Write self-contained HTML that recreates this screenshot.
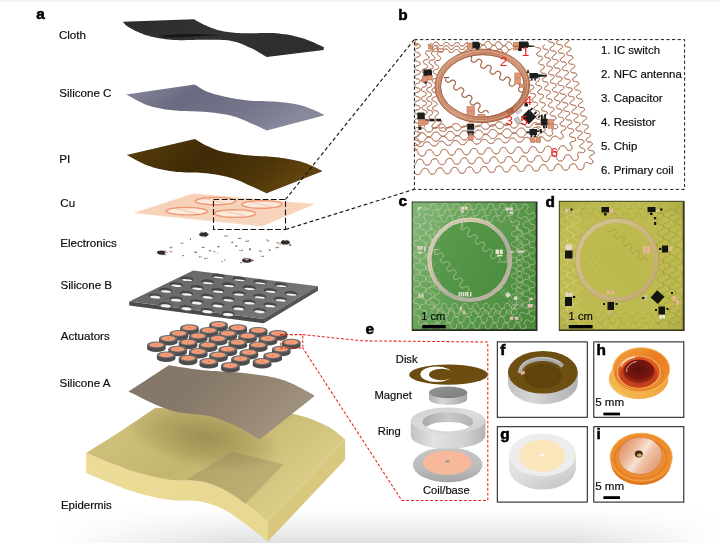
<!DOCTYPE html>
<html><head><meta charset="utf-8"><title>Figure</title>
<style>
html,body{margin:0;padding:0;background:#fff;}
body{width:719px;height:543px;overflow:hidden;font-family:"Liberation Sans",sans-serif;}
svg{display:block;will-change:transform;transform:translateZ(0);}
text{font-family:"Liberation Sans",sans-serif;}
.l{font-size:11.6px;fill:#0c0c0c;stroke:#0c0c0c;stroke-width:0.18px;}
.g{font-size:11.45px;}
.p{font-size:15.4px;font-weight:bold;fill:#000;stroke:#000;stroke-width:0.55px;}
.r{font-size:13.6px;fill:#f01818;}
</style></head><body>
<svg width="719" height="543" viewBox="0 0 719 543">
<defs>
<linearGradient id="gBot" x1="0" y1="0" x2="0" y2="1"><stop offset="0" stop-color="#fff"/><stop offset="0.4" stop-color="#f5f5f5"/><stop offset="1" stop-color="#e1e1e1"/></linearGradient>
<linearGradient id="gBotM" x1="0" y1="0" x2="1" y2="0"><stop offset="0" stop-color="#fff" stop-opacity="1"/><stop offset="0.08" stop-color="#fff" stop-opacity="1"/><stop offset="0.32" stop-color="#fff" stop-opacity="0"/><stop offset="0.8" stop-color="#fff" stop-opacity="0"/><stop offset="1" stop-color="#fff" stop-opacity="1"/></linearGradient>
<linearGradient id="gCloth" x1="0" y1="0" x2="1" y2="0.3"><stop offset="0" stop-color="#2b2b2b"/><stop offset="0.5" stop-color="#333"/><stop offset="1" stop-color="#2e2e2e"/></linearGradient>
<linearGradient id="gSiC" x1="0" y1="0" x2="1" y2="0.35"><stop offset="0" stop-color="#8b8b9f"/><stop offset="0.35" stop-color="#6a6a80"/><stop offset="0.7" stop-color="#74748a"/><stop offset="1" stop-color="#89899d"/></linearGradient>
<linearGradient id="gPI" x1="0" y1="0" x2="1" y2="0.35"><stop offset="0" stop-color="#5c400d"/><stop offset="0.45" stop-color="#3f2b06"/><stop offset="0.75" stop-color="#4a3309"/><stop offset="1" stop-color="#60430e"/></linearGradient>
<linearGradient id="gSiB" x1="0" y1="0" x2="1" y2="0.4"><stop offset="0" stop-color="#646464"/><stop offset="1" stop-color="#757575"/></linearGradient>
<linearGradient id="gSiA" x1="0" y1="0" x2="1" y2="0.4"><stop offset="0" stop-color="#83756a"/><stop offset="0.4" stop-color="#867869"/><stop offset="0.7" stop-color="#92846f"/><stop offset="1" stop-color="#a09280"/></linearGradient>
<linearGradient id="gEpT" x1="0" y1="0" x2="1" y2="0.5"><stop offset="0" stop-color="#d3c57f"/><stop offset="0.5" stop-color="#c4b56e"/><stop offset="1" stop-color="#dccf8a"/></linearGradient>
<linearGradient id="gEpS" x1="0" y1="0" x2="1" y2="0"><stop offset="0" stop-color="#ecdc98"/><stop offset="1" stop-color="#e8d78f"/></linearGradient>
<radialGradient id="gSh" cx="0.5" cy="0.5" r="0.5"><stop offset="0" stop-color="#857740" stop-opacity="0.6"/><stop offset="0.6" stop-color="#857740" stop-opacity="0.3"/><stop offset="1" stop-color="#857740" stop-opacity="0"/></radialGradient>
<linearGradient id="gRing" x1="0" y1="0" x2="1" y2="1"><stop offset="0" stop-color="#dba283"/><stop offset="0.28" stop-color="#bd7b5a"/><stop offset="0.55" stop-color="#d09474"/><stop offset="0.8" stop-color="#b57050"/><stop offset="1" stop-color="#c48262"/></linearGradient>
<linearGradient id="gC" x1="0" y1="0.25" x2="1" y2="0.75"><stop offset="0" stop-color="#7fb474"/><stop offset="0.3" stop-color="#66a459"/><stop offset="0.7" stop-color="#559548"/><stop offset="1" stop-color="#4a8a3d"/></linearGradient>
<linearGradient id="gRc" x1="0" y1="0" x2="1" y2="1"><stop offset="0" stop-color="#d6d2c4"/><stop offset="0.3" stop-color="#dccbb0"/><stop offset="0.6" stop-color="#b4b0a2"/><stop offset="1" stop-color="#c9b8a8"/></linearGradient>
<radialGradient id="gD" cx="0.5" cy="0.5" r="0.75"><stop offset="0" stop-color="#bbb84e"/><stop offset="0.7" stop-color="#bebb50"/><stop offset="1" stop-color="#a9a644"/></radialGradient>
<linearGradient id="gRd" x1="0" y1="0" x2="1" y2="1"><stop offset="0" stop-color="#d6c292"/><stop offset="0.5" stop-color="#ccb683"/><stop offset="1" stop-color="#c2a870"/></linearGradient>
<linearGradient id="gBase" x1="0" y1="0" x2="0" y2="1"><stop offset="0" stop-color="#c6c6c6"/><stop offset="0.6" stop-color="#bcbcbc"/><stop offset="1" stop-color="#a6a6a6"/></linearGradient>
<linearGradient id="gRingS" x1="0" y1="0" x2="1" y2="0"><stop offset="0" stop-color="#c2c2c2"/><stop offset="0.3" stop-color="#e2e2e2"/><stop offset="0.7" stop-color="#d2d2d2"/><stop offset="1" stop-color="#b4b4b4"/></linearGradient>
<linearGradient id="gRingT" x1="0" y1="0" x2="1" y2="1"><stop offset="0" stop-color="#d0d0d0"/><stop offset="0.5" stop-color="#dcdcdc"/><stop offset="1" stop-color="#cecece"/></linearGradient>
<linearGradient id="gRingI" x1="0" y1="0" x2="1" y2="0"><stop offset="0" stop-color="#a9a9a9"/><stop offset="0.5" stop-color="#c9c9c9"/><stop offset="1" stop-color="#b2b2b2"/></linearGradient>
<linearGradient id="gMagS" x1="0" y1="0" x2="1" y2="0"><stop offset="0" stop-color="#b0b0b0"/><stop offset="0.35" stop-color="#d6d6d6"/><stop offset="1" stop-color="#a6a6a6"/></linearGradient>
<linearGradient id="gMagT" x1="0" y1="0" x2="1" y2="1"><stop offset="0" stop-color="#949494"/><stop offset="1" stop-color="#7e7e7e"/></linearGradient>
<linearGradient id="gFs" x1="0" y1="0" x2="1" y2="0"><stop offset="0" stop-color="#c2c2c2"/><stop offset="0.35" stop-color="#d6d6d6"/><stop offset="1" stop-color="#b0b0b0"/></linearGradient>
<linearGradient id="gGs" x1="0" y1="0" x2="0.8" y2="1"><stop offset="0" stop-color="#e6e6e6"/><stop offset="0.5" stop-color="#dedede"/><stop offset="1" stop-color="#c4c4c4"/></linearGradient>
<linearGradient id="gHf" x1="0" y1="1" x2="1" y2="0"><stop offset="0" stop-color="#fae3a0"/><stop offset="0.22" stop-color="#f4b54e"/><stop offset="1" stop-color="#ee9632"/></linearGradient>
<linearGradient id="gHo" x1="0" y1="0" x2="1" y2="1"><stop offset="0" stop-color="#f2a040"/><stop offset="0.5" stop-color="#ea7d1e"/><stop offset="1" stop-color="#ef9632"/></linearGradient>
<radialGradient id="gHc" cx="0.5" cy="0.4" r="0.6"><stop offset="0" stop-color="#5a0f0c"/><stop offset="0.7" stop-color="#7c1710"/><stop offset="1" stop-color="#a52c18"/></radialGradient>
<linearGradient id="gI" x1="0" y1="0.2" x2="1" y2="0.8"><stop offset="0" stop-color="#dd8c5c"/><stop offset="0.3" stop-color="#ecb697"/><stop offset="0.5" stop-color="#f8e2d4"/><stop offset="0.62" stop-color="#efc3a8"/><stop offset="1" stop-color="#de9468"/></linearGradient>
</defs>
<rect x="0" y="0" width="719" height="1.6" fill="#f1f1f1"/>
<rect x="0" y="508" width="719" height="35" fill="url(#gBot)"/>
<rect x="0" y="508" width="719" height="35" fill="url(#gBotM)"/>
<path d="M122.8 21.8 L193.8 19.2 L193.8 19.2 L194.5 19.6 L195.4 20.1 L196.4 20.7 L197.6 21.3 L198.9 22.1 L200.2 22.8 L201.7 23.5 L203.1 24.3 L204.5 25 L206 25.6 L207.4 26.2 L208.8 26.8 L210.3 27.4 L211.8 28 L213.3 28.6 L214.9 29.1 L216.6 29.7 L218.3 30.2 L220.1 30.6 L222 31 L223.9 31.4 L225.9 31.7 L227.9 32 L230 32.3 L232.2 32.5 L234.4 32.7 L236.7 32.9 L239.2 33 L241.7 33.2 L244.4 33.3 L247.2 33.3 L250.2 33.3 L253.5 33.3 L256.8 33.2 L260.2 33.1 L263.6 33 L266.9 33 L270.2 33 L273.4 33.1 L276.3 33.3 L279.2 33.5 L281.9 33.9 L284.6 34.2 L287.2 34.6 L289.8 35.1 L292.3 35.6 L294.7 36.2 L297.2 36.8 L299.6 37.4 L301.9 38.1 L304.4 38.8 L306.9 39.7 L309.4 40.7 L312 41.8 L314.4 42.8 L316.7 43.9 L318.9 44.9 L320.8 45.7 L322.4 46.5 L323.7 47 L323.7 49.9 L266.7 56.9 L266.7 56.9 L265.8 56.4 L264.6 55.7 L263.2 54.9 L261.7 53.9 L260 52.9 L258.2 51.9 L256.3 50.8 L254.4 49.8 L252.6 48.8 L250.8 48 L249 47.2 L247.2 46.4 L245.4 45.6 L243.6 44.8 L241.8 44 L239.9 43.3 L237.9 42.6 L235.9 42 L233.8 41.4 L231.6 40.9 L229.3 40.6 L227 40.3 L224.6 40.1 L222.1 39.9 L219.6 39.8 L217 39.8 L214.3 39.8 L211.6 39.7 L208.8 39.7 L206 39.7 L203 39.7 L199.9 39.7 L196.6 39.8 L193.3 39.9 L190 40 L186.6 40.1 L183.3 40.2 L180.1 40.2 L176.9 40.1 L174 40 L171.1 39.8 L168.3 39.5 L165.6 39.2 L163 38.8 L160.4 38.4 L157.9 38 L155.4 37.5 L153 37 L150.7 36.4 L148.4 35.8 L146.2 35.2 L143.9 34.4 L141.8 33.6 L139.6 32.7 L137.6 31.8 L135.6 30.9 L133.8 29.9 L132.1 29.1 L130.6 28.3 L129.2 27.5 L128 26.8 L127 26.1 L126.1 25.4 L125.4 24.7 L124.8 24.1 L124.3 23.5 L123.8 23 L123.5 22.5 L123.1 22.1 L122.8 21.8Z" fill="url(#gCloth)"/>
<path d="M158 36.1 L174 34.4 L193.2 33.9 L221.6 34.9 L206 36.1 L186.8 37.1 L170.8 37.4Z" fill="#161616"/>
<path d="M126 94.4 L194.8 84.5 L194.8 84.5 L195.4 84.9 L196.2 85.4 L197.2 86 L198.2 86.7 L199.4 87.5 L200.6 88.3 L201.9 89.1 L203.2 89.8 L204.6 90.5 L206 91.2 L207.3 91.7 L208.7 92.3 L210.1 92.8 L211.6 93.2 L213.1 93.7 L214.6 94.2 L216.3 94.6 L218.1 95.1 L220 95.5 L222 96 L224.1 96.4 L226.4 96.9 L228.8 97.4 L231.4 97.9 L234 98.4 L236.6 98.9 L239.3 99.3 L242.1 99.8 L244.8 100.1 L247.6 100.4 L250.3 100.7 L253.2 100.9 L256.1 101 L259 101.1 L262 101.1 L264.9 101.2 L267.8 101.3 L270.7 101.4 L273.6 101.5 L276.3 101.7 L279.1 102 L281.7 102.2 L284.4 102.5 L287 102.8 L289.6 103.2 L292.1 103.5 L294.6 104 L297.1 104.4 L299.5 105 L301.9 105.6 L304.4 106.3 L306.9 107.2 L309.4 108.2 L312 109.2 L314.4 110.3 L316.7 111.3 L318.9 112.3 L320.8 113.2 L322.4 114 L323.7 114.5 L323.7 115.5 L266.7 130.5 L266.7 130.5 L265.8 130.1 L264.6 129.5 L263.2 128.9 L261.7 128.1 L260 127.3 L258.2 126.5 L256.3 125.6 L254.4 124.7 L252.6 123.9 L250.8 123.2 L249 122.4 L247.2 121.6 L245.4 120.8 L243.6 120 L241.8 119.3 L239.9 118.5 L237.9 117.8 L235.9 117 L233.8 116.4 L231.6 115.8 L229.3 115.3 L227 114.8 L224.6 114.3 L222.1 113.9 L219.6 113.5 L217 113.2 L214.3 112.8 L211.6 112.5 L208.8 112.2 L206 112 L203 111.7 L199.9 111.6 L196.6 111.4 L193.3 111.3 L190 111.2 L186.6 111.1 L183.3 111 L180.1 110.9 L176.9 110.6 L174 110.4 L171.1 110 L168.4 109.7 L165.7 109.4 L163.1 109 L160.6 108.6 L158.1 108.1 L155.6 107.6 L153.2 107 L150.8 106.3 L148.4 105.6 L145.9 104.7 L143.3 103.6 L140.7 102.3 L138.1 101 L135.6 99.7 L133.2 98.3 L131 97.1 L129 96 L127.3 95.1 L126 94.4Z" fill="url(#gSiC)"/>
<path d="M126.6 155 L194.8 139 L194.8 139 L195.4 139.3 L196.2 139.8 L197.2 140.4 L198.2 141.1 L199.4 141.8 L200.6 142.5 L201.9 143.3 L203.2 144 L204.6 144.7 L206 145.4 L207.3 146 L208.7 146.6 L210.1 147.3 L211.6 147.9 L213.1 148.6 L214.6 149.2 L216.3 149.8 L218.1 150.4 L220 150.9 L222 151.4 L224.1 151.9 L226.4 152.4 L228.8 152.8 L231.4 153.2 L234 153.6 L236.6 154 L239.3 154.3 L242.1 154.7 L244.8 155 L247.6 155.3 L250.3 155.5 L253.2 155.7 L256.1 155.9 L259 156 L262 156.2 L264.9 156.3 L267.8 156.5 L270.7 156.7 L273.6 156.9 L276.3 157.2 L279.1 157.5 L281.8 157.9 L284.4 158.3 L287.1 158.7 L289.7 159.2 L292.3 159.7 L294.8 160.2 L297.2 160.7 L299.6 161.3 L301.9 162 L304.2 162.7 L306.6 163.6 L308.9 164.6 L311.2 165.6 L313.5 166.6 L315.5 167.6 L317.5 168.5 L319.2 169.4 L320.6 170.1 L321.8 170.6 L321.8 171.6 L266.7 193.3 L266.7 193.3 L265.8 192.9 L264.6 192.3 L263.2 191.7 L261.7 191 L260 190.2 L258.2 189.3 L256.3 188.5 L254.4 187.6 L252.6 186.8 L250.8 186 L249 185.2 L247.2 184.4 L245.4 183.5 L243.6 182.7 L241.8 181.8 L239.9 181 L237.9 180.2 L235.9 179.4 L233.8 178.7 L231.6 178 L229.3 177.4 L227 176.8 L224.6 176.2 L222.1 175.7 L219.6 175.2 L217 174.7 L214.3 174.3 L211.6 173.9 L208.8 173.5 L206 173.2 L203 172.9 L199.9 172.7 L196.6 172.6 L193.3 172.5 L190 172.4 L186.6 172.4 L183.3 172.3 L180.1 172.1 L176.9 171.9 L174 171.6 L171.1 171.2 L168.4 170.8 L165.7 170.3 L163.1 169.8 L160.5 169.3 L158 168.7 L155.6 168.1 L153.2 167.4 L150.8 166.6 L148.4 165.8 L146 164.9 L143.4 163.8 L140.9 162.6 L138.4 161.3 L135.9 160 L133.6 158.8 L131.4 157.6 L129.5 156.5 L127.9 155.6 L126.6 155Z" fill="url(#gPI)"/>
<path d="M133 213 L192.5 193.6 L315.6 204 L262 226.5Z" fill="#fdf0e4"/>
<path d="M135 213.2L194.4 193.8M137 213.4L196.3 193.9M139 213.6L198.3 194.1M141.1 213.8L200.2 194.2M143.1 214.1L202.1 194.4M145.1 214.3L204 194.6M147.1 214.5L206 194.7M149.1 214.7L207.9 194.9M151.1 214.9L209.8 195.1M153.2 215.1L211.7 195.2M155.2 215.3L213.7 195.4M157.2 215.5L215.6 195.5M159.2 215.7L217.5 195.7M161.2 216L219.4 195.9M163.2 216.2L221.4 196M165.2 216.4L223.3 196.2M167.3 216.6L225.2 196.4M169.3 216.8L227.1 196.5M171.3 217L229 196.7M173.3 217.2L231 196.8M175.3 217.4L232.9 197M177.3 217.6L234.8 197.2M179.4 217.9L236.7 197.3M181.4 218.1L238.7 197.5M183.4 218.3L240.6 197.7M185.4 218.5L242.5 197.8M187.4 218.7L244.4 198M189.4 218.9L246.4 198.1M191.5 219.1L248.3 198.3M193.5 219.3L250.2 198.5M195.5 219.5L252.1 198.6M197.5 219.8L254.1 198.8M199.5 220L256 199M201.5 220.2L257.9 199.1M203.5 220.4L259.8 199.3M205.6 220.6L261.7 199.4M207.6 220.8L263.7 199.6M209.6 221L265.6 199.8M211.6 221.2L267.5 199.9M213.6 221.4L269.4 200.1M215.6 221.6L271.4 200.3M217.7 221.9L273.3 200.4M219.7 222.1L275.2 200.6M221.7 222.3L277.1 200.8M223.7 222.5L279.1 200.9M225.7 222.7L281 201.1M227.7 222.9L282.9 201.2M229.8 223.1L284.8 201.4M231.8 223.3L286.7 201.6M233.8 223.5L288.7 201.7M235.8 223.8L290.6 201.9M237.8 224L292.5 202.1M239.8 224.2L294.4 202.2M241.8 224.4L296.4 202.4M243.9 224.6L298.3 202.5M245.9 224.8L300.2 202.7M247.9 225L302.1 202.9M249.9 225.2L304.1 203M251.9 225.4L306 203.2M253.9 225.7L307.9 203.3M256 225.9L309.8 203.5M258 226.1L311.8 203.7M260 226.3L313.7 203.8" stroke="#f2b48e" stroke-width="0.7" fill="none" opacity="0.62"/>
<path d="M138 211.4L266.5 224.6M142.9 209.8L270.9 222.8M147.9 208.2L275.4 220.9M152.8 206.5L279.9 219M157.8 204.9L284.3 217.1M162.8 203.3L288.8 215.2M167.7 201.7L293.3 213.4M172.7 200.1L297.7 211.5M177.6 198.4L302.2 209.6M182.6 196.8L306.7 207.8M187.5 195.2L311.1 205.9" stroke="#f4c3a4" stroke-width="0.5" fill="none" opacity="0.7"/>
<path d="M205.3 213 L206.5 212.4 L207.3 211.8 L207.5 211.3 L207.2 210.7 L206.4 210.1 L205.1 209.5 L203.4 209 L201.3 208.6 L198.9 208.2 L196.1 207.9 L193.1 207.6 L190 207.5 L186.8 207.4 L183.6 207.5 L180.4 207.6 L177.4 207.8 L174.7 208.1 L172.2 208.4 L170.1 208.8 L168.4 209.3 L167.2 209.8 L166.4 210.4 L166.2 210.9 L166.4 211.5 L167.2 212.1 L168.5 212.6 L170.2 213.2 L172.3 213.6 L174.8 214 L177.6 214.4 L180.7 214.6 L183.8 214.8 L187.1 214.9 L190.3 214.9 L193.5 214.8 L196.4 214.6 L199.2 214.3 L201.6 213.9 L203.7 213.5 L205.3 213Z" fill="#fef6ee" fill-opacity="0.65" stroke="#ee9674" stroke-width="1.4"/>
<path d="M177.1 208.9L196.8 213.4" stroke="#f2b08e" stroke-width="0.8" opacity="0.8"/>
<path d="M233.5 202.7 L234.7 202.1 L235.5 201.6 L235.7 201 L235.4 200.4 L234.7 199.9 L233.5 199.4 L231.9 198.9 L229.8 198.5 L227.4 198.1 L224.7 197.8 L221.8 197.6 L218.7 197.5 L215.6 197.5 L212.4 197.5 L209.3 197.7 L206.4 197.9 L203.7 198.2 L201.2 198.6 L199.1 199 L197.4 199.5 L196.2 200 L195.4 200.5 L195.2 201.1 L195.4 201.7 L196.1 202.2 L197.3 202.7 L199 203.2 L201.1 203.7 L203.5 204 L206.2 204.3 L209.2 204.6 L212.3 204.7 L215.5 204.7 L218.7 204.7 L221.8 204.6 L224.7 204.3 L227.4 204 L229.8 203.6 L231.9 203.2 L233.5 202.7Z" fill="#fef6ee" fill-opacity="0.65" stroke="#ee9674" stroke-width="1.4"/>
<path d="M206 199L225.1 203.2" stroke="#f2b08e" stroke-width="0.8" opacity="0.8"/>
<path d="M253.6 215.3 L254.7 214.7 L255.4 214.1 L255.6 213.5 L255.2 212.9 L254.4 212.3 L253.2 211.8 L251.4 211.2 L249.3 210.8 L246.9 210.4 L244.1 210.1 L241.1 209.9 L238 209.7 L234.9 209.7 L231.7 209.7 L228.6 209.9 L225.6 210.1 L222.9 210.4 L220.5 210.8 L218.4 211.2 L216.8 211.7 L215.6 212.3 L214.9 212.8 L214.7 213.4 L215 214 L215.8 214.6 L217.1 215.2 L218.8 215.7 L221 216.2 L223.5 216.6 L226.3 216.9 L229.3 217.2 L232.4 217.3 L235.6 217.4 L238.8 217.3 L241.9 217.2 L244.9 217 L247.6 216.7 L250 216.3 L252 215.8 L253.6 215.3Z" fill="#fef6ee" fill-opacity="0.65" stroke="#ee9674" stroke-width="1.4"/>
<path d="M225.3 211.2L245.1 215.8" stroke="#f2b08e" stroke-width="0.8" opacity="0.8"/>
<path d="M280 206 L281.1 205.5 L281.8 204.9 L282 204.3 L281.7 203.7 L280.9 203.1 L279.7 202.6 L278 202.1 L275.9 201.6 L273.5 201.3 L270.8 201 L267.9 200.8 L264.9 200.7 L261.8 200.7 L258.6 200.8 L255.6 200.9 L252.7 201.2 L250 201.5 L247.6 201.9 L245.6 202.3 L243.9 202.8 L242.7 203.4 L242 204 L241.8 204.5 L242.1 205.1 L242.8 205.7 L244.1 206.2 L245.8 206.7 L247.9 207.2 L250.3 207.6 L253 207.9 L256 208.1 L259.1 208.2 L262.2 208.2 L265.4 208.2 L268.4 208 L271.3 207.8 L274 207.4 L276.4 207 L278.4 206.5 L280 206Z" fill="#fef6ee" fill-opacity="0.65" stroke="#ee9674" stroke-width="1.4"/>
<path d="M252.3 202.3L271.6 206.6" stroke="#f2b08e" stroke-width="0.8" opacity="0.8"/>
<rect x="213.5" y="199.5" width="72" height="30" fill="none" stroke="#111" stroke-width="1.1" stroke-dasharray="5.8 2.4"/>
<path d="M285.5 199.5L414 39.8M285.5 229.5L414 189.4" stroke="#111" stroke-width="1.1" stroke-dasharray="3.8 2.5" fill="none"/>
<ellipse cx="203.7" cy="234.6" rx="4.5" ry="2" fill="#2e2e2e"/>
<rect x="199.8" y="234.4" width="1.4" height="0.9" fill="#3a3a3a" opacity="0.85"/>
<rect x="204.6" y="232" width="1" height="1" fill="#3a3a3a" opacity="0.85"/>
<rect x="200.1" y="232.9" width="2.2" height="0.8" fill="#3a3a3a" opacity="0.85"/>
<rect x="207.2" y="234.1" width="1.8" height="0.7" fill="#3a3a3a" opacity="0.85"/>
<rect x="204.7" y="236.1" width="1.6" height="1" fill="#3a3a3a" opacity="0.85"/>
<rect x="205.1" y="232" width="1.9" height="0.9" fill="#3a3a3a" opacity="0.85"/>
<rect x="200.6" y="231.8" width="2" height="0.8" fill="#3a3a3a" opacity="0.85"/>
<ellipse cx="161.2" cy="252.5" rx="4.2" ry="1.9" fill="#2e2e2e"/>
<rect x="163" y="253.9" width="1.9" height="1.1" fill="#3a3a3a" opacity="0.85"/>
<rect x="159.3" y="253.5" width="1.5" height="1.1" fill="#3a3a3a" opacity="0.85"/>
<rect x="164.8" y="250.2" width="1.2" height="0.7" fill="#3a3a3a" opacity="0.85"/>
<rect x="165.8" y="251.8" width="1.8" height="0.8" fill="#3a3a3a" opacity="0.85"/>
<rect x="160.6" y="251.6" width="1.4" height="0.9" fill="#3a3a3a" opacity="0.85"/>
<rect x="161.4" y="254" width="1.8" height="1.1" fill="#3a3a3a" opacity="0.85"/>
<rect x="164.6" y="254.4" width="1.8" height="0.7" fill="#3a3a3a" opacity="0.85"/>
<ellipse cx="285.3" cy="242.6" rx="4.5" ry="2" fill="#2e2e2e"/>
<rect x="289" y="244.5" width="2.1" height="0.9" fill="#3a3a3a" opacity="0.85"/>
<rect x="287.2" y="240.7" width="2" height="0.9" fill="#3a3a3a" opacity="0.85"/>
<rect x="282" y="240" width="2" height="1.1" fill="#3a3a3a" opacity="0.85"/>
<rect x="279.5" y="243.7" width="1.5" height="0.7" fill="#3a3a3a" opacity="0.85"/>
<rect x="282.1" y="243.6" width="2" height="0.6" fill="#3a3a3a" opacity="0.85"/>
<rect x="286" y="239.9" width="1.9" height="0.8" fill="#3a3a3a" opacity="0.85"/>
<rect x="289.3" y="244.6" width="1.6" height="1.1" fill="#3a3a3a" opacity="0.85"/>
<ellipse cx="246.9" cy="260.5" rx="4.8" ry="2.2" fill="#2e2e2e"/>
<rect x="243.7" y="257.8" width="1.7" height="0.6" fill="#3a3a3a" opacity="0.85"/>
<rect x="242.2" y="259.6" width="1.7" height="0.7" fill="#3a3a3a" opacity="0.85"/>
<rect x="240.2" y="262.1" width="1.4" height="1.1" fill="#3a3a3a" opacity="0.85"/>
<rect x="251.5" y="259.5" width="1.6" height="0.9" fill="#3a3a3a" opacity="0.85"/>
<rect x="248.1" y="260.6" width="1.7" height="0.9" fill="#3a3a3a" opacity="0.85"/>
<rect x="252" y="260.2" width="1.5" height="1" fill="#3a3a3a" opacity="0.85"/>
<rect x="242.8" y="259" width="2.2" height="0.9" fill="#3a3a3a" opacity="0.85"/>
<rect x="181.6" y="242.5" width="1.2" height="0.7" fill="#333" opacity="0.8"/>
<rect x="179.9" y="243.4" width="1.4" height="0.5" fill="#333" opacity="0.8"/>
<rect x="181.9" y="243.2" width="1.4" height="0.6" fill="#333" opacity="0.8"/>
<rect x="190.1" y="238.8" width="0.9" height="0.5" fill="#333" opacity="0.8"/>
<rect x="190" y="239.2" width="1.1" height="0.7" fill="#333" opacity="0.8"/>
<rect x="189.8" y="238.2" width="1.2" height="0.6" fill="#333" opacity="0.8"/>
<rect x="169.9" y="247.6" width="1.1" height="0.7" fill="#333" opacity="0.8"/>
<rect x="171.2" y="246.7" width="1.4" height="0.8" fill="#333" opacity="0.8"/>
<rect x="169.7" y="247" width="1.5" height="0.6" fill="#333" opacity="0.8"/>
<rect x="224.3" y="235.8" width="1.5" height="0.5" fill="#333" opacity="0.8"/>
<rect x="224.7" y="235.6" width="1.6" height="0.7" fill="#333" opacity="0.8"/>
<rect x="226.4" y="235.4" width="1.2" height="0.8" fill="#333" opacity="0.8"/>
<rect x="240.5" y="238.4" width="1.1" height="0.5" fill="#333" opacity="0.8"/>
<rect x="239.2" y="237.9" width="1.5" height="0.8" fill="#333" opacity="0.8"/>
<rect x="237.8" y="238" width="1.5" height="0.8" fill="#333" opacity="0.8"/>
<rect x="232" y="242.1" width="1" height="0.6" fill="#333" opacity="0.8"/>
<rect x="232" y="241.9" width="1.2" height="0.7" fill="#333" opacity="0.8"/>
<rect x="230.8" y="242.2" width="1.6" height="0.6" fill="#333" opacity="0.8"/>
<rect x="245.5" y="240.8" width="1.6" height="0.9" fill="#333" opacity="0.8"/>
<rect x="246.8" y="240.8" width="1.6" height="0.6" fill="#333" opacity="0.8"/>
<rect x="247.8" y="240.6" width="1.4" height="0.7" fill="#333" opacity="0.8"/>
<rect x="265.6" y="239.8" width="1.1" height="0.5" fill="#333" opacity="0.8"/>
<rect x="266.5" y="239.7" width="1.5" height="0.5" fill="#333" opacity="0.8"/>
<rect x="267.5" y="240.4" width="1.6" height="0.9" fill="#333" opacity="0.8"/>
<rect x="261.1" y="250.7" width="0.9" height="0.8" fill="#333" opacity="0.8"/>
<rect x="258.8" y="250.3" width="1.4" height="0.7" fill="#333" opacity="0.8"/>
<rect x="259.6" y="251.3" width="1.4" height="0.6" fill="#333" opacity="0.8"/>
<rect x="249.3" y="249.4" width="1.3" height="0.8" fill="#333" opacity="0.8"/>
<rect x="249.7" y="248.1" width="1.3" height="0.8" fill="#333" opacity="0.8"/>
<rect x="249" y="249.3" width="1.6" height="0.8" fill="#333" opacity="0.8"/>
<rect x="241.7" y="249.8" width="1.4" height="0.8" fill="#333" opacity="0.8"/>
<rect x="239.2" y="250.3" width="1.1" height="0.7" fill="#333" opacity="0.8"/>
<rect x="240.4" y="250.6" width="1.5" height="0.5" fill="#333" opacity="0.8"/>
<rect x="213.1" y="251.1" width="1" height="0.5" fill="#333" opacity="0.8"/>
<rect x="217.2" y="252.7" width="1" height="0.7" fill="#333" opacity="0.8"/>
<rect x="214.2" y="251.5" width="1.2" height="0.8" fill="#333" opacity="0.8"/>
<rect x="210.5" y="250.4" width="1.1" height="0.6" fill="#333" opacity="0.8"/>
<rect x="209.1" y="250.7" width="1.5" height="0.7" fill="#333" opacity="0.8"/>
<rect x="208.9" y="250.1" width="1.2" height="0.7" fill="#333" opacity="0.8"/>
<rect x="203.2" y="246.9" width="1.5" height="0.7" fill="#333" opacity="0.8"/>
<rect x="202.1" y="246.9" width="1.3" height="0.8" fill="#333" opacity="0.8"/>
<rect x="202" y="247.4" width="1.3" height="0.6" fill="#333" opacity="0.8"/>
<rect x="199.2" y="256.4" width="1" height="0.7" fill="#333" opacity="0.8"/>
<rect x="198.8" y="256.8" width="1.6" height="0.6" fill="#333" opacity="0.8"/>
<rect x="200.6" y="256.6" width="1.1" height="0.7" fill="#333" opacity="0.8"/>
<rect x="204.3" y="258.2" width="1.4" height="0.9" fill="#333" opacity="0.8"/>
<rect x="206.4" y="257.9" width="1.5" height="0.7" fill="#333" opacity="0.8"/>
<rect x="204.2" y="257.8" width="0.9" height="0.6" fill="#333" opacity="0.8"/>
<rect x="224.1" y="259.3" width="1" height="0.5" fill="#333" opacity="0.8"/>
<rect x="224.5" y="259.6" width="0.9" height="0.8" fill="#333" opacity="0.8"/>
<rect x="221.6" y="260.9" width="1.4" height="0.8" fill="#333" opacity="0.8"/>
<rect x="182.6" y="255.2" width="1.5" height="0.5" fill="#333" opacity="0.8"/>
<rect x="182.2" y="255.1" width="1.5" height="0.5" fill="#333" opacity="0.8"/>
<rect x="182.1" y="255.7" width="0.9" height="0.6" fill="#333" opacity="0.8"/>
<rect x="269.6" y="250.1" width="1.1" height="0.6" fill="#333" opacity="0.8"/>
<rect x="268.8" y="249.8" width="1.5" height="0.7" fill="#333" opacity="0.8"/>
<rect x="269.1" y="249.5" width="1.2" height="0.7" fill="#333" opacity="0.8"/>
<rect x="275.2" y="247.4" width="1.7" height="0.7" fill="#333" opacity="0.8"/>
<rect x="277.3" y="246.9" width="1.5" height="0.8" fill="#333" opacity="0.8"/>
<rect x="277" y="247.4" width="1.3" height="0.8" fill="#333" opacity="0.8"/>
<rect x="262.5" y="255.6" width="1" height="0.8" fill="#333" opacity="0.8"/>
<rect x="262.5" y="256.1" width="1.3" height="0.8" fill="#333" opacity="0.8"/>
<rect x="260.6" y="255.8" width="1.1" height="0.7" fill="#333" opacity="0.8"/>
<rect x="217.8" y="246.1" width="1.5" height="0.9" fill="#333" opacity="0.8"/>
<rect x="217.7" y="246.7" width="1.2" height="0.8" fill="#333" opacity="0.8"/>
<rect x="218.5" y="246.2" width="1.1" height="0.5" fill="#333" opacity="0.8"/>
<rect x="235.8" y="245.4" width="1" height="0.6" fill="#333" opacity="0.8"/>
<rect x="235.4" y="245.9" width="1" height="0.9" fill="#333" opacity="0.8"/>
<rect x="235.8" y="245.6" width="1.3" height="0.8" fill="#333" opacity="0.8"/>
<rect x="195.1" y="252" width="1.3" height="0.8" fill="#333" opacity="0.8"/>
<rect x="195.2" y="251.8" width="1.5" height="0.9" fill="#333" opacity="0.8"/>
<rect x="194.2" y="251.6" width="1.1" height="0.8" fill="#333" opacity="0.8"/>
<ellipse cx="170.8" cy="251.6" rx="2" ry="0.8" fill="#e9a27e"/>
<ellipse cx="277.9" cy="242.9" rx="2" ry="0.8" fill="#e9a27e"/>
<ellipse cx="246.9" cy="259.6" rx="2" ry="0.8" fill="#e9a27e"/>
<path d="M129.2 301.4 L263.5 319 L317.9 286.3 L317.9 290.5 L263.5 323.2 L129.2 305.6Z" fill="#4a4a4a"/>
<path d="M263.5 319 L317.9 286.3 L317.9 290.5 L263.5 323.2Z" fill="#555"/>
<path d="M129.2 301.4 L193.2 270.4 L317.9 286.3 L263.5 319Z" fill="url(#gSiB)"/>
<ellipse cx="218.2" cy="276.1" rx="6.6" ry="2.45" fill="#484848" transform="rotate(5 218.2 276.5)"/>
<ellipse cx="218.5" cy="277.4" rx="5.2" ry="0.8" fill="#f2f2f2" transform="rotate(5 218.2 276.5)"/>
<ellipse cx="239.1" cy="279" rx="6.6" ry="2.45" fill="#484848" transform="rotate(5 239.1 279.4)"/>
<ellipse cx="239.4" cy="280.3" rx="5.2" ry="0.8" fill="#f2f2f2" transform="rotate(5 239.1 279.4)"/>
<ellipse cx="259.9" cy="281.9" rx="6.6" ry="2.45" fill="#484848" transform="rotate(5 259.9 282.3)"/>
<ellipse cx="260.2" cy="283.2" rx="5.2" ry="0.8" fill="#f2f2f2" transform="rotate(5 259.9 282.3)"/>
<ellipse cx="280.8" cy="284.9" rx="6.6" ry="2.45" fill="#484848" transform="rotate(5 280.8 285.3)"/>
<ellipse cx="281.1" cy="286.1" rx="5.2" ry="0.8" fill="#f2f2f2" transform="rotate(5 280.8 285.3)"/>
<ellipse cx="186.8" cy="278.9" rx="6.6" ry="2.45" fill="#484848" transform="rotate(5 186.8 279.3)"/>
<ellipse cx="187.1" cy="280.1" rx="5.2" ry="1" fill="#f2f2f2" transform="rotate(5 186.8 279.3)"/>
<ellipse cx="207.6" cy="281.8" rx="6.6" ry="2.45" fill="#484848" transform="rotate(5 207.6 282.2)"/>
<ellipse cx="207.9" cy="283.1" rx="5.2" ry="1" fill="#f2f2f2" transform="rotate(5 207.6 282.2)"/>
<ellipse cx="228.5" cy="284.7" rx="6.6" ry="2.45" fill="#484848" transform="rotate(5 228.5 285.1)"/>
<ellipse cx="228.8" cy="286" rx="5.2" ry="1" fill="#f2f2f2" transform="rotate(5 228.5 285.1)"/>
<ellipse cx="249.3" cy="287.6" rx="6.6" ry="2.45" fill="#484848" transform="rotate(5 249.3 288)"/>
<ellipse cx="249.6" cy="288.9" rx="5.2" ry="1" fill="#f2f2f2" transform="rotate(5 249.3 288)"/>
<ellipse cx="270.2" cy="290.6" rx="6.6" ry="2.45" fill="#484848" transform="rotate(5 270.2 291)"/>
<ellipse cx="270.5" cy="291.8" rx="5.2" ry="1" fill="#f2f2f2" transform="rotate(5 270.2 291)"/>
<ellipse cx="291.1" cy="293.5" rx="6.6" ry="2.45" fill="#484848" transform="rotate(5 291.1 293.9)"/>
<ellipse cx="291.4" cy="294.7" rx="5.2" ry="1" fill="#f2f2f2" transform="rotate(5 291.1 293.9)"/>
<ellipse cx="176.2" cy="284.6" rx="6.6" ry="2.45" fill="#484848" transform="rotate(5 176.2 285)"/>
<ellipse cx="176.5" cy="285.8" rx="5.2" ry="1.1" fill="#f2f2f2" transform="rotate(5 176.2 285)"/>
<ellipse cx="197.1" cy="287.5" rx="6.6" ry="2.45" fill="#484848" transform="rotate(5 197.1 287.9)"/>
<ellipse cx="197.4" cy="288.8" rx="5.2" ry="1.1" fill="#f2f2f2" transform="rotate(5 197.1 287.9)"/>
<ellipse cx="217.9" cy="290.4" rx="6.6" ry="2.45" fill="#484848" transform="rotate(5 217.9 290.8)"/>
<ellipse cx="218.2" cy="291.7" rx="5.2" ry="1.1" fill="#f2f2f2" transform="rotate(5 217.9 290.8)"/>
<ellipse cx="238.8" cy="293.3" rx="6.6" ry="2.45" fill="#484848" transform="rotate(5 238.8 293.7)"/>
<ellipse cx="239.1" cy="294.6" rx="5.2" ry="1.1" fill="#f2f2f2" transform="rotate(5 238.8 293.7)"/>
<ellipse cx="259.6" cy="296.3" rx="6.6" ry="2.45" fill="#484848" transform="rotate(5 259.6 296.7)"/>
<ellipse cx="259.9" cy="297.5" rx="5.2" ry="1.1" fill="#f2f2f2" transform="rotate(5 259.6 296.7)"/>
<ellipse cx="280.5" cy="299.2" rx="6.6" ry="2.45" fill="#484848" transform="rotate(5 280.5 299.6)"/>
<ellipse cx="280.8" cy="300.4" rx="5.2" ry="1.1" fill="#f2f2f2" transform="rotate(5 280.5 299.6)"/>
<ellipse cx="165.6" cy="290.3" rx="6.6" ry="2.45" fill="#484848" transform="rotate(5 165.6 290.7)"/>
<ellipse cx="165.9" cy="291.5" rx="5.2" ry="1.2" fill="#f2f2f2" transform="rotate(5 165.6 290.7)"/>
<ellipse cx="186.5" cy="293.2" rx="6.6" ry="2.45" fill="#484848" transform="rotate(5 186.5 293.6)"/>
<ellipse cx="186.8" cy="294.5" rx="5.2" ry="1.2" fill="#f2f2f2" transform="rotate(5 186.5 293.6)"/>
<ellipse cx="207.3" cy="296.1" rx="6.6" ry="2.45" fill="#484848" transform="rotate(5 207.3 296.5)"/>
<ellipse cx="207.7" cy="297.4" rx="5.2" ry="1.2" fill="#f2f2f2" transform="rotate(5 207.3 296.5)"/>
<ellipse cx="228.2" cy="299" rx="6.6" ry="2.45" fill="#484848" transform="rotate(5 228.2 299.4)"/>
<ellipse cx="228.5" cy="300.3" rx="5.2" ry="1.2" fill="#f2f2f2" transform="rotate(5 228.2 299.4)"/>
<ellipse cx="249.1" cy="302" rx="6.6" ry="2.45" fill="#484848" transform="rotate(5 249.1 302.4)"/>
<ellipse cx="249.4" cy="303.2" rx="5.2" ry="1.2" fill="#f2f2f2" transform="rotate(5 249.1 302.4)"/>
<ellipse cx="269.9" cy="304.9" rx="6.6" ry="2.45" fill="#484848" transform="rotate(5 269.9 305.3)"/>
<ellipse cx="270.2" cy="306.1" rx="5.2" ry="1.2" fill="#f2f2f2" transform="rotate(5 269.9 305.3)"/>
<ellipse cx="155.1" cy="296" rx="6.6" ry="2.45" fill="#484848" transform="rotate(5 155.1 296.4)"/>
<ellipse cx="155.4" cy="297.2" rx="5.2" ry="1.4" fill="#f2f2f2" transform="rotate(5 155.1 296.4)"/>
<ellipse cx="175.9" cy="298.9" rx="6.6" ry="2.45" fill="#484848" transform="rotate(5 175.9 299.3)"/>
<ellipse cx="176.2" cy="300.2" rx="5.2" ry="1.4" fill="#f2f2f2" transform="rotate(5 175.9 299.3)"/>
<ellipse cx="196.8" cy="301.8" rx="6.6" ry="2.45" fill="#484848" transform="rotate(5 196.8 302.2)"/>
<ellipse cx="197.1" cy="303.1" rx="5.2" ry="1.4" fill="#f2f2f2" transform="rotate(5 196.8 302.2)"/>
<ellipse cx="217.6" cy="304.7" rx="6.6" ry="2.45" fill="#484848" transform="rotate(5 217.6 305.1)"/>
<ellipse cx="217.9" cy="306" rx="5.2" ry="1.4" fill="#f2f2f2" transform="rotate(5 217.6 305.1)"/>
<ellipse cx="238.5" cy="307.7" rx="6.6" ry="2.45" fill="#484848" transform="rotate(5 238.5 308.1)"/>
<ellipse cx="238.8" cy="308.9" rx="5.2" ry="1.4" fill="#f2f2f2" transform="rotate(5 238.5 308.1)"/>
<ellipse cx="259.4" cy="310.6" rx="6.6" ry="2.45" fill="#484848" transform="rotate(5 259.4 311)"/>
<ellipse cx="259.7" cy="311.8" rx="5.2" ry="1.4" fill="#f2f2f2" transform="rotate(5 259.4 311)"/>
<ellipse cx="165.3" cy="304.6" rx="6.6" ry="2.45" fill="#484848" transform="rotate(5 165.3 305)"/>
<ellipse cx="165.7" cy="305.9" rx="5.2" ry="1.6" fill="#f2f2f2" transform="rotate(5 165.3 305)"/>
<ellipse cx="186.2" cy="307.5" rx="6.6" ry="2.45" fill="#484848" transform="rotate(5 186.2 307.9)"/>
<ellipse cx="186.5" cy="308.8" rx="5.2" ry="1.6" fill="#f2f2f2" transform="rotate(5 186.2 307.9)"/>
<ellipse cx="207.1" cy="310.4" rx="6.6" ry="2.45" fill="#484848" transform="rotate(5 207.1 310.8)"/>
<ellipse cx="207.4" cy="311.7" rx="5.2" ry="1.6" fill="#f2f2f2" transform="rotate(5 207.1 310.8)"/>
<ellipse cx="227.9" cy="313.4" rx="6.6" ry="2.45" fill="#484848" transform="rotate(5 227.9 313.8)"/>
<ellipse cx="228.2" cy="314.6" rx="5.2" ry="1.6" fill="#f2f2f2" transform="rotate(5 227.9 313.8)"/>
<path d="M267.7 521.4 L266.5 520.5 L265 519.2 L263.2 517.8 L261.2 516.1 L259.1 514.4 L256.8 512.5 L254.5 510.7 L252.1 508.8 L249.8 507 L247.5 505.3 L245.2 503.7 L242.9 501.9 L240.5 500.2 L238.1 498.5 L235.6 496.7 L233.2 495 L230.7 493.4 L228.2 491.9 L225.7 490.5 L223.3 489.2 L220.9 488 L218.5 486.9 L216.2 485.9 L213.8 485 L211.4 484.2 L209.1 483.4 L206.6 482.8 L204.2 482.1 L201.7 481.6 L199.1 481.1 L196.4 480.7 L193.8 480.5 L191 480.4 L188.3 480.4 L185.5 480.4 L182.6 480.5 L179.7 480.5 L176.8 480.4 L173.9 480.2 L170.8 479.9 L167.8 479.4 L164.6 478.9 L161.3 478.4 L158 477.7 L154.7 477 L151.4 476.3 L148.1 475.5 L144.8 474.7 L141.7 473.9 L138.6 473 L135.6 472.2 L132.6 471.2 L129.7 470.2 L126.8 469.2 L124 468.2 L121.1 467.1 L118.4 466.1 L115.7 465 L113 464 L110.3 462.9 L107.6 461.9 L104.9 460.8 L102 459.6 L99.2 458.4 L96.5 457.3 L93.9 456.2 L91.5 455.1 L89.4 454.2 L87.6 453.5 L86.1 452.9 L86.1 473 L87.6 473.6 L89.4 474.4 L91.5 475.3 L93.9 476.3 L96.5 477.4 L99.2 478.6 L102 479.8 L104.9 480.9 L107.6 482.1 L110.3 483.1 L113 484.1 L115.7 485.2 L118.4 486.2 L121.1 487.3 L124 488.4 L126.8 489.4 L129.7 490.4 L132.6 491.4 L135.6 492.3 L138.6 493.2 L141.7 494 L144.8 494.9 L148.1 495.7 L151.4 496.4 L154.7 497.2 L158 497.9 L161.3 498.5 L164.6 499.1 L167.8 499.6 L170.8 500.1 L173.9 500.4 L176.8 500.6 L179.7 500.6 L182.6 500.6 L185.5 500.6 L188.3 500.6 L191 500.6 L193.8 500.7 L196.4 500.9 L199.1 501.3 L201.7 501.8 L204.2 502.3 L206.6 502.9 L209.1 503.6 L211.4 504.4 L213.8 505.2 L216.2 506.1 L218.5 507.1 L220.9 508.2 L223.3 509.3 L225.7 510.6 L228.2 512 L230.7 513.6 L233.2 515.2 L235.6 516.9 L238.1 518.6 L240.5 520.4 L242.9 522.1 L245.2 523.8 L247.5 525.5 L249.8 527.2 L252.1 529 L254.5 530.8 L256.8 532.7 L259.1 534.6 L261.2 536.3 L263.2 538 L265 539.4 L266.5 540.6 L267.7 541.6Z" fill="url(#gEpS)"/>
<path d="M267.7 521.4 L345.1 439.6 L345.1 459.7 L267.7 541.6Z" fill="#d8c87e"/>
<path d="M86.1 452.9 L89.6 450.7 L94.3 447.8 L100 444.3 L106.1 440.5 L112.4 436.6 L118.4 432.7 L124.7 428.5 L131.8 423.8 L139 418.9 L145.7 414.3 L151.4 410.5 L155.5 407.7 L155.5 407.7 L158.3 407.9 L162 408.1 L166.3 408.4 L171.1 408.8 L176.3 409.1 L181.7 409.5 L187.3 409.8 L192.8 410.1 L198.1 410.4 L203.1 410.5 L207.9 410.5 L212.8 410.5 L217.7 410.4 L222.6 410.2 L227.5 410 L232.4 409.8 L237.3 409.6 L242.1 409.6 L246.8 409.6 L251.5 409.7 L256.2 409.9 L260.9 410.2 L265.5 410.5 L270.1 410.9 L274.7 411.3 L279.2 411.8 L283.6 412.4 L287.9 413 L292 413.7 L295.9 414.5 L299.7 415.5 L303.4 416.5 L307 417.6 L310.4 418.8 L313.7 420.1 L316.9 421.4 L320 422.7 L322.9 424.1 L325.6 425.4 L328.2 426.6 L330.6 428 L332.8 429.4 L334.9 430.9 L336.9 432.4 L338.7 433.9 L340.3 435.3 L341.8 436.6 L343.1 437.8 L344.2 438.8 L345.1 439.6 L345.1 439.6 L267.7 521.4 L267.7 521.4 L266.5 520.5 L265 519.2 L263.2 517.8 L261.2 516.1 L259.1 514.4 L256.8 512.5 L254.5 510.7 L252.1 508.8 L249.8 507 L247.5 505.3 L245.2 503.7 L242.9 501.9 L240.5 500.2 L238.1 498.5 L235.6 496.7 L233.2 495 L230.7 493.4 L228.2 491.9 L225.7 490.5 L223.3 489.2 L220.9 488 L218.5 486.9 L216.2 485.9 L213.8 485 L211.4 484.2 L209.1 483.4 L206.6 482.8 L204.2 482.1 L201.7 481.6 L199.1 481.1 L196.4 480.7 L193.8 480.5 L191 480.4 L188.3 480.4 L185.5 480.4 L182.6 480.5 L179.7 480.5 L176.8 480.4 L173.9 480.2 L170.8 479.9 L167.8 479.4 L164.6 478.9 L161.3 478.4 L158 477.7 L154.7 477 L151.4 476.3 L148.1 475.5 L144.8 474.7 L141.7 473.9 L138.6 473 L135.6 472.2 L132.6 471.2 L129.7 470.2 L126.8 469.2 L124 468.2 L121.1 467.1 L118.4 466.1 L115.7 465 L113 464 L110.3 462.9 L107.6 461.9 L104.9 460.8 L102 459.6 L99.2 458.4 L96.5 457.3 L93.9 456.2 L91.5 455.1 L89.4 454.2 L87.6 453.5 L86.1 452.9Z" fill="url(#gEpT)"/>
<clipPath id="cEp"><path d="M86.1 452.9 L89.6 450.7 L94.3 447.8 L100 444.3 L106.1 440.5 L112.4 436.6 L118.4 432.7 L124.7 428.5 L131.8 423.8 L139 418.9 L145.7 414.3 L151.4 410.5 L155.5 407.7 L155.5 407.7 L158.3 407.9 L162 408.1 L166.3 408.4 L171.1 408.8 L176.3 409.1 L181.7 409.5 L187.3 409.8 L192.8 410.1 L198.1 410.4 L203.1 410.5 L207.9 410.5 L212.8 410.5 L217.7 410.4 L222.6 410.2 L227.5 410 L232.4 409.8 L237.3 409.6 L242.1 409.6 L246.8 409.6 L251.5 409.7 L256.2 409.9 L260.9 410.2 L265.5 410.5 L270.1 410.9 L274.7 411.3 L279.2 411.8 L283.6 412.4 L287.9 413 L292 413.7 L295.9 414.5 L299.7 415.5 L303.4 416.5 L307 417.6 L310.4 418.8 L313.7 420.1 L316.9 421.4 L320 422.7 L322.9 424.1 L325.6 425.4 L328.2 426.6 L330.6 428 L332.8 429.4 L334.9 430.9 L336.9 432.4 L338.7 433.9 L340.3 435.3 L341.8 436.6 L343.1 437.8 L344.2 438.8 L345.1 439.6 L345.1 439.6 L267.7 521.4 L267.7 521.4 L266.5 520.5 L265 519.2 L263.2 517.8 L261.2 516.1 L259.1 514.4 L256.8 512.5 L254.5 510.7 L252.1 508.8 L249.8 507 L247.5 505.3 L245.2 503.7 L242.9 501.9 L240.5 500.2 L238.1 498.5 L235.6 496.7 L233.2 495 L230.7 493.4 L228.2 491.9 L225.7 490.5 L223.3 489.2 L220.9 488 L218.5 486.9 L216.2 485.9 L213.8 485 L211.4 484.2 L209.1 483.4 L206.6 482.8 L204.2 482.1 L201.7 481.6 L199.1 481.1 L196.4 480.7 L193.8 480.5 L191 480.4 L188.3 480.4 L185.5 480.4 L182.6 480.5 L179.7 480.5 L176.8 480.4 L173.9 480.2 L170.8 479.9 L167.8 479.4 L164.6 478.9 L161.3 478.4 L158 477.7 L154.7 477 L151.4 476.3 L148.1 475.5 L144.8 474.7 L141.7 473.9 L138.6 473 L135.6 472.2 L132.6 471.2 L129.7 470.2 L126.8 469.2 L124 468.2 L121.1 467.1 L118.4 466.1 L115.7 465 L113 464 L110.3 462.9 L107.6 461.9 L104.9 460.8 L102 459.6 L99.2 458.4 L96.5 457.3 L93.9 456.2 L91.5 455.1 L89.4 454.2 L87.6 453.5 L86.1 452.9Z"/></clipPath>
<g clip-path="url(#cEp)">
<ellipse cx="203.1" cy="436.7" rx="80" ry="32" fill="url(#gSh)" transform="rotate(12 203.1 436.7)"/>
<path d="M187 479.1 L232.6 451.7 L283.8 464.2 L244.7 504.5Z" fill="#857a55" opacity="0.3"/>
</g>
<path d="M128.5 391.5 L168.8 365.3 L168.8 365.3 L170.8 365.6 L173.3 366 L176.3 366.5 L179.6 367 L183.2 367.5 L187 368.1 L191 368.7 L195.1 369.2 L199.1 369.7 L203.1 370.2 L207.2 370.5 L211.5 370.9 L215.9 371.1 L220.5 371.4 L225.2 371.7 L229.8 371.9 L234.5 372.2 L239 372.5 L243.3 372.9 L247.5 373.4 L251.5 373.9 L255.4 374.4 L259.2 374.9 L262.9 375.5 L266.5 376.1 L270.1 376.8 L273.6 377.5 L277.1 378.3 L280.4 379.2 L283.8 380.3 L287.2 381.5 L290.7 383 L294.3 384.6 L297.8 386.4 L301.2 388.1 L304.4 389.9 L307.4 391.5 L310 393 L312.3 394.3 L314.1 395.2 L314.1 396.4 L259.6 439.6 L259.6 439.6 L258.4 438.9 L257 438 L255.3 436.9 L253.4 435.7 L251.3 434.4 L249 433.1 L246.7 431.7 L244.3 430.4 L241.9 429.1 L239.4 427.9 L237 426.7 L234.5 425.5 L231.9 424.3 L229.3 423.1 L226.6 421.9 L223.7 420.7 L220.8 419.5 L217.7 418.5 L214.5 417.5 L211.2 416.6 L207.7 415.8 L203.9 415.2 L200 414.8 L196 414.4 L191.9 414 L187.7 413.6 L183.5 413.1 L179.2 412.5 L175 411.6 L170.8 410.5 L166.5 409 L161.8 407.2 L157 405.2 L152 402.9 L147.1 400.7 L142.5 398.4 L138.1 396.2 L134.3 394.3 L131 392.7 L128.5 391.5Z" fill="url(#gSiA)"/>
<path d="M209.2 324.5v3.7a9.3 3.4 0 0 0 18.6 0v-3.7z" fill="#4d4d4d"/>
<ellipse cx="218.5" cy="324.5" rx="9.3" ry="3.4" fill="#6a6a6a"/>
<ellipse cx="218.5" cy="324.5" rx="7" ry="2.4" fill="#f29b76"/>
<ellipse cx="218.5" cy="324.5" rx="0.8" ry="0.4" fill="#b05a3a"/>
<path d="M180.2 327.7v3.7a9.3 3.4 0 0 0 18.6 0v-3.7z" fill="#4d4d4d"/>
<ellipse cx="189.5" cy="327.7" rx="9.3" ry="3.4" fill="#6a6a6a"/>
<ellipse cx="189.5" cy="327.7" rx="7" ry="2.4" fill="#f29b76"/>
<ellipse cx="189.5" cy="327.7" rx="0.8" ry="0.4" fill="#b05a3a"/>
<path d="M228.5 327.7v3.7a9.3 3.4 0 0 0 18.6 0v-3.7z" fill="#4d4d4d"/>
<ellipse cx="237.8" cy="327.7" rx="9.3" ry="3.4" fill="#6a6a6a"/>
<ellipse cx="237.8" cy="327.7" rx="7" ry="2.4" fill="#f29b76"/>
<ellipse cx="237.8" cy="327.7" rx="0.8" ry="0.4" fill="#b05a3a"/>
<path d="M199.5 330.3v3.7a9.3 3.4 0 0 0 18.6 0v-3.7z" fill="#4d4d4d"/>
<ellipse cx="208.8" cy="330.3" rx="9.3" ry="3.4" fill="#6a6a6a"/>
<ellipse cx="208.8" cy="330.3" rx="7" ry="2.4" fill="#f29b76"/>
<ellipse cx="208.8" cy="330.3" rx="0.8" ry="0.4" fill="#b05a3a"/>
<path d="M248.9 330.3v3.7a9.3 3.4 0 0 0 18.6 0v-3.7z" fill="#4d4d4d"/>
<ellipse cx="258.2" cy="330.3" rx="9.3" ry="3.4" fill="#6a6a6a"/>
<ellipse cx="258.2" cy="330.3" rx="7" ry="2.4" fill="#f29b76"/>
<ellipse cx="258.2" cy="330.3" rx="0.8" ry="0.4" fill="#b05a3a"/>
<path d="M169.6 333.3v3.7a9.3 3.4 0 0 0 18.6 0v-3.7z" fill="#4d4d4d"/>
<ellipse cx="178.9" cy="333.3" rx="9.3" ry="3.4" fill="#6a6a6a"/>
<ellipse cx="178.9" cy="333.3" rx="7" ry="2.4" fill="#f29b76"/>
<ellipse cx="178.9" cy="333.3" rx="0.8" ry="0.4" fill="#b05a3a"/>
<path d="M218.5 333.3v3.7a9.3 3.4 0 0 0 18.6 0v-3.7z" fill="#4d4d4d"/>
<ellipse cx="227.8" cy="333.3" rx="9.3" ry="3.4" fill="#6a6a6a"/>
<ellipse cx="227.8" cy="333.3" rx="7" ry="2.4" fill="#f29b76"/>
<ellipse cx="227.8" cy="333.3" rx="0.8" ry="0.4" fill="#b05a3a"/>
<path d="M268.7 333.3v3.7a9.3 3.4 0 0 0 18.6 0v-3.7z" fill="#4d4d4d"/>
<ellipse cx="278" cy="333.3" rx="9.3" ry="3.4" fill="#6a6a6a"/>
<ellipse cx="278" cy="333.3" rx="7" ry="2.4" fill="#f29b76"/>
<ellipse cx="278" cy="333.3" rx="0.8" ry="0.4" fill="#b05a3a"/>
<path d="M188.9 335.9v3.7a9.3 3.4 0 0 0 18.6 0v-3.7z" fill="#4d4d4d"/>
<ellipse cx="198.2" cy="335.9" rx="9.3" ry="3.4" fill="#6a6a6a"/>
<ellipse cx="198.2" cy="335.9" rx="7" ry="2.4" fill="#f29b76"/>
<ellipse cx="198.2" cy="335.9" rx="0.8" ry="0.4" fill="#b05a3a"/>
<path d="M238.3 335.9v3.7a9.3 3.4 0 0 0 18.6 0v-3.7z" fill="#4d4d4d"/>
<ellipse cx="247.6" cy="335.9" rx="9.3" ry="3.4" fill="#6a6a6a"/>
<ellipse cx="247.6" cy="335.9" rx="7" ry="2.4" fill="#f29b76"/>
<ellipse cx="247.6" cy="335.9" rx="0.8" ry="0.4" fill="#b05a3a"/>
<path d="M159 338.5v3.7a9.3 3.4 0 0 0 18.6 0v-3.7z" fill="#4d4d4d"/>
<ellipse cx="168.3" cy="338.5" rx="9.3" ry="3.4" fill="#6a6a6a"/>
<ellipse cx="168.3" cy="338.5" rx="7" ry="2.4" fill="#f29b76"/>
<ellipse cx="168.3" cy="338.5" rx="0.8" ry="0.4" fill="#b05a3a"/>
<path d="M208.7 338.5v3.7a9.3 3.4 0 0 0 18.6 0v-3.7z" fill="#4d4d4d"/>
<ellipse cx="218" cy="338.5" rx="9.3" ry="3.4" fill="#6a6a6a"/>
<ellipse cx="218" cy="338.5" rx="7" ry="2.4" fill="#f29b76"/>
<ellipse cx="218" cy="338.5" rx="0.8" ry="0.4" fill="#b05a3a"/>
<path d="M258.6 338.5v3.7a9.3 3.4 0 0 0 18.6 0v-3.7z" fill="#4d4d4d"/>
<ellipse cx="267.9" cy="338.5" rx="9.3" ry="3.4" fill="#6a6a6a"/>
<ellipse cx="267.9" cy="338.5" rx="7" ry="2.4" fill="#f29b76"/>
<ellipse cx="267.9" cy="338.5" rx="0.8" ry="0.4" fill="#b05a3a"/>
<path d="M178.8 342.2v3.7a9.3 3.4 0 0 0 18.6 0v-3.7z" fill="#4d4d4d"/>
<ellipse cx="188.1" cy="342.2" rx="9.3" ry="3.4" fill="#6a6a6a"/>
<ellipse cx="188.1" cy="342.2" rx="7" ry="2.4" fill="#f29b76"/>
<ellipse cx="188.1" cy="342.2" rx="0.8" ry="0.4" fill="#b05a3a"/>
<path d="M228.5 342.2v3.7a9.3 3.4 0 0 0 18.6 0v-3.7z" fill="#4d4d4d"/>
<ellipse cx="237.8" cy="342.2" rx="9.3" ry="3.4" fill="#6a6a6a"/>
<ellipse cx="237.8" cy="342.2" rx="7" ry="2.4" fill="#f29b76"/>
<ellipse cx="237.8" cy="342.2" rx="0.8" ry="0.4" fill="#b05a3a"/>
<path d="M281.9 342.2v3.7a9.3 3.4 0 0 0 18.6 0v-3.7z" fill="#4d4d4d"/>
<ellipse cx="291.2" cy="342.2" rx="9.3" ry="3.4" fill="#6a6a6a"/>
<ellipse cx="291.2" cy="342.2" rx="7" ry="2.4" fill="#f29b76"/>
<ellipse cx="291.2" cy="342.2" rx="0.8" ry="0.4" fill="#b05a3a"/>
<path d="M147.1 344.9v3.7a9.3 3.4 0 0 0 18.6 0v-3.7z" fill="#4d4d4d"/>
<ellipse cx="156.4" cy="344.9" rx="9.3" ry="3.4" fill="#6a6a6a"/>
<ellipse cx="156.4" cy="344.9" rx="7" ry="2.4" fill="#f29b76"/>
<ellipse cx="156.4" cy="344.9" rx="0.8" ry="0.4" fill="#b05a3a"/>
<path d="M198.7 344.9v3.7a9.3 3.4 0 0 0 18.6 0v-3.7z" fill="#4d4d4d"/>
<ellipse cx="208" cy="344.9" rx="9.3" ry="3.4" fill="#6a6a6a"/>
<ellipse cx="208" cy="344.9" rx="7" ry="2.4" fill="#f29b76"/>
<ellipse cx="208" cy="344.9" rx="0.8" ry="0.4" fill="#b05a3a"/>
<path d="M248.9 344.9v3.7a9.3 3.4 0 0 0 18.6 0v-3.7z" fill="#4d4d4d"/>
<ellipse cx="258.2" cy="344.9" rx="9.3" ry="3.4" fill="#6a6a6a"/>
<ellipse cx="258.2" cy="344.9" rx="7" ry="2.4" fill="#f29b76"/>
<ellipse cx="258.2" cy="344.9" rx="0.8" ry="0.4" fill="#b05a3a"/>
<path d="M168.3 349.1v3.7a9.3 3.4 0 0 0 18.6 0v-3.7z" fill="#4d4d4d"/>
<ellipse cx="177.6" cy="349.1" rx="9.3" ry="3.4" fill="#6a6a6a"/>
<ellipse cx="177.6" cy="349.1" rx="7" ry="2.4" fill="#f29b76"/>
<ellipse cx="177.6" cy="349.1" rx="0.8" ry="0.4" fill="#b05a3a"/>
<path d="M218.5 349.1v3.7a9.3 3.4 0 0 0 18.6 0v-3.7z" fill="#4d4d4d"/>
<ellipse cx="227.8" cy="349.1" rx="9.3" ry="3.4" fill="#6a6a6a"/>
<ellipse cx="227.8" cy="349.1" rx="7" ry="2.4" fill="#f29b76"/>
<ellipse cx="227.8" cy="349.1" rx="0.8" ry="0.4" fill="#b05a3a"/>
<path d="M271.9 349.1v3.7a9.3 3.4 0 0 0 18.6 0v-3.7z" fill="#4d4d4d"/>
<ellipse cx="281.2" cy="349.1" rx="9.3" ry="3.4" fill="#6a6a6a"/>
<ellipse cx="281.2" cy="349.1" rx="7" ry="2.4" fill="#f29b76"/>
<ellipse cx="281.2" cy="349.1" rx="0.8" ry="0.4" fill="#b05a3a"/>
<path d="M188.9 351.5v3.7a9.3 3.4 0 0 0 18.6 0v-3.7z" fill="#4d4d4d"/>
<ellipse cx="198.2" cy="351.5" rx="9.3" ry="3.4" fill="#6a6a6a"/>
<ellipse cx="198.2" cy="351.5" rx="7" ry="2.4" fill="#f29b76"/>
<ellipse cx="198.2" cy="351.5" rx="0.8" ry="0.4" fill="#b05a3a"/>
<path d="M239.6 352.3v3.7a9.3 3.4 0 0 0 18.6 0v-3.7z" fill="#4d4d4d"/>
<ellipse cx="248.9" cy="352.3" rx="9.3" ry="3.4" fill="#6a6a6a"/>
<ellipse cx="248.9" cy="352.3" rx="7" ry="2.4" fill="#f29b76"/>
<ellipse cx="248.9" cy="352.3" rx="0.8" ry="0.4" fill="#b05a3a"/>
<path d="M156.9 354.9v3.7a9.3 3.4 0 0 0 18.6 0v-3.7z" fill="#4d4d4d"/>
<ellipse cx="166.2" cy="354.9" rx="9.3" ry="3.4" fill="#6a6a6a"/>
<ellipse cx="166.2" cy="354.9" rx="7" ry="2.4" fill="#f29b76"/>
<ellipse cx="166.2" cy="354.9" rx="0.8" ry="0.4" fill="#b05a3a"/>
<path d="M209.2 354.9v3.7a9.3 3.4 0 0 0 18.6 0v-3.7z" fill="#4d4d4d"/>
<ellipse cx="218.5" cy="354.9" rx="9.3" ry="3.4" fill="#6a6a6a"/>
<ellipse cx="218.5" cy="354.9" rx="7" ry="2.4" fill="#f29b76"/>
<ellipse cx="218.5" cy="354.9" rx="0.8" ry="0.4" fill="#b05a3a"/>
<path d="M263.4 355.5v3.7a9.3 3.4 0 0 0 18.6 0v-3.7z" fill="#4d4d4d"/>
<ellipse cx="272.7" cy="355.5" rx="9.3" ry="3.4" fill="#6a6a6a"/>
<ellipse cx="272.7" cy="355.5" rx="7" ry="2.4" fill="#f29b76"/>
<ellipse cx="272.7" cy="355.5" rx="0.8" ry="0.4" fill="#b05a3a"/>
<path d="M178.8 358.1v3.7a9.3 3.4 0 0 0 18.6 0v-3.7z" fill="#4d4d4d"/>
<ellipse cx="188.1" cy="358.1" rx="9.3" ry="3.4" fill="#6a6a6a"/>
<ellipse cx="188.1" cy="358.1" rx="7" ry="2.4" fill="#f29b76"/>
<ellipse cx="188.1" cy="358.1" rx="0.8" ry="0.4" fill="#b05a3a"/>
<path d="M231.2 358.6v3.7a9.3 3.4 0 0 0 18.6 0v-3.7z" fill="#4d4d4d"/>
<ellipse cx="240.5" cy="358.6" rx="9.3" ry="3.4" fill="#6a6a6a"/>
<ellipse cx="240.5" cy="358.6" rx="7" ry="2.4" fill="#f29b76"/>
<ellipse cx="240.5" cy="358.6" rx="0.8" ry="0.4" fill="#b05a3a"/>
<path d="M199.5 361.5v3.7a9.3 3.4 0 0 0 18.6 0v-3.7z" fill="#4d4d4d"/>
<ellipse cx="208.8" cy="361.5" rx="9.3" ry="3.4" fill="#6a6a6a"/>
<ellipse cx="208.8" cy="361.5" rx="7" ry="2.4" fill="#f29b76"/>
<ellipse cx="208.8" cy="361.5" rx="0.8" ry="0.4" fill="#b05a3a"/>
<path d="M252.8 361.5v3.7a9.3 3.4 0 0 0 18.6 0v-3.7z" fill="#4d4d4d"/>
<ellipse cx="262.1" cy="361.5" rx="9.3" ry="3.4" fill="#6a6a6a"/>
<ellipse cx="262.1" cy="361.5" rx="7" ry="2.4" fill="#f29b76"/>
<ellipse cx="262.1" cy="361.5" rx="0.8" ry="0.4" fill="#b05a3a"/>
<path d="M221.1 365.5v3.7a9.3 3.4 0 0 0 18.6 0v-3.7z" fill="#4d4d4d"/>
<ellipse cx="230.4" cy="365.5" rx="9.3" ry="3.4" fill="#6a6a6a"/>
<ellipse cx="230.4" cy="365.5" rx="7" ry="2.4" fill="#f29b76"/>
<ellipse cx="230.4" cy="365.5" rx="0.8" ry="0.4" fill="#b05a3a"/>
<rect x="280.8" y="334.6" width="22" height="13.4" fill="none" stroke="#e8211c" stroke-width="1.05" stroke-dasharray="2.8 1.8"/>
<path d="M302.8 334.6L362 340.8L487.8 342V500.4H401.8L302.8 348" stroke="#e8211c" stroke-width="1.05" stroke-dasharray="2.9 1.9" fill="none"/>
<clipPath id="cb"><rect x="414.5" y="40" width="200" height="149"/></clipPath>
<g clip-path="url(#cb)">
<path d="M564.9 34 L564.1 34.5 L563.4 35 L563 35.7 L562.8 36.4 L563 37.1 L563.5 37.7 L564.2 38.1 L565.1 38.3 L566.1 38.3 L567 38.4 L567.8 38.6 L568.5 39.1 L568.9 39.7 L569 40.4 L568.8 41.2 L568.2 41.8 L567.5 42.3 L566.6 42.8 L565.8 43.3 L565.2 43.8 L564.9 44.5 L564.8 45.3 L565.1 46 L565.7 46.5 L566.4 46.8 L567.3 46.9 L568.3 47 L569.2 47.1 L570 47.4 L570.6 47.9 L570.9 48.6 L570.9 49.3 L570.6 50 L570 50.6 L569.2 51.1 L568.3 51.5 L567.6 52 L567 52.7 L566.8 53.4 L566.8 54.1 L567.2 54.8 L567.8 55.2 L568.6 55.5 L569.6 55.6 L570.5 55.6 L571.4 55.8 L572.1 56.1 L572.7 56.7 L572.9 57.4 L572.8 58.2 L572.4 58.8 L571.7 59.4 L570.9 59.9 L570 60.3 L569.3 60.9 L568.9 61.5 L568.7 62.2 L568.8 63 L569.3 63.6 L570 64 L570.8 64.2 L571.8 64.2 L572.7 64.3 L573.6 64.5 L574.3 64.9 L574.7 65.5 L574.8 66.3 L574.6 67 L574.1 67.6 L573.4 68.2 L572.6 68.6 L571.8 69.1 L571.1 69.7 L570.7 70.4 L570.6 71.1 L570.9 71.8 L571.4 72.4 L572.2 72.7 L573.1 72.8 L574 72.9 L574.9 73 L575.7 73.2 L576.4 73.7 L576.7 74.4 L576.7 75.1 L576.5 75.8 L575.9 76.5 L575.1 77 L574.3 77.4 L573.5 77.9 L572.9 78.5 L572.6 79.2 L572.6 80 L572.9 80.6 L573.5 81.1 L574.4 81.4 L575.3 81.5 L576.2 81.5 L577.1 81.7 L577.9 82 L578.4 82.5 L578.7 83.2 L578.6 84 L578.3 84.7 L577.6 85.2 L576.8 85.7 L576 86.2 L575.2 86.7 L574.7 87.3 L574.5 88.1 L574.6 88.8 L575 89.4 L575.7 89.9 L576.6 90.1 L577.5 90.1 L578.5 90.2 L579.3 90.4 L580 90.8 L580.5 91.4 L580.7 92.1 L580.5 92.8 L580 93.5 L579.3 94 L578.5 94.5 L577.7 95 L577 95.5 L576.6 96.2 L576.5 96.9 L576.7 97.6 L577.2 98.2 L577.9 98.6 L578.8 98.7 L579.7 98.8 L580.7 98.9 L581.5 99.1 L582.1 99.6 L582.5 100.2 L582.6 101 L582.3 101.7 L581.8 102.3 L581 102.8 L580.2 103.3 L579.4 103.7 L578.8 104.3 L578.4 105 L578.4 105.8 L578.7 106.5 L579.3 107 L580.1 107.3 L581 107.4 L582 107.4 L582.9 107.6 L583.6 107.9 L584.2 108.4 L584.5 109.1 L584.5 109.8 L584.1 110.5 L583.5 111.1 L582.7 111.6 L581.9 112 L581.1 112.5 L580.6 113.2 L580.3 113.9 L580.4 114.6 L580.8 115.3 L581.5 115.7 L582.3 116 L583.2 116.1 L584.2 116.1 L585.1 116.3 L585.8 116.6 L586.3 117.2 L586.5 117.9 L586.4 118.7 L585.9 119.3 L585.3 119.9 L584.4 120.4 L583.6 120.8 L582.9 121.4 L582.4 122 L582.3 122.8 L582.5 123.5 L582.9 124.1 L583.6 124.5 L584.5 124.6 L585.4 124.7 L586.4 124.8 L587.2 125 L587.9 125.4 L588.3 126 L588.4 126.8 L588.2 127.5 L587.7 128.1 L587 128.7 L586.1 129.1 L585.3 129.6 L584.7 130.2 L584.3 130.9 L584.2 131.6 L584.5 132.3 L585.1 132.8 L585.8 133.2 L586.7 133.3 L587.7 133.4 L588.6 133.5 L589.4 133.7 L590 134.2 L590.3 134.9 L590.3 135.6 L590 136.3 L589.4 137 L588.7 137.4 L587.8 137.9 L587 138.4 L586.5 139 L586.2 139.7 L586.2 140.5 L586.6 141.1 L587.2 141.6 L588 141.9 L588.9 142 L589.9 142 L590.8 142.2 L591.5 142.5 L592.1 143 L592.3 143.7 L592.2 144.5 L591.8 145.2 L591.2 145.7 L590.4 146.2 L589.5 146.7 L588.8 147.2 L588.3 147.8 L588.1 148.6 L588.2 149.3 L588.7 149.9 L589.4 150.3 L590.2 150.5 L591.2 150.6 L592.1 150.7 L593 150.9 L593.7 151.3 L594.1 151.9 L594.3 152.6 L594.1 153.5 L593.5 154.1 L592.8 154.7 L591.9 155 L591 155.3 L590.2 155.6 L589.7 156.1 L589.4 156.5 L589.4 157.3 L589.7 157.8 L590.2 158.4 L590.9 159 L591.7 159.5 L592.4 160.1 L592.9 160.7 L593 161.7 L592.9 162.4 L592.3 163.3 L591.6 163.7 L590.7 163.9 L589.9 163.7 L589.1 163.4 L588.3 163 L587.6 162.6 L586.8 162.4 L586.3 162.3 L585.6 162.5 L585.2 162.7 L584.9 163 L584.4 163.6 L584.3 164.2 L584.1 164.9 L584 165.6 L584 166.3 L583.9 167.1 L583.7 167.8 L583.4 168.4 L582.7 169 L582.1 169.4 L581.3 169.7 L580.5 169.8 L579.8 169.7 L579.1 169.5 L578.4 169.2 L577.9 168.7 L577.5 168.2 L577.2 167.6 L576.9 167 L576.6 166.3 L576.3 165.7 L575.9 165.1 L575.5 164.6 L574.9 164.2 L574.2 164 L573.5 163.8 L572.8 163.8 L572 163.9 L571.4 164.2 L570.8 164.6 L570.3 165.1 L569.9 165.6 L569.7 166.3 L569.4 166.9 L569.2 167.6 L568.9 168.2 L568.6 168.8 L568.1 169.3 L567.5 169.7 L566.9 170 L566.2 170.2 L565.4 170.2 L564.7 170.1 L564 169.8 L563.4 169.5 L562.9 169 L562.6 168.4 L562.2 167.8 L562 167.2 L561.7 166.5 L561.4 165.9 L561 165.4 L560.5 164.9 L559.9 164.6 L559.2 164.3 L558.4 164.2 L557.7 164.3 L557 164.5 L556.3 164.8 L555.8 165.2 L555.4 165.7 L555 166.3 L554.8 167 L554.5 167.6 L554.3 168.3 L554 168.9 L553.6 169.4 L553.1 169.9 L552.5 170.3 L551.8 170.5 L551.1 170.6 L550.3 170.6 L549.6 170.4 L549 170.1 L548.4 169.7 L548 169.2 L547.6 168.6 L547.3 168 L547.1 167.4 L546.8 166.7 L546.4 166.2 L546 165.6 L545.4 165.2 L544.8 164.9 L544.1 164.7 L543.3 164.7 L542.6 164.8 L541.9 165 L541.3 165.4 L540.8 165.8 L540.4 166.4 L540.1 167 L539.9 167.7 L539.6 168.3 L539.4 169 L539 169.6 L538.6 170.1 L538.1 170.5 L537.4 170.8 L536.7 171 L536 171.1 L535.3 171 L534.6 170.8 L534 170.4 L533.4 170 L533 169.5 L532.7 168.9 L532.4 168.2 L532.1 167.6 L531.8 167 L531.5 166.4 L531 165.9 L530.4 165.5 L529.7 165.3 L529 165.1 L528.3 165.2 L527.5 165.3 L526.9 165.6 L526.3 166 L525.8 166.5 L525.5 167.1 L525.2 167.7 L525 168.3 L524.7 169 L524.4 169.6 L524.1 170.2 L523.6 170.7 L523 171.1 L522.4 171.4 L521.6 171.5 L520.9 171.5 L520.2 171.4 L519.5 171.1 L518.9 170.7 L518.5 170.2 L518.1 169.7 L517.8 169.1 L517.5 168.4 L517.2 167.8 L516.9 167.2 L516.5 166.6 L516 166.2 L515.4 165.9 L514.7 165.7 L513.9 165.6 L513.2 165.6 L512.5 165.8 L511.8 166.2 L511.3 166.6 L510.9 167.1 L510.6 167.7 L510.3 168.4 L510.1 169 L509.8 169.7 L509.5 170.3 L509.1 170.8 L508.6 171.3 L508 171.7 L507.3 171.9 L506.6 172 L505.8 171.9 L505.1 171.7 L504.5 171.4 L503.9 171 L503.5 170.5 L503.2 169.9 L502.9 169.3 L502.6 168.6 L502.3 168 L501.9 167.4 L501.5 166.9 L500.9 166.5 L500.3 166.2 L499.6 166.1 L498.8 166 L498.1 166.1 L497.4 166.4 L496.8 166.8 L496.3 167.2 L496 167.8 L495.7 168.4 L495.4 169.1 L495.2 169.7 L494.9 170.4 L494.6 171 L494.1 171.5 L493.6 171.9 L492.9 172.2 L492.2 172.4 L491.5 172.4 L490.7 172.3 L490.1 172.1 L489.5 171.7 L489 171.3 L488.6 170.7 L488.2 170.1 L488 169.5 L487.7 168.8 L487.4 168.2 L487 167.6 L486.5 167.2 L485.9 166.8 L485.2 166.6 L484.5 166.5 L483.7 166.5 L483 166.7 L482.4 167 L481.8 167.4 L481.4 167.9 L481 168.5 L480.8 169.1 L480.5 169.8 L480.3 170.4 L480 171.1 L479.6 171.6 L479.1 172.1 L478.5 172.5 L477.9 172.7 L477.1 172.8 L476.4 172.8 L475.7 172.7 L475 172.4 L474.5 172 L474 171.5 L473.6 170.9 L473.3 170.3 L473.1 169.7 L472.8 169 L472.4 168.4 L472 167.9 L471.5 167.5 L470.8 167.2 L470.1 167 L469.4 166.9 L468.7 167 L468 167.2 L467.3 167.6 L466.8 168 L466.4 168.6 L466.1 169.2 L465.9 169.8 L465.6 170.5 L465.4 171.1 L465 171.7 L464.6 172.3 L464.1 172.7 L463.5 173 L462.8 173.2 L462 173.3 L461.3 173.2 L460.6 173 L460 172.7 L459.5 172.3 L459 171.7 L458.7 171.1 L458.4 170.5 L458.2 169.9 L457.8 169.2 L457.5 168.7 L457 168.2 L456.4 167.8 L455.8 167.5 L455.1 167.4 L454.3 167.4 L453.6 167.5 L452.9 167.8 L452.3 168.2 L451.9 168.7 L451.5 169.2 L451.2 169.9 L451 170.5 L450.7 171.2 L450.5 171.8 L450.1 172.4 L449.6 172.9 L449.1 173.3 L448.4 173.6 L447.7 173.7 L446.9 173.7 L446.2 173.6 L445.5 173.4 L445 173 L444.5 172.5 L444.1 172 L443.8 171.3 L443.5 170.7 L443.2 170.1 L442.9 169.4 L442.5 168.9 L442 168.5 L441.4 168.1 L440.7 167.9 L440 167.8 L439.2 167.9 L438.5 168 L437.9 168.4 L437.3 168.8 L436.9 169.3 L436.6 169.9 L436.3 170.5 L436.1 171.2 L435.8 171.9 L435.5 172.5 L435.1 173 L434.6 173.5 L434 173.8 L433.3 174.1 L432.6 174.2 L431.9 174.2 L431.1 174 L430.5 173.7 L430 173.3 L429.5 172.8 L429.2 172.2 L428.9 171.5 L428.6 170.9 L428.3 170.3 L428 169.7 L427.5 169.2 L427 168.8 L426.3 168.5 L425.6 168.3 L424.9 168.2 L424.1 168.4 L423.5 168.6 L422.9 169 L422.4 169.4 L422 170 L421.7 170.6 L421.4 171.2 L421.2 171.9 L420.9 172.5 L420.6 173.1 L420.1 173.7 L419.6 174.1 L419 174.4 L418.3 174.6 L417.5 174.6 L416.8 174.5 L416.1 174.3 L415.5 174 L415 173.5 L414.6 173 L414.3 172.4 L414 171.7 L413.7 171.1 L413.4 170.5 L413 169.9 L412.5 169.4 L411.9 169.1 L411.3 168.8 L410.5 168.7 L409.8 168.7 L409.1 168.9 L408.4 169.2 L407.8 169.6 L407.4 170.1 L407 170.6 L406.8 171.3 L406.5 171.9 L406.3 172.6" fill="none" stroke="#8e4c30" stroke-width="1" stroke-linejoin="round"/>
<path d="M564.9 34 L564.1 34.5 L563.4 35 L563 35.7 L562.8 36.4 L563 37.1 L563.5 37.7 L564.2 38.1 L565.1 38.3 L566.1 38.3 L567 38.4 L567.8 38.6 L568.5 39.1 L568.9 39.7 L569 40.4 L568.8 41.2 L568.2 41.8 L567.5 42.3 L566.6 42.8 L565.8 43.3 L565.2 43.8 L564.9 44.5 L564.8 45.3 L565.1 46 L565.7 46.5 L566.4 46.8 L567.3 46.9 L568.3 47 L569.2 47.1 L570 47.4 L570.6 47.9 L570.9 48.6 L570.9 49.3 L570.6 50 L570 50.6 L569.2 51.1 L568.3 51.5 L567.6 52 L567 52.7 L566.8 53.4 L566.8 54.1 L567.2 54.8 L567.8 55.2 L568.6 55.5 L569.6 55.6 L570.5 55.6 L571.4 55.8 L572.1 56.1 L572.7 56.7 L572.9 57.4 L572.8 58.2 L572.4 58.8 L571.7 59.4 L570.9 59.9 L570 60.3 L569.3 60.9 L568.9 61.5 L568.7 62.2 L568.8 63 L569.3 63.6 L570 64 L570.8 64.2 L571.8 64.2 L572.7 64.3 L573.6 64.5 L574.3 64.9 L574.7 65.5 L574.8 66.3 L574.6 67 L574.1 67.6 L573.4 68.2 L572.6 68.6 L571.8 69.1 L571.1 69.7 L570.7 70.4 L570.6 71.1 L570.9 71.8 L571.4 72.4 L572.2 72.7 L573.1 72.8 L574 72.9 L574.9 73 L575.7 73.2 L576.4 73.7 L576.7 74.4 L576.7 75.1 L576.5 75.8 L575.9 76.5 L575.1 77 L574.3 77.4 L573.5 77.9 L572.9 78.5 L572.6 79.2 L572.6 80 L572.9 80.6 L573.5 81.1 L574.4 81.4 L575.3 81.5 L576.2 81.5 L577.1 81.7 L577.9 82 L578.4 82.5 L578.7 83.2 L578.6 84 L578.3 84.7 L577.6 85.2 L576.8 85.7 L576 86.2 L575.2 86.7 L574.7 87.3 L574.5 88.1 L574.6 88.8 L575 89.4 L575.7 89.9 L576.6 90.1 L577.5 90.1 L578.5 90.2 L579.3 90.4 L580 90.8 L580.5 91.4 L580.7 92.1 L580.5 92.8 L580 93.5 L579.3 94 L578.5 94.5 L577.7 95 L577 95.5 L576.6 96.2 L576.5 96.9 L576.7 97.6 L577.2 98.2 L577.9 98.6 L578.8 98.7 L579.7 98.8 L580.7 98.9 L581.5 99.1 L582.1 99.6 L582.5 100.2 L582.6 101 L582.3 101.7 L581.8 102.3 L581 102.8 L580.2 103.3 L579.4 103.7 L578.8 104.3 L578.4 105 L578.4 105.8 L578.7 106.5 L579.3 107 L580.1 107.3 L581 107.4 L582 107.4 L582.9 107.6 L583.6 107.9 L584.2 108.4 L584.5 109.1 L584.5 109.8 L584.1 110.5 L583.5 111.1 L582.7 111.6 L581.9 112 L581.1 112.5 L580.6 113.2 L580.3 113.9 L580.4 114.6 L580.8 115.3 L581.5 115.7 L582.3 116 L583.2 116.1 L584.2 116.1 L585.1 116.3 L585.8 116.6 L586.3 117.2 L586.5 117.9 L586.4 118.7 L585.9 119.3 L585.3 119.9 L584.4 120.4 L583.6 120.8 L582.9 121.4 L582.4 122 L582.3 122.8 L582.5 123.5 L582.9 124.1 L583.6 124.5 L584.5 124.6 L585.4 124.7 L586.4 124.8 L587.2 125 L587.9 125.4 L588.3 126 L588.4 126.8 L588.2 127.5 L587.7 128.1 L587 128.7 L586.1 129.1 L585.3 129.6 L584.7 130.2 L584.3 130.9 L584.2 131.6 L584.5 132.3 L585.1 132.8 L585.8 133.2 L586.7 133.3 L587.7 133.4 L588.6 133.5 L589.4 133.7 L590 134.2 L590.3 134.9 L590.3 135.6 L590 136.3 L589.4 137 L588.7 137.4 L587.8 137.9 L587 138.4 L586.5 139 L586.2 139.7 L586.2 140.5 L586.6 141.1 L587.2 141.6 L588 141.9 L588.9 142 L589.9 142 L590.8 142.2 L591.5 142.5 L592.1 143 L592.3 143.7 L592.2 144.5 L591.8 145.2 L591.2 145.7 L590.4 146.2 L589.5 146.7 L588.8 147.2 L588.3 147.8 L588.1 148.6 L588.2 149.3 L588.7 149.9 L589.4 150.3 L590.2 150.5 L591.2 150.6 L592.1 150.7 L593 150.9 L593.7 151.3 L594.1 151.9 L594.3 152.6 L594.1 153.5 L593.5 154.1 L592.8 154.7 L591.9 155 L591 155.3 L590.2 155.6 L589.7 156.1 L589.4 156.5 L589.4 157.3 L589.7 157.8 L590.2 158.4 L590.9 159 L591.7 159.5 L592.4 160.1 L592.9 160.7 L593 161.7 L592.9 162.4 L592.3 163.3 L591.6 163.7 L590.7 163.9 L589.9 163.7 L589.1 163.4 L588.3 163 L587.6 162.6 L586.8 162.4 L586.3 162.3 L585.6 162.5 L585.2 162.7 L584.9 163 L584.4 163.6 L584.3 164.2 L584.1 164.9 L584 165.6 L584 166.3 L583.9 167.1 L583.7 167.8 L583.4 168.4 L582.7 169 L582.1 169.4 L581.3 169.7 L580.5 169.8 L579.8 169.7 L579.1 169.5 L578.4 169.2 L577.9 168.7 L577.5 168.2 L577.2 167.6 L576.9 167 L576.6 166.3 L576.3 165.7 L575.9 165.1 L575.5 164.6 L574.9 164.2 L574.2 164 L573.5 163.8 L572.8 163.8 L572 163.9 L571.4 164.2 L570.8 164.6 L570.3 165.1 L569.9 165.6 L569.7 166.3 L569.4 166.9 L569.2 167.6 L568.9 168.2 L568.6 168.8 L568.1 169.3 L567.5 169.7 L566.9 170 L566.2 170.2 L565.4 170.2 L564.7 170.1 L564 169.8 L563.4 169.5 L562.9 169 L562.6 168.4 L562.2 167.8 L562 167.2 L561.7 166.5 L561.4 165.9 L561 165.4 L560.5 164.9 L559.9 164.6 L559.2 164.3 L558.4 164.2 L557.7 164.3 L557 164.5 L556.3 164.8 L555.8 165.2 L555.4 165.7 L555 166.3 L554.8 167 L554.5 167.6 L554.3 168.3 L554 168.9 L553.6 169.4 L553.1 169.9 L552.5 170.3 L551.8 170.5 L551.1 170.6 L550.3 170.6 L549.6 170.4 L549 170.1 L548.4 169.7 L548 169.2 L547.6 168.6 L547.3 168 L547.1 167.4 L546.8 166.7 L546.4 166.2 L546 165.6 L545.4 165.2 L544.8 164.9 L544.1 164.7 L543.3 164.7 L542.6 164.8 L541.9 165 L541.3 165.4 L540.8 165.8 L540.4 166.4 L540.1 167 L539.9 167.7 L539.6 168.3 L539.4 169 L539 169.6 L538.6 170.1 L538.1 170.5 L537.4 170.8 L536.7 171 L536 171.1 L535.3 171 L534.6 170.8 L534 170.4 L533.4 170 L533 169.5 L532.7 168.9 L532.4 168.2 L532.1 167.6 L531.8 167 L531.5 166.4 L531 165.9 L530.4 165.5 L529.7 165.3 L529 165.1 L528.3 165.2 L527.5 165.3 L526.9 165.6 L526.3 166 L525.8 166.5 L525.5 167.1 L525.2 167.7 L525 168.3 L524.7 169 L524.4 169.6 L524.1 170.2 L523.6 170.7 L523 171.1 L522.4 171.4 L521.6 171.5 L520.9 171.5 L520.2 171.4 L519.5 171.1 L518.9 170.7 L518.5 170.2 L518.1 169.7 L517.8 169.1 L517.5 168.4 L517.2 167.8 L516.9 167.2 L516.5 166.6 L516 166.2 L515.4 165.9 L514.7 165.7 L513.9 165.6 L513.2 165.6 L512.5 165.8 L511.8 166.2 L511.3 166.6 L510.9 167.1 L510.6 167.7 L510.3 168.4 L510.1 169 L509.8 169.7 L509.5 170.3 L509.1 170.8 L508.6 171.3 L508 171.7 L507.3 171.9 L506.6 172 L505.8 171.9 L505.1 171.7 L504.5 171.4 L503.9 171 L503.5 170.5 L503.2 169.9 L502.9 169.3 L502.6 168.6 L502.3 168 L501.9 167.4 L501.5 166.9 L500.9 166.5 L500.3 166.2 L499.6 166.1 L498.8 166 L498.1 166.1 L497.4 166.4 L496.8 166.8 L496.3 167.2 L496 167.8 L495.7 168.4 L495.4 169.1 L495.2 169.7 L494.9 170.4 L494.6 171 L494.1 171.5 L493.6 171.9 L492.9 172.2 L492.2 172.4 L491.5 172.4 L490.7 172.3 L490.1 172.1 L489.5 171.7 L489 171.3 L488.6 170.7 L488.2 170.1 L488 169.5 L487.7 168.8 L487.4 168.2 L487 167.6 L486.5 167.2 L485.9 166.8 L485.2 166.6 L484.5 166.5 L483.7 166.5 L483 166.7 L482.4 167 L481.8 167.4 L481.4 167.9 L481 168.5 L480.8 169.1 L480.5 169.8 L480.3 170.4 L480 171.1 L479.6 171.6 L479.1 172.1 L478.5 172.5 L477.9 172.7 L477.1 172.8 L476.4 172.8 L475.7 172.7 L475 172.4 L474.5 172 L474 171.5 L473.6 170.9 L473.3 170.3 L473.1 169.7 L472.8 169 L472.4 168.4 L472 167.9 L471.5 167.5 L470.8 167.2 L470.1 167 L469.4 166.9 L468.7 167 L468 167.2 L467.3 167.6 L466.8 168 L466.4 168.6 L466.1 169.2 L465.9 169.8 L465.6 170.5 L465.4 171.1 L465 171.7 L464.6 172.3 L464.1 172.7 L463.5 173 L462.8 173.2 L462 173.3 L461.3 173.2 L460.6 173 L460 172.7 L459.5 172.3 L459 171.7 L458.7 171.1 L458.4 170.5 L458.2 169.9 L457.8 169.2 L457.5 168.7 L457 168.2 L456.4 167.8 L455.8 167.5 L455.1 167.4 L454.3 167.4 L453.6 167.5 L452.9 167.8 L452.3 168.2 L451.9 168.7 L451.5 169.2 L451.2 169.9 L451 170.5 L450.7 171.2 L450.5 171.8 L450.1 172.4 L449.6 172.9 L449.1 173.3 L448.4 173.6 L447.7 173.7 L446.9 173.7 L446.2 173.6 L445.5 173.4 L445 173 L444.5 172.5 L444.1 172 L443.8 171.3 L443.5 170.7 L443.2 170.1 L442.9 169.4 L442.5 168.9 L442 168.5 L441.4 168.1 L440.7 167.9 L440 167.8 L439.2 167.9 L438.5 168 L437.9 168.4 L437.3 168.8 L436.9 169.3 L436.6 169.9 L436.3 170.5 L436.1 171.2 L435.8 171.9 L435.5 172.5 L435.1 173 L434.6 173.5 L434 173.8 L433.3 174.1 L432.6 174.2 L431.9 174.2 L431.1 174 L430.5 173.7 L430 173.3 L429.5 172.8 L429.2 172.2 L428.9 171.5 L428.6 170.9 L428.3 170.3 L428 169.7 L427.5 169.2 L427 168.8 L426.3 168.5 L425.6 168.3 L424.9 168.2 L424.1 168.4 L423.5 168.6 L422.9 169 L422.4 169.4 L422 170 L421.7 170.6 L421.4 171.2 L421.2 171.9 L420.9 172.5 L420.6 173.1 L420.1 173.7 L419.6 174.1 L419 174.4 L418.3 174.6 L417.5 174.6 L416.8 174.5 L416.1 174.3 L415.5 174 L415 173.5 L414.6 173 L414.3 172.4 L414 171.7 L413.7 171.1 L413.4 170.5 L413 169.9 L412.5 169.4 L411.9 169.1 L411.3 168.8 L410.5 168.7 L409.8 168.7 L409.1 168.9 L408.4 169.2 L407.8 169.6 L407.4 170.1 L407 170.6 L406.8 171.3 L406.5 171.9 L406.3 172.6" fill="none" stroke="#e0a684" stroke-width="0.4" stroke-linejoin="round"/>
<path d="M554.6 34.7 L555.1 35.3 L555.7 35.7 L556.6 35.9 L557.5 36 L558.5 36 L559.4 36.2 L560.1 36.6 L560.5 37.2 L560.7 38 L560.5 38.7 L560 39.3 L559.3 39.9 L558.5 40.3 L557.7 40.8 L557 41.4 L556.6 42 L556.5 42.8 L556.7 43.5 L557.2 44.1 L557.9 44.4 L558.8 44.6 L559.8 44.6 L560.7 44.7 L561.5 45 L562.2 45.4 L562.5 46.1 L562.6 46.8 L562.3 47.5 L561.8 48.2 L561 48.7 L560.2 49.1 L559.4 49.6 L558.8 50.2 L558.5 50.9 L558.4 51.6 L558.7 52.3 L559.3 52.8 L560.1 53.1 L561 53.2 L562 53.3 L562.9 53.4 L563.7 53.7 L564.2 54.2 L564.5 54.9 L564.5 55.7 L564.1 56.4 L563.5 57 L562.7 57.4 L561.9 57.9 L561.1 58.4 L560.6 59 L560.4 59.8 L560.4 60.5 L560.8 61.1 L561.5 61.6 L562.3 61.8 L563.3 61.9 L564.2 61.9 L565.1 62.1 L565.8 62.5 L566.3 63.1 L566.5 63.8 L566.4 64.5 L565.9 65.2 L565.2 65.7 L564.4 66.2 L563.6 66.7 L562.9 67.2 L562.4 67.9 L562.3 68.6 L562.5 69.3 L563 69.9 L563.7 70.3 L564.5 70.5 L565.5 70.5 L566.4 70.6 L567.3 70.8 L567.9 71.3 L568.3 71.9 L568.4 72.6 L568.2 73.4 L567.7 74 L566.9 74.5 L566.1 75 L565.3 75.5 L564.7 76 L564.3 76.7 L564.3 77.5 L564.5 78.2 L565.1 78.7 L565.9 79 L566.8 79.1 L567.7 79.2 L568.6 79.3 L569.4 79.6 L570 80.1 L570.3 80.8 L570.3 81.5 L570 82.2 L569.4 82.8 L568.6 83.3 L567.8 83.8 L567 84.3 L566.5 84.9 L566.2 85.6 L566.3 86.3 L566.6 87 L567.2 87.5 L568.1 87.7 L569 87.8 L570 87.8 L570.8 88 L571.6 88.3 L572.1 88.9 L572.3 89.6 L572.2 90.4 L571.8 91 L571.1 91.6 L570.3 92.1 L569.5 92.5 L568.8 93.1 L568.3 93.7 L568.1 94.5 L568.3 95.2 L568.7 95.8 L569.4 96.2 L570.3 96.4 L571.2 96.4 L572.2 96.5 L573 96.7 L573.7 97.1 L574.1 97.7 L574.3 98.5 L574.1 99.2 L573.6 99.9 L572.9 100.4 L572 100.8 L571.2 101.3 L570.6 101.9 L570.2 102.6 L570.1 103.3 L570.3 104 L570.9 104.6 L571.6 104.9 L572.5 105 L573.5 105.1 L574.4 105.2 L575.2 105.5 L575.8 105.9 L576.2 106.6 L576.2 107.3 L575.9 108.1 L575.3 108.7 L574.6 109.2 L573.7 109.6 L572.9 110.1 L572.3 110.7 L572 111.4 L572.1 112.2 L572.4 112.8 L573 113.3 L573.8 113.6 L574.7 113.7 L575.7 113.8 L576.6 113.9 L577.3 114.2 L577.9 114.8 L578.1 115.5 L578.1 116.2 L577.7 116.9 L577.1 117.5 L576.3 117.9 L575.4 118.4 L574.7 118.9 L574.2 119.6 L574 120.3 L574.1 121 L574.5 121.6 L575.2 122.1 L576 122.3 L577 122.4 L577.9 122.4 L578.8 122.6 L579.5 123 L579.9 123.6 L580.1 124.3 L579.9 125.1 L579.5 125.7 L578.8 126.2 L577.9 126.7 L577.1 127.2 L576.4 127.7 L576 128.4 L575.9 129.1 L576.1 129.9 L576.6 130.4 L577.3 130.8 L578.2 131 L579.2 131 L580.1 131.1 L580.9 131.3 L581.6 131.8 L582 132.4 L582 133.2 L581.8 133.9 L581.2 134.5 L580.5 135 L579.6 135.5 L578.8 136 L578.2 136.6 L577.9 137.3 L577.9 138 L578.2 138.7 L578.8 139.2 L579.5 139.5 L580.5 139.6 L581.4 139.7 L582.3 139.8 L583.1 140.1 L583.7 140.6 L584 141.3 L583.9 142 L583.6 142.7 L583 143.3 L582.2 143.8 L581.3 144.3 L580.6 144.8 L580 145.4 L579.8 146.1 L579.8 146.7 L580.2 147.4 L580.8 147.7 L581.6 148 L582.5 148.2 L583.4 148.6 L584.2 149 L584.7 149.8 L584.9 150.5 L584.7 151.5 L584.1 152.3 L583.4 152.6 L582.4 152.7 L581.5 152.6 L580.6 152.4 L579.8 152.3 L579.1 152.3 L578.6 152.3 L578 152.8 L577.8 153.2 L577.8 153.8 L577.7 154.5 L577.8 155.3 L578 156 L578.2 156.8 L578.3 157.6 L578.1 158.4 L577.8 159.1 L577.1 159.7 L576.5 160.2 L575.4 160.4 L574.4 160.5 L573.7 160.3 L573 159.9 L572.5 159.4 L572.1 158.9 L571.8 158.2 L571.5 157.6 L571.2 157 L570.9 156.4 L570.5 155.8 L570 155.4 L569.4 155 L568.7 154.8 L567.9 154.8 L567.2 154.8 L566.5 155 L565.9 155.3 L565.3 155.8 L564.9 156.3 L564.6 156.9 L564.3 157.6 L564.1 158.2 L563.8 158.9 L563.5 159.5 L563.1 160 L562.6 160.5 L562 160.8 L561.3 161.1 L560.6 161.1 L559.8 161.1 L559.1 160.9 L558.5 160.6 L558 160.2 L557.5 159.7 L557.2 159.1 L556.9 158.4 L556.6 157.8 L556.3 157.2 L556 156.6 L555.5 156.1 L555 155.7 L554.3 155.4 L553.6 155.2 L552.8 155.2 L552.1 155.3 L551.4 155.6 L550.8 156 L550.3 156.4 L550 157 L549.7 157.6 L549.4 158.3 L549.2 158.9 L548.9 159.6 L548.6 160.1 L548.1 160.7 L547.6 161.1 L546.9 161.4 L546.2 161.6 L545.5 161.6 L544.7 161.5 L544.1 161.3 L543.5 160.9 L543 160.4 L542.6 159.9 L542.3 159.3 L542 158.6 L541.7 158 L541.4 157.4 L541 156.8 L540.5 156.4 L539.9 156 L539.2 155.8 L538.5 155.7 L537.7 155.7 L537 155.9 L536.4 156.2 L535.8 156.6 L535.4 157.1 L535 157.7 L534.8 158.3 L534.5 159 L534.3 159.6 L534 160.2 L533.6 160.8 L533.1 161.3 L532.5 161.7 L531.9 161.9 L531.1 162 L530.4 162 L529.7 161.9 L529 161.6 L528.5 161.2 L528 160.7 L527.6 160.1 L527.3 159.5 L527.1 158.8 L526.8 158.2 L526.4 157.6 L526 157.1 L525.5 156.6 L524.8 156.3 L524.1 156.1 L523.4 156.1 L522.7 156.2 L522 156.4 L521.3 156.7 L520.8 157.2 L520.4 157.7 L520.1 158.4 L519.9 159 L519.6 159.7 L519.4 160.3 L519.1 160.9 L518.6 161.4 L518.1 161.9 L517.5 162.2 L516.8 162.4 L516 162.5 L515.3 162.4 L514.6 162.2 L514 161.9 L513.5 161.4 L513 160.9 L512.7 160.3 L512.4 159.7 L512.2 159 L511.9 158.4 L511.5 157.8 L511 157.3 L510.4 157 L509.8 156.7 L509.1 156.6 L508.3 156.6 L507.6 156.7 L506.9 157 L506.3 157.4 L505.9 157.8 L505.5 158.4 L505.2 159 L505 159.7 L504.7 160.4 L504.5 161 L504.1 161.6 L503.6 162.1 L503.1 162.5 L502.4 162.7 L501.7 162.9 L500.9 162.9 L500.2 162.8 L499.5 162.5 L499 162.2 L498.5 161.7 L498.1 161.1 L497.8 160.5 L497.5 159.9 L497.2 159.2 L496.9 158.6 L496.5 158.1 L496 157.6 L495.4 157.3 L494.7 157.1 L494 157 L493.2 157 L492.5 157.2 L491.9 157.5 L491.3 158 L490.9 158.5 L490.6 159.1 L490.3 159.7 L490.1 160.4 L489.8 161.1 L489.5 161.7 L489.1 162.2 L488.6 162.7 L488 163 L487.3 163.3 L486.6 163.4 L485.9 163.3 L485.1 163.2 L484.5 162.9 L484 162.4 L483.5 161.9 L483.2 161.3 L482.9 160.7 L482.6 160.1 L482.3 159.4 L482 158.8 L481.5 158.3 L481 157.9 L480.3 157.6 L479.6 157.5 L478.9 157.4 L478.1 157.5 L477.4 157.8 L476.8 158.1 L476.4 158.6 L476 159.2 L475.7 159.8 L475.4 160.4 L475.2 161.1 L474.9 161.7 L474.6 162.3 L474.1 162.9 L473.6 163.3 L473 163.6 L472.2 163.8 L471.5 163.8 L470.8 163.7 L470.1 163.5 L469.5 163.1 L469 162.7 L468.6 162.1 L468.3 161.5 L468 160.9 L467.7 160.2 L467.4 159.6 L467 159.1 L466.5 158.6 L465.9 158.2 L465.3 158 L464.5 157.9 L463.8 157.9 L463.1 158.1 L462.4 158.4 L461.8 158.8 L461.4 159.3 L461 159.8 L460.8 160.5 L460.5 161.1 L460.3 161.8 L460 162.4 L459.6 163 L459.1 163.5 L458.6 163.9 L457.9 164.1 L457.2 164.2 L456.4 164.2 L455.7 164.1 L455 163.8 L454.5 163.4 L454 162.9 L453.6 162.4 L453.3 161.7 L453.1 161.1 L452.8 160.4 L452.4 159.9 L452 159.3 L451.5 158.9 L450.9 158.6 L450.2 158.4 L449.4 158.3 L448.7 158.4 L448 158.6 L447.4 158.9 L446.8 159.4 L446.4 159.9 L446.1 160.5 L445.9 161.2 L445.6 161.8 L445.4 162.5 L445.1 163.1 L444.6 163.6 L444.1 164.1 L443.5 164.4 L442.8 164.6 L442.1 164.7 L441.3 164.6 L440.6 164.4 L440 164.1 L439.5 163.7 L439.1 163.2 L438.7 162.6 L438.4 161.9 L438.2 161.3 L437.9 160.7 L437.5 160.1 L437 159.6 L436.5 159.2 L435.8 158.9 L435.1 158.8 L434.3 158.8 L433.6 158.9 L432.9 159.2 L432.3 159.5 L431.9 160 L431.5 160.6 L431.2 161.2 L431 161.9 L430.7 162.5 L430.5 163.2 L430.1 163.8 L429.7 164.3 L429.1 164.7 L428.4 165 L427.7 165.1 L427 165.1 L426.2 165 L425.6 164.8 L425 164.4 L424.5 163.9 L424.1 163.4 L423.8 162.8 L423.5 162.1 L423.2 161.5 L422.9 160.9 L422.5 160.3 L422 159.9 L421.4 159.5 L420.7 159.3 L420 159.2 L419.2 159.2 L418.5 159.4 L417.9 159.7 L417.3 160.2 L416.9 160.7 L416.6 161.3 L416.3 161.9 L416.1 162.6 L415.8 163.2 L415.5 163.8 L415.1 164.4 L414.6 164.9 L414 165.2 L413.4 165.5 L412.6 165.6 L411.9 165.6 L411.2 165.4 L410.5 165.1 L410 164.7 L409.5 164.2 L409.2 163.6 L408.9 163 L408.6 162.3 L408.3 161.7 L408 161.1 L407.5 160.6 L407 160.2 L406.3 159.9" fill="none" stroke="#8e4c30" stroke-width="1" stroke-linejoin="round"/>
<path d="M554.6 34.7 L555.1 35.3 L555.7 35.7 L556.6 35.9 L557.5 36 L558.5 36 L559.4 36.2 L560.1 36.6 L560.5 37.2 L560.7 38 L560.5 38.7 L560 39.3 L559.3 39.9 L558.5 40.3 L557.7 40.8 L557 41.4 L556.6 42 L556.5 42.8 L556.7 43.5 L557.2 44.1 L557.9 44.4 L558.8 44.6 L559.8 44.6 L560.7 44.7 L561.5 45 L562.2 45.4 L562.5 46.1 L562.6 46.8 L562.3 47.5 L561.8 48.2 L561 48.7 L560.2 49.1 L559.4 49.6 L558.8 50.2 L558.5 50.9 L558.4 51.6 L558.7 52.3 L559.3 52.8 L560.1 53.1 L561 53.2 L562 53.3 L562.9 53.4 L563.7 53.7 L564.2 54.2 L564.5 54.9 L564.5 55.7 L564.1 56.4 L563.5 57 L562.7 57.4 L561.9 57.9 L561.1 58.4 L560.6 59 L560.4 59.8 L560.4 60.5 L560.8 61.1 L561.5 61.6 L562.3 61.8 L563.3 61.9 L564.2 61.9 L565.1 62.1 L565.8 62.5 L566.3 63.1 L566.5 63.8 L566.4 64.5 L565.9 65.2 L565.2 65.7 L564.4 66.2 L563.6 66.7 L562.9 67.2 L562.4 67.9 L562.3 68.6 L562.5 69.3 L563 69.9 L563.7 70.3 L564.5 70.5 L565.5 70.5 L566.4 70.6 L567.3 70.8 L567.9 71.3 L568.3 71.9 L568.4 72.6 L568.2 73.4 L567.7 74 L566.9 74.5 L566.1 75 L565.3 75.5 L564.7 76 L564.3 76.7 L564.3 77.5 L564.5 78.2 L565.1 78.7 L565.9 79 L566.8 79.1 L567.7 79.2 L568.6 79.3 L569.4 79.6 L570 80.1 L570.3 80.8 L570.3 81.5 L570 82.2 L569.4 82.8 L568.6 83.3 L567.8 83.8 L567 84.3 L566.5 84.9 L566.2 85.6 L566.3 86.3 L566.6 87 L567.2 87.5 L568.1 87.7 L569 87.8 L570 87.8 L570.8 88 L571.6 88.3 L572.1 88.9 L572.3 89.6 L572.2 90.4 L571.8 91 L571.1 91.6 L570.3 92.1 L569.5 92.5 L568.8 93.1 L568.3 93.7 L568.1 94.5 L568.3 95.2 L568.7 95.8 L569.4 96.2 L570.3 96.4 L571.2 96.4 L572.2 96.5 L573 96.7 L573.7 97.1 L574.1 97.7 L574.3 98.5 L574.1 99.2 L573.6 99.9 L572.9 100.4 L572 100.8 L571.2 101.3 L570.6 101.9 L570.2 102.6 L570.1 103.3 L570.3 104 L570.9 104.6 L571.6 104.9 L572.5 105 L573.5 105.1 L574.4 105.2 L575.2 105.5 L575.8 105.9 L576.2 106.6 L576.2 107.3 L575.9 108.1 L575.3 108.7 L574.6 109.2 L573.7 109.6 L572.9 110.1 L572.3 110.7 L572 111.4 L572.1 112.2 L572.4 112.8 L573 113.3 L573.8 113.6 L574.7 113.7 L575.7 113.8 L576.6 113.9 L577.3 114.2 L577.9 114.8 L578.1 115.5 L578.1 116.2 L577.7 116.9 L577.1 117.5 L576.3 117.9 L575.4 118.4 L574.7 118.9 L574.2 119.6 L574 120.3 L574.1 121 L574.5 121.6 L575.2 122.1 L576 122.3 L577 122.4 L577.9 122.4 L578.8 122.6 L579.5 123 L579.9 123.6 L580.1 124.3 L579.9 125.1 L579.5 125.7 L578.8 126.2 L577.9 126.7 L577.1 127.2 L576.4 127.7 L576 128.4 L575.9 129.1 L576.1 129.9 L576.6 130.4 L577.3 130.8 L578.2 131 L579.2 131 L580.1 131.1 L580.9 131.3 L581.6 131.8 L582 132.4 L582 133.2 L581.8 133.9 L581.2 134.5 L580.5 135 L579.6 135.5 L578.8 136 L578.2 136.6 L577.9 137.3 L577.9 138 L578.2 138.7 L578.8 139.2 L579.5 139.5 L580.5 139.6 L581.4 139.7 L582.3 139.8 L583.1 140.1 L583.7 140.6 L584 141.3 L583.9 142 L583.6 142.7 L583 143.3 L582.2 143.8 L581.3 144.3 L580.6 144.8 L580 145.4 L579.8 146.1 L579.8 146.7 L580.2 147.4 L580.8 147.7 L581.6 148 L582.5 148.2 L583.4 148.6 L584.2 149 L584.7 149.8 L584.9 150.5 L584.7 151.5 L584.1 152.3 L583.4 152.6 L582.4 152.7 L581.5 152.6 L580.6 152.4 L579.8 152.3 L579.1 152.3 L578.6 152.3 L578 152.8 L577.8 153.2 L577.8 153.8 L577.7 154.5 L577.8 155.3 L578 156 L578.2 156.8 L578.3 157.6 L578.1 158.4 L577.8 159.1 L577.1 159.7 L576.5 160.2 L575.4 160.4 L574.4 160.5 L573.7 160.3 L573 159.9 L572.5 159.4 L572.1 158.9 L571.8 158.2 L571.5 157.6 L571.2 157 L570.9 156.4 L570.5 155.8 L570 155.4 L569.4 155 L568.7 154.8 L567.9 154.8 L567.2 154.8 L566.5 155 L565.9 155.3 L565.3 155.8 L564.9 156.3 L564.6 156.9 L564.3 157.6 L564.1 158.2 L563.8 158.9 L563.5 159.5 L563.1 160 L562.6 160.5 L562 160.8 L561.3 161.1 L560.6 161.1 L559.8 161.1 L559.1 160.9 L558.5 160.6 L558 160.2 L557.5 159.7 L557.2 159.1 L556.9 158.4 L556.6 157.8 L556.3 157.2 L556 156.6 L555.5 156.1 L555 155.7 L554.3 155.4 L553.6 155.2 L552.8 155.2 L552.1 155.3 L551.4 155.6 L550.8 156 L550.3 156.4 L550 157 L549.7 157.6 L549.4 158.3 L549.2 158.9 L548.9 159.6 L548.6 160.1 L548.1 160.7 L547.6 161.1 L546.9 161.4 L546.2 161.6 L545.5 161.6 L544.7 161.5 L544.1 161.3 L543.5 160.9 L543 160.4 L542.6 159.9 L542.3 159.3 L542 158.6 L541.7 158 L541.4 157.4 L541 156.8 L540.5 156.4 L539.9 156 L539.2 155.8 L538.5 155.7 L537.7 155.7 L537 155.9 L536.4 156.2 L535.8 156.6 L535.4 157.1 L535 157.7 L534.8 158.3 L534.5 159 L534.3 159.6 L534 160.2 L533.6 160.8 L533.1 161.3 L532.5 161.7 L531.9 161.9 L531.1 162 L530.4 162 L529.7 161.9 L529 161.6 L528.5 161.2 L528 160.7 L527.6 160.1 L527.3 159.5 L527.1 158.8 L526.8 158.2 L526.4 157.6 L526 157.1 L525.5 156.6 L524.8 156.3 L524.1 156.1 L523.4 156.1 L522.7 156.2 L522 156.4 L521.3 156.7 L520.8 157.2 L520.4 157.7 L520.1 158.4 L519.9 159 L519.6 159.7 L519.4 160.3 L519.1 160.9 L518.6 161.4 L518.1 161.9 L517.5 162.2 L516.8 162.4 L516 162.5 L515.3 162.4 L514.6 162.2 L514 161.9 L513.5 161.4 L513 160.9 L512.7 160.3 L512.4 159.7 L512.2 159 L511.9 158.4 L511.5 157.8 L511 157.3 L510.4 157 L509.8 156.7 L509.1 156.6 L508.3 156.6 L507.6 156.7 L506.9 157 L506.3 157.4 L505.9 157.8 L505.5 158.4 L505.2 159 L505 159.7 L504.7 160.4 L504.5 161 L504.1 161.6 L503.6 162.1 L503.1 162.5 L502.4 162.7 L501.7 162.9 L500.9 162.9 L500.2 162.8 L499.5 162.5 L499 162.2 L498.5 161.7 L498.1 161.1 L497.8 160.5 L497.5 159.9 L497.2 159.2 L496.9 158.6 L496.5 158.1 L496 157.6 L495.4 157.3 L494.7 157.1 L494 157 L493.2 157 L492.5 157.2 L491.9 157.5 L491.3 158 L490.9 158.5 L490.6 159.1 L490.3 159.7 L490.1 160.4 L489.8 161.1 L489.5 161.7 L489.1 162.2 L488.6 162.7 L488 163 L487.3 163.3 L486.6 163.4 L485.9 163.3 L485.1 163.2 L484.5 162.9 L484 162.4 L483.5 161.9 L483.2 161.3 L482.9 160.7 L482.6 160.1 L482.3 159.4 L482 158.8 L481.5 158.3 L481 157.9 L480.3 157.6 L479.6 157.5 L478.9 157.4 L478.1 157.5 L477.4 157.8 L476.8 158.1 L476.4 158.6 L476 159.2 L475.7 159.8 L475.4 160.4 L475.2 161.1 L474.9 161.7 L474.6 162.3 L474.1 162.9 L473.6 163.3 L473 163.6 L472.2 163.8 L471.5 163.8 L470.8 163.7 L470.1 163.5 L469.5 163.1 L469 162.7 L468.6 162.1 L468.3 161.5 L468 160.9 L467.7 160.2 L467.4 159.6 L467 159.1 L466.5 158.6 L465.9 158.2 L465.3 158 L464.5 157.9 L463.8 157.9 L463.1 158.1 L462.4 158.4 L461.8 158.8 L461.4 159.3 L461 159.8 L460.8 160.5 L460.5 161.1 L460.3 161.8 L460 162.4 L459.6 163 L459.1 163.5 L458.6 163.9 L457.9 164.1 L457.2 164.2 L456.4 164.2 L455.7 164.1 L455 163.8 L454.5 163.4 L454 162.9 L453.6 162.4 L453.3 161.7 L453.1 161.1 L452.8 160.4 L452.4 159.9 L452 159.3 L451.5 158.9 L450.9 158.6 L450.2 158.4 L449.4 158.3 L448.7 158.4 L448 158.6 L447.4 158.9 L446.8 159.4 L446.4 159.9 L446.1 160.5 L445.9 161.2 L445.6 161.8 L445.4 162.5 L445.1 163.1 L444.6 163.6 L444.1 164.1 L443.5 164.4 L442.8 164.6 L442.1 164.7 L441.3 164.6 L440.6 164.4 L440 164.1 L439.5 163.7 L439.1 163.2 L438.7 162.6 L438.4 161.9 L438.2 161.3 L437.9 160.7 L437.5 160.1 L437 159.6 L436.5 159.2 L435.8 158.9 L435.1 158.8 L434.3 158.8 L433.6 158.9 L432.9 159.2 L432.3 159.5 L431.9 160 L431.5 160.6 L431.2 161.2 L431 161.9 L430.7 162.5 L430.5 163.2 L430.1 163.8 L429.7 164.3 L429.1 164.7 L428.4 165 L427.7 165.1 L427 165.1 L426.2 165 L425.6 164.8 L425 164.4 L424.5 163.9 L424.1 163.4 L423.8 162.8 L423.5 162.1 L423.2 161.5 L422.9 160.9 L422.5 160.3 L422 159.9 L421.4 159.5 L420.7 159.3 L420 159.2 L419.2 159.2 L418.5 159.4 L417.9 159.7 L417.3 160.2 L416.9 160.7 L416.6 161.3 L416.3 161.9 L416.1 162.6 L415.8 163.2 L415.5 163.8 L415.1 164.4 L414.6 164.9 L414 165.2 L413.4 165.5 L412.6 165.6 L411.9 165.6 L411.2 165.4 L410.5 165.1 L410 164.7 L409.5 164.2 L409.2 163.6 L408.9 163 L408.6 162.3 L408.3 161.7 L408 161.1 L407.5 160.6 L407 160.2 L406.3 159.9" fill="none" stroke="#e0a684" stroke-width="0.4" stroke-linejoin="round"/>
<path d="M550 33.9 L550.9 33.8 L551.6 34.2 L552.1 34.7 L552.3 35.5 L552.2 36.2 L551.8 36.9 L551.2 37.4 L550.3 37.9 L549.5 38.4 L548.8 38.9 L548.3 39.6 L548.1 40.3 L548.3 41 L548.7 41.6 L549.4 42 L550.3 42.2 L551.2 42.3 L552.2 42.4 L553 42.6 L553.7 43 L554.2 43.6 L554.3 44.3 L554.1 45.1 L553.6 45.7 L552.9 46.2 L552 46.7 L551.2 47.2 L550.6 47.7 L550.2 48.4 L550.1 49.2 L550.3 49.9 L550.9 50.4 L551.6 50.7 L552.5 50.9 L553.5 50.9 L554.4 51 L555.2 51.3 L555.8 51.8 L556.2 52.4 L556.2 53.2 L555.9 53.9 L555.3 54.5 L554.6 55 L553.7 55.5 L552.9 56 L552.4 56.6 L552.1 57.3 L552.1 58 L552.4 58.7 L553 59.2 L553.8 59.4 L554.8 59.5 L555.7 59.6 L556.6 59.7 L557.4 60.1 L557.9 60.6 L558.2 61.3 L558.1 62 L557.7 62.7 L557.1 63.3 L556.3 63.8 L555.4 64.2 L554.7 64.8 L554.2 65.4 L554 66.1 L554.1 66.9 L554.5 67.5 L555.2 67.9 L556 68.1 L557 68.2 L557.9 68.3 L558.8 68.4 L559.5 68.8 L560 69.4 L560.1 70.2 L560 70.9 L559.5 71.6 L558.8 72.1 L557.9 72.6 L557.1 73 L556.4 73.6 L556 74.3 L555.9 75 L556.1 75.7 L556.6 76.3 L557.4 76.6 L558.3 76.8 L559.2 76.8 L560.1 76.9 L561 77.2 L561.6 77.6 L562 78.3 L562 79 L561.8 79.8 L561.2 80.4 L560.5 80.9 L559.6 81.3 L558.8 81.8 L558.2 82.4 L557.9 83.1 L557.9 83.9 L558.2 84.5 L558.8 85 L559.6 85.3 L560.5 85.5 L561.4 85.5 L562.4 85.6 L563.1 85.9 L563.7 86.5 L564 87.1 L563.9 87.9 L563.6 88.6 L563 89.2 L562.2 89.7 L561.3 90.1 L560.6 90.6 L560 91.2 L559.8 92 L559.9 92.7 L560.3 93.4 L560.9 93.8 L561.8 94 L562.7 94.1 L563.7 94.2 L564.6 94.3 L565.3 94.7 L565.8 95.3 L565.9 96 L565.8 96.7 L565.4 97.4 L564.7 98 L563.9 98.4 L563 98.9 L562.3 99.4 L561.9 100.1 L561.7 100.8 L561.9 101.6 L562.4 102.1 L563.1 102.5 L564 102.7 L565 102.8 L565.9 102.8 L566.7 103.1 L567.4 103.5 L567.8 104.1 L567.9 104.9 L567.7 105.6 L567.1 106.2 L566.4 106.7 L565.5 107.2 L564.7 107.7 L564.1 108.3 L563.7 109 L563.7 109.7 L564 110.4 L564.6 110.9 L565.3 111.2 L566.2 111.4 L567.2 111.4 L568.1 111.5 L568.9 111.8 L569.5 112.3 L569.8 113 L569.8 113.7 L569.5 114.4 L568.9 115 L568.1 115.5 L567.2 116 L566.5 116.5 L565.9 117.1 L565.6 117.8 L565.7 118.6 L566.1 119.2 L566.7 119.7 L567.5 119.9 L568.5 120 L569.4 120.1 L570.3 120.2 L571 120.6 L571.6 121.1 L571.8 121.9 L571.7 122.6 L571.3 123.3 L570.6 123.8 L569.8 124.3 L568.9 124.8 L568.2 125.3 L567.7 125.9 L567.6 126.7 L567.7 127.4 L568.2 128 L568.9 128.4 L569.8 128.6 L570.7 128.7 L571.6 128.7 L572.5 128.9 L573.2 129.4 L573.6 130 L573.7 130.7 L573.5 131.4 L573 132.1 L572.3 132.6 L571.4 133.1 L570.6 133.5 L570 134.1 L569.6 134.8 L569.5 135.5 L569.8 136.3 L570.3 136.8 L571.1 137.1 L572 137.3 L572.9 137.3 L573.9 137.4 L574.7 137.7 L575.3 138.2 L575.6 139 L575.6 140 L575.2 140.9 L574.4 141.3 L573.5 141.5 L572.6 141.7 L571.7 141.9 L570.9 142 L570.3 142.5 L570.1 142.9 L570 143.4 L570.2 143.9 L570.5 144.7 L571 145.3 L571.5 146.1 L572 146.8 L572.1 147.7 L572 148.5 L571.5 149.3 L570.7 150 L569.8 150.4 L569 150.5 L568.1 150.4 L567.3 150 L566.9 149.4 L566.5 148.8 L566.1 148.2 L565.8 147.6 L565.4 147 L565 146.5 L564.5 146.1 L563.8 145.9 L563.1 145.7 L562.3 145.7 L561.6 145.9 L560.9 146.1 L560.4 146.5 L559.9 147 L559.5 147.6 L559.2 148.2 L559 148.9 L558.8 149.5 L558.5 150.2 L558.1 150.8 L557.7 151.3 L557.1 151.6 L556.4 151.9 L555.7 152.1 L555 152.1 L554.2 152 L553.6 151.7 L553 151.3 L552.5 150.9 L552.1 150.3 L551.8 149.7 L551.6 149 L551.3 148.4 L550.9 147.8 L550.5 147.2 L550 146.8 L549.4 146.5 L548.7 146.2 L548 146.2 L547.2 146.2 L546.5 146.4 L545.9 146.7 L545.4 147.2 L544.9 147.7 L544.6 148.3 L544.3 148.9 L544.1 149.6 L543.9 150.2 L543.6 150.9 L543.2 151.4 L542.7 151.9 L542 152.2 L541.4 152.5 L540.6 152.5 L539.9 152.5 L539.2 152.3 L538.5 152 L538 151.6 L537.6 151.1 L537.2 150.5 L536.9 149.9 L536.6 149.2 L536.3 148.6 L536 148 L535.5 147.5 L535 147.1 L534.3 146.8 L533.6 146.6 L532.9 146.6 L532.1 146.7 L531.5 147 L530.9 147.3 L530.4 147.8 L530 148.4 L529.7 149 L529.4 149.6 L529.2 150.3 L528.9 150.9 L528.6 151.5 L528.2 152 L527.6 152.5 L527 152.8 L526.3 152.9 L525.5 153 L524.8 152.9 L524.1 152.7 L523.5 152.3 L523 151.9 L522.6 151.3 L522.3 150.7 L522 150.1 L521.7 149.4 L521.4 148.8 L521 148.2 L520.5 147.8 L519.9 147.4 L519.3 147.2 L518.5 147.1 L517.8 147.1 L517.1 147.2 L516.4 147.5 L515.9 148 L515.4 148.5 L515.1 149 L514.8 149.7 L514.5 150.3 L514.3 151 L514 151.6 L513.6 152.2 L513.2 152.7 L512.6 153 L511.9 153.3 L511.2 153.4 L510.4 153.4 L509.7 153.3 L509 153 L508.5 152.6 L508 152.1 L507.7 151.5 L507.4 150.9 L507.1 150.2 L506.8 149.6 L506.5 149 L506 148.5 L505.5 148.1 L504.9 147.7 L504.2 147.5 L503.4 147.5 L502.7 147.6 L502 147.8 L501.4 148.1 L500.9 148.6 L500.5 149.1 L500.1 149.7 L499.9 150.4 L499.7 151 L499.4 151.7 L499.1 152.3 L498.7 152.8 L498.1 153.3 L497.5 153.6 L496.8 153.8 L496.1 153.9 L495.3 153.8 L494.6 153.6 L494 153.3 L493.5 152.8 L493.1 152.3 L492.7 151.7 L492.4 151.1 L492.2 150.4 L491.9 149.8 L491.5 149.2 L491 148.7 L490.5 148.4 L489.8 148.1 L489.1 148 L488.3 148 L487.6 148.1 L486.9 148.4 L486.4 148.7 L485.9 149.2 L485.5 149.8 L485.2 150.4 L485 151.1 L484.8 151.7 L484.5 152.4 L484.1 153 L483.7 153.5 L483.1 153.9 L482.4 154.1 L481.7 154.3 L481 154.3 L480.2 154.2 L479.6 153.9 L479 153.6 L478.5 153.1 L478.1 152.5 L477.8 151.9 L477.5 151.3 L477.3 150.6 L476.9 150 L476.5 149.5 L476 149 L475.4 148.7 L474.7 148.5 L474 148.4 L473.2 148.4 L472.5 148.6 L471.9 148.9 L471.4 149.4 L470.9 149.9 L470.6 150.5 L470.3 151.1 L470.1 151.8 L469.8 152.4 L469.5 153.1 L469.1 153.6 L468.6 154.1 L468 154.4 L467.4 154.7 L466.6 154.8 L465.9 154.7 L465.2 154.6 L464.5 154.3 L464 153.8 L463.5 153.3 L463.2 152.7 L462.9 152.1 L462.6 151.5 L462.3 150.8 L462 150.2 L461.5 149.7 L461 149.3 L460.3 149 L459.6 148.9 L458.9 148.8 L458.1 148.9 L457.5 149.2 L456.9 149.5 L456.4 150 L456 150.6 L455.7 151.2 L455.4 151.8 L455.2 152.5 L454.9 153.1 L454.6 153.7 L454.2 154.2 L453.6 154.7 L453 155 L452.3 155.2 L451.5 155.2 L450.8 155.1 L450.1 154.9 L449.5 154.5 L449 154.1 L448.6 153.5 L448.3 152.9 L448 152.3 L447.7 151.7 L447.4 151 L447 150.5 L446.5 150 L445.9 149.6 L445.3 149.4 L444.5 149.3 L443.8 149.3 L443.1 149.5 L442.4 149.8 L441.8 150.2 L441.4 150.7 L441 151.2 L440.8 151.9 L440.5 152.5 L440.3 153.2 L440 153.8 L439.6 154.4 L439.2 154.9 L438.6 155.3 L437.9 155.5 L437.2 155.6 L436.4 155.6 L435.7 155.5 L435 155.2 L434.5 154.8 L434 154.3 L433.6 153.8 L433.3 153.1 L433.1 152.5 L432.8 151.8 L432.4 151.3 L432 150.7 L431.5 150.3 L430.9 150 L430.2 149.8 L429.4 149.7 L428.7 149.8 L428 150 L427.4 150.3 L426.9 150.8 L426.4 151.3 L426.1 151.9 L425.9 152.6 L425.6 153.2 L425.4 153.9 L425.1 154.5 L424.7 155 L424.1 155.5 L423.5 155.8 L422.8 156 L422.1 156.1 L421.3 156 L420.6 155.8 L420 155.5 L419.5 155.1 L419.1 154.6 L418.7 154 L418.4 153.3 L418.2 152.7 L417.9 152.1 L417.5 151.5 L417 151 L416.5 150.6 L415.8 150.3 L415.1 150.2 L414.3 150.2 L413.6 150.3 L412.9 150.6 L412.3 151 L411.9 151.4 L411.5 152 L411.2 152.6 L411 153.3 L410.7 153.9 L410.5 154.6 L410.1 155.2 L409.7 155.7 L409.1 156.1 L408.4 156.4 L407.7 156.5 L407 156.5 L406.2 156.4 L406.1 156.2" fill="none" stroke="#8e4c30" stroke-width="1" stroke-linejoin="round"/>
<path d="M550 33.9 L550.9 33.8 L551.6 34.2 L552.1 34.7 L552.3 35.5 L552.2 36.2 L551.8 36.9 L551.2 37.4 L550.3 37.9 L549.5 38.4 L548.8 38.9 L548.3 39.6 L548.1 40.3 L548.3 41 L548.7 41.6 L549.4 42 L550.3 42.2 L551.2 42.3 L552.2 42.4 L553 42.6 L553.7 43 L554.2 43.6 L554.3 44.3 L554.1 45.1 L553.6 45.7 L552.9 46.2 L552 46.7 L551.2 47.2 L550.6 47.7 L550.2 48.4 L550.1 49.2 L550.3 49.9 L550.9 50.4 L551.6 50.7 L552.5 50.9 L553.5 50.9 L554.4 51 L555.2 51.3 L555.8 51.8 L556.2 52.4 L556.2 53.2 L555.9 53.9 L555.3 54.5 L554.6 55 L553.7 55.5 L552.9 56 L552.4 56.6 L552.1 57.3 L552.1 58 L552.4 58.7 L553 59.2 L553.8 59.4 L554.8 59.5 L555.7 59.6 L556.6 59.7 L557.4 60.1 L557.9 60.6 L558.2 61.3 L558.1 62 L557.7 62.7 L557.1 63.3 L556.3 63.8 L555.4 64.2 L554.7 64.8 L554.2 65.4 L554 66.1 L554.1 66.9 L554.5 67.5 L555.2 67.9 L556 68.1 L557 68.2 L557.9 68.3 L558.8 68.4 L559.5 68.8 L560 69.4 L560.1 70.2 L560 70.9 L559.5 71.6 L558.8 72.1 L557.9 72.6 L557.1 73 L556.4 73.6 L556 74.3 L555.9 75 L556.1 75.7 L556.6 76.3 L557.4 76.6 L558.3 76.8 L559.2 76.8 L560.1 76.9 L561 77.2 L561.6 77.6 L562 78.3 L562 79 L561.8 79.8 L561.2 80.4 L560.5 80.9 L559.6 81.3 L558.8 81.8 L558.2 82.4 L557.9 83.1 L557.9 83.9 L558.2 84.5 L558.8 85 L559.6 85.3 L560.5 85.5 L561.4 85.5 L562.4 85.6 L563.1 85.9 L563.7 86.5 L564 87.1 L563.9 87.9 L563.6 88.6 L563 89.2 L562.2 89.7 L561.3 90.1 L560.6 90.6 L560 91.2 L559.8 92 L559.9 92.7 L560.3 93.4 L560.9 93.8 L561.8 94 L562.7 94.1 L563.7 94.2 L564.6 94.3 L565.3 94.7 L565.8 95.3 L565.9 96 L565.8 96.7 L565.4 97.4 L564.7 98 L563.9 98.4 L563 98.9 L562.3 99.4 L561.9 100.1 L561.7 100.8 L561.9 101.6 L562.4 102.1 L563.1 102.5 L564 102.7 L565 102.8 L565.9 102.8 L566.7 103.1 L567.4 103.5 L567.8 104.1 L567.9 104.9 L567.7 105.6 L567.1 106.2 L566.4 106.7 L565.5 107.2 L564.7 107.7 L564.1 108.3 L563.7 109 L563.7 109.7 L564 110.4 L564.6 110.9 L565.3 111.2 L566.2 111.4 L567.2 111.4 L568.1 111.5 L568.9 111.8 L569.5 112.3 L569.8 113 L569.8 113.7 L569.5 114.4 L568.9 115 L568.1 115.5 L567.2 116 L566.5 116.5 L565.9 117.1 L565.6 117.8 L565.7 118.6 L566.1 119.2 L566.7 119.7 L567.5 119.9 L568.5 120 L569.4 120.1 L570.3 120.2 L571 120.6 L571.6 121.1 L571.8 121.9 L571.7 122.6 L571.3 123.3 L570.6 123.8 L569.8 124.3 L568.9 124.8 L568.2 125.3 L567.7 125.9 L567.6 126.7 L567.7 127.4 L568.2 128 L568.9 128.4 L569.8 128.6 L570.7 128.7 L571.6 128.7 L572.5 128.9 L573.2 129.4 L573.6 130 L573.7 130.7 L573.5 131.4 L573 132.1 L572.3 132.6 L571.4 133.1 L570.6 133.5 L570 134.1 L569.6 134.8 L569.5 135.5 L569.8 136.3 L570.3 136.8 L571.1 137.1 L572 137.3 L572.9 137.3 L573.9 137.4 L574.7 137.7 L575.3 138.2 L575.6 139 L575.6 140 L575.2 140.9 L574.4 141.3 L573.5 141.5 L572.6 141.7 L571.7 141.9 L570.9 142 L570.3 142.5 L570.1 142.9 L570 143.4 L570.2 143.9 L570.5 144.7 L571 145.3 L571.5 146.1 L572 146.8 L572.1 147.7 L572 148.5 L571.5 149.3 L570.7 150 L569.8 150.4 L569 150.5 L568.1 150.4 L567.3 150 L566.9 149.4 L566.5 148.8 L566.1 148.2 L565.8 147.6 L565.4 147 L565 146.5 L564.5 146.1 L563.8 145.9 L563.1 145.7 L562.3 145.7 L561.6 145.9 L560.9 146.1 L560.4 146.5 L559.9 147 L559.5 147.6 L559.2 148.2 L559 148.9 L558.8 149.5 L558.5 150.2 L558.1 150.8 L557.7 151.3 L557.1 151.6 L556.4 151.9 L555.7 152.1 L555 152.1 L554.2 152 L553.6 151.7 L553 151.3 L552.5 150.9 L552.1 150.3 L551.8 149.7 L551.6 149 L551.3 148.4 L550.9 147.8 L550.5 147.2 L550 146.8 L549.4 146.5 L548.7 146.2 L548 146.2 L547.2 146.2 L546.5 146.4 L545.9 146.7 L545.4 147.2 L544.9 147.7 L544.6 148.3 L544.3 148.9 L544.1 149.6 L543.9 150.2 L543.6 150.9 L543.2 151.4 L542.7 151.9 L542 152.2 L541.4 152.5 L540.6 152.5 L539.9 152.5 L539.2 152.3 L538.5 152 L538 151.6 L537.6 151.1 L537.2 150.5 L536.9 149.9 L536.6 149.2 L536.3 148.6 L536 148 L535.5 147.5 L535 147.1 L534.3 146.8 L533.6 146.6 L532.9 146.6 L532.1 146.7 L531.5 147 L530.9 147.3 L530.4 147.8 L530 148.4 L529.7 149 L529.4 149.6 L529.2 150.3 L528.9 150.9 L528.6 151.5 L528.2 152 L527.6 152.5 L527 152.8 L526.3 152.9 L525.5 153 L524.8 152.9 L524.1 152.7 L523.5 152.3 L523 151.9 L522.6 151.3 L522.3 150.7 L522 150.1 L521.7 149.4 L521.4 148.8 L521 148.2 L520.5 147.8 L519.9 147.4 L519.3 147.2 L518.5 147.1 L517.8 147.1 L517.1 147.2 L516.4 147.5 L515.9 148 L515.4 148.5 L515.1 149 L514.8 149.7 L514.5 150.3 L514.3 151 L514 151.6 L513.6 152.2 L513.2 152.7 L512.6 153 L511.9 153.3 L511.2 153.4 L510.4 153.4 L509.7 153.3 L509 153 L508.5 152.6 L508 152.1 L507.7 151.5 L507.4 150.9 L507.1 150.2 L506.8 149.6 L506.5 149 L506 148.5 L505.5 148.1 L504.9 147.7 L504.2 147.5 L503.4 147.5 L502.7 147.6 L502 147.8 L501.4 148.1 L500.9 148.6 L500.5 149.1 L500.1 149.7 L499.9 150.4 L499.7 151 L499.4 151.7 L499.1 152.3 L498.7 152.8 L498.1 153.3 L497.5 153.6 L496.8 153.8 L496.1 153.9 L495.3 153.8 L494.6 153.6 L494 153.3 L493.5 152.8 L493.1 152.3 L492.7 151.7 L492.4 151.1 L492.2 150.4 L491.9 149.8 L491.5 149.2 L491 148.7 L490.5 148.4 L489.8 148.1 L489.1 148 L488.3 148 L487.6 148.1 L486.9 148.4 L486.4 148.7 L485.9 149.2 L485.5 149.8 L485.2 150.4 L485 151.1 L484.8 151.7 L484.5 152.4 L484.1 153 L483.7 153.5 L483.1 153.9 L482.4 154.1 L481.7 154.3 L481 154.3 L480.2 154.2 L479.6 153.9 L479 153.6 L478.5 153.1 L478.1 152.5 L477.8 151.9 L477.5 151.3 L477.3 150.6 L476.9 150 L476.5 149.5 L476 149 L475.4 148.7 L474.7 148.5 L474 148.4 L473.2 148.4 L472.5 148.6 L471.9 148.9 L471.4 149.4 L470.9 149.9 L470.6 150.5 L470.3 151.1 L470.1 151.8 L469.8 152.4 L469.5 153.1 L469.1 153.6 L468.6 154.1 L468 154.4 L467.4 154.7 L466.6 154.8 L465.9 154.7 L465.2 154.6 L464.5 154.3 L464 153.8 L463.5 153.3 L463.2 152.7 L462.9 152.1 L462.6 151.5 L462.3 150.8 L462 150.2 L461.5 149.7 L461 149.3 L460.3 149 L459.6 148.9 L458.9 148.8 L458.1 148.9 L457.5 149.2 L456.9 149.5 L456.4 150 L456 150.6 L455.7 151.2 L455.4 151.8 L455.2 152.5 L454.9 153.1 L454.6 153.7 L454.2 154.2 L453.6 154.7 L453 155 L452.3 155.2 L451.5 155.2 L450.8 155.1 L450.1 154.9 L449.5 154.5 L449 154.1 L448.6 153.5 L448.3 152.9 L448 152.3 L447.7 151.7 L447.4 151 L447 150.5 L446.5 150 L445.9 149.6 L445.3 149.4 L444.5 149.3 L443.8 149.3 L443.1 149.5 L442.4 149.8 L441.8 150.2 L441.4 150.7 L441 151.2 L440.8 151.9 L440.5 152.5 L440.3 153.2 L440 153.8 L439.6 154.4 L439.2 154.9 L438.6 155.3 L437.9 155.5 L437.2 155.6 L436.4 155.6 L435.7 155.5 L435 155.2 L434.5 154.8 L434 154.3 L433.6 153.8 L433.3 153.1 L433.1 152.5 L432.8 151.8 L432.4 151.3 L432 150.7 L431.5 150.3 L430.9 150 L430.2 149.8 L429.4 149.7 L428.7 149.8 L428 150 L427.4 150.3 L426.9 150.8 L426.4 151.3 L426.1 151.9 L425.9 152.6 L425.6 153.2 L425.4 153.9 L425.1 154.5 L424.7 155 L424.1 155.5 L423.5 155.8 L422.8 156 L422.1 156.1 L421.3 156 L420.6 155.8 L420 155.5 L419.5 155.1 L419.1 154.6 L418.7 154 L418.4 153.3 L418.2 152.7 L417.9 152.1 L417.5 151.5 L417 151 L416.5 150.6 L415.8 150.3 L415.1 150.2 L414.3 150.2 L413.6 150.3 L412.9 150.6 L412.3 151 L411.9 151.4 L411.5 152 L411.2 152.6 L411 153.3 L410.7 153.9 L410.5 154.6 L410.1 155.2 L409.7 155.7 L409.1 156.1 L408.4 156.4 L407.7 156.5 L407 156.5 L406.2 156.4 L406.1 156.2" fill="none" stroke="#e0a684" stroke-width="0.4" stroke-linejoin="round"/>
<path d="M544.7 45 L544 45.4 L543.3 46 L542.9 46.6 L542.8 47.4 L543 48.1 L543.5 48.7 L544.2 49 L545 49.2 L545.9 49.3 L546.8 49.4 L547.6 49.7 L548.1 50.1 L548.5 50.8 L548.5 51.5 L548.3 52.3 L547.7 52.8 L547 53.3 L546.2 53.8 L545.5 54.3 L545 54.9 L544.8 55.6 L544.8 56.3 L545.2 57 L545.8 57.4 L546.6 57.7 L547.4 57.8 L548.3 57.9 L549.1 58 L549.8 58.4 L550.3 59 L550.5 59.7 L550.3 60.5 L549.9 61.1 L549.3 61.6 L548.5 62.1 L547.7 62.5 L547.1 63.1 L546.8 63.8 L546.7 64.5 L546.9 65.2 L547.4 65.8 L548.1 66.1 L548.9 66.3 L549.8 66.3 L550.7 66.5 L551.4 66.7 L552 67.2 L552.3 67.9 L552.4 68.7 L552.1 69.4 L551.5 69.9 L550.8 70.4 L550 70.9 L549.3 71.4 L548.8 72 L548.6 72.7 L548.7 73.4 L549.1 74.1 L549.7 74.5 L550.5 74.8 L551.3 74.9 L552.2 74.9 L553 75.1 L553.7 75.5 L554.1 76.1 L554.3 76.8 L554.2 77.6 L553.7 78.2 L553.1 78.7 L552.3 79.2 L551.5 79.6 L550.9 80.2 L550.6 80.9 L550.5 81.6 L550.8 82.3 L551.3 82.9 L552 83.2 L552.8 83.4 L553.7 83.4 L554.6 83.5 L555.3 83.8 L555.9 84.3 L556.2 85 L556.2 85.8 L555.9 86.5 L555.3 87 L554.6 87.5 L553.8 88 L553.1 88.5 L552.6 89.1 L552.4 89.8 L552.5 90.5 L552.9 91.2 L553.6 91.6 L554.4 91.8 L555.2 91.9 L556.1 92 L556.9 92.2 L557.6 92.6 L558 93.2 L558.1 94 L558 94.7 L557.5 95.3 L556.8 95.8 L556.1 96.3 L555.3 96.7 L554.7 97.3 L554.4 98 L554.4 98.7 L554.6 99.4 L555.2 100 L555.9 100.3 L556.7 100.4 L557.6 100.5 L558.5 100.6 L559.2 100.9 L559.8 101.5 L560 102.1 L560 102.9 L559.7 103.6 L559.1 104.1 L558.4 104.6 L557.6 105 L556.9 105.6 L556.4 106.2 L556.3 106.9 L556.4 107.6 L556.8 108.3 L557.5 108.7 L558.3 108.9 L559.1 109 L560 109.1 L560.8 109.3 L561.5 109.7 L561.9 110.3 L562 111.1 L561.8 111.8 L561.3 112.4 L560.6 112.9 L559.9 113.4 L559.1 113.8 L558.5 114.4 L558.2 115.1 L558.2 115.8 L558.5 116.5 L559 117.1 L559.8 117.4 L560.6 117.5 L561.5 117.5 L562.4 117.7 L563.1 118 L563.6 118.6 L563.9 119.3 L563.8 120 L563.5 120.7 L562.9 121.2 L562.1 121.7 L561.4 122.1 L560.7 122.7 L560.3 123.3 L560.1 124 L560.2 124.8 L560.7 125.4 L561.3 125.8 L562.2 126 L563 126 L563.9 126.1 L564.7 126.4 L565.3 126.8 L565.7 127.5 L565.8 128.3 L565.6 129 L565 129.8 L564.2 130.1 L563.4 130.4 L562.5 130.6 L561.8 131 L561.4 131.3 L561.2 131.7 L561.1 132.5 L561.3 133 L561.7 133.7 L562.3 134.2 L562.8 134.9 L563.2 135.5 L563.3 136.4 L563.2 137.1 L562.7 137.9 L561.9 138.5 L561.2 138.8 L560.2 138.9 L559.6 138.7 L558.9 138.4 L558.5 137.9 L558.1 137.5 L557.7 137.1 L557.2 136.7 L556.7 136.5 L556.3 136.3 L555.7 136.2 L554.9 136.1 L554.2 136.2 L553.5 136.4 L552.9 136.7 L552.4 137.1 L552.1 137.5 L551.8 138 L551.5 138.5 L551.3 139 L551 139.4 L550.7 139.9 L550.2 140.2 L549.6 140.5 L548.9 140.8 L548.2 140.9 L547.4 140.9 L546.7 140.8 L546.1 140.5 L545.6 140.2 L545.1 139.9 L544.8 139.4 L544.5 139 L544.2 138.5 L543.9 138 L543.5 137.6 L543 137.3 L542.5 137 L541.8 136.8 L541 136.8 L540.3 136.8 L539.6 137 L538.9 137.2 L538.4 137.5 L538 137.9 L537.7 138.4 L537.4 138.9 L537.2 139.4 L536.9 139.9 L536.6 140.3 L536.2 140.7 L535.6 141.1 L535 141.3 L534.3 141.5 L533.5 141.5 L532.8 141.5 L532.1 141.3 L531.6 141 L531.1 140.7 L530.7 140.3 L530.4 139.8 L530.1 139.3 L529.8 138.9 L529.5 138.4 L529 138.1 L528.5 137.8 L527.9 137.5 L527.1 137.4 L526.4 137.4 L525.7 137.5 L525 137.7 L524.4 138 L523.9 138.4 L523.6 138.8 L523.3 139.3 L523.1 139.8 L522.8 140.3 L522.5 140.8 L522.2 141.2 L521.7 141.6 L521.1 141.9 L520.4 142.1 L519.6 142.2 L518.9 142.1 L518.2 142 L517.6 141.8 L517 141.5 L516.6 141.1 L516.3 140.7 L516 140.2 L515.7 139.7 L515.4 139.3 L515 138.9 L514.5 138.5 L513.9 138.3 L513.2 138.1 L512.5 138.1 L511.8 138.1 L511 138.3 L510.4 138.5 L509.9 138.9 L509.5 139.3 L509.2 139.8 L508.9 140.2 L508.7 140.7 L508.4 141.2 L508.1 141.7 L507.7 142.1 L507.1 142.4 L506.5 142.6 L505.7 142.8 L505 142.8 L504.3 142.7 L503.6 142.5 L503 142.3 L502.6 141.9 L502.2 141.5 L501.9 141 L501.6 140.6 L501.3 140.1 L501 139.7 L500.5 139.3 L500 139 L499.3 138.8 L498.6 138.7 L497.9 138.7 L497.1 138.8 L496.5 139.1 L495.9 139.4 L495.4 139.8 L495.1 140.2 L494.8 140.7 L494.6 141.2 L494.3 141.7 L494 142.1 L493.7 142.6 L493.2 142.9 L492.5 143.2 L491.8 143.4 L491.1 143.4 L490.4 143.4 L489.7 143.3 L489 143 L488.5 142.7 L488.1 142.3 L487.8 141.9 L487.5 141.4 L487.2 140.9 L486.9 140.5 L486.5 140.1 L486 139.8 L485.4 139.5 L484.7 139.4 L484 139.3 L483.2 139.4 L482.5 139.6 L481.9 139.9 L481.4 140.2 L481 140.6 L480.7 141.1 L480.5 141.6 L480.2 142.1 L480 142.6 L479.6 143 L479.2 143.4 L478.6 143.7 L477.9 143.9 L477.2 144.1 L476.5 144.1 L475.7 144 L475.1 143.8 L474.5 143.5 L474.1 143.1 L473.7 142.7 L473.4 142.2 L473.1 141.8 L472.8 141.3 L472.5 140.9 L472 140.5 L471.4 140.2 L470.8 140.1 L470.1 140 L469.3 140 L468.6 140.1 L467.9 140.4 L467.4 140.7 L466.9 141.1 L466.6 141.5 L466.3 142 L466.1 142.5 L465.9 143 L465.6 143.5 L465.1 143.9 L464.6 144.2 L464 144.5 L463.3 144.7 L462.6 144.7 L461.8 144.7 L461.1 144.5 L460.5 144.3 L460 143.9 L459.6 143.5 L459.3 143.1 L459 142.6 L458.8 142.1 L458.4 141.7 L458 141.3 L457.5 141 L456.9 140.8 L456.2 140.6 L455.4 140.6 L454.7 140.7 L454 140.9 L453.4 141.2 L452.9 141.6 L452.5 142 L452.2 142.5 L452 143 L451.8 143.4 L451.5 143.9 L451.1 144.4 L450.6 144.7 L450.1 145 L449.4 145.2 L448.7 145.4 L447.9 145.4 L447.2 145.2 L446.6 145 L446 144.7 L445.6 144.4 L445.2 143.9 L444.9 143.5 L444.7 143 L444.4 142.5 L444 142.1 L443.5 141.8 L442.9 141.5 L442.2 141.3 L441.5 141.3 L440.8 141.3 L440.1 141.5 L439.4 141.7 L438.9 142 L438.4 142.4 L438.1 142.9 L437.9 143.4 L437.6 143.9 L437.4 144.4 L437.1 144.8 L436.6 145.2 L436.1 145.6 L435.5 145.8 L434.8 146 L434 146 L433.3 145.9 L432.6 145.8 L432 145.5 L431.5 145.2 L431.2 144.8 L430.8 144.3 L430.6 143.8 L430.3 143.4 L429.9 142.9 L429.5 142.5 L429 142.2 L428.3 142 L427.6 141.9 L426.9 141.9 L426.1 142 L425.5 142.2 L424.9 142.5 L424.4 142.9 L424 143.3 L423.8 143.8 L423.5 144.3 L423.3 144.8 L423 145.3 L422.6 145.7 L422.1 146.1 L421.5 146.4 L420.9 146.6 L420.1 146.6 L419.4 146.6 L418.7 146.5 L418 146.3 L417.5 146 L417.1 145.6 L416.7 145.1 L416.5 144.7 L416.2 144.2 L415.9 143.8 L415.5 143.3 L415 143 L414.4 142.8 L413.7 142.6 L413 142.5 L412.2 142.6 L411.9 142.8" fill="none" stroke="#8e4c30" stroke-width="1" stroke-linejoin="round"/>
<path d="M544.7 45 L544 45.4 L543.3 46 L542.9 46.6 L542.8 47.4 L543 48.1 L543.5 48.7 L544.2 49 L545 49.2 L545.9 49.3 L546.8 49.4 L547.6 49.7 L548.1 50.1 L548.5 50.8 L548.5 51.5 L548.3 52.3 L547.7 52.8 L547 53.3 L546.2 53.8 L545.5 54.3 L545 54.9 L544.8 55.6 L544.8 56.3 L545.2 57 L545.8 57.4 L546.6 57.7 L547.4 57.8 L548.3 57.9 L549.1 58 L549.8 58.4 L550.3 59 L550.5 59.7 L550.3 60.5 L549.9 61.1 L549.3 61.6 L548.5 62.1 L547.7 62.5 L547.1 63.1 L546.8 63.8 L546.7 64.5 L546.9 65.2 L547.4 65.8 L548.1 66.1 L548.9 66.3 L549.8 66.3 L550.7 66.5 L551.4 66.7 L552 67.2 L552.3 67.9 L552.4 68.7 L552.1 69.4 L551.5 69.9 L550.8 70.4 L550 70.9 L549.3 71.4 L548.8 72 L548.6 72.7 L548.7 73.4 L549.1 74.1 L549.7 74.5 L550.5 74.8 L551.3 74.9 L552.2 74.9 L553 75.1 L553.7 75.5 L554.1 76.1 L554.3 76.8 L554.2 77.6 L553.7 78.2 L553.1 78.7 L552.3 79.2 L551.5 79.6 L550.9 80.2 L550.6 80.9 L550.5 81.6 L550.8 82.3 L551.3 82.9 L552 83.2 L552.8 83.4 L553.7 83.4 L554.6 83.5 L555.3 83.8 L555.9 84.3 L556.2 85 L556.2 85.8 L555.9 86.5 L555.3 87 L554.6 87.5 L553.8 88 L553.1 88.5 L552.6 89.1 L552.4 89.8 L552.5 90.5 L552.9 91.2 L553.6 91.6 L554.4 91.8 L555.2 91.9 L556.1 92 L556.9 92.2 L557.6 92.6 L558 93.2 L558.1 94 L558 94.7 L557.5 95.3 L556.8 95.8 L556.1 96.3 L555.3 96.7 L554.7 97.3 L554.4 98 L554.4 98.7 L554.6 99.4 L555.2 100 L555.9 100.3 L556.7 100.4 L557.6 100.5 L558.5 100.6 L559.2 100.9 L559.8 101.5 L560 102.1 L560 102.9 L559.7 103.6 L559.1 104.1 L558.4 104.6 L557.6 105 L556.9 105.6 L556.4 106.2 L556.3 106.9 L556.4 107.6 L556.8 108.3 L557.5 108.7 L558.3 108.9 L559.1 109 L560 109.1 L560.8 109.3 L561.5 109.7 L561.9 110.3 L562 111.1 L561.8 111.8 L561.3 112.4 L560.6 112.9 L559.9 113.4 L559.1 113.8 L558.5 114.4 L558.2 115.1 L558.2 115.8 L558.5 116.5 L559 117.1 L559.8 117.4 L560.6 117.5 L561.5 117.5 L562.4 117.7 L563.1 118 L563.6 118.6 L563.9 119.3 L563.8 120 L563.5 120.7 L562.9 121.2 L562.1 121.7 L561.4 122.1 L560.7 122.7 L560.3 123.3 L560.1 124 L560.2 124.8 L560.7 125.4 L561.3 125.8 L562.2 126 L563 126 L563.9 126.1 L564.7 126.4 L565.3 126.8 L565.7 127.5 L565.8 128.3 L565.6 129 L565 129.8 L564.2 130.1 L563.4 130.4 L562.5 130.6 L561.8 131 L561.4 131.3 L561.2 131.7 L561.1 132.5 L561.3 133 L561.7 133.7 L562.3 134.2 L562.8 134.9 L563.2 135.5 L563.3 136.4 L563.2 137.1 L562.7 137.9 L561.9 138.5 L561.2 138.8 L560.2 138.9 L559.6 138.7 L558.9 138.4 L558.5 137.9 L558.1 137.5 L557.7 137.1 L557.2 136.7 L556.7 136.5 L556.3 136.3 L555.7 136.2 L554.9 136.1 L554.2 136.2 L553.5 136.4 L552.9 136.7 L552.4 137.1 L552.1 137.5 L551.8 138 L551.5 138.5 L551.3 139 L551 139.4 L550.7 139.9 L550.2 140.2 L549.6 140.5 L548.9 140.8 L548.2 140.9 L547.4 140.9 L546.7 140.8 L546.1 140.5 L545.6 140.2 L545.1 139.9 L544.8 139.4 L544.5 139 L544.2 138.5 L543.9 138 L543.5 137.6 L543 137.3 L542.5 137 L541.8 136.8 L541 136.8 L540.3 136.8 L539.6 137 L538.9 137.2 L538.4 137.5 L538 137.9 L537.7 138.4 L537.4 138.9 L537.2 139.4 L536.9 139.9 L536.6 140.3 L536.2 140.7 L535.6 141.1 L535 141.3 L534.3 141.5 L533.5 141.5 L532.8 141.5 L532.1 141.3 L531.6 141 L531.1 140.7 L530.7 140.3 L530.4 139.8 L530.1 139.3 L529.8 138.9 L529.5 138.4 L529 138.1 L528.5 137.8 L527.9 137.5 L527.1 137.4 L526.4 137.4 L525.7 137.5 L525 137.7 L524.4 138 L523.9 138.4 L523.6 138.8 L523.3 139.3 L523.1 139.8 L522.8 140.3 L522.5 140.8 L522.2 141.2 L521.7 141.6 L521.1 141.9 L520.4 142.1 L519.6 142.2 L518.9 142.1 L518.2 142 L517.6 141.8 L517 141.5 L516.6 141.1 L516.3 140.7 L516 140.2 L515.7 139.7 L515.4 139.3 L515 138.9 L514.5 138.5 L513.9 138.3 L513.2 138.1 L512.5 138.1 L511.8 138.1 L511 138.3 L510.4 138.5 L509.9 138.9 L509.5 139.3 L509.2 139.8 L508.9 140.2 L508.7 140.7 L508.4 141.2 L508.1 141.7 L507.7 142.1 L507.1 142.4 L506.5 142.6 L505.7 142.8 L505 142.8 L504.3 142.7 L503.6 142.5 L503 142.3 L502.6 141.9 L502.2 141.5 L501.9 141 L501.6 140.6 L501.3 140.1 L501 139.7 L500.5 139.3 L500 139 L499.3 138.8 L498.6 138.7 L497.9 138.7 L497.1 138.8 L496.5 139.1 L495.9 139.4 L495.4 139.8 L495.1 140.2 L494.8 140.7 L494.6 141.2 L494.3 141.7 L494 142.1 L493.7 142.6 L493.2 142.9 L492.5 143.2 L491.8 143.4 L491.1 143.4 L490.4 143.4 L489.7 143.3 L489 143 L488.5 142.7 L488.1 142.3 L487.8 141.9 L487.5 141.4 L487.2 140.9 L486.9 140.5 L486.5 140.1 L486 139.8 L485.4 139.5 L484.7 139.4 L484 139.3 L483.2 139.4 L482.5 139.6 L481.9 139.9 L481.4 140.2 L481 140.6 L480.7 141.1 L480.5 141.6 L480.2 142.1 L480 142.6 L479.6 143 L479.2 143.4 L478.6 143.7 L477.9 143.9 L477.2 144.1 L476.5 144.1 L475.7 144 L475.1 143.8 L474.5 143.5 L474.1 143.1 L473.7 142.7 L473.4 142.2 L473.1 141.8 L472.8 141.3 L472.5 140.9 L472 140.5 L471.4 140.2 L470.8 140.1 L470.1 140 L469.3 140 L468.6 140.1 L467.9 140.4 L467.4 140.7 L466.9 141.1 L466.6 141.5 L466.3 142 L466.1 142.5 L465.9 143 L465.6 143.5 L465.1 143.9 L464.6 144.2 L464 144.5 L463.3 144.7 L462.6 144.7 L461.8 144.7 L461.1 144.5 L460.5 144.3 L460 143.9 L459.6 143.5 L459.3 143.1 L459 142.6 L458.8 142.1 L458.4 141.7 L458 141.3 L457.5 141 L456.9 140.8 L456.2 140.6 L455.4 140.6 L454.7 140.7 L454 140.9 L453.4 141.2 L452.9 141.6 L452.5 142 L452.2 142.5 L452 143 L451.8 143.4 L451.5 143.9 L451.1 144.4 L450.6 144.7 L450.1 145 L449.4 145.2 L448.7 145.4 L447.9 145.4 L447.2 145.2 L446.6 145 L446 144.7 L445.6 144.4 L445.2 143.9 L444.9 143.5 L444.7 143 L444.4 142.5 L444 142.1 L443.5 141.8 L442.9 141.5 L442.2 141.3 L441.5 141.3 L440.8 141.3 L440.1 141.5 L439.4 141.7 L438.9 142 L438.4 142.4 L438.1 142.9 L437.9 143.4 L437.6 143.9 L437.4 144.4 L437.1 144.8 L436.6 145.2 L436.1 145.6 L435.5 145.8 L434.8 146 L434 146 L433.3 145.9 L432.6 145.8 L432 145.5 L431.5 145.2 L431.2 144.8 L430.8 144.3 L430.6 143.8 L430.3 143.4 L429.9 142.9 L429.5 142.5 L429 142.2 L428.3 142 L427.6 141.9 L426.9 141.9 L426.1 142 L425.5 142.2 L424.9 142.5 L424.4 142.9 L424 143.3 L423.8 143.8 L423.5 144.3 L423.3 144.8 L423 145.3 L422.6 145.7 L422.1 146.1 L421.5 146.4 L420.9 146.6 L420.1 146.6 L419.4 146.6 L418.7 146.5 L418 146.3 L417.5 146 L417.1 145.6 L416.7 145.1 L416.5 144.7 L416.2 144.2 L415.9 143.8 L415.5 143.3 L415 143 L414.4 142.8 L413.7 142.6 L413 142.5 L412.2 142.6 L411.9 142.8" fill="none" stroke="#e0a684" stroke-width="0.4" stroke-linejoin="round"/>
<path d="M535.2 46.7 L535.7 47.2 L536.5 47.5 L537.3 47.7 L538.2 47.7 L539.1 47.9 L539.8 48.2 L540.3 48.7 L540.6 49.4 L540.5 50.2 L540.2 50.9 L539.6 51.4 L538.8 51.9 L538.1 52.3 L537.4 52.8 L536.9 53.5 L536.8 54.2 L536.9 54.9 L537.4 55.5 L538 56 L538.9 56.1 L539.7 56.2 L540.6 56.3 L541.4 56.5 L542 57 L542.4 57.6 L542.5 58.4 L542.3 59.1 L541.8 59.7 L541.1 60.2 L540.3 60.6 L539.6 61.1 L539 61.7 L538.7 62.4 L538.8 63.1 L539.1 63.8 L539.6 64.3 L540.4 64.6 L541.3 64.7 L542.1 64.8 L543 64.9 L543.7 65.3 L544.2 65.9 L544.4 66.6 L544.3 67.3 L544 68 L543.3 68.5 L542.6 69 L541.8 69.4 L541.2 70 L540.8 70.6 L540.6 71.3 L540.8 72.1 L541.3 72.7 L541.9 73 L542.8 73.2 L543.7 73.3 L544.5 73.4 L545.3 73.6 L545.9 74.1 L546.3 74.8 L546.3 75.5 L546.1 76.2 L545.6 76.8 L544.9 77.3 L544.1 77.7 L543.4 78.2 L542.8 78.8 L542.6 79.5 L542.6 80.3 L542.9 80.9 L543.5 81.4 L544.3 81.7 L545.2 81.8 L546.1 81.9 L546.9 82 L547.6 82.4 L548.1 83 L548.3 83.7 L548.2 84.4 L547.8 85.1 L547.1 85.6 L546.4 86.1 L545.6 86.5 L545 87.1 L544.6 87.7 L544.5 88.5 L544.7 89.2 L545.2 89.8 L545.9 90.1 L546.7 90.3 L547.6 90.4 L548.5 90.5 L549.2 90.7 L549.8 91.2 L550.1 91.9 L550.2 92.6 L549.9 93.3 L549.3 93.9 L548.6 94.4 L547.8 94.9 L547.1 95.3 L546.6 95.9 L546.4 96.7 L546.5 97.4 L546.8 98.1 L547.4 98.5 L548.2 98.8 L549.1 98.9 L550 98.9 L550.8 99.1 L551.5 99.5 L551.9 100.1 L552.1 100.8 L552 101.6 L551.5 102.2 L550.9 102.7 L550.1 103.2 L549.4 103.6 L548.8 104.2 L548.4 104.9 L548.3 105.6 L548.6 106.3 L549.1 106.9 L549.8 107.2 L550.6 107.4 L551.5 107.4 L552.4 107.5 L553.1 107.8 L553.7 108.3 L554 109 L554 109.8 L553.7 110.5 L553.1 111 L552.4 111.5 L551.6 112 L550.9 112.5 L550.4 113.1 L550.2 113.8 L550.3 114.5 L550.7 115.2 L551.3 115.6 L552.1 115.8 L553 115.9 L553.9 116 L554.7 116.2 L555.4 116.6 L555.8 117.2 L555.9 118 L555.8 118.7 L555.3 119.3 L554.7 119.8 L553.9 120.3 L553.1 120.7 L552.5 121.3 L552.2 122 L552.2 122.7 L552.4 123.4 L553 124 L553.7 124.3 L554.5 124.4 L555.4 124.5 L556.3 124.6 L557 124.9 L557.6 125.6 L557.8 126.6 L557.6 127.6 L557 128.2 L556.2 128.6 L555.4 128.7 L554.5 128.7 L553.7 128.8 L553 128.9 L552.5 129.3 L552.2 129.7 L552.1 130.1 L552.1 130.7 L552.1 131.4 L552.4 132.1 L552.5 132.7 L552.7 133.4 L552.5 134.1 L552.3 134.7 L551.7 135.3 L550.8 135.8 L549.8 136 L548.9 136 L548.2 135.8 L547.6 135.5 L547.2 135.2 L546.8 134.8 L546.4 134.3 L546.2 133.9 L545.9 133.4 L545.5 132.9 L545.1 132.6 L544.6 132.3 L544 132 L543.2 131.9 L542.5 131.9 L541.8 132 L541.1 132.2 L540.5 132.5 L540 132.9 L539.6 133.3 L539.4 133.8 L539.1 134.3 L538.9 134.8 L538.6 135.2 L538.2 135.7 L537.8 136 L537.2 136.3 L536.5 136.5 L535.7 136.6 L535 136.6 L534.3 136.5 L533.7 136.3 L533.1 136 L532.7 135.6 L532.4 135.2 L532.1 134.7 L531.8 134.2 L531.5 133.8 L531.1 133.4 L530.6 133 L530 132.8 L529.3 132.6 L528.6 132.5 L527.8 132.6 L527.1 132.8 L526.5 133 L526 133.4 L525.6 133.8 L525.2 134.2 L525 134.7 L524.8 135.2 L524.5 135.7 L524.2 136.2 L523.7 136.6 L523.2 136.9 L522.5 137.1 L521.8 137.3 L521.1 137.3 L520.4 137.2 L519.7 137 L519.1 136.8 L518.6 136.4 L518.3 136 L518 135.5 L517.7 135.1 L517.4 134.6 L517 134.2 L516.6 133.8 L516 133.5 L515.4 133.3 L514.7 133.2 L513.9 133.2 L513.2 133.3 L512.5 133.6 L512 133.9 L511.5 134.3 L511.1 134.7 L510.9 135.2 L510.6 135.7 L510.4 136.2 L510.1 136.6 L509.7 137.1 L509.2 137.4 L508.6 137.7 L507.9 137.9 L507.2 137.9 L506.4 137.9 L505.7 137.8 L505.1 137.5 L504.6 137.2 L504.2 136.8 L503.9 136.4 L503.6 135.9 L503.3 135.4 L503 135 L502.6 134.6 L502.1 134.3 L501.4 134 L500.8 133.9 L500 133.9 L499.3 133.9 L498.6 134.1 L498 134.4 L497.5 134.7 L497.1 135.2 L496.8 135.6 L496.5 136.1 L496.3 136.6 L496 137.1 L495.7 137.5 L495.2 137.9 L494.6 138.2 L494 138.5 L493.3 138.6 L492.5 138.6 L491.8 138.5 L491.1 138.3 L490.6 138 L490.1 137.6 L489.8 137.2 L489.5 136.7 L489.2 136.3 L488.9 135.8 L488.5 135.4 L488.1 135 L487.5 134.8 L486.8 134.6 L486.1 134.5 L485.3 134.5 L484.6 134.7 L484 134.9 L483.4 135.2 L483 135.6 L482.7 136.1 L482.4 136.6 L482.2 137.1 L481.9 137.6 L481.6 138 L481.2 138.4 L480.7 138.8 L480 139 L479.3 139.2 L478.6 139.3 L477.9 139.2 L477.2 139 L476.6 138.8 L476.1 138.4 L475.7 138 L475.4 137.6 L475.1 137.1 L474.8 136.6 L474.5 136.2 L474.1 135.8 L473.5 135.5 L472.9 135.3 L472.2 135.2 L471.4 135.2 L470.7 135.3 L470 135.5 L469.4 135.7 L468.9 136.1 L468.6 136.5 L468.3 137 L468 137.5 L467.8 138 L467.5 138.5 L467.2 138.9 L466.7 139.3 L466.1 139.6 L465.4 139.8 L464.7 139.9 L463.9 139.9 L463.2 139.8 L462.6 139.6 L462.1 139.2 L461.6 138.9 L461.3 138.4 L461 138 L460.7 137.5 L460.4 137 L460 136.6 L459.5 136.3 L458.9 136 L458.3 135.9 L457.5 135.8 L456.8 135.9 L456.1 136 L455.4 136.3 L454.9 136.6 L454.5 137 L454.2 137.5 L453.9 138 L453.7 138.5 L453.4 139 L453.1 139.4 L452.7 139.8 L452.1 140.1 L451.5 140.4 L450.8 140.5 L450 140.6 L449.3 140.5 L448.6 140.3 L448 140 L447.6 139.7 L447.2 139.3 L446.9 138.8 L446.6 138.3 L446.3 137.9 L446 137.4 L445.5 137.1 L445 136.8 L444.3 136.6 L443.6 136.5 L442.9 136.5 L442.1 136.6 L441.5 136.8 L440.9 137.1 L440.4 137.5 L440.1 137.9 L439.8 138.4 L439.6 138.9 L439.3 139.4 L439 139.9 L438.6 140.3 L438.1 140.7 L437.5 140.9 L436.8 141.1 L436.1 141.2 L435.4 141.2 L434.7 141 L434 140.8 L433.5 140.5 L433.1 140.1 L432.8 139.6 L432.5 139.2 L432.2 138.7 L431.9 138.2 L431.5 137.8 L431 137.5 L430.4 137.3 L429.7 137.1 L428.9 137.1 L428.2 137.2 L427.5 137.4 L426.9 137.6 L426.4 138 L426 138.4 L425.7 138.9 L425.4 139.4 L425.2 139.9 L424.9 140.3 L424.6 140.8 L424.1 141.2 L423.6 141.5 L422.9 141.7 L422.2 141.8 L421.4 141.8 L420.7 141.8 L420.1 141.6 L419.5 141.3 L419.1 140.9 L418.7 140.5 L418.4 140 L418.1 139.5 L417.8 139.1 L417.5 138.7 L417 138.3 L416.4 138 L415.8 137.8 L415 137.8 L414.3 137.8 L413.9 137.9" fill="none" stroke="#8e4c30" stroke-width="1" stroke-linejoin="round"/>
<path d="M535.2 46.7 L535.7 47.2 L536.5 47.5 L537.3 47.7 L538.2 47.7 L539.1 47.9 L539.8 48.2 L540.3 48.7 L540.6 49.4 L540.5 50.2 L540.2 50.9 L539.6 51.4 L538.8 51.9 L538.1 52.3 L537.4 52.8 L536.9 53.5 L536.8 54.2 L536.9 54.9 L537.4 55.5 L538 56 L538.9 56.1 L539.7 56.2 L540.6 56.3 L541.4 56.5 L542 57 L542.4 57.6 L542.5 58.4 L542.3 59.1 L541.8 59.7 L541.1 60.2 L540.3 60.6 L539.6 61.1 L539 61.7 L538.7 62.4 L538.8 63.1 L539.1 63.8 L539.6 64.3 L540.4 64.6 L541.3 64.7 L542.1 64.8 L543 64.9 L543.7 65.3 L544.2 65.9 L544.4 66.6 L544.3 67.3 L544 68 L543.3 68.5 L542.6 69 L541.8 69.4 L541.2 70 L540.8 70.6 L540.6 71.3 L540.8 72.1 L541.3 72.7 L541.9 73 L542.8 73.2 L543.7 73.3 L544.5 73.4 L545.3 73.6 L545.9 74.1 L546.3 74.8 L546.3 75.5 L546.1 76.2 L545.6 76.8 L544.9 77.3 L544.1 77.7 L543.4 78.2 L542.8 78.8 L542.6 79.5 L542.6 80.3 L542.9 80.9 L543.5 81.4 L544.3 81.7 L545.2 81.8 L546.1 81.9 L546.9 82 L547.6 82.4 L548.1 83 L548.3 83.7 L548.2 84.4 L547.8 85.1 L547.1 85.6 L546.4 86.1 L545.6 86.5 L545 87.1 L544.6 87.7 L544.5 88.5 L544.7 89.2 L545.2 89.8 L545.9 90.1 L546.7 90.3 L547.6 90.4 L548.5 90.5 L549.2 90.7 L549.8 91.2 L550.1 91.9 L550.2 92.6 L549.9 93.3 L549.3 93.9 L548.6 94.4 L547.8 94.9 L547.1 95.3 L546.6 95.9 L546.4 96.7 L546.5 97.4 L546.8 98.1 L547.4 98.5 L548.2 98.8 L549.1 98.9 L550 98.9 L550.8 99.1 L551.5 99.5 L551.9 100.1 L552.1 100.8 L552 101.6 L551.5 102.2 L550.9 102.7 L550.1 103.2 L549.4 103.6 L548.8 104.2 L548.4 104.9 L548.3 105.6 L548.6 106.3 L549.1 106.9 L549.8 107.2 L550.6 107.4 L551.5 107.4 L552.4 107.5 L553.1 107.8 L553.7 108.3 L554 109 L554 109.8 L553.7 110.5 L553.1 111 L552.4 111.5 L551.6 112 L550.9 112.5 L550.4 113.1 L550.2 113.8 L550.3 114.5 L550.7 115.2 L551.3 115.6 L552.1 115.8 L553 115.9 L553.9 116 L554.7 116.2 L555.4 116.6 L555.8 117.2 L555.9 118 L555.8 118.7 L555.3 119.3 L554.7 119.8 L553.9 120.3 L553.1 120.7 L552.5 121.3 L552.2 122 L552.2 122.7 L552.4 123.4 L553 124 L553.7 124.3 L554.5 124.4 L555.4 124.5 L556.3 124.6 L557 124.9 L557.6 125.6 L557.8 126.6 L557.6 127.6 L557 128.2 L556.2 128.6 L555.4 128.7 L554.5 128.7 L553.7 128.8 L553 128.9 L552.5 129.3 L552.2 129.7 L552.1 130.1 L552.1 130.7 L552.1 131.4 L552.4 132.1 L552.5 132.7 L552.7 133.4 L552.5 134.1 L552.3 134.7 L551.7 135.3 L550.8 135.8 L549.8 136 L548.9 136 L548.2 135.8 L547.6 135.5 L547.2 135.2 L546.8 134.8 L546.4 134.3 L546.2 133.9 L545.9 133.4 L545.5 132.9 L545.1 132.6 L544.6 132.3 L544 132 L543.2 131.9 L542.5 131.9 L541.8 132 L541.1 132.2 L540.5 132.5 L540 132.9 L539.6 133.3 L539.4 133.8 L539.1 134.3 L538.9 134.8 L538.6 135.2 L538.2 135.7 L537.8 136 L537.2 136.3 L536.5 136.5 L535.7 136.6 L535 136.6 L534.3 136.5 L533.7 136.3 L533.1 136 L532.7 135.6 L532.4 135.2 L532.1 134.7 L531.8 134.2 L531.5 133.8 L531.1 133.4 L530.6 133 L530 132.8 L529.3 132.6 L528.6 132.5 L527.8 132.6 L527.1 132.8 L526.5 133 L526 133.4 L525.6 133.8 L525.2 134.2 L525 134.7 L524.8 135.2 L524.5 135.7 L524.2 136.2 L523.7 136.6 L523.2 136.9 L522.5 137.1 L521.8 137.3 L521.1 137.3 L520.4 137.2 L519.7 137 L519.1 136.8 L518.6 136.4 L518.3 136 L518 135.5 L517.7 135.1 L517.4 134.6 L517 134.2 L516.6 133.8 L516 133.5 L515.4 133.3 L514.7 133.2 L513.9 133.2 L513.2 133.3 L512.5 133.6 L512 133.9 L511.5 134.3 L511.1 134.7 L510.9 135.2 L510.6 135.7 L510.4 136.2 L510.1 136.6 L509.7 137.1 L509.2 137.4 L508.6 137.7 L507.9 137.9 L507.2 137.9 L506.4 137.9 L505.7 137.8 L505.1 137.5 L504.6 137.2 L504.2 136.8 L503.9 136.4 L503.6 135.9 L503.3 135.4 L503 135 L502.6 134.6 L502.1 134.3 L501.4 134 L500.8 133.9 L500 133.9 L499.3 133.9 L498.6 134.1 L498 134.4 L497.5 134.7 L497.1 135.2 L496.8 135.6 L496.5 136.1 L496.3 136.6 L496 137.1 L495.7 137.5 L495.2 137.9 L494.6 138.2 L494 138.5 L493.3 138.6 L492.5 138.6 L491.8 138.5 L491.1 138.3 L490.6 138 L490.1 137.6 L489.8 137.2 L489.5 136.7 L489.2 136.3 L488.9 135.8 L488.5 135.4 L488.1 135 L487.5 134.8 L486.8 134.6 L486.1 134.5 L485.3 134.5 L484.6 134.7 L484 134.9 L483.4 135.2 L483 135.6 L482.7 136.1 L482.4 136.6 L482.2 137.1 L481.9 137.6 L481.6 138 L481.2 138.4 L480.7 138.8 L480 139 L479.3 139.2 L478.6 139.3 L477.9 139.2 L477.2 139 L476.6 138.8 L476.1 138.4 L475.7 138 L475.4 137.6 L475.1 137.1 L474.8 136.6 L474.5 136.2 L474.1 135.8 L473.5 135.5 L472.9 135.3 L472.2 135.2 L471.4 135.2 L470.7 135.3 L470 135.5 L469.4 135.7 L468.9 136.1 L468.6 136.5 L468.3 137 L468 137.5 L467.8 138 L467.5 138.5 L467.2 138.9 L466.7 139.3 L466.1 139.6 L465.4 139.8 L464.7 139.9 L463.9 139.9 L463.2 139.8 L462.6 139.6 L462.1 139.2 L461.6 138.9 L461.3 138.4 L461 138 L460.7 137.5 L460.4 137 L460 136.6 L459.5 136.3 L458.9 136 L458.3 135.9 L457.5 135.8 L456.8 135.9 L456.1 136 L455.4 136.3 L454.9 136.6 L454.5 137 L454.2 137.5 L453.9 138 L453.7 138.5 L453.4 139 L453.1 139.4 L452.7 139.8 L452.1 140.1 L451.5 140.4 L450.8 140.5 L450 140.6 L449.3 140.5 L448.6 140.3 L448 140 L447.6 139.7 L447.2 139.3 L446.9 138.8 L446.6 138.3 L446.3 137.9 L446 137.4 L445.5 137.1 L445 136.8 L444.3 136.6 L443.6 136.5 L442.9 136.5 L442.1 136.6 L441.5 136.8 L440.9 137.1 L440.4 137.5 L440.1 137.9 L439.8 138.4 L439.6 138.9 L439.3 139.4 L439 139.9 L438.6 140.3 L438.1 140.7 L437.5 140.9 L436.8 141.1 L436.1 141.2 L435.4 141.2 L434.7 141 L434 140.8 L433.5 140.5 L433.1 140.1 L432.8 139.6 L432.5 139.2 L432.2 138.7 L431.9 138.2 L431.5 137.8 L431 137.5 L430.4 137.3 L429.7 137.1 L428.9 137.1 L428.2 137.2 L427.5 137.4 L426.9 137.6 L426.4 138 L426 138.4 L425.7 138.9 L425.4 139.4 L425.2 139.9 L424.9 140.3 L424.6 140.8 L424.1 141.2 L423.6 141.5 L422.9 141.7 L422.2 141.8 L421.4 141.8 L420.7 141.8 L420.1 141.6 L419.5 141.3 L419.1 140.9 L418.7 140.5 L418.4 140 L418.1 139.5 L417.8 139.1 L417.5 138.7 L417 138.3 L416.4 138 L415.8 137.8 L415 137.8 L414.3 137.8 L413.9 137.9" fill="none" stroke="#e0a684" stroke-width="0.4" stroke-linejoin="round"/>
<path d="M538.4 77.7 L539 77.7 L539.4 78.3 L539.6 79.1 L539.5 79.8 L539.1 80.4 L538.4 81 L537.6 81.4 L536.9 81.9 L536.3 82.4 L535.9 83.1 L535.8 83.8 L536.1 84.5 L536.6 85.1 L537.3 85.4 L538.1 85.6 L539 85.7 L539.9 85.8 L540.6 86.1 L541.2 86.6 L541.5 87.2 L541.5 88 L541.2 88.7 L540.6 89.3 L539.9 89.7 L539.1 90.2 L538.4 90.7 L537.9 91.3 L537.7 92 L537.8 92.8 L538.2 93.4 L538.8 93.8 L539.6 94.1 L540.5 94.2 L541.4 94.2 L542.2 94.4 L542.9 94.8 L543.3 95.5 L543.4 96.2 L543.3 96.9 L542.8 97.6 L542.2 98.1 L541.4 98.5 L540.7 99 L540.1 99.5 L539.7 100.2 L539.7 101 L539.9 101.7 L540.4 102.2 L541.2 102.5 L542 102.7 L542.9 102.7 L543.8 102.9 L544.5 103.2 L545.1 103.7 L545.3 104.4 L545.3 105.1 L545 105.8 L544.4 106.4 L543.7 106.8 L542.9 107.3 L542.2 107.8 L541.8 108.4 L541.6 109.1 L541.7 109.9 L542.1 110.5 L542.7 110.9 L543.5 111.1 L544.4 111.2 L545.3 111.3 L546.1 111.5 L546.8 111.9 L547.2 112.6 L547.3 113.3 L547.1 114 L546.6 114.7 L546 115.2 L545.2 115.6 L544.4 116.1 L543.9 116.6 L543.5 117.3 L543.5 118.1 L543.8 118.8 L544.3 119.3 L545.1 119.6 L545.9 119.7 L546.8 119.8 L547.7 119.9 L548.4 120.3 L548.9 120.8 L549.2 121.5 L549.2 122.4 L548.8 123.2 L548.1 123.7 L547.2 124 L546.4 124.2 L545.6 124.3 L544.9 124.7 L544.5 125 L544.3 125.4 L544.3 125.9 L544.5 126.5 L544.7 127.1 L545 127.8 L545.2 128.5 L545.3 129.2 L545.1 129.9 L544.8 130.5 L544.1 131.1 L543.2 131.4 L542.1 131.5 L541.3 131.4 L540.6 131.2 L540.1 130.9 L539.7 130.5 L539.3 130.1 L539 129.6 L538.7 129.1 L538.4 128.7 L538 128.3 L537.6 127.9 L537 127.7 L536.3 127.5 L535.6 127.4 L534.8 127.5 L534.1 127.6 L533.5 127.9 L532.9 128.2 L532.5 128.6 L532.2 129.1 L532 129.6 L531.7 130.1 L531.5 130.6 L531.1 131 L530.7 131.4 L530.2 131.8 L529.5 132 L528.8 132.1 L528.1 132.2 L527.3 132.1 L526.7 131.9 L526.1 131.7 L525.6 131.3 L525.2 130.9 L524.9 130.5 L524.6 130 L524.4 129.5 L524 129.1 L523.6 128.7 L523 128.4 L522.4 128.2 L521.7 128.1 L520.9 128.1 L520.2 128.2 L519.5 128.4 L518.9 128.7 L518.5 129.1 L518.1 129.6 L517.8 130 L517.6 130.5 L517.4 131 L517.1 131.5 L516.7 131.9 L516.2 132.3 L515.6 132.6 L514.9 132.8 L514.2 132.8 L513.4 132.8 L512.7 132.7 L512.1 132.5 L511.6 132.1 L511.2 131.7 L510.8 131.3 L510.5 130.8 L510.3 130.4 L509.9 129.9 L509.5 129.5 L509 129.2 L508.4 128.9 L507.7 128.8 L507 128.8 L506.3 128.8 L505.6 129 L504.9 129.3 L504.4 129.6 L504 130 L503.7 130.5 L503.5 131 L503.3 131.5 L503 132 L502.6 132.4 L502.2 132.8 L501.6 133.1 L501 133.4 L500.2 133.5 L499.5 133.5 L498.8 133.4 L498.1 133.2 L497.6 132.9 L497.1 132.6 L496.7 132.1 L496.4 131.7 L496.2 131.2 L495.9 130.7 L495.5 130.3 L495 130 L494.5 129.7 L493.8 129.5 L493.1 129.4 L492.3 129.4 L491.6 129.6 L491 129.8 L490.4 130.1 L490 130.5 L489.6 131 L489.4 131.5 L489.1 132 L488.9 132.5 L488.6 132.9 L488.2 133.3 L487.7 133.7 L487 133.9 L486.3 134.1 L485.6 134.2 L484.8 134.1 L484.2 134 L483.6 133.7 L483.1 133.4 L482.7 133 L482.4 132.5 L482.1 132.1 L481.8 131.6 L481.5 131.1 L481 130.8 L480.5 130.4 L479.9 130.2 L479.2 130.1 L478.4 130.1 L477.7 130.2 L477 130.4 L476.4 130.7 L475.9 131 L475.5 131.5 L475.3 131.9 L475 132.4 L474.8 132.9 L474.5 133.4 L474.1 133.8 L473.7 134.2 L473.1 134.5 L472.4 134.7 L471.7 134.8 L470.9 134.8 L470.2 134.7 L469.6 134.5 L469 134.2 L468.6 133.8 L468.3 133.4 L468 132.9 L467.7 132.4 L467.4 132 L467 131.6 L466.5 131.2 L465.9 131 L465.3 130.8 L464.5 130.7 L463.8 130.8 L463.1 130.9 L462.4 131.2 L461.9 131.5 L461.5 131.9 L461.2 132.4 L460.9 132.9 L460.7 133.4 L460.4 133.9 L460.1 134.3 L459.7 134.7 L459.1 135.1 L458.5 135.3 L457.8 135.5 L457 135.5 L456.3 135.4 L455.6 135.3 L455 135 L454.6 134.6 L454.2 134.2 L453.9 133.8 L453.6 133.3 L453.3 132.8 L453 132.4 L452.5 132 L452 131.7 L451.3 131.5 L450.6 131.4 L449.9 131.4 L449.1 131.5 L448.5 131.7 L447.9 132 L447.4 132.4 L447.1 132.9 L446.8 133.3 L446.6 133.8 L446.3 134.3 L446 134.8 L445.6 135.2 L445.1 135.6 L444.5 135.9 L443.9 136.1 L443.1 136.2 L442.4 136.1 L441.7 136 L441 135.8 L440.5 135.4 L440.1 135.1 L439.8 134.6 L439.5 134.1 L439.2 133.7 L438.9 133.2 L438.5 132.8 L438 132.5 L437.4 132.2 L436.7 132.1 L436 132.1 L435.2 132.1 L434.5 132.3 L433.9 132.6 L433.4 132.9 L433 133.3 L432.7 133.8 L432.4 134.3 L432.2 134.8 L431.9 135.3 L431.6 135.7 L431.1 136.1 L430.6 136.4 L429.9 136.7 L429.2 136.8 L428.5 136.8 L427.7 136.7 L427.1 136.5 L426.5 136.2 L426.1 135.9 L425.7 135.5 L425.4 135 L425.1 134.5 L424.8 134.1 L424.5 133.6 L424 133.3 L423.4 133 L422.8 132.8 L422 132.7 L421.3 132.8 L420.6 132.9 L419.9 133.1 L419.4 133.4 L418.9 133.8 L418.6 134.3 L418.3 134.8 L418.1 135.3 L417.8 135.8 L417.5 136.2 L417.1 136.6 L416.6 137" fill="none" stroke="#8e4c30" stroke-width="1" stroke-linejoin="round"/>
<path d="M538.4 77.7 L539 77.7 L539.4 78.3 L539.6 79.1 L539.5 79.8 L539.1 80.4 L538.4 81 L537.6 81.4 L536.9 81.9 L536.3 82.4 L535.9 83.1 L535.8 83.8 L536.1 84.5 L536.6 85.1 L537.3 85.4 L538.1 85.6 L539 85.7 L539.9 85.8 L540.6 86.1 L541.2 86.6 L541.5 87.2 L541.5 88 L541.2 88.7 L540.6 89.3 L539.9 89.7 L539.1 90.2 L538.4 90.7 L537.9 91.3 L537.7 92 L537.8 92.8 L538.2 93.4 L538.8 93.8 L539.6 94.1 L540.5 94.2 L541.4 94.2 L542.2 94.4 L542.9 94.8 L543.3 95.5 L543.4 96.2 L543.3 96.9 L542.8 97.6 L542.2 98.1 L541.4 98.5 L540.7 99 L540.1 99.5 L539.7 100.2 L539.7 101 L539.9 101.7 L540.4 102.2 L541.2 102.5 L542 102.7 L542.9 102.7 L543.8 102.9 L544.5 103.2 L545.1 103.7 L545.3 104.4 L545.3 105.1 L545 105.8 L544.4 106.4 L543.7 106.8 L542.9 107.3 L542.2 107.8 L541.8 108.4 L541.6 109.1 L541.7 109.9 L542.1 110.5 L542.7 110.9 L543.5 111.1 L544.4 111.2 L545.3 111.3 L546.1 111.5 L546.8 111.9 L547.2 112.6 L547.3 113.3 L547.1 114 L546.6 114.7 L546 115.2 L545.2 115.6 L544.4 116.1 L543.9 116.6 L543.5 117.3 L543.5 118.1 L543.8 118.8 L544.3 119.3 L545.1 119.6 L545.9 119.7 L546.8 119.8 L547.7 119.9 L548.4 120.3 L548.9 120.8 L549.2 121.5 L549.2 122.4 L548.8 123.2 L548.1 123.7 L547.2 124 L546.4 124.2 L545.6 124.3 L544.9 124.7 L544.5 125 L544.3 125.4 L544.3 125.9 L544.5 126.5 L544.7 127.1 L545 127.8 L545.2 128.5 L545.3 129.2 L545.1 129.9 L544.8 130.5 L544.1 131.1 L543.2 131.4 L542.1 131.5 L541.3 131.4 L540.6 131.2 L540.1 130.9 L539.7 130.5 L539.3 130.1 L539 129.6 L538.7 129.1 L538.4 128.7 L538 128.3 L537.6 127.9 L537 127.7 L536.3 127.5 L535.6 127.4 L534.8 127.5 L534.1 127.6 L533.5 127.9 L532.9 128.2 L532.5 128.6 L532.2 129.1 L532 129.6 L531.7 130.1 L531.5 130.6 L531.1 131 L530.7 131.4 L530.2 131.8 L529.5 132 L528.8 132.1 L528.1 132.2 L527.3 132.1 L526.7 131.9 L526.1 131.7 L525.6 131.3 L525.2 130.9 L524.9 130.5 L524.6 130 L524.4 129.5 L524 129.1 L523.6 128.7 L523 128.4 L522.4 128.2 L521.7 128.1 L520.9 128.1 L520.2 128.2 L519.5 128.4 L518.9 128.7 L518.5 129.1 L518.1 129.6 L517.8 130 L517.6 130.5 L517.4 131 L517.1 131.5 L516.7 131.9 L516.2 132.3 L515.6 132.6 L514.9 132.8 L514.2 132.8 L513.4 132.8 L512.7 132.7 L512.1 132.5 L511.6 132.1 L511.2 131.7 L510.8 131.3 L510.5 130.8 L510.3 130.4 L509.9 129.9 L509.5 129.5 L509 129.2 L508.4 128.9 L507.7 128.8 L507 128.8 L506.3 128.8 L505.6 129 L504.9 129.3 L504.4 129.6 L504 130 L503.7 130.5 L503.5 131 L503.3 131.5 L503 132 L502.6 132.4 L502.2 132.8 L501.6 133.1 L501 133.4 L500.2 133.5 L499.5 133.5 L498.8 133.4 L498.1 133.2 L497.6 132.9 L497.1 132.6 L496.7 132.1 L496.4 131.7 L496.2 131.2 L495.9 130.7 L495.5 130.3 L495 130 L494.5 129.7 L493.8 129.5 L493.1 129.4 L492.3 129.4 L491.6 129.6 L491 129.8 L490.4 130.1 L490 130.5 L489.6 131 L489.4 131.5 L489.1 132 L488.9 132.5 L488.6 132.9 L488.2 133.3 L487.7 133.7 L487 133.9 L486.3 134.1 L485.6 134.2 L484.8 134.1 L484.2 134 L483.6 133.7 L483.1 133.4 L482.7 133 L482.4 132.5 L482.1 132.1 L481.8 131.6 L481.5 131.1 L481 130.8 L480.5 130.4 L479.9 130.2 L479.2 130.1 L478.4 130.1 L477.7 130.2 L477 130.4 L476.4 130.7 L475.9 131 L475.5 131.5 L475.3 131.9 L475 132.4 L474.8 132.9 L474.5 133.4 L474.1 133.8 L473.7 134.2 L473.1 134.5 L472.4 134.7 L471.7 134.8 L470.9 134.8 L470.2 134.7 L469.6 134.5 L469 134.2 L468.6 133.8 L468.3 133.4 L468 132.9 L467.7 132.4 L467.4 132 L467 131.6 L466.5 131.2 L465.9 131 L465.3 130.8 L464.5 130.7 L463.8 130.8 L463.1 130.9 L462.4 131.2 L461.9 131.5 L461.5 131.9 L461.2 132.4 L460.9 132.9 L460.7 133.4 L460.4 133.9 L460.1 134.3 L459.7 134.7 L459.1 135.1 L458.5 135.3 L457.8 135.5 L457 135.5 L456.3 135.4 L455.6 135.3 L455 135 L454.6 134.6 L454.2 134.2 L453.9 133.8 L453.6 133.3 L453.3 132.8 L453 132.4 L452.5 132 L452 131.7 L451.3 131.5 L450.6 131.4 L449.9 131.4 L449.1 131.5 L448.5 131.7 L447.9 132 L447.4 132.4 L447.1 132.9 L446.8 133.3 L446.6 133.8 L446.3 134.3 L446 134.8 L445.6 135.2 L445.1 135.6 L444.5 135.9 L443.9 136.1 L443.1 136.2 L442.4 136.1 L441.7 136 L441 135.8 L440.5 135.4 L440.1 135.1 L439.8 134.6 L439.5 134.1 L439.2 133.7 L438.9 133.2 L438.5 132.8 L438 132.5 L437.4 132.2 L436.7 132.1 L436 132.1 L435.2 132.1 L434.5 132.3 L433.9 132.6 L433.4 132.9 L433 133.3 L432.7 133.8 L432.4 134.3 L432.2 134.8 L431.9 135.3 L431.6 135.7 L431.1 136.1 L430.6 136.4 L429.9 136.7 L429.2 136.8 L428.5 136.8 L427.7 136.7 L427.1 136.5 L426.5 136.2 L426.1 135.9 L425.7 135.5 L425.4 135 L425.1 134.5 L424.8 134.1 L424.5 133.6 L424 133.3 L423.4 133 L422.8 132.8 L422 132.7 L421.3 132.8 L420.6 132.9 L419.9 133.1 L419.4 133.4 L418.9 133.8 L418.6 134.3 L418.3 134.8 L418.1 135.3 L417.8 135.8 L417.5 136.2 L417.1 136.6 L416.6 137" fill="none" stroke="#e0a684" stroke-width="0.4" stroke-linejoin="round"/>
<path d="M531.2 80 L530.5 80.5 L529.7 81 L529 81.4 L528.4 82 L528.1 82.7 L528.1 83.5 L528.4 84.1 L529 84.6 L529.8 84.9 L530.6 85 L531.5 85.1 L532.4 85.3 L533.1 85.6 L533.6 86.2 L533.8 86.9 L533.7 87.6 L533.3 88.3 L532.7 88.8 L531.9 89.3 L531.2 89.7 L530.5 90.3 L530.1 90.9 L530 91.7 L530.2 92.4 L530.6 93 L531.3 93.4 L532.2 93.5 L533 93.6 L533.9 93.7 L534.7 94 L535.3 94.4 L535.6 95.1 L535.7 95.8 L535.5 96.5 L534.9 97.1 L534.2 97.6 L533.4 98.1 L532.7 98.6 L532.2 99.2 L531.9 99.9 L532 100.6 L532.3 101.3 L532.9 101.7 L533.7 102 L534.6 102.1 L535.5 102.2 L536.3 102.3 L537 102.7 L537.4 103.3 L537.6 104 L537.5 104.8 L537.1 105.4 L536.5 106 L535.7 106.4 L534.9 106.9 L534.3 107.4 L533.9 108.1 L533.8 108.8 L534.1 109.5 L534.6 110.1 L535.3 110.4 L536.1 110.6 L537 110.7 L537.9 110.8 L538.6 111.1 L539.2 111.6 L539.5 112.2 L539.5 113 L539.2 113.7 L538.7 114.3 L538 114.7 L537.2 115.2 L536.5 115.7 L536 116.3 L535.8 117 L535.8 117.7 L536.2 118.4 L536.8 118.8 L537.6 119.1 L538.5 119.2 L539.4 119.2 L540.2 119.5 L540.9 120.2 L541.1 121.2 L540.8 122.5 L540.2 123.3 L539.3 123.6 L538.5 123.5 L537.7 123.3 L537 123 L536.4 122.8 L535.9 122.6 L535.5 122.5 L535 122.6 L534.8 122.6 L534.2 122.8 L533.6 123.1 L533 123.4 L532.6 123.8 L532.3 124.3 L532 124.7 L531.8 125.2 L531.5 125.7 L531.2 126.2 L530.8 126.6 L530.3 126.9 L529.6 127.2 L528.9 127.3 L528.2 127.4 L527.4 127.3 L526.7 127.2 L526.2 126.9 L525.7 126.5 L525.3 126.1 L525 125.7 L524.7 125.2 L524.4 124.7 L524.1 124.3 L523.6 123.9 L523.1 123.6 L522.4 123.4 L521.7 123.3 L521 123.3 L520.3 123.4 L519.6 123.6 L519 123.9 L518.5 124.3 L518.2 124.8 L517.9 125.2 L517.7 125.7 L517.4 126.2 L517.1 126.7 L516.8 127.1 L516.3 127.5 L515.7 127.8 L515 128 L514.2 128.1 L513.5 128 L512.8 127.9 L512.2 127.7 L511.6 127.4 L511.2 127 L510.9 126.5 L510.6 126 L510.3 125.6 L510 125.1 L509.6 124.7 L509.1 124.4 L508.5 124.1 L507.8 124 L507.1 124 L506.3 124 L505.6 124.2 L505 124.5 L504.5 124.8 L504.1 125.3 L503.8 125.7 L503.5 126.2 L503.3 126.7 L503.1 127.2 L502.7 127.6 L502.3 128 L501.7 128.4 L501 128.6 L500.3 128.7 L499.6 128.7 L498.8 128.6 L498.2 128.4 L497.6 128.2 L497.2 127.8 L496.8 127.4 L496.5 126.9 L496.2 126.4 L495.9 126 L495.6 125.5 L495.1 125.2 L494.5 124.9 L493.9 124.7 L493.1 124.6 L492.4 124.7 L491.7 124.8 L491 125.1 L490.5 125.4 L490 125.8 L489.7 126.2 L489.4 126.7 L489.2 127.2 L489 127.7 L488.6 128.2 L488.2 128.6 L487.7 128.9 L487.1 129.2 L486.4 129.3 L485.6 129.4 L484.9 129.4 L484.2 129.2 L483.6 128.9 L483.1 128.6 L482.7 128.2 L482.4 127.7 L482.1 127.3 L481.8 126.8 L481.5 126.4 L481.1 126 L480.5 125.7 L479.9 125.4 L479.2 125.3 L478.5 125.3 L477.7 125.4 L477 125.6 L476.4 125.9 L476 126.3 L475.6 126.7 L475.3 127.2 L475.1 127.7 L474.8 128.2 L474.6 128.7 L474.2 129.1 L473.7 129.5 L473.1 129.8 L472.4 130 L471.7 130.1 L471 130.1 L470.2 129.9 L469.6 129.7 L469.1 129.4 L468.7 129 L468.3 128.6 L468 128.1 L467.7 127.6 L467.4 127.2 L467 126.8 L466.5 126.4 L466 126.2 L465.3 126 L464.5 126 L463.8 126 L463.1 126.2 L462.4 126.5 L461.9 126.8 L461.5 127.2 L461.2 127.7 L461 128.2 L460.7 128.7 L460.5 129.2 L460.1 129.6 L459.7 130 L459.1 130.3 L458.5 130.6 L457.8 130.7 L457 130.7 L456.3 130.7 L455.6 130.5 L455.1 130.2 L454.6 129.9 L454.2 129.4 L453.9 129 L453.6 128.5 L453.4 128 L453 127.6 L452.5 127.2 L452 126.9 L451.3 126.8 L450.6 126.7 L449.9 126.7 L449.1 126.8 L448.5 127 L447.9 127.4 L447.5 127.7 L447.1 128.2 L446.8 128.7 L446.6 129.2 L446.4 129.7 L446.1 130.1 L445.7 130.6 L445.2 130.9 L444.5 131.2 L443.8 131.4 L443.1 131.4 L442.4 131.4 L441.7 131.2 L441.1 131 L440.6 130.7 L440.1 130.3 L439.8 129.8 L439.5 129.3 L439.3 128.9 L438.9 128.4 L438.5 128 L438 127.7 L437.4 127.5 L436.7 127.4 L435.9 127.3 L435.2 127.4 L434.5 127.6 L433.9 127.9 L433.4 128.3 L433 128.7 L432.7 129.2 L432.5 129.7 L432.3 130.2 L432 130.6 L431.6 131.1 L431.2 131.5 L430.6 131.8 L429.9 132 L429.2 132.1 L428.4 132.1 L427.7 132 L427.1 131.8 L426.5 131.5 L426.1 131.1 L425.7 130.7 L425.4 130.2 L425.2 129.7 L424.9 129.3 L424.5 128.8 L424 128.5 L423.4 128.2 L422.7 128.1 L422 128 L421.2 128.1 L420.5 128.2 L419.9 128.5 L419.4 128.8 L418.9 129.2 L418.6 129.7 L418.4 130.1 L418.1 130.6" fill="none" stroke="#8e4c30" stroke-width="1" stroke-linejoin="round"/>
<path d="M531.2 80 L530.5 80.5 L529.7 81 L529 81.4 L528.4 82 L528.1 82.7 L528.1 83.5 L528.4 84.1 L529 84.6 L529.8 84.9 L530.6 85 L531.5 85.1 L532.4 85.3 L533.1 85.6 L533.6 86.2 L533.8 86.9 L533.7 87.6 L533.3 88.3 L532.7 88.8 L531.9 89.3 L531.2 89.7 L530.5 90.3 L530.1 90.9 L530 91.7 L530.2 92.4 L530.6 93 L531.3 93.4 L532.2 93.5 L533 93.6 L533.9 93.7 L534.7 94 L535.3 94.4 L535.6 95.1 L535.7 95.8 L535.5 96.5 L534.9 97.1 L534.2 97.6 L533.4 98.1 L532.7 98.6 L532.2 99.2 L531.9 99.9 L532 100.6 L532.3 101.3 L532.9 101.7 L533.7 102 L534.6 102.1 L535.5 102.2 L536.3 102.3 L537 102.7 L537.4 103.3 L537.6 104 L537.5 104.8 L537.1 105.4 L536.5 106 L535.7 106.4 L534.9 106.9 L534.3 107.4 L533.9 108.1 L533.8 108.8 L534.1 109.5 L534.6 110.1 L535.3 110.4 L536.1 110.6 L537 110.7 L537.9 110.8 L538.6 111.1 L539.2 111.6 L539.5 112.2 L539.5 113 L539.2 113.7 L538.7 114.3 L538 114.7 L537.2 115.2 L536.5 115.7 L536 116.3 L535.8 117 L535.8 117.7 L536.2 118.4 L536.8 118.8 L537.6 119.1 L538.5 119.2 L539.4 119.2 L540.2 119.5 L540.9 120.2 L541.1 121.2 L540.8 122.5 L540.2 123.3 L539.3 123.6 L538.5 123.5 L537.7 123.3 L537 123 L536.4 122.8 L535.9 122.6 L535.5 122.5 L535 122.6 L534.8 122.6 L534.2 122.8 L533.6 123.1 L533 123.4 L532.6 123.8 L532.3 124.3 L532 124.7 L531.8 125.2 L531.5 125.7 L531.2 126.2 L530.8 126.6 L530.3 126.9 L529.6 127.2 L528.9 127.3 L528.2 127.4 L527.4 127.3 L526.7 127.2 L526.2 126.9 L525.7 126.5 L525.3 126.1 L525 125.7 L524.7 125.2 L524.4 124.7 L524.1 124.3 L523.6 123.9 L523.1 123.6 L522.4 123.4 L521.7 123.3 L521 123.3 L520.3 123.4 L519.6 123.6 L519 123.9 L518.5 124.3 L518.2 124.8 L517.9 125.2 L517.7 125.7 L517.4 126.2 L517.1 126.7 L516.8 127.1 L516.3 127.5 L515.7 127.8 L515 128 L514.2 128.1 L513.5 128 L512.8 127.9 L512.2 127.7 L511.6 127.4 L511.2 127 L510.9 126.5 L510.6 126 L510.3 125.6 L510 125.1 L509.6 124.7 L509.1 124.4 L508.5 124.1 L507.8 124 L507.1 124 L506.3 124 L505.6 124.2 L505 124.5 L504.5 124.8 L504.1 125.3 L503.8 125.7 L503.5 126.2 L503.3 126.7 L503.1 127.2 L502.7 127.6 L502.3 128 L501.7 128.4 L501 128.6 L500.3 128.7 L499.6 128.7 L498.8 128.6 L498.2 128.4 L497.6 128.2 L497.2 127.8 L496.8 127.4 L496.5 126.9 L496.2 126.4 L495.9 126 L495.6 125.5 L495.1 125.2 L494.5 124.9 L493.9 124.7 L493.1 124.6 L492.4 124.7 L491.7 124.8 L491 125.1 L490.5 125.4 L490 125.8 L489.7 126.2 L489.4 126.7 L489.2 127.2 L489 127.7 L488.6 128.2 L488.2 128.6 L487.7 128.9 L487.1 129.2 L486.4 129.3 L485.6 129.4 L484.9 129.4 L484.2 129.2 L483.6 128.9 L483.1 128.6 L482.7 128.2 L482.4 127.7 L482.1 127.3 L481.8 126.8 L481.5 126.4 L481.1 126 L480.5 125.7 L479.9 125.4 L479.2 125.3 L478.5 125.3 L477.7 125.4 L477 125.6 L476.4 125.9 L476 126.3 L475.6 126.7 L475.3 127.2 L475.1 127.7 L474.8 128.2 L474.6 128.7 L474.2 129.1 L473.7 129.5 L473.1 129.8 L472.4 130 L471.7 130.1 L471 130.1 L470.2 129.9 L469.6 129.7 L469.1 129.4 L468.7 129 L468.3 128.6 L468 128.1 L467.7 127.6 L467.4 127.2 L467 126.8 L466.5 126.4 L466 126.2 L465.3 126 L464.5 126 L463.8 126 L463.1 126.2 L462.4 126.5 L461.9 126.8 L461.5 127.2 L461.2 127.7 L461 128.2 L460.7 128.7 L460.5 129.2 L460.1 129.6 L459.7 130 L459.1 130.3 L458.5 130.6 L457.8 130.7 L457 130.7 L456.3 130.7 L455.6 130.5 L455.1 130.2 L454.6 129.9 L454.2 129.4 L453.9 129 L453.6 128.5 L453.4 128 L453 127.6 L452.5 127.2 L452 126.9 L451.3 126.8 L450.6 126.7 L449.9 126.7 L449.1 126.8 L448.5 127 L447.9 127.4 L447.5 127.7 L447.1 128.2 L446.8 128.7 L446.6 129.2 L446.4 129.7 L446.1 130.1 L445.7 130.6 L445.2 130.9 L444.5 131.2 L443.8 131.4 L443.1 131.4 L442.4 131.4 L441.7 131.2 L441.1 131 L440.6 130.7 L440.1 130.3 L439.8 129.8 L439.5 129.3 L439.3 128.9 L438.9 128.4 L438.5 128 L438 127.7 L437.4 127.5 L436.7 127.4 L435.9 127.3 L435.2 127.4 L434.5 127.6 L433.9 127.9 L433.4 128.3 L433 128.7 L432.7 129.2 L432.5 129.7 L432.3 130.2 L432 130.6 L431.6 131.1 L431.2 131.5 L430.6 131.8 L429.9 132 L429.2 132.1 L428.4 132.1 L427.7 132 L427.1 131.8 L426.5 131.5 L426.1 131.1 L425.7 130.7 L425.4 130.2 L425.2 129.7 L424.9 129.3 L424.5 128.8 L424 128.5 L423.4 128.2 L422.7 128.1 L422 128 L421.2 128.1 L420.5 128.2 L419.9 128.5 L419.4 128.8 L418.9 129.2 L418.6 129.7 L418.4 130.1 L418.1 130.6" fill="none" stroke="#e0a684" stroke-width="0.4" stroke-linejoin="round"/>
<path d="M432.1 127.8 L432.1 128.1 L432.6 128.3 L433.3 128.4 L434.1 128.4 L434.8 128.3 L435.5 128.2 L436.1 127.9 L436.6 127.6 L437 127.2 L437.3 126.8 L437.6 126.4 L437.8 126 L438.1 125.5 L438.4 125.1 L438.9 124.8 L439.4 124.5 L440.1 124.3 L440.8 124.2 L441.5 124.1 L442.3 124.2 L442.9 124.4 L443.5 124.6 L444 124.9 L444.4 125.3 L444.7 125.7 L444.9 126.1 L445.2 126.5 L445.6 126.9 L446 127.2 L446.5 127.5 L447.1 127.7 L447.8 127.8 L448.6 127.8 L449.3 127.8 L450 127.6 L450.6 127.4 L451.1 127 L451.5 126.7 L451.8 126.2 L452.1 125.8 L452.3 125.4 L452.6 124.9 L452.9 124.5 L453.4 124.2 L453.9 123.9 L454.6 123.7 L455.3 123.6 L456 123.6 L456.8 123.6 L457.4 123.8 L458 124 L458.5 124.3 L458.9 124.7 L459.2 125.1 L459.4 125.5 L459.7 126 L460.1 126.3 L460.5 126.7 L461 127 L461.6 127.2 L462.3 127.3 L463.1 127.3 L463.8 127.2 L464.5 127 L465.1 126.8 L465.6 126.5 L466 126.1 L466.3 125.7 L466.6 125.2 L466.8 124.8 L467.1 124.4 L467.4 124 L467.9 123.6 L468.4 123.3 L469.1 123.1 L469.8 123 L470.6 123 L471.3 123.1 L471.9 123.2 L472.5 123.5 L473 123.8 L473.4 124.1 L473.7 124.6 L473.9 125 L474.2 125.4 L474.6 125.8 L475 126.1 L475.5 126.4 L476.1 126.6 L476.8 126.7 L477.6 126.7 L478.3 126.6 L479 126.5 L479.6 126.2 L480.1 125.9 L480.5 125.5 L480.8 125.1 L481.1 124.6 L481.3 124.2 L481.6 123.8 L481.9 123.4 L482.4 123 L482.9 122.8 L483.6 122.6 L484.3 122.4 L485.1 122.4 L485.8 122.5 L486.4 122.7 L487 122.9 L487.5 123.2 L487.9 123.6 L488.2 124 L488.4 124.4 L488.7 124.8 L489.1 125.2 L489.5 125.6 L490 125.8 L490.6 126 L491.4 126.1 L492.1 126.1 L492.8 126 L493.5 125.9 L494.1 125.6 L494.6 125.3 L495 124.9 L495.3 124.5 L495.5 124.1 L495.8 123.6 L496.1 123.2 L496.4 122.8 L496.9 122.5 L497.4 122.2 L498.1 122 L498.8 121.9 L499.6 121.8 L500.3 121.9 L501 122.1 L501.5 122.3 L502 122.6 L502.4 123 L502.7 123.4 L502.9 123.8 L503.2 124.3 L503.5 124.6 L504 125 L504.5 125.3 L505.1 125.4 L505.9 125.5 L506.6 125.6 L507.3 125.5 L508 125.3 L508.1 125.1" fill="none" stroke="#8e4c30" stroke-width="1" stroke-linejoin="round"/>
<path d="M432.1 127.8 L432.1 128.1 L432.6 128.3 L433.3 128.4 L434.1 128.4 L434.8 128.3 L435.5 128.2 L436.1 127.9 L436.6 127.6 L437 127.2 L437.3 126.8 L437.6 126.4 L437.8 126 L438.1 125.5 L438.4 125.1 L438.9 124.8 L439.4 124.5 L440.1 124.3 L440.8 124.2 L441.5 124.1 L442.3 124.2 L442.9 124.4 L443.5 124.6 L444 124.9 L444.4 125.3 L444.7 125.7 L444.9 126.1 L445.2 126.5 L445.6 126.9 L446 127.2 L446.5 127.5 L447.1 127.7 L447.8 127.8 L448.6 127.8 L449.3 127.8 L450 127.6 L450.6 127.4 L451.1 127 L451.5 126.7 L451.8 126.2 L452.1 125.8 L452.3 125.4 L452.6 124.9 L452.9 124.5 L453.4 124.2 L453.9 123.9 L454.6 123.7 L455.3 123.6 L456 123.6 L456.8 123.6 L457.4 123.8 L458 124 L458.5 124.3 L458.9 124.7 L459.2 125.1 L459.4 125.5 L459.7 126 L460.1 126.3 L460.5 126.7 L461 127 L461.6 127.2 L462.3 127.3 L463.1 127.3 L463.8 127.2 L464.5 127 L465.1 126.8 L465.6 126.5 L466 126.1 L466.3 125.7 L466.6 125.2 L466.8 124.8 L467.1 124.4 L467.4 124 L467.9 123.6 L468.4 123.3 L469.1 123.1 L469.8 123 L470.6 123 L471.3 123.1 L471.9 123.2 L472.5 123.5 L473 123.8 L473.4 124.1 L473.7 124.6 L473.9 125 L474.2 125.4 L474.6 125.8 L475 126.1 L475.5 126.4 L476.1 126.6 L476.8 126.7 L477.6 126.7 L478.3 126.6 L479 126.5 L479.6 126.2 L480.1 125.9 L480.5 125.5 L480.8 125.1 L481.1 124.6 L481.3 124.2 L481.6 123.8 L481.9 123.4 L482.4 123 L482.9 122.8 L483.6 122.6 L484.3 122.4 L485.1 122.4 L485.8 122.5 L486.4 122.7 L487 122.9 L487.5 123.2 L487.9 123.6 L488.2 124 L488.4 124.4 L488.7 124.8 L489.1 125.2 L489.5 125.6 L490 125.8 L490.6 126 L491.4 126.1 L492.1 126.1 L492.8 126 L493.5 125.9 L494.1 125.6 L494.6 125.3 L495 124.9 L495.3 124.5 L495.5 124.1 L495.8 123.6 L496.1 123.2 L496.4 122.8 L496.9 122.5 L497.4 122.2 L498.1 122 L498.8 121.9 L499.6 121.8 L500.3 121.9 L501 122.1 L501.5 122.3 L502 122.6 L502.4 123 L502.7 123.4 L502.9 123.8 L503.2 124.3 L503.5 124.6 L504 125 L504.5 125.3 L505.1 125.4 L505.9 125.5 L506.6 125.6 L507.3 125.5 L508 125.3 L508.1 125.1" fill="none" stroke="#e0a684" stroke-width="0.4" stroke-linejoin="round"/>
<path d="M416.5 40 L415.7 40.1 L415.2 40.7 L414.9 41.4 L415 42.2 L415.4 42.9 L416.1 43.4 L416.9 43.7 L417.9 43.9 L418.8 44.2 L419.6 44.6 L420.1 45.2 L420.3 46 L420.1 46.8 L419.7 47.4 L418.9 47.9 L418 48.1 L417.1 48.3 L416.2 48.6 L415.5 49.1 L415 49.7 L414.9 50.5 L415.1 51.3 L415.6 51.9 L416.4 52.3 L417.3 52.6 L418.2 52.8 L419.1 53.1 L419.8 53.6 L420.2 54.3 L420.2 55.1 L419.9 55.8 L419.4 56.4 L418.6 56.8 L417.6 57 L416.7 57.2 L415.8 57.6 L415.2 58.1 L414.9 58.8 L414.9 59.6 L415.2 60.4 L415.8 60.9 L416.7 61.2 L417.6 61.5 L418.6 61.7 L419.4 62.1 L419.9 62.7 L420.2 63.4 L420.1 64.2 L419.7 64.9 L419 65.4 L418.2 65.7 L417.2 65.9 L416.3 66.2 L415.5 66.6 L415 67.2 L414.8 68 L414.9 68.7 L415.4 69.4 L416.1 69.9 L417 70.1 L418 70.3 L418.9 70.6 L419.6 71.1 L420.1 71.8 L420.2 72.5 L420 73.3 L419.4 73.9 L418.7 74.3 L417.7 74.6 L416.8 74.8 L415.9 75.1 L415.2 75.6 L414.8 76.3 L414.8 77.1 L415.1 77.8 L415.6 78.4 L416.4 78.8 L417.4 79 L418.3 79.2 L419.2 79.6 L419.8 80.1 L420.1 80.9 L420.1 81.7 L419.8 82.4 L419.1 82.9 L418.3 83.2 L417.3 83.5 L416.4 83.7 L415.6 84.1 L415 84.7 L414.7 85.4 L414.8 86.2 L415.2 86.9 L415.9 87.4 L416.8 87.7 L417.7 87.9 L418.7 88.2 L419.4 88.6 L419.9 89.2 L420.1 90 L420 90.8 L419.5 91.4 L418.8 91.9 L417.9 92.1 L416.9 92.3 L416 92.6 L415.3 93.1 L414.8 93.7 L414.7 94.5 L414.9 95.3 L415.4 95.9 L416.2 96.3 L417.1 96.6 L418.1 96.8 L418.9 97.1 L419.6 97.6 L420 98.3 L420.1 99.1 L419.8 99.8 L419.2 100.4 L418.4 100.8 L417.5 101 L416.5 101.2 L415.7 101.6 L415 102.1 L414.7 102.8 L414.7 103.6 L415.1 104.4 L415.7 104.9 L416.5 105.2 L417.5 105.5 L418.4 105.7 L419.2 106.1 L419.8 106.7 L420 107.4 L420 108.2 L419.6 108.9 L418.9 109.4 L418 109.7 L417 109.9 L416.1 110.2 L415.4 110.6 L414.8 111.2 L414.6 112 L414.8 112.7 L415.2 113.4 L416 113.9 L416.9 114.1 L417.8 114.3 L418.7 114.6 L419.4 115.1 L419.9 115.8 L420 116.5 L419.8 117.3 L419.3 117.9 L418.5 118.3 L417.6 118.6 L416.6 118.8 L415.8 119.1 L415.1 119.6 L414.7 120.3 L414.6 121.1 L414.9 121.8 L415.5 122.4 L416.3 122.8 L417.2 123 L418.2 123.2 L419 123.6 L419.6 124.1 L420 124.9 L419.9 125.7 L419.6 126.4 L419 126.9 L418.1 127.2 L417.2 127.5 L416.2 127.7 L415.4 128.1 L414.9 128.7 L414.6 129.4 L414.7 130.2 L415.1 130.9 L415.7 131.4 L416.6 131.7 L417.6 131.9 L418.5 132.2 L419.3 132.6 L419.8 133.2 L420 134 L419.8 134.8 L419.3 135.4 L418.6 135.9 L417.7 136.1 L416.7 136.3 L415.9 136.6 L415.1 137.1 L414.7 137.7 L414.5 138.5 L414.8 139.3 L415.3 139.9 L416 140.3 L417 140.6 L417.9 140.8 L418.8 141.1 L419.5 141.6 L419.8 142.3 L419.9 143.1 L419.6 143.8 L419 144.4 L418.2 144.8 L417.3 145 L416.3 145.2 L415.5 145.6 L414.9 146.1 L414.6 146.8 L414.6 147.6 L414.9 148.4 L415.5 148.9 L416.4 149.2 L417.3 149.5 L418.3 149.7" fill="none" stroke="#8e4c30" stroke-width="1" stroke-linejoin="round"/>
<path d="M416.5 40 L415.7 40.1 L415.2 40.7 L414.9 41.4 L415 42.2 L415.4 42.9 L416.1 43.4 L416.9 43.7 L417.9 43.9 L418.8 44.2 L419.6 44.6 L420.1 45.2 L420.3 46 L420.1 46.8 L419.7 47.4 L418.9 47.9 L418 48.1 L417.1 48.3 L416.2 48.6 L415.5 49.1 L415 49.7 L414.9 50.5 L415.1 51.3 L415.6 51.9 L416.4 52.3 L417.3 52.6 L418.2 52.8 L419.1 53.1 L419.8 53.6 L420.2 54.3 L420.2 55.1 L419.9 55.8 L419.4 56.4 L418.6 56.8 L417.6 57 L416.7 57.2 L415.8 57.6 L415.2 58.1 L414.9 58.8 L414.9 59.6 L415.2 60.4 L415.8 60.9 L416.7 61.2 L417.6 61.5 L418.6 61.7 L419.4 62.1 L419.9 62.7 L420.2 63.4 L420.1 64.2 L419.7 64.9 L419 65.4 L418.2 65.7 L417.2 65.9 L416.3 66.2 L415.5 66.6 L415 67.2 L414.8 68 L414.9 68.7 L415.4 69.4 L416.1 69.9 L417 70.1 L418 70.3 L418.9 70.6 L419.6 71.1 L420.1 71.8 L420.2 72.5 L420 73.3 L419.4 73.9 L418.7 74.3 L417.7 74.6 L416.8 74.8 L415.9 75.1 L415.2 75.6 L414.8 76.3 L414.8 77.1 L415.1 77.8 L415.6 78.4 L416.4 78.8 L417.4 79 L418.3 79.2 L419.2 79.6 L419.8 80.1 L420.1 80.9 L420.1 81.7 L419.8 82.4 L419.1 82.9 L418.3 83.2 L417.3 83.5 L416.4 83.7 L415.6 84.1 L415 84.7 L414.7 85.4 L414.8 86.2 L415.2 86.9 L415.9 87.4 L416.8 87.7 L417.7 87.9 L418.7 88.2 L419.4 88.6 L419.9 89.2 L420.1 90 L420 90.8 L419.5 91.4 L418.8 91.9 L417.9 92.1 L416.9 92.3 L416 92.6 L415.3 93.1 L414.8 93.7 L414.7 94.5 L414.9 95.3 L415.4 95.9 L416.2 96.3 L417.1 96.6 L418.1 96.8 L418.9 97.1 L419.6 97.6 L420 98.3 L420.1 99.1 L419.8 99.8 L419.2 100.4 L418.4 100.8 L417.5 101 L416.5 101.2 L415.7 101.6 L415 102.1 L414.7 102.8 L414.7 103.6 L415.1 104.4 L415.7 104.9 L416.5 105.2 L417.5 105.5 L418.4 105.7 L419.2 106.1 L419.8 106.7 L420 107.4 L420 108.2 L419.6 108.9 L418.9 109.4 L418 109.7 L417 109.9 L416.1 110.2 L415.4 110.6 L414.8 111.2 L414.6 112 L414.8 112.7 L415.2 113.4 L416 113.9 L416.9 114.1 L417.8 114.3 L418.7 114.6 L419.4 115.1 L419.9 115.8 L420 116.5 L419.8 117.3 L419.3 117.9 L418.5 118.3 L417.6 118.6 L416.6 118.8 L415.8 119.1 L415.1 119.6 L414.7 120.3 L414.6 121.1 L414.9 121.8 L415.5 122.4 L416.3 122.8 L417.2 123 L418.2 123.2 L419 123.6 L419.6 124.1 L420 124.9 L419.9 125.7 L419.6 126.4 L419 126.9 L418.1 127.2 L417.2 127.5 L416.2 127.7 L415.4 128.1 L414.9 128.7 L414.6 129.4 L414.7 130.2 L415.1 130.9 L415.7 131.4 L416.6 131.7 L417.6 131.9 L418.5 132.2 L419.3 132.6 L419.8 133.2 L420 134 L419.8 134.8 L419.3 135.4 L418.6 135.9 L417.7 136.1 L416.7 136.3 L415.9 136.6 L415.1 137.1 L414.7 137.7 L414.5 138.5 L414.8 139.3 L415.3 139.9 L416 140.3 L417 140.6 L417.9 140.8 L418.8 141.1 L419.5 141.6 L419.8 142.3 L419.9 143.1 L419.6 143.8 L419 144.4 L418.2 144.8 L417.3 145 L416.3 145.2 L415.5 145.6 L414.9 146.1 L414.6 146.8 L414.6 147.6 L414.9 148.4 L415.5 148.9 L416.4 149.2 L417.3 149.5 L418.3 149.7" fill="none" stroke="#e0a684" stroke-width="0.4" stroke-linejoin="round"/>
<path d="M431.5 43.2 L431 43.1 L430.5 43.5 L430.2 44.2 L430.1 45 L430.3 45.7 L430.7 46.4 L431.3 47 L431.8 47.6 L432.2 48.3 L432.3 49.1 L432.2 49.8 L431.8 50.4 L431.2 50.8 L430.5 51.1 L429.7 51.1 L428.9 50.9 L428.1 50.7 L427.2 50.8 L426.5 51.1 L426 51.6 L425.6 52.5 L425.6 53.3 L425.9 54.1 L426.4 54.7 L427.1 55.1 L427.9 55.6 L428.5 56.1 L428.9 56.6 L429.1 57.4 L428.9 58.2 L428.6 58.8 L428 59.3 L427.3 59.6 L426.5 59.6 L425.6 59.7 L424.8 59.9 L424.1 60.3 L423.7 60.9 L423.4 61.6 L423.5 62.5 L423.8 63.1 L424.4 63.7 L425.1 64.1 L425.9 64.4 L426.6 64.7 L427.2 65.3 L427.5 66 L427.5 66.8 L427.3 67.5 L426.8 68.1 L426.2 68.5 L425.4 68.7 L424.5 68.8 L423.7 69 L423 69.3 L422.5 69.9 L422.3 70.7 L422.3 71.5 L422.6 72.2 L423.1 72.8 L423.8 73.1 L424.6 73.4 L425.4 73.7 L426 74.2 L426.5 74.8 L426.7 75.5 L426.6 76.3 L426.2 77 L425.6 77.5 L424.9 77.8 L424 77.9 L423.2 78.1 L422.5 78.5 L422 79 L421.6 79.7 L421.6 80.5 L421.9 81.3 L422.4 81.9 L423.1 82.2 L423.9 82.5 L424.7 82.8 L425.4 83.1 L425.9 83.6 L426.2 84.4 L426.2 85.2 L426 85.9 L425.5 86.5 L424.8 86.8 L424 87.1 L423.2 87.3 L422.5 87.6 L421.9 88.1 L421.5 88.8 L421.4 89.6 L421.6 90.4 L422.1 91 L422.8 91.4 L423.5 91.6 L424.4 91.8 L425.1 92.1 L425.7 92.6 L426.1 93.2 L426.3 94 L426.1 94.8 L425.7 95.4 L425.1 95.9 L424.4 96.2 L423.5 96.4 L422.8 96.7 L422.1 97.2 L421.7 97.8 L421.6 98.6 L421.7 99.4 L422.1 100.1 L422.7 100.5 L423.5 100.8 L424.3 101 L425.1 101.2 L425.8 101.6 L426.3 102.2 L426.5 102.9 L426.5 103.7 L426.2 104.4 L425.6 104.9 L424.9 105.3 L424.1 105.6 L423.3 105.8 L422.7 106.2 L422.2 106.8 L422 107.6 L422.1 108.4 L422.4 109.1 L423 109.6 L423.7 109.9 L424.5 110.1 L425.3 110.3 L426.1 110.6 L426.7 111.1 L427 111.8 L427.1 112.5 L426.9 113.3 L426.5 113.9 L425.8 114.3 L425.1 114.6 L424.3 115 L423.6 115.4 L423.1 116 L422.8 116.7 L422.9 117.5 L423.2 118.3 L423.8 118.8 L424.5 119.1 L425.3 119.2 L426.2 119.3 L427 119.5 L427.6 119.8 L428.1 120.4 L428.4 121.2 L428.3 121.9 L428 122.6 L427.5 123.2 L426.8 123.6 L426 124 L425.3 124.4 L424.8 124.9 L424.5 125.6 L424.5 126.4 L424.7 127.1 L425.2 127.3" fill="none" stroke="#8e4c30" stroke-width="1" stroke-linejoin="round"/>
<path d="M431.5 43.2 L431 43.1 L430.5 43.5 L430.2 44.2 L430.1 45 L430.3 45.7 L430.7 46.4 L431.3 47 L431.8 47.6 L432.2 48.3 L432.3 49.1 L432.2 49.8 L431.8 50.4 L431.2 50.8 L430.5 51.1 L429.7 51.1 L428.9 50.9 L428.1 50.7 L427.2 50.8 L426.5 51.1 L426 51.6 L425.6 52.5 L425.6 53.3 L425.9 54.1 L426.4 54.7 L427.1 55.1 L427.9 55.6 L428.5 56.1 L428.9 56.6 L429.1 57.4 L428.9 58.2 L428.6 58.8 L428 59.3 L427.3 59.6 L426.5 59.6 L425.6 59.7 L424.8 59.9 L424.1 60.3 L423.7 60.9 L423.4 61.6 L423.5 62.5 L423.8 63.1 L424.4 63.7 L425.1 64.1 L425.9 64.4 L426.6 64.7 L427.2 65.3 L427.5 66 L427.5 66.8 L427.3 67.5 L426.8 68.1 L426.2 68.5 L425.4 68.7 L424.5 68.8 L423.7 69 L423 69.3 L422.5 69.9 L422.3 70.7 L422.3 71.5 L422.6 72.2 L423.1 72.8 L423.8 73.1 L424.6 73.4 L425.4 73.7 L426 74.2 L426.5 74.8 L426.7 75.5 L426.6 76.3 L426.2 77 L425.6 77.5 L424.9 77.8 L424 77.9 L423.2 78.1 L422.5 78.5 L422 79 L421.6 79.7 L421.6 80.5 L421.9 81.3 L422.4 81.9 L423.1 82.2 L423.9 82.5 L424.7 82.8 L425.4 83.1 L425.9 83.6 L426.2 84.4 L426.2 85.2 L426 85.9 L425.5 86.5 L424.8 86.8 L424 87.1 L423.2 87.3 L422.5 87.6 L421.9 88.1 L421.5 88.8 L421.4 89.6 L421.6 90.4 L422.1 91 L422.8 91.4 L423.5 91.6 L424.4 91.8 L425.1 92.1 L425.7 92.6 L426.1 93.2 L426.3 94 L426.1 94.8 L425.7 95.4 L425.1 95.9 L424.4 96.2 L423.5 96.4 L422.8 96.7 L422.1 97.2 L421.7 97.8 L421.6 98.6 L421.7 99.4 L422.1 100.1 L422.7 100.5 L423.5 100.8 L424.3 101 L425.1 101.2 L425.8 101.6 L426.3 102.2 L426.5 102.9 L426.5 103.7 L426.2 104.4 L425.6 104.9 L424.9 105.3 L424.1 105.6 L423.3 105.8 L422.7 106.2 L422.2 106.8 L422 107.6 L422.1 108.4 L422.4 109.1 L423 109.6 L423.7 109.9 L424.5 110.1 L425.3 110.3 L426.1 110.6 L426.7 111.1 L427 111.8 L427.1 112.5 L426.9 113.3 L426.5 113.9 L425.8 114.3 L425.1 114.6 L424.3 115 L423.6 115.4 L423.1 116 L422.8 116.7 L422.9 117.5 L423.2 118.3 L423.8 118.8 L424.5 119.1 L425.3 119.2 L426.2 119.3 L427 119.5 L427.6 119.8 L428.1 120.4 L428.4 121.2 L428.3 121.9 L428 122.6 L427.5 123.2 L426.8 123.6 L426 124 L425.3 124.4 L424.8 124.9 L424.5 125.6 L424.5 126.4 L424.7 127.1 L425.2 127.3" fill="none" stroke="#e0a684" stroke-width="0.4" stroke-linejoin="round"/>
<path d="M435.5 45.6 L435.8 46.2 L436.3 46.8 L437 47.4 L437.6 48 L438 48.6 L438.1 49.4 L438 50.1 L437.6 50.8 L437 51.3 L436.3 51.5 L435.5 51.5 L434.7 51.3 L433.9 51.2 L433.1 51.2 L432.4 51.6 L431.8 52.2 L431.5 53 L431.5 53.8 L431.7 54.5 L432.3 55.1 L433 55.6 L433.7 56 L434.3 56.6 L434.7 57.1 L434.8 57.9 L434.7 58.6 L434.3 59.3 L433.8 59.8 L433 60 L432.2 60.1 L431.4 60.1 L430.6 60.3 L429.9 60.6 L429.4 61.2 L429.1 62 L429.1 62.8 L429.4 63.5 L430 64 L430.7 64.4 L431.5 64.8 L432.2 65.2 L432.7 65.7 L433 66.4 L433.1 67.2 L432.9 67.9 L432.4 68.5 L431.7 68.9 L431 69.1 L430.1 69.2 L429.3 69.3 L428.6 69.6 L428.1 70.2 L427.8 70.9 L427.7 71.7 L428 72.5 L428.5 73.1 L429.2 73.5 L430 73.8 L430.7 74.1 L431.4 74.5 L431.8 75.1 L432.1 75.8 L432 76.6 L431.6 77.3 L431.1 77.8 L430.4 78.1 L429.5 78.3 L428.7 78.5 L428 78.8 L427.4 79.3 L427.1 80 L427 80.8 L427.2 81.5 L427.6 82.2 L428.3 82.6 L429.1 82.9 L429.9 83.1 L430.6 83.4 L431.2 83.9 L431.5 84.6 L431.6 85.4 L431.4 86.1 L430.9 86.8 L430.3 87.2 L429.5 87.4 L428.7 87.6 L427.9 87.9 L427.3 88.3 L426.9 89 L426.7 89.8 L426.9 90.5 L427.2 91.2 L427.9 91.7 L428.6 92 L429.4 92.2 L430.2 92.4 L430.9 92.9 L431.3 93.5 L431.5 94.2 L431.4 95 L431.1 95.7 L430.5 96.2 L429.8 96.5 L429 96.7 L428.2 97 L427.5 97.4 L427 98 L426.8 98.8 L426.9 99.6 L427.2 100.3 L427.7 100.8 L428.5 101.1 L429.3 101.3 L430.1 101.5 L430.8 101.8 L431.4 102.3 L431.7 103 L431.8 103.8 L431.5 104.5 L431.1 105.1 L430.4 105.6 L429.7 105.9 L428.9 106.1 L428.2 106.5 L427.6 107 L427.3 107.8 L427.4 108.6 L427.6 109.4 L428.1 109.9 L428.9 110.3 L429.7 110.4 L430.5 110.5 L431.3 110.7 L432 111.1 L432.5 111.7 L432.7 112.3 L432.7 113.1 L432.4 113.8 L431.9 114.4 L431.2 114.8 L430.5 115.2 L429.8 115.6 L429.3 116.2 L429 116.9 L429.1 117.8 L429.4 118.5 L429.9 119.1 L430.6 119.4 L431.4 119.4 L432.3 119.4 L433.1 119.4 L433.9 119.6 L434.5 120 L434.9 120.6 L435.1 121.3 L435.1 122.1 L434.7 122.8 L434.2 123.3 L433.5 123.8 L432.8 124.3 L432.3 124.9 L432 125.6 L432 126.4 L432.2 127.1 L432.7 127.7 L433.4 128.1 L434.2 128.2 L435 128.1 L435.9 128.1 L436.6 128.2" fill="none" stroke="#8e4c30" stroke-width="1" stroke-linejoin="round"/>
<path d="M435.5 45.6 L435.8 46.2 L436.3 46.8 L437 47.4 L437.6 48 L438 48.6 L438.1 49.4 L438 50.1 L437.6 50.8 L437 51.3 L436.3 51.5 L435.5 51.5 L434.7 51.3 L433.9 51.2 L433.1 51.2 L432.4 51.6 L431.8 52.2 L431.5 53 L431.5 53.8 L431.7 54.5 L432.3 55.1 L433 55.6 L433.7 56 L434.3 56.6 L434.7 57.1 L434.8 57.9 L434.7 58.6 L434.3 59.3 L433.8 59.8 L433 60 L432.2 60.1 L431.4 60.1 L430.6 60.3 L429.9 60.6 L429.4 61.2 L429.1 62 L429.1 62.8 L429.4 63.5 L430 64 L430.7 64.4 L431.5 64.8 L432.2 65.2 L432.7 65.7 L433 66.4 L433.1 67.2 L432.9 67.9 L432.4 68.5 L431.7 68.9 L431 69.1 L430.1 69.2 L429.3 69.3 L428.6 69.6 L428.1 70.2 L427.8 70.9 L427.7 71.7 L428 72.5 L428.5 73.1 L429.2 73.5 L430 73.8 L430.7 74.1 L431.4 74.5 L431.8 75.1 L432.1 75.8 L432 76.6 L431.6 77.3 L431.1 77.8 L430.4 78.1 L429.5 78.3 L428.7 78.5 L428 78.8 L427.4 79.3 L427.1 80 L427 80.8 L427.2 81.5 L427.6 82.2 L428.3 82.6 L429.1 82.9 L429.9 83.1 L430.6 83.4 L431.2 83.9 L431.5 84.6 L431.6 85.4 L431.4 86.1 L430.9 86.8 L430.3 87.2 L429.5 87.4 L428.7 87.6 L427.9 87.9 L427.3 88.3 L426.9 89 L426.7 89.8 L426.9 90.5 L427.2 91.2 L427.9 91.7 L428.6 92 L429.4 92.2 L430.2 92.4 L430.9 92.9 L431.3 93.5 L431.5 94.2 L431.4 95 L431.1 95.7 L430.5 96.2 L429.8 96.5 L429 96.7 L428.2 97 L427.5 97.4 L427 98 L426.8 98.8 L426.9 99.6 L427.2 100.3 L427.7 100.8 L428.5 101.1 L429.3 101.3 L430.1 101.5 L430.8 101.8 L431.4 102.3 L431.7 103 L431.8 103.8 L431.5 104.5 L431.1 105.1 L430.4 105.6 L429.7 105.9 L428.9 106.1 L428.2 106.5 L427.6 107 L427.3 107.8 L427.4 108.6 L427.6 109.4 L428.1 109.9 L428.9 110.3 L429.7 110.4 L430.5 110.5 L431.3 110.7 L432 111.1 L432.5 111.7 L432.7 112.3 L432.7 113.1 L432.4 113.8 L431.9 114.4 L431.2 114.8 L430.5 115.2 L429.8 115.6 L429.3 116.2 L429 116.9 L429.1 117.8 L429.4 118.5 L429.9 119.1 L430.6 119.4 L431.4 119.4 L432.3 119.4 L433.1 119.4 L433.9 119.6 L434.5 120 L434.9 120.6 L435.1 121.3 L435.1 122.1 L434.7 122.8 L434.2 123.3 L433.5 123.8 L432.8 124.3 L432.3 124.9 L432 125.6 L432 126.4 L432.2 127.1 L432.7 127.7 L433.4 128.1 L434.2 128.2 L435 128.1 L435.9 128.1 L436.6 128.2" fill="none" stroke="#e0a684" stroke-width="0.4" stroke-linejoin="round"/>
<path d="M442.8 48.4 L443.4 48.6 L443.6 49.4 L443.5 50.2 L443.2 50.9 L442.6 51.4 L441.9 51.7 L441.1 51.7 L440.3 51.7 L439.4 51.6 L438.7 51.7 L438 52.1 L437.5 52.7 L437.2 53.5 L437.3 54.3 L437.6 55 L438.2 55.5 L438.9 56 L439.6 56.5 L440.1 57 L440.5 57.6 L440.6 58.4 L440.5 59.1 L440.1 59.7 L439.4 60.2 L438.7 60.4 L437.9 60.5 L437 60.5 L436.2 60.6 L435.6 61 L435.1 61.6 L434.8 62.4 L434.9 63.2 L435.2 63.9 L435.7 64.4 L436.5 64.8 L437.2 65.2 L437.9 65.6 L438.4 66.2 L438.7 66.9 L438.7 67.7 L438.4 68.4 L437.9 69 L437.2 69.3 L436.4 69.4 L435.5 69.5 L434.7 69.7 L434 70 L433.5 70.5 L433.2 71.3 L433.2 72.1 L433.5 72.9 L434 73.4 L434.7 73.8 L435.5 74.1 L436.3 74.4 L436.9 74.9 L437.3 75.5 L437.5 76.3 L437.3 77.1 L437 77.7 L436.4 78.2 L435.6 78.5 L434.8 78.6 L434 78.8 L433.3 79.1 L432.7 79.7 L432.4 80.4 L432.4 81.2 L432.6 81.9 L433.1 82.5 L433.8 82.9 L434.6 83.2 L435.4 83.4 L436.1 83.8 L436.6 84.4 L436.9 85.1 L436.9 85.9 L436.7 86.6 L436.2 87.2 L435.5 87.5 L434.7 87.8 L433.9 87.9 L433.1 88.2 L432.5 88.7 L432.1 89.4 L432 90.2 L432.2 90.9 L432.6 91.6 L433.2 92 L434 92.3 L434.8 92.5 L435.6 92.8 L436.2 93.3 L436.6 93.9 L436.7 94.7 L436.6 95.4 L436.2 96.1 L435.6 96.6 L434.9 96.9 L434 97.1 L433.3 97.4 L432.6 97.8 L432.2 98.4 L432 99.2 L432.1 100 L432.5 100.7 L433.1 101.2 L433.8 101.5 L434.6 101.6 L435.4 101.8 L436.1 102.2 L436.7 102.7 L437 103.5 L437 104.2 L436.7 104.9 L436.2 105.5 L435.6 105.9 L434.8 106.2 L434 106.5 L433.3 106.9 L432.9 107.5 L432.7 108.4 L432.8 109.2 L433.1 109.9 L433.7 110.5 L434.5 110.7 L435.3 110.7 L436.2 110.8 L437 110.9 L437.6 111.3 L438.1 111.9 L438.3 112.5 L438.4 113.3 L438.1 114 L437.6 114.6 L436.9 115 L436.2 115.5 L435.6 116 L435.2 116.7 L435 117.4 L435.2 118.2 L435.7 119 L436.3 119.4 L437.1 119.6 L437.9 119.5 L438.7 119.4 L439.5 119.4 L440.3 119.5 L440.9 119.9 L441.4 120.5 L441.6 121.3 L441.5 122 L441.2 122.7 L440.6 123.3 L440 123.8 L439.4 124.4 L439 125 L438.8 125.8 L439 126.6 L439.4 127.3 L440 127.8 L440.7 128 L441.5 127.9 L442.4 127.8 L443.2 127.6 L444 127.6 L444.7 127.9 L445.2 128.5 L445.6 129.3 L445.6 130 L445.2 130.4" fill="none" stroke="#8e4c30" stroke-width="1" stroke-linejoin="round"/>
<path d="M442.8 48.4 L443.4 48.6 L443.6 49.4 L443.5 50.2 L443.2 50.9 L442.6 51.4 L441.9 51.7 L441.1 51.7 L440.3 51.7 L439.4 51.6 L438.7 51.7 L438 52.1 L437.5 52.7 L437.2 53.5 L437.3 54.3 L437.6 55 L438.2 55.5 L438.9 56 L439.6 56.5 L440.1 57 L440.5 57.6 L440.6 58.4 L440.5 59.1 L440.1 59.7 L439.4 60.2 L438.7 60.4 L437.9 60.5 L437 60.5 L436.2 60.6 L435.6 61 L435.1 61.6 L434.8 62.4 L434.9 63.2 L435.2 63.9 L435.7 64.4 L436.5 64.8 L437.2 65.2 L437.9 65.6 L438.4 66.2 L438.7 66.9 L438.7 67.7 L438.4 68.4 L437.9 69 L437.2 69.3 L436.4 69.4 L435.5 69.5 L434.7 69.7 L434 70 L433.5 70.5 L433.2 71.3 L433.2 72.1 L433.5 72.9 L434 73.4 L434.7 73.8 L435.5 74.1 L436.3 74.4 L436.9 74.9 L437.3 75.5 L437.5 76.3 L437.3 77.1 L437 77.7 L436.4 78.2 L435.6 78.5 L434.8 78.6 L434 78.8 L433.3 79.1 L432.7 79.7 L432.4 80.4 L432.4 81.2 L432.6 81.9 L433.1 82.5 L433.8 82.9 L434.6 83.2 L435.4 83.4 L436.1 83.8 L436.6 84.4 L436.9 85.1 L436.9 85.9 L436.7 86.6 L436.2 87.2 L435.5 87.5 L434.7 87.8 L433.9 87.9 L433.1 88.2 L432.5 88.7 L432.1 89.4 L432 90.2 L432.2 90.9 L432.6 91.6 L433.2 92 L434 92.3 L434.8 92.5 L435.6 92.8 L436.2 93.3 L436.6 93.9 L436.7 94.7 L436.6 95.4 L436.2 96.1 L435.6 96.6 L434.9 96.9 L434 97.1 L433.3 97.4 L432.6 97.8 L432.2 98.4 L432 99.2 L432.1 100 L432.5 100.7 L433.1 101.2 L433.8 101.5 L434.6 101.6 L435.4 101.8 L436.1 102.2 L436.7 102.7 L437 103.5 L437 104.2 L436.7 104.9 L436.2 105.5 L435.6 105.9 L434.8 106.2 L434 106.5 L433.3 106.9 L432.9 107.5 L432.7 108.4 L432.8 109.2 L433.1 109.9 L433.7 110.5 L434.5 110.7 L435.3 110.7 L436.2 110.8 L437 110.9 L437.6 111.3 L438.1 111.9 L438.3 112.5 L438.4 113.3 L438.1 114 L437.6 114.6 L436.9 115 L436.2 115.5 L435.6 116 L435.2 116.7 L435 117.4 L435.2 118.2 L435.7 119 L436.3 119.4 L437.1 119.6 L437.9 119.5 L438.7 119.4 L439.5 119.4 L440.3 119.5 L440.9 119.9 L441.4 120.5 L441.6 121.3 L441.5 122 L441.2 122.7 L440.6 123.3 L440 123.8 L439.4 124.4 L439 125 L438.8 125.8 L439 126.6 L439.4 127.3 L440 127.8 L440.7 128 L441.5 127.9 L442.4 127.8 L443.2 127.6 L444 127.6 L444.7 127.9 L445.2 128.5 L445.6 129.3 L445.6 130 L445.2 130.4" fill="none" stroke="#e0a684" stroke-width="0.4" stroke-linejoin="round"/>
<path d="M428 43.8 L428.2 44.3 L428.5 44.8 L429 45.1 L429.6 45.4 L430.4 45.5 L431.2 45.5 L431.9 45.3 L432.5 45 L432.9 44.6 L433.1 44.1 L433.4 43.6 L433.6 43.1 L434 42.7 L434.6 42.4 L435.3 42.3 L436.1 42.2 L436.9 42.4 L437.5 42.6 L438 43 L438.3 43.5 L438.5 44 L438.7 44.5 L439 44.9 L439.5 45.3 L440.1 45.6 L440.9 45.7 L441.7 45.7 L442.4 45.5 L443 45.2 L443.4 44.8 L443.6 44.3 L443.9 43.8 L444.1 43.3 L444.5 42.9 L445.1 42.6 L445.8 42.4 L446.6 42.4 L447.4 42.5 L448 42.8 L448.5 43.2 L448.8 43.6 L449 44.1 L449.2 44.6 L449.5 45.1 L450 45.5 L450.6 45.7 L451.4 45.8 L452.2 45.8 L452.9 45.6 L453.5 45.3 L453.9 44.9 L454.1 44.4 L454.4 43.9 L454.6 43.5 L455 43 L455.6 42.7 L456.3 42.6 L457.1 42.5 L457.9 42.7 L458.5 42.9 L459 43.3 L459.3 43.8 L459.5 44.3 L459.7 44.8 L460 45.2 L460.5 45.6 L461.1 45.9 L461.9 46 L462.7 46 L463.4 45.8 L464 45.5 L464.4 45.1 L464.6 44.6 L464.9 44.1 L465.1 43.6 L465.5 43.2 L466.1 42.9 L466.8 42.7 L467.6 42.7 L468 42.8" fill="none" stroke="#8e4c30" stroke-width="1" stroke-linejoin="round"/>
<path d="M428 43.8 L428.2 44.3 L428.5 44.8 L429 45.1 L429.6 45.4 L430.4 45.5 L431.2 45.5 L431.9 45.3 L432.5 45 L432.9 44.6 L433.1 44.1 L433.4 43.6 L433.6 43.1 L434 42.7 L434.6 42.4 L435.3 42.3 L436.1 42.2 L436.9 42.4 L437.5 42.6 L438 43 L438.3 43.5 L438.5 44 L438.7 44.5 L439 44.9 L439.5 45.3 L440.1 45.6 L440.9 45.7 L441.7 45.7 L442.4 45.5 L443 45.2 L443.4 44.8 L443.6 44.3 L443.9 43.8 L444.1 43.3 L444.5 42.9 L445.1 42.6 L445.8 42.4 L446.6 42.4 L447.4 42.5 L448 42.8 L448.5 43.2 L448.8 43.6 L449 44.1 L449.2 44.6 L449.5 45.1 L450 45.5 L450.6 45.7 L451.4 45.8 L452.2 45.8 L452.9 45.6 L453.5 45.3 L453.9 44.9 L454.1 44.4 L454.4 43.9 L454.6 43.5 L455 43 L455.6 42.7 L456.3 42.6 L457.1 42.5 L457.9 42.7 L458.5 42.9 L459 43.3 L459.3 43.8 L459.5 44.3 L459.7 44.8 L460 45.2 L460.5 45.6 L461.1 45.9 L461.9 46 L462.7 46 L463.4 45.8 L464 45.5 L464.4 45.1 L464.6 44.6 L464.9 44.1 L465.1 43.6 L465.5 43.2 L466.1 42.9 L466.8 42.7 L467.6 42.7 L468 42.8" fill="none" stroke="#e0a684" stroke-width="0.4" stroke-linejoin="round"/>
<path d="M430 48.6 L430.5 48.7 L431.3 48.6 L431.9 48.4 L432.5 48.1 L432.8 47.6 L433 47.2 L433.3 46.7 L433.6 46.2 L434 45.8 L434.7 45.6 L435.4 45.5 L436.2 45.5 L436.9 45.7 L437.5 46 L437.9 46.4 L438.2 46.9 L438.4 47.4 L438.6 47.9 L439 48.3 L439.5 48.7 L440.2 48.9 L441 49 L441.8 48.9 L442.4 48.7 L443 48.4 L443.3 47.9 L443.5 47.4 L443.8 46.9 L444.1 46.5 L444.5 46.1 L445.2 45.8 L445.9 45.7 L446.7 45.8 L447.5 46 L448 46.3 L448.4 46.7 L448.7 47.2 L448.9 47.7 L449.1 48.2 L449.5 48.6 L450 49 L450.7 49.2 L451.5 49.3 L452.3 49.2 L452.9 49 L453.5 48.6 L453.8 48.2 L454 47.7 L454.3 47.2 L454.6 46.7 L455 46.4 L455.7 46.1 L456.4 46 L457.2 46 L458 46.2 L458.5 46.5 L458.9 47 L459.2 47.4 L459.4 48 L459.6 48.5 L460 48.9 L460.5 49.2 L461.2 49.5 L462 49.5 L462.8 49.5 L463.4 49.3 L464 48.9 L464.3 48.5 L464.5 48 L464.8 47.5 L465.1 47 L465.5 46.6 L466.2 46.4 L466.9 46.3 L467.7 46.3 L468 46.5" fill="none" stroke="#8e4c30" stroke-width="1" stroke-linejoin="round"/>
<path d="M430 48.6 L430.5 48.7 L431.3 48.6 L431.9 48.4 L432.5 48.1 L432.8 47.6 L433 47.2 L433.3 46.7 L433.6 46.2 L434 45.8 L434.7 45.6 L435.4 45.5 L436.2 45.5 L436.9 45.7 L437.5 46 L437.9 46.4 L438.2 46.9 L438.4 47.4 L438.6 47.9 L439 48.3 L439.5 48.7 L440.2 48.9 L441 49 L441.8 48.9 L442.4 48.7 L443 48.4 L443.3 47.9 L443.5 47.4 L443.8 46.9 L444.1 46.5 L444.5 46.1 L445.2 45.8 L445.9 45.7 L446.7 45.8 L447.5 46 L448 46.3 L448.4 46.7 L448.7 47.2 L448.9 47.7 L449.1 48.2 L449.5 48.6 L450 49 L450.7 49.2 L451.5 49.3 L452.3 49.2 L452.9 49 L453.5 48.6 L453.8 48.2 L454 47.7 L454.3 47.2 L454.6 46.7 L455 46.4 L455.7 46.1 L456.4 46 L457.2 46 L458 46.2 L458.5 46.5 L458.9 47 L459.2 47.4 L459.4 48 L459.6 48.5 L460 48.9 L460.5 49.2 L461.2 49.5 L462 49.5 L462.8 49.5 L463.4 49.3 L464 48.9 L464.3 48.5 L464.5 48 L464.8 47.5 L465.1 47 L465.5 46.6 L466.2 46.4 L466.9 46.3 L467.7 46.3 L468 46.5" fill="none" stroke="#e0a684" stroke-width="0.4" stroke-linejoin="round"/>
<path d="M432.4 51.1 L432.7 50.6 L432.9 50.1 L433.2 49.7 L433.6 49.2 L434.1 48.9 L434.8 48.7 L435.5 48.6 L436.3 48.7 L437 49 L437.5 49.3 L437.9 49.8 L438.1 50.3 L438.3 50.8 L438.5 51.3 L439 51.7 L439.5 52 L440.3 52.2 L441.1 52.2 L441.8 52.1 L442.4 51.9 L442.9 51.5 L443.2 51 L443.4 50.5 L443.7 50.1 L444.1 49.6 L444.6 49.3 L445.3 49.1 L446.1 49 L446.8 49.1 L447.5 49.4 L448 49.7 L448.4 50.2 L448.6 50.7 L448.8 51.2 L449 51.7 L449.5 52.1 L450 52.4 L450.8 52.6 L451.6 52.6 L452.3 52.5 L453 52.3 L453.4 51.9 L453.7 51.4 L453.9 50.9 L454.2 50.5 L454.6 50 L455.1 49.7 L455.8 49.5 L456.6 49.5 L457.3 49.6 L458 49.8 L458.5 50.2 L458.9 50.6 L459.1 51.1 L459.3 51.6 L459.5 52.1 L460 52.5 L460.5 52.8 L461.3 53 L462.1 53.1 L462.8 52.9 L463.5 52.7 L463.9 52.3 L464.2 51.8 L464.4 51.3 L464.7 50.9 L465.1 50.4 L465.6 50.1 L466.3 49.9 L467.1 49.9 L467.8 50 L468.1 50.2" fill="none" stroke="#8e4c30" stroke-width="1" stroke-linejoin="round"/>
<path d="M432.4 51.1 L432.7 50.6 L432.9 50.1 L433.2 49.7 L433.6 49.2 L434.1 48.9 L434.8 48.7 L435.5 48.6 L436.3 48.7 L437 49 L437.5 49.3 L437.9 49.8 L438.1 50.3 L438.3 50.8 L438.5 51.3 L439 51.7 L439.5 52 L440.3 52.2 L441.1 52.2 L441.8 52.1 L442.4 51.9 L442.9 51.5 L443.2 51 L443.4 50.5 L443.7 50.1 L444.1 49.6 L444.6 49.3 L445.3 49.1 L446.1 49 L446.8 49.1 L447.5 49.4 L448 49.7 L448.4 50.2 L448.6 50.7 L448.8 51.2 L449 51.7 L449.5 52.1 L450 52.4 L450.8 52.6 L451.6 52.6 L452.3 52.5 L453 52.3 L453.4 51.9 L453.7 51.4 L453.9 50.9 L454.2 50.5 L454.6 50 L455.1 49.7 L455.8 49.5 L456.6 49.5 L457.3 49.6 L458 49.8 L458.5 50.2 L458.9 50.6 L459.1 51.1 L459.3 51.6 L459.5 52.1 L460 52.5 L460.5 52.8 L461.3 53 L462.1 53.1 L462.8 52.9 L463.5 52.7 L463.9 52.3 L464.2 51.8 L464.4 51.3 L464.7 50.9 L465.1 50.4 L465.6 50.1 L466.3 49.9 L467.1 49.9 L467.8 50 L468.1 50.2" fill="none" stroke="#e0a684" stroke-width="0.4" stroke-linejoin="round"/>
<rect x="414.8" y="43.4" width="2.8" height="2.4" fill="#e09674" stroke="#b5694a" stroke-width="0.5"/>
<rect x="428.6" y="45.2" width="3.8" height="3.8" fill="#e09674" stroke="#b5694a" stroke-width="0.5"/>
<path d="M480 43 L480.2 43.5 L480.5 44 L481 44.4 L481.6 44.7 L482.4 44.9 L483.2 44.8 L483.9 44.7 L484.5 44.4 L484.9 43.9 L485.1 43.4 L485.4 42.9 L485.6 42.4 L486 42 L486.6 41.6 L487.3 41.5 L488.1 41.4 L488.9 41.6 L489.5 41.9 L490 42.3 L490.3 42.8 L490.5 43.3 L490.7 43.9 L491 44.3 L491.5 44.7 L492.1 45 L492.9 45.2 L493.7 45.2 L494.4 45 L495 44.7 L495.4 44.2 L495.6 43.7 L495.9 43.2 L496.1 42.7 L496.5 42.3 L497.1 41.9 L497.8 41.8 L498.6 41.8 L499.4 41.9 L500 42.2 L500.5 42.6 L500.8 43.1 L501 43.6 L501.2 44.2 L501.5 44.7 L502 45.1 L502.6 45.3 L503.4 45.5 L504.2 45.5 L504.9 45.3 L505.5 45 L505.9 44.5 L506.1 44 L506.4 43.5 L506.6 43 L507 42.6 L507.6 42.2 L508.3 42.1 L509.1 42.1 L509.9 42.2 L510.5 42.5 L511 42.9 L511.3 43.4 L511.5 43.9 L511.7 44.5 L512 45 L512.5 45.4 L513.1 45.7 L513.9 45.8" fill="none" stroke="#8e4c30" stroke-width="1" stroke-linejoin="round"/>
<path d="M480 43 L480.2 43.5 L480.5 44 L481 44.4 L481.6 44.7 L482.4 44.9 L483.2 44.8 L483.9 44.7 L484.5 44.4 L484.9 43.9 L485.1 43.4 L485.4 42.9 L485.6 42.4 L486 42 L486.6 41.6 L487.3 41.5 L488.1 41.4 L488.9 41.6 L489.5 41.9 L490 42.3 L490.3 42.8 L490.5 43.3 L490.7 43.9 L491 44.3 L491.5 44.7 L492.1 45 L492.9 45.2 L493.7 45.2 L494.4 45 L495 44.7 L495.4 44.2 L495.6 43.7 L495.9 43.2 L496.1 42.7 L496.5 42.3 L497.1 41.9 L497.8 41.8 L498.6 41.8 L499.4 41.9 L500 42.2 L500.5 42.6 L500.8 43.1 L501 43.6 L501.2 44.2 L501.5 44.7 L502 45.1 L502.6 45.3 L503.4 45.5 L504.2 45.5 L504.9 45.3 L505.5 45 L505.9 44.5 L506.1 44 L506.4 43.5 L506.6 43 L507 42.6 L507.6 42.2 L508.3 42.1 L509.1 42.1 L509.9 42.2 L510.5 42.5 L511 42.9 L511.3 43.4 L511.5 43.9 L511.7 44.5 L512 45 L512.5 45.4 L513.1 45.7 L513.9 45.8" fill="none" stroke="#e0a684" stroke-width="0.4" stroke-linejoin="round"/>
<path d="M477.9 48.6 L478.7 48.6 L479.4 48.4 L480 48.1 L480.4 47.6 L480.6 47.1 L480.9 46.6 L481.1 46.1 L481.5 45.7 L482.1 45.4 L482.8 45.2 L483.6 45.2 L484.4 45.3 L485 45.6 L485.5 46 L485.8 46.5 L486 47 L486.2 47.6 L486.5 48.1 L487 48.5 L487.6 48.8 L488.4 48.9 L489.2 48.9 L489.9 48.7 L490.5 48.4 L490.9 47.9 L491.1 47.4 L491.4 46.9 L491.6 46.4 L492 46 L492.6 45.7 L493.3 45.5 L494.1 45.5 L494.9 45.6 L495.5 45.9 L496 46.3 L496.3 46.8 L496.5 47.4 L496.7 47.9 L497 48.4 L497.5 48.8 L498.1 49.1 L498.9 49.2 L499.7 49.2 L500.4 49 L501 48.7 L501.4 48.3 L501.6 47.7 L501.9 47.2 L502.1 46.7 L502.5 46.3 L503.1 46 L503.8 45.8 L504.6 45.8 L505.4 45.9 L506 46.2 L506.5 46.6 L506.8 47.1 L507 47.7 L507.2 48.2 L507.5 48.7 L508 49.1 L508.6 49.4 L509.4 49.5 L510.2 49.5 L510.9 49.3 L511.5 49 L511.9 48.6 L512 48" fill="none" stroke="#8e4c30" stroke-width="1" stroke-linejoin="round"/>
<path d="M477.9 48.6 L478.7 48.6 L479.4 48.4 L480 48.1 L480.4 47.6 L480.6 47.1 L480.9 46.6 L481.1 46.1 L481.5 45.7 L482.1 45.4 L482.8 45.2 L483.6 45.2 L484.4 45.3 L485 45.6 L485.5 46 L485.8 46.5 L486 47 L486.2 47.6 L486.5 48.1 L487 48.5 L487.6 48.8 L488.4 48.9 L489.2 48.9 L489.9 48.7 L490.5 48.4 L490.9 47.9 L491.1 47.4 L491.4 46.9 L491.6 46.4 L492 46 L492.6 45.7 L493.3 45.5 L494.1 45.5 L494.9 45.6 L495.5 45.9 L496 46.3 L496.3 46.8 L496.5 47.4 L496.7 47.9 L497 48.4 L497.5 48.8 L498.1 49.1 L498.9 49.2 L499.7 49.2 L500.4 49 L501 48.7 L501.4 48.3 L501.6 47.7 L501.9 47.2 L502.1 46.7 L502.5 46.3 L503.1 46 L503.8 45.8 L504.6 45.8 L505.4 45.9 L506 46.2 L506.5 46.6 L506.8 47.1 L507 47.7 L507.2 48.2 L507.5 48.7 L508 49.1 L508.6 49.4 L509.4 49.5 L510.2 49.5 L510.9 49.3 L511.5 49 L511.9 48.6 L512 48" fill="none" stroke="#e0a684" stroke-width="0.4" stroke-linejoin="round"/>
<path d="M476.1 50.9 L476.4 50.3 L476.6 49.8 L477 49.4 L477.6 49.1 L478.3 48.9 L479.1 48.9 L479.9 49 L480.5 49.3 L481 49.7 L481.3 50.2 L481.5 50.8 L481.7 51.3 L482 51.8 L482.5 52.2 L483.1 52.5 L483.9 52.6 L484.7 52.6 L485.4 52.4 L486 52.1 L486.4 51.7 L486.6 51.2 L486.9 50.6 L487.1 50.1 L487.5 49.7 L488.1 49.4 L488.8 49.2 L489.6 49.2 L490.4 49.4 L491 49.6 L491.5 50.1 L491.8 50.6 L492 51.1 L492.2 51.6 L492.5 52.1 L493 52.5 L493.6 52.8 L494.4 52.9 L495.2 52.9 L495.9 52.7 L496.5 52.4 L496.9 52 L497.1 51.5 L497.3 50.9 L497.6 50.4 L498 50 L498.6 49.7 L499.3 49.5 L500.1 49.5 L500.9 49.7 L501.5 50 L502 50.4 L502.3 50.9 L502.5 51.4 L502.7 51.9 L503 52.4 L503.5 52.8 L504.1 53.1 L504.9 53.2 L505.7 53.2 L506.4 53 L507 52.7 L507.4 52.3 L507.6 51.8 L507.8 51.2 L508.1 50.7 L508.5 50.3 L509.1 50 L509.8 49.8" fill="none" stroke="#8e4c30" stroke-width="1" stroke-linejoin="round"/>
<path d="M476.1 50.9 L476.4 50.3 L476.6 49.8 L477 49.4 L477.6 49.1 L478.3 48.9 L479.1 48.9 L479.9 49 L480.5 49.3 L481 49.7 L481.3 50.2 L481.5 50.8 L481.7 51.3 L482 51.8 L482.5 52.2 L483.1 52.5 L483.9 52.6 L484.7 52.6 L485.4 52.4 L486 52.1 L486.4 51.7 L486.6 51.2 L486.9 50.6 L487.1 50.1 L487.5 49.7 L488.1 49.4 L488.8 49.2 L489.6 49.2 L490.4 49.4 L491 49.6 L491.5 50.1 L491.8 50.6 L492 51.1 L492.2 51.6 L492.5 52.1 L493 52.5 L493.6 52.8 L494.4 52.9 L495.2 52.9 L495.9 52.7 L496.5 52.4 L496.9 52 L497.1 51.5 L497.3 50.9 L497.6 50.4 L498 50 L498.6 49.7 L499.3 49.5 L500.1 49.5 L500.9 49.7 L501.5 50 L502 50.4 L502.3 50.9 L502.5 51.4 L502.7 51.9 L503 52.4 L503.5 52.8 L504.1 53.1 L504.9 53.2 L505.7 53.2 L506.4 53 L507 52.7 L507.4 52.3 L507.6 51.8 L507.8 51.2 L508.1 50.7 L508.5 50.3 L509.1 50 L509.8 49.8" fill="none" stroke="#e0a684" stroke-width="0.4" stroke-linejoin="round"/>
<ellipse cx="482.3" cy="85.8" rx="44.4" ry="33.9" fill="#fff" stroke="none" transform="rotate(-1.5 482.3 85.8)"/>
<path d="M446 79.1 L445.6 79.6 L445.5 80.2 L445.9 81 L446.5 81.6 L447.3 82.1 L448.1 82.3 L448.9 82.2 L449.6 81.9 L450.2 81.4 L450.9 80.8 L451.5 80.4 L452.3 80.1 L453.1 80.1 L453.9 80.4 L454.6 80.9 L455.2 81.6 L455.5 82.4 L455.5 83.2 L455.3 84 L454.8 84.7 L454.3 85.3 L453.9 86 L453.6 86.8 L453.7 87.6 L454 88.4 L454.6 89.1 L455.3 89.6 L456.1 89.9 L456.9 89.9 L457.6 89.6 L458.3 89.1 L458.9 88.6 L459.6 88.1 L460.3 87.7 L461.1 87.7 L461.9 87.9 L462.7 88.4 L463.3 89 L463.7 89.8 L463.8 90.6 L463.6 91.4 L463.2 92.1 L462.7 92.8 L462.2 93.4 L461.9 94.2 L461.9 95 L462.1 95.8 L462.6 96.5 L463.4 97.1 L464.2 97.4 L465 97.5 L465.7 97.3 L466.4 96.8 L467 96.3 L467.7 95.8 L468.4 95.4 L469.1 95.2 L469.9 95.4 L470.7 95.8 L471.4 96.5 L471.8 97.2 L472 98 L471.9 98.8 L471.5 99.5 L471 100.2 L470.6 100.9 L470.2 101.6 L470.1 102.4 L470.3 103.1 L470.7 103.9 L471.4 104.5 L472.2 105 L473 105.1 L473.8 105 L474.5 104.6 L475.1 104 L475.7 103.5 L476.4 103 L477.2 102.8 L478 102.9 L478.8 103.3 L479.5 103.9 L480 104.6 L480.2 105.4 L480.2 106.2 L479.9 106.9 L479.4 107.6 L478.9 108.3 L478.5 109 L478.3 109.7 L478.4 110.5 L478.8 111.3 L479.5 112 L480.2 112.5 L481 112.7 L481.8 112.6 L482.5 112.3 L483.2 111.8 L483.8 111.2 L484.5 110.7 L485.2 110.5 L486 110.5 L486.8 110.8 L487.5 111.3 L488.1 112 L488.3 112.7 L487.9 113.1" fill="none" stroke="#8e4c30" stroke-width="1.1" stroke-linejoin="round"/>
<path d="M446 79.1 L445.6 79.6 L445.5 80.2 L445.9 81 L446.5 81.6 L447.3 82.1 L448.1 82.3 L448.9 82.2 L449.6 81.9 L450.2 81.4 L450.9 80.8 L451.5 80.4 L452.3 80.1 L453.1 80.1 L453.9 80.4 L454.6 80.9 L455.2 81.6 L455.5 82.4 L455.5 83.2 L455.3 84 L454.8 84.7 L454.3 85.3 L453.9 86 L453.6 86.8 L453.7 87.6 L454 88.4 L454.6 89.1 L455.3 89.6 L456.1 89.9 L456.9 89.9 L457.6 89.6 L458.3 89.1 L458.9 88.6 L459.6 88.1 L460.3 87.7 L461.1 87.7 L461.9 87.9 L462.7 88.4 L463.3 89 L463.7 89.8 L463.8 90.6 L463.6 91.4 L463.2 92.1 L462.7 92.8 L462.2 93.4 L461.9 94.2 L461.9 95 L462.1 95.8 L462.6 96.5 L463.4 97.1 L464.2 97.4 L465 97.5 L465.7 97.3 L466.4 96.8 L467 96.3 L467.7 95.8 L468.4 95.4 L469.1 95.2 L469.9 95.4 L470.7 95.8 L471.4 96.5 L471.8 97.2 L472 98 L471.9 98.8 L471.5 99.5 L471 100.2 L470.6 100.9 L470.2 101.6 L470.1 102.4 L470.3 103.1 L470.7 103.9 L471.4 104.5 L472.2 105 L473 105.1 L473.8 105 L474.5 104.6 L475.1 104 L475.7 103.5 L476.4 103 L477.2 102.8 L478 102.9 L478.8 103.3 L479.5 103.9 L480 104.6 L480.2 105.4 L480.2 106.2 L479.9 106.9 L479.4 107.6 L478.9 108.3 L478.5 109 L478.3 109.7 L478.4 110.5 L478.8 111.3 L479.5 112 L480.2 112.5 L481 112.7 L481.8 112.6 L482.5 112.3 L483.2 111.8 L483.8 111.2 L484.5 110.7 L485.2 110.5 L486 110.5 L486.8 110.8 L487.5 111.3 L488.1 112 L488.3 112.7 L487.9 113.1" fill="none" stroke="#e0a684" stroke-width="0.4" stroke-linejoin="round"/>
<path d="M471.7 58.5 L471.3 59.2 L471.1 59.9 L471.3 60.7 L471.9 61.3 L472.6 61.9 L473.4 62.3 L474.2 62.3 L475 62.1 L475.7 61.7 L476.2 61.1 L476.7 60.4 L477.3 59.8 L477.9 59.4 L478.7 59.2 L479.6 59.3 L480.4 59.7 L481.1 60.3 L481.6 61 L481.8 61.8 L481.7 62.5 L481.4 63.3 L481 64.1 L480.7 64.8 L480.6 65.6 L480.7 66.4 L481.2 67.1 L481.8 67.7 L482.6 68.1 L483.5 68.3 L484.3 68.2 L484.9 67.8 L485.5 67.2 L486 66.6 L486.6 66 L487.2 65.5 L487.9 65.2 L488.8 65.2 L489.6 65.5 L490.4 66 L490.9 66.7 L491.2 67.5 L491.2 68.2 L491 69 L490.6 69.8 L490.3 70.5 L490.1 71.3 L490.1 72.1 L490.5 72.8 L491.1 73.5 L491.8 74 L492.7 74.2 L493.5 74.2 L494.2 73.9 L494.8 73.4 L495.4 72.8 L495.9 72.1 L496.5 71.6 L497.2 71.2 L498 71.1 L498.8 71.4 L499.6 71.8 L500.3 72.4 L500.7 73.2 L500.8 73.9 L500.6 74.7 L500.3 75.5 L499.9 76.2 L499.6 77 L499.6 77.8 L499.8 78.5 L500.3 79.2 L501.1 79.8 L501.9 80.1 L502.7 80.2 L503.5 80 L504.1 79.5 L504.7 78.9 L505.2 78.3 L505.8 77.7 L506.4 77.3 L507.2 77.1 L508 77.2 L508.9 77.6 L509.6 78.2 L510 78.9 L510.2 79.6 L510.2 80.4 L509.9 81.2 L509.5 81.9 L509.2 82.7 L509.1 83.5 L509.2 84.2 L509.6 85 L510.3 85.6 L511.1 86 L512 86.2 L512.7 86 L513.4 85.7 L514 85.1 L514.5 84.4 L515.1 83.8 L515.7 83.3 L516.4 83.1 L517.3 83.1 L518.1 83.4 L518.9 83.9 L519.4 84.6 L519.7 85.3 L519.7 86.1 L519.5 86.9 L519.1 87.6 L518.7 88.4 L518.6 89.2 L518.6 90 L518.9 90.7 L519.5 91.3 L520.3 91.8 L521.2 92.1 L521.8 91.9 L522.1 91.4" fill="none" stroke="#8e4c30" stroke-width="1.1" stroke-linejoin="round"/>
<path d="M471.7 58.5 L471.3 59.2 L471.1 59.9 L471.3 60.7 L471.9 61.3 L472.6 61.9 L473.4 62.3 L474.2 62.3 L475 62.1 L475.7 61.7 L476.2 61.1 L476.7 60.4 L477.3 59.8 L477.9 59.4 L478.7 59.2 L479.6 59.3 L480.4 59.7 L481.1 60.3 L481.6 61 L481.8 61.8 L481.7 62.5 L481.4 63.3 L481 64.1 L480.7 64.8 L480.6 65.6 L480.7 66.4 L481.2 67.1 L481.8 67.7 L482.6 68.1 L483.5 68.3 L484.3 68.2 L484.9 67.8 L485.5 67.2 L486 66.6 L486.6 66 L487.2 65.5 L487.9 65.2 L488.8 65.2 L489.6 65.5 L490.4 66 L490.9 66.7 L491.2 67.5 L491.2 68.2 L491 69 L490.6 69.8 L490.3 70.5 L490.1 71.3 L490.1 72.1 L490.5 72.8 L491.1 73.5 L491.8 74 L492.7 74.2 L493.5 74.2 L494.2 73.9 L494.8 73.4 L495.4 72.8 L495.9 72.1 L496.5 71.6 L497.2 71.2 L498 71.1 L498.8 71.4 L499.6 71.8 L500.3 72.4 L500.7 73.2 L500.8 73.9 L500.6 74.7 L500.3 75.5 L499.9 76.2 L499.6 77 L499.6 77.8 L499.8 78.5 L500.3 79.2 L501.1 79.8 L501.9 80.1 L502.7 80.2 L503.5 80 L504.1 79.5 L504.7 78.9 L505.2 78.3 L505.8 77.7 L506.4 77.3 L507.2 77.1 L508 77.2 L508.9 77.6 L509.6 78.2 L510 78.9 L510.2 79.6 L510.2 80.4 L509.9 81.2 L509.5 81.9 L509.2 82.7 L509.1 83.5 L509.2 84.2 L509.6 85 L510.3 85.6 L511.1 86 L512 86.2 L512.7 86 L513.4 85.7 L514 85.1 L514.5 84.4 L515.1 83.8 L515.7 83.3 L516.4 83.1 L517.3 83.1 L518.1 83.4 L518.9 83.9 L519.4 84.6 L519.7 85.3 L519.7 86.1 L519.5 86.9 L519.1 87.6 L518.7 88.4 L518.6 89.2 L518.6 90 L518.9 90.7 L519.5 91.3 L520.3 91.8 L521.2 92.1 L521.8 91.9 L522.1 91.4" fill="none" stroke="#e0a684" stroke-width="0.4" stroke-linejoin="round"/>
<path d="M444 77.6h5M471.6 52v6" stroke="#8e4c30" stroke-width="1.2"/>
<ellipse cx="482.3" cy="85.8" transform="rotate(-1.5 482.3 85.8)" fill="none" rx="44.4" ry="33.9" stroke="#96553a" stroke-width="6.5"/>
<ellipse cx="482.3" cy="85.8" transform="rotate(-1.5 482.3 85.8)" fill="none" rx="44.4" ry="33.9" stroke="url(#gRing)" stroke-width="5.4"/>
<ellipse cx="482.3" cy="85.8" transform="rotate(-1.5 482.3 85.8)" fill="none" rx="45.3" ry="34.8" stroke="#ecc0a4" stroke-width="0.9" opacity="0.75"/>
<ellipse cx="482.3" cy="85.8" transform="rotate(-1.5 482.3 85.8)" fill="none" rx="43.3" ry="32.8" stroke="#e2ad8e" stroke-width="0.7" opacity="0.6"/>
<rect x="467.2" y="43" width="5.2" height="6.6" fill="#e09674" stroke="#b5694a" stroke-width="0.5"/>
<path d="M472.4 41.8h6.2l1.4 1.6v4l-2 1.2h-5.6z" fill="#1e1e1e"/>
<rect x="476" y="47.6" width="2.6" height="2" fill="#1c1c1c" transform="rotate(0 477.3 48.6)"/>
<rect x="513.4" y="42.3" width="5.6" height="7.7" fill="#e09674" stroke="#b5694a" stroke-width="0.5"/>
<rect x="513.4" y="45.8" width="5.6" height="0.7" fill="#8e4c30"/>
<path d="M519 41.6h8.6l1.2 1.4v2.2l5.6 0.6v0.9l-6 0.4l-1 0.9h-8.4z" fill="#1e1e1e"/>
<rect x="518.3" y="47.8" width="3.4" height="3.2" fill="#1c1c1c" transform="rotate(0 520 49.4)"/>
<path d="M423.4 69.4h7.6l1 1.4v5.4h-8.6z" fill="#1e1e1e"/>
<rect x="422.4" y="76" width="5" height="5.6" fill="#e09674" stroke="#b5694a" stroke-width="0.5"/>
<rect x="427.6" y="75.6" width="4.6" height="4.4" fill="#e09674" stroke="#b5694a" stroke-width="0.5"/>
<rect x="424.6" y="81.6" width="2.2" height="2" fill="#1c1c1c" transform="rotate(0 425.7 82.6)"/>
<rect x="514.8" y="72.9" width="5.6" height="5.2" fill="#e09674" stroke="#b5694a" stroke-width="0.5"/>
<rect x="514.8" y="78.6" width="5.6" height="5.4" fill="#e09674" stroke="#b5694a" stroke-width="0.5"/>
<rect x="519.6" y="84" width="3" height="3.6" fill="#e09674" stroke="#b5694a" stroke-width="0.5"/>
<path d="M526.6 72.9l1.4 -4.2l1.4 4.2z" fill="#1e1e1e"/>
<path d="M529.4 72.9h8l1 1.4l8.4 0.8v1.4l-8.4 0.6l-1 1.3h-8z" fill="#1e1e1e"/>
<rect x="531" y="78.4" width="1.6" height="2.2" fill="#1c1c1c" transform="rotate(0 531.8 79.5)"/>
<rect x="534.4" y="78.4" width="1.6" height="2.2" fill="#1c1c1c" transform="rotate(0 535.2 79.5)"/>
<rect x="467" y="106.6" width="7.6" height="4.2" fill="#e09674" stroke="#b5694a" stroke-width="0.5"/>
<rect x="467" y="111.2" width="7.6" height="4.2" fill="#e09674" stroke="#b5694a" stroke-width="0.5"/>
<rect x="478" y="114.4" width="7" height="2.4" fill="#e09674" stroke="#b5694a" stroke-width="0.5"/>
<path d="M417.4 112.6h6.6l0.8 1v6h-7.4z" fill="#1e1e1e"/>
<rect x="418.4" y="120" width="4.8" height="5.8" fill="#e09674" stroke="#b5694a" stroke-width="0.5"/>
<rect x="423.8" y="119.6" width="4.2" height="4.6" fill="#e09674" stroke="#b5694a" stroke-width="0.5"/>
<rect x="429.6" y="118.8" width="4.4" height="2.6" fill="#1c1c1c" transform="rotate(0 431.8 120.1)"/>
<rect x="436.6" y="118.8" width="4.4" height="2.6" fill="#1c1c1c" transform="rotate(0 438.8 120.1)"/>
<path d="M425 120h16" stroke="#1e1e1e" stroke-width="0.8"/>
<rect x="418.4" y="126.6" width="3" height="3.2" fill="#1c1c1c" transform="rotate(0 419.9 128.2)"/>
<path d="M467.2 124h6.8v9.6h-6.8z" fill="#1e1e1e"/>
<rect x="467.2" y="129.6" width="6.8" height="1.8" fill="#9c9c9c"/>
<rect x="468" y="133.6" width="1.4" height="2" fill="#1c1c1c" transform="rotate(0 468.7 134.6)"/>
<rect x="471.6" y="133.6" width="1.4" height="2" fill="#1c1c1c" transform="rotate(0 472.3 134.6)"/>
<rect x="468.6" y="135" width="4.6" height="5" fill="#e09674" stroke="#b5694a" stroke-width="0.5"/>
<path d="M506.4 110.4l5.6 -2.6l1.6 3.4l-5.6 2.6z" fill="#b5694a" stroke="#8e4c30" stroke-width="0.5"/>
<rect x="515.2" y="117.6" width="4.4" height="5.6" fill="#c9c9c9" stroke="#777" stroke-width="0.5" transform="rotate(-30 517.4 120.4)"/>
<path d="M516 112.6l5 -3.6l1.4 1.8l-5 3.6z" fill="#d8d8d8" stroke="#888" stroke-width="0.4"/>
<rect x="523.6" y="111.5" width="10.5" height="10.5" fill="#1c1c1c" transform="rotate(45 528.9 116.8)"/>
<rect x="530.6" y="107.6" width="1.6" height="3.2" fill="#1c1c1c" transform="rotate(45 531.4 109.2)"/>
<rect x="534.6" y="111.4" width="1.6" height="3.2" fill="#1c1c1c" transform="rotate(45 535.4 113)"/>
<rect x="538.4" y="115" width="1.6" height="3.2" fill="#1c1c1c" transform="rotate(45 539.2 116.6)"/>
<rect x="524.4" y="103.8" width="3.6" height="2.6" fill="#1c1c1c" transform="rotate(0 526.2 105.1)"/>
<path d="M524 104l2 -1.6l1.6 1.6z" fill="#1e1e1e"/>
<path d="M541 118.8h6.6v6.6h-6.6z" fill="#1e1e1e"/>
<rect x="541" y="114.6" width="1.8" height="4.4" fill="#1c1c1c" transform="rotate(0 541.9 116.8)"/>
<rect x="544.2" y="114.2" width="1.8" height="4.8" fill="#1c1c1c" transform="rotate(0 545.1 116.6)"/>
<rect x="543" y="125.4" width="1.8" height="3" fill="#1c1c1c" transform="rotate(0 543.9 126.9)"/>
<rect x="545.6" y="125.4" width="1.6" height="2.6" fill="#1c1c1c" transform="rotate(0 546.4 126.7)"/>
<rect x="548.4" y="119.3" width="5.3" height="4.2" fill="#e09674" stroke="#b5694a" stroke-width="0.5"/>
<rect x="548.4" y="124" width="5.3" height="4.4" fill="#e09674" stroke="#b5694a" stroke-width="0.5"/>
<path d="M529.4 128.9h7.6v6.1h-7.6z" fill="#1e1e1e"/>
<rect x="526.6" y="131.6" width="3" height="1.6" fill="#1c1c1c" transform="rotate(0 528.1 132.4)"/>
<rect x="537" y="130.4" width="2.6" height="1.6" fill="#1c1c1c" transform="rotate(0 538.3 131.2)"/>
<rect x="530.6" y="135" width="1.6" height="2.2" fill="#1c1c1c" transform="rotate(0 531.4 136.1)"/>
<rect x="534.4" y="135" width="1.6" height="2.2" fill="#1c1c1c" transform="rotate(0 535.2 136.1)"/>
<rect x="540" y="129" width="1.8" height="4.4" fill="#1c1c1c" transform="rotate(0 540.9 131.2)"/>
<rect x="530.4" y="137.6" width="4.6" height="5" fill="#e09674" stroke="#b5694a" stroke-width="0.5"/>
<rect x="536.3" y="137.6" width="4.2" height="5" fill="#e09674" stroke="#b5694a" stroke-width="0.5"/>
<path d="M535 124.4h6M536 127h5" stroke="#b5694a" stroke-width="1.2"/>
</g>
<rect x="414.4" y="39.6" width="270.2" height="149.8" fill="none" stroke="#111" stroke-width="0.95" stroke-dasharray="3.3 2.3"/>
<rect x="412.2" y="202" width="124.6" height="128.4" fill="url(#gC)" stroke="#2c3b22" stroke-width="1"/>
<clipPath id="cc"><rect x="412.7" y="202.5" width="123.6" height="127.4"/></clipPath>
<g clip-path="url(#cc)">
<path d="M424.7 206.5 L424.8 207.5 L425.2 208.3 L425.8 209 L426.7 209.4 L427.8 209.5 L428.8 209.3 L429.7 208.7 L430.2 208 L430.4 207.1 L430.5 206.1 L430.7 205.2 L431.1 204.4 L431.9 203.8 L432.9 203.5 L434 203.6 L435 203.9 L435.7 204.5 L436 205.4 L436.2 206.3 L436.3 207.3 L436.6 208.2 L437.2 208.9 L438.1 209.4 L439.1 209.5 L440.2 209.3 L441.1 208.9 L441.6 208.1 L441.9 207.2 L442 206.3 L442.1 205.3 L442.5 204.5 L443.3 203.9 L444.2 203.5 L445.3 203.5 L446.3 203.8 L447.1 204.4 L447.5 205.2 L447.7 206.2 L447.8 207.2 L448 208.1 L448.5 208.8 L449.4 209.3 L450.4 209.5 L451.5 209.4 L452.4 208.9 L453 208.3 L453.3 207.4 L453.5 206.4 L453.6 205.5 L454 204.6 L454.6 204 L455.6 203.6 L456.7 203.5 L457.7 203.8 L458.5 204.3 L458.9 205.1 L459.1 206 L459.3 207 L459.5 207.9 L459.9 208.7 L460.7 209.2 L461.8 209.5 L462.9 209.4 L463.8 209 L464.5 208.4 L464.8 207.5 L464.9 206.6 L465.1 205.6 L465.4 204.7 L466 204 L466.9 203.6 L468 203.5 L469 203.7 L469.9 204.2 L470.4 204.9 L470.6 205.9 L470.7 206.8 L470.9 207.8 L471.3 208.6 L472.1 209.2 L473.1 209.5 L474.2 209.5 L475.2 209.1 L475.9 208.5 L476.3 207.7 L476.4 206.7 L476.5 205.8 L476.8 204.9 L477.4 204.1 L478.2 203.7 L479.3 203.5 L480.4 203.7 L481.2 204.1 L481.8 204.8 L482.1 205.7 L482.2 206.7 L482.4 207.6 L482.7 208.5 L483.4 209.1 L484.4 209.4 L485.5 209.5 L486.5 209.2 L487.3 208.6 L487.7 207.8 L487.9 206.9 L488 205.9 L488.2 205 L488.7 204.2 L489.6 203.7 L490.6 203.5 L491.7 203.6 L492.6 204 L493.2 204.7 L493.6 205.5 L493.7 206.5 L493.8 207.5 L494.2 208.3 L494.8 209 L495.7 209.4 L496.8 209.5 L497.9 209.3 L498.7 208.7 L499.2 208 L499.4 207.1 L499.5 206.1 L499.7 205.1 L500.1 204.4 L500.9 203.8 L501.9 203.5 L503 203.6 L504 203.9 L504.7 204.6 L505 205.4 L505.2 206.4 L505.3 207.3 L505.6 208.2 L506.2 208.9 L507.1 209.4 L508.1 209.5 L509.2 209.3 L510.1 208.8 L510.6 208.1 L510.9 207.2 L511 206.2 L511.1 205.3 L511.5 204.5 L512.3 203.9 L513.3 203.5 L514.3 203.5 L515.3 203.8 L516.1 204.4 L516.5 205.2 L516.7 206.2 L516.8 207.2 L517 208.1 L517.6 208.8 L518.4 209.3 L519.5 209.5 L520.5 209.4 L521.4 208.9 L522 208.2 L522.3 207.4 L522.5 206.4 L522.6 205.4 L523 204.6 L523.6 203.9 L526.6 204.6 L527.4 205.4 L527.9 206.3 L528.1 207.2 L527.9 208.1 L527.4 208.9 L526.7 209.7 L526.2 210.5 L526 211.3 L526.2 212.3 L526.8 213.2 L527.6 213.9 L528.5 214.3 L529.5 214.3 L530.3 213.9 L531.1 213.4 L531.9 212.8 L532.7 212.4 L533.6 212.3 L535.2 214.8 L535.3 215.9 L535.1 216.9 L534.6 217.8 L533.8 218.3 L532.9 218.5 L532 218.6 L531 218.8 L530.2 219.2 L529.6 220 L529.3 221 L529.4 222.1 L529.7 223.1 L530.3 223.8 L531.1 224.2 L532.1 224.3 L533.1 224.4 L533.9 224.7 L534.7 225.3 L535.1 226.1 L535.3 227.2 L535.1 228.3 L534.7 229.1 L534 229.7 L533.1 230 L532.1 230.1 L531.2 230.3 L530.3 230.6 L529.7 231.3 L529.4 232.3 L529.3 233.4 L529.6 234.4 L530.2 235.2 L531 235.6 L531.9 235.8 L532.9 235.9 L533.8 236.1 L534.6 236.6 L535.1 237.5 L535.3 238.5 L535.2 239.6 L534.8 240.5 L534.1 241.1 L533.2 241.5 L532.3 241.6 L531.3 241.7 L530.4 242.1 L529.8 242.7 L529.4 243.6 L529.3 244.7 L529.5 245.8 L530.1 246.6 L530.8 247.1 L531.8 247.3 L532.7 247.4 L533.7 247.6 L534.5 248 L535 248.8 L535.3 249.8 L535.2 250.9 L534.9 251.9 L534.2 252.6 L533.4 252.9 L532.4 253.1 L531.5 253.2 L530.6 253.5 L529.9 254.1 L529.4 255 L529.3 256 L529.5 257.1 L530 258 L530.7 258.5 L531.6 258.8 L532.6 258.9 L533.5 259 L534.3 259.4 L534.9 260.2 L535.3 261.2 L535.3 262.2 L534.9 263.2 L534.4 264 L533.5 264.4 L532.6 264.6 L531.6 264.7 L530.7 264.9 L530 265.5 L529.5 266.3 L529.3 267.4 L529.4 268.4 L529.9 269.3 L530.6 269.9 L531.4 270.2 L532.4 270.3 L533.4 270.5 L534.2 270.9 L534.9 271.5 L535.2 272.5 L535.3 273.6 L535 274.6 L534.5 275.4 L533.7 275.8 L532.8 276 L531.8 276.1 L530.9 276.4 L530.1 276.8 L529.6 277.6 L529.3 278.7 L529.4 279.8 L529.8 280.7 L530.4 281.4 L531.3 281.7 L532.3 281.8 L533.2 282 L534.1 282.3 L534.8 282.9 L535.2 283.8 L535.3 284.9 L535.1 285.9 L534.6 286.8 L533.8 287.3 L532.9 287.5 L531.9 287.6 L531 287.8 L530.2 288.2 L529.6 289 L529.3 290 L529.4 291.1 L529.7 292.1 L530.3 292.8 L531.1 293.2 L532.1 293.3 L533.1 293.4 L534 293.7 L534.7 294.3 L535.1 295.1 L535.3 296.2 L535.1 297.3 L534.7 298.2 L534 298.7 L533.1 299 L532.1 299.1 L531.1 299.3 L530.3 299.6 L529.7 300.3 L529.4 301.3 L529.3 302.4 L529.6 303.4 L530.2 304.2 L531 304.6 L531.9 304.8 L532.9 304.9 L533.8 305.1 L534.6 305.7 L535.1 306.5 L535.3 307.5 L535.2 308.6 L534.8 309.5 L534.1 310.1 L533.2 310.5 L532.3 310.6 L531.3 310.7 L530.4 311.1 L529.8 311.7 L529.4 312.6 L529.3 313.7 L529.5 314.8 L530.1 315.6 L530.8 316.1 L531.8 316.3 L532.8 316.4 L533.7 316.6 L534.5 317 L535 317.8 L533.7 320.7 L532.9 321.4 L532 321.8 L531.1 321.9 L530.2 321.5 L529.4 320.9 L528.7 320.3 L527.8 319.9 L526.9 319.8 L526 320.2 L525.1 320.8 L524.5 321.7 L524.2 322.7 L524.4 323.6 L524.8 324.4 L525.5 325.2 L526 325.9 L526.3 326.8 L526.2 327.7 L523.3 328.9 L522.3 328.9 L521.3 328.5 L520.5 327.9 L520.1 327.1 L520 326.2 L519.8 325.2 L519.6 324.3 L519.1 323.6 L518.2 323.1 L517.1 322.9 L516.1 323 L515.2 323.5 L514.6 324.2 L514.3 325.1 L514.2 326 L514 327 L513.7 327.8 L513 328.5 L512 328.8 L510.9 328.9 L509.9 328.6 L509.1 328.1 L508.7 327.3 L508.5 326.3 L508.4 325.4 L508.2 324.4 L507.7 323.7 L506.9 323.1 L505.8 322.9 L504.7 323 L503.8 323.4 L503.2 324 L502.8 324.9 L502.7 325.9 L502.6 326.8 L502.2 327.7 L501.6 328.4 L500.7 328.8 L499.6 328.9 L498.6 328.7 L497.7 328.2 L497.2 327.4 L497 326.5 L496.9 325.5 L496.7 324.6 L496.3 323.8 L495.5 323.2 L494.5 322.9 L493.4 323 L492.4 323.3 L491.7 323.9 L491.4 324.8 L491.2 325.7 L491.1 326.7 L490.8 327.6 L490.2 328.3 L489.4 328.7 L488.3 328.9 L487.2 328.7 L486.4 328.3 L485.8 327.6 L485.5 326.7 L485.4 325.7 L485.2 324.7 L484.9 323.9 L484.2 323.3 L483.2 323 L482.1 322.9 L481.1 323.2 L480.3 323.8 L479.9 324.6 L479.7 325.5 L479.6 326.5 L479.4 327.4 L478.9 328.2 L478 328.7 L477 328.9 L475.9 328.8 L475 328.4 L474.4 327.7 L474 326.8 L473.9 325.8 L473.8 324.9 L473.4 324 L472.8 323.4 L471.8 323 L470.8 322.9 L469.7 323.2 L468.9 323.7 L468.4 324.5 L468.2 325.4 L468.1 326.4 L467.9 327.3 L467.5 328.1 L466.7 328.6 L465.7 328.9 L464.6 328.8 L463.6 328.5 L462.9 327.8 L462.6 327 L462.4 326 L462.3 325 L462 324.2 L461.4 323.5 L460.5 323 L459.4 322.9 L458.4 323.1 L457.5 323.6 L457 324.3 L456.8 325.2 L456.6 326.2 L456.5 327.1 L456.1 328 L455.3 328.6 L454.3 328.9 L453.2 328.9 L452.2 328.5 L451.5 327.9 L451.1 327.1 L451 326.2 L450.8 325.2 L450.6 324.3 L450 323.6 L449.2 323.1 L448.1 322.9 L447 323 L446.2 323.5 L445.6 324.2 L445.3 325.1 L445.2 326 L445 327 L444.6 327.8 L444 328.5 L443 328.8 L441.9 328.9 L440.9 328.6 L440.1 328.1 L439.7 327.3 L439.5 326.3 L439.4 325.3 L439.1 324.4 L438.7 323.7 L437.8 323.1 L436.8 322.9 L435.7 323 L434.8 323.4 L434.1 324.1 L433.8 324.9 L433.7 325.9 L433.5 326.8 L433.2 327.7 L432.6 328.4 L431.7 328.8 L430.6 328.9 L429.5 328.7 L428.7 328.2 L428.2 327.4 L428 326.5 L427.9 325.5 L427.7 324.6 L427.3 323.8 L426.5 323.2 L425.5 322.9 L426.6 323.6 L425.6 323.2 L424.7 323.1 L423.8 323.4 L423.1 324 L422.3 324.6 L421.5 325 L420.6 325.1 L419.6 324.8 L418.7 324.2 L418.1 323.3 L417.8 322.4 L417.9 321.5 L418.4 320.6 L419 319.9 L419.6 319.1 L419.9 318.2 L419.8 317.3 L419.3 316.4 L419.7 317.6 L419.4 316.6 L418.8 315.8 L418 315.4 L417 315.2 L416.1 315.1 L415.2 314.9 L414.4 314.4 L413.9 313.5 L413.7 312.5 L413.8 311.4 L414.2 310.5 L414.9 309.9 L415.8 309.6 L416.8 309.4 L417.7 309.3 L418.6 309 L419.2 308.3 L419.6 307.3 L419.7 306.3 L419.4 305.2 L418.9 304.4 L418.1 304 L417.2 303.7 L416.2 303.6 L415.3 303.4 L414.5 303 L414 302.2 L413.7 301.2 L413.8 300.1 L414.2 299.1 L414.8 298.4 L415.6 298.1 L416.6 298 L417.6 297.8 L418.5 297.5 L419.1 296.9 L419.6 296 L419.7 294.9 L419.5 293.9 L419 293 L418.3 292.5 L417.4 292.3 L416.4 292.2 L415.4 292 L414.6 291.6 L414 290.8 L413.7 289.8 L413.7 288.7 L414.1 287.7 L414.7 287 L415.5 286.6 L416.4 286.5 L417.4 286.4 L418.3 286.1 L419 285.5 L419.5 284.7 L419.7 283.6 L419.6 282.5 L419.1 281.7 L418.4 281.1 L417.5 280.8 L416.5 280.7 L415.6 280.5 L414.7 280.2 L414.1 279.5 L413.8 278.5 L413.7 277.4 L414 276.4 L414.6 275.6 L415.4 275.2 L416.3 275 L417.3 274.9 L418.2 274.7 L418.9 274.2 L419.5 273.3 L419.7 272.3 L419.6 271.2 L419.2 270.3 L418.5 269.7 L417.7 269.3 L416.7 269.2 L415.7 269.1 L414.9 268.7 L414.2 268.1 L413.8 267.2 L413.7 266.1 L413.9 265 L414.4 264.2 L415.2 263.7 L416.1 263.5 L417.1 263.4 L418 263.2 L418.8 262.8 L419.4 262 L419.7 261 L419.6 259.9 L419.3 258.9 L418.7 258.2 L417.8 257.9 L416.9 257.7 L415.9 257.6 L415 257.3 L414.3 256.7 L413.8 255.8 L413.7 254.8 L413.9 253.7 L414.3 252.8 L415.1 252.3 L416 252 L416.9 251.9 L417.9 251.8 L418.7 251.4 L419.3 250.6 L419.7 249.7 L419.7 248.6 L419.4 247.6 L418.8 246.8 L418 246.4 L417 246.2 L416.1 246.1 L415.1 245.9 L414.4 245.3 L413.9 244.5 L413.7 243.5 L413.8 242.4 L414.2 241.5 L414.9 240.9 L415.8 240.6 L416.8 240.4 L417.7 240.3 L418.6 239.9 L419.2 239.3 L419.6 238.3 L419.7 237.2 L419.4 236.2 L418.9 235.4 L418.1 235 L417.2 234.7 L416.2 234.6 L415.3 234.4 L414.5 234 L414 233.2 L413.7 232.1 L413.8 231 L414.2 230.1 L414.8 229.4 L415.7 229.1 L416.6 228.9 L417.6 228.8 L418.5 228.5 L419.2 227.9 L419.6 227 L419.7 225.9 L419.5 224.9 L419 224 L418.3 223.5 L417.3 223.3 L416.4 223.2 L415.4 223 L414.6 222.6 L414 221.8 L413.7 220.8 L413.7 219.7 L414.1 218.7 L414.7 218 L415.5 217.6 L416.5 217.5 L417.4 217.4 L418.3 217.1 L419.1 216.5 L419.5 215.7 L419.7 214.6 L419.4 215.8 L419.7 214.9 L419.6 214 L419.2 213.2 L418.6 212.4 L418 211.6 L417.7 210.7 L417.7 209.8 L418.2 208.9 L418.9 208.1 L419.8 207.6 L420.8 207.4 L421.6 207.7 L422.4 208.2 L423.2 208.8 L424 209.3 L424.9 209.5 L425.8 209.3 L426.7 208.7" fill="none" stroke="#ecdccc" stroke-width="0.8" opacity="0.6"/>
<path d="M431.6 215.3 L432.3 214.7 L432.6 213.8 L432.8 212.9 L432.9 211.9 L433.2 211 L433.8 210.3 L434.6 209.8 L435.7 209.7 L436.8 209.9 L437.7 210.3 L438.2 211.1 L438.5 212 L438.6 212.9 L438.7 213.9 L439.1 214.7 L439.9 215.3 L440.8 215.7 L441.9 215.7 L442.9 215.4 L443.7 214.8 L444.1 214 L444.3 213 L444.4 212 L444.6 211.1 L445.2 210.4 L446 209.9 L447.1 209.7 L448.1 209.8 L449 210.3 L449.6 210.9 L449.9 211.8 L450.1 212.8 L450.2 213.8 L450.6 214.6 L451.2 215.2 L452.2 215.6 L453.3 215.7 L454.3 215.4 L455.1 214.9 L455.6 214.1 L455.8 213.2 L455.9 212.2 L456.1 211.3 L456.6 210.5 L457.3 210 L458.4 209.7 L459.5 209.8 L460.4 210.2 L461.1 210.8 L461.4 211.7 L461.6 212.6 L461.7 213.6 L462 214.5 L462.6 215.2 L463.5 215.6 L464.6 215.7 L465.6 215.5 L466.5 215 L467 214.2 L467.2 213.3 L467.3 212.3 L467.5 211.4 L468 210.6 L468.7 210 L469.7 209.7 L470.8 209.8 L471.8 210.1 L472.5 210.7 L472.9 211.5 L473 212.5 L473.1 213.5 L473.4 214.4 L474 215.1 L474.9 215.5 L475.9 215.7 L477 215.5 L477.9 215.1 L478.4 214.4 L478.7 213.5 L478.8 212.5 L479 211.5 L479.4 210.7 L480.1 210.1 L481 209.8 L482.1 209.7 L483.1 210 L483.9 210.6 L484.3 211.4 L484.5 212.3 L484.6 213.3 L484.9 214.2 L485.4 215 L486.2 215.5 L487.3 215.7 L488.3 215.6 L489.3 215.2 L489.9 214.5 L490.2 213.6 L490.3 212.6 L490.4 211.7 L490.8 210.8 L491.4 210.2 L492.4 209.8 L493.5 209.7 L494.5 210 L495.3 210.5 L495.8 211.3 L496 212.2 L496.1 213.2 L496.3 214.1 L496.8 214.9 L497.6 215.4 L498.6 215.7 L499.7 215.6 L500.6 215.3 L501.3 214.6 L501.7 213.8 L501.8 212.8 L501.9 211.8 L502.2 211 L502.8 210.3 L503.7 209.8 L504.8 209.7 L505.9 209.9 L506.7 210.4 L507.2 211.1 L507.5 212 L507.6 213 L507.8 214 L508.2 214.8 L508.9 215.4 L509.9 215.7 L511 215.7 L512 215.3 L512.7 214.7 L513.1 213.9 L513.3 213 L513.4 212 L513.7 211.1 L514.2 210.4 L515.1 209.9 L516.1 209.7 L517.2 209.8 L518.1 210.3 L519.7 211.9 L519.3 212.7 L518.7 213.5 L518.1 214.3 L517.8 215.1 L517.8 216.1 L518.3 217 L519 217.8 L519.9 218.3 L520.9 218.5 L521.7 218.2 L522.5 217.7 L523.3 217.1 L524.1 216.6 L525 216.4 L525.9 216.6 L526.8 217.2 L527.5 218 L528.6 220.8 L527.9 221.4 L527.1 221.7 L526.1 221.8 L525.1 222 L524.3 222.3 L523.6 222.9 L523.2 223.9 L523.1 225 L523.3 226 L523.9 226.8 L524.6 227.3 L525.5 227.5 L526.5 227.6 L527.5 227.8 L528.2 228.3 L528.8 229.1 L529.1 230.1 L529 231.2 L528.7 232.1 L528 232.8 L527.2 233.2 L526.2 233.3 L525.3 233.4 L524.4 233.7 L523.7 234.3 L523.2 235.2 L523.1 236.3 L523.3 237.4 L523.8 238.2 L524.5 238.8 L525.4 239 L526.4 239.1 L527.3 239.3 L528.1 239.7 L528.7 240.4 L529.1 241.4 L529.1 242.5 L528.7 243.5 L528.2 244.2 L527.3 244.6 L526.4 244.8 L525.4 244.9 L524.5 245.2 L523.8 245.7 L523.3 246.6 L523.1 247.6 L523.2 248.7 L523.7 249.6 L524.4 250.2 L525.3 250.5 L526.2 250.6 L527.2 250.8 L528 251.1 L528.7 251.8 L529 252.7 L529.1 253.8 L528.8 254.9 L528.3 255.6 L527.5 256.1 L526.5 256.3 L525.6 256.4 L524.6 256.6 L523.9 257.1 L523.3 257.9 L523.1 259 L523.2 260 L523.6 261 L524.2 261.6 L525.1 262 L526.1 262.1 L527 262.2 L527.9 262.5 L528.6 263.2 L529 264.1 L529.1 265.2 L528.9 266.2 L528.4 267 L527.6 267.5 L526.7 267.8 L525.7 267.9 L524.8 268.1 L524 268.5 L523.4 269.3 L523.1 270.3 L523.2 271.4 L523.5 272.3 L524.1 273 L525 273.4 L525.9 273.6 L526.9 273.7 L527.8 274 L528.5 274.5 L528.9 275.4 L529.1 276.5 L528.9 277.6 L528.5 278.4 L527.7 279 L526.8 279.3 L525.9 279.4 L524.9 279.5 L524.1 279.9 L523.5 280.6 L523.1 281.6 L523.1 282.7 L523.4 283.7 L524 284.5 L524.8 284.9 L525.8 285.1 L526.7 285.2 L527.7 285.4 L528.4 285.9 L528.9 286.8 L529.1 287.8 L529 288.9 L528.6 289.8 L527.9 290.4 L527 290.7 L526 290.9 L525.1 291 L524.2 291.3 L523.6 292 L523.2 293 L523.1 294 L523.4 295.1 L523.9 295.9 L524.7 296.3 L525.6 296.5 L526.6 296.6 L527.5 296.9 L528.3 297.3 L528.8 298.1 L529.1 299.2 L529 300.2 L528.6 301.2 L528 301.9 L527.1 302.2 L526.2 302.3 L525.2 302.5 L524.3 302.8 L523.6 303.4 L523.2 304.3 L523.1 305.4 L523.3 306.4 L523.8 307.3 L524.6 307.8 L525.5 308 L526.4 308.1 L527.4 308.3 L528.2 308.7 L528.8 309.5 L529.1 310.5 L529 311.6 L527.3 314.2 L526.4 314.2 L525.5 313.9 L524.8 313.4 L524 312.7 L523.2 312.3 L522.3 312.2 L521.3 312.5 L520.4 313.1 L519.8 314 L519.5 314.9 L519.6 315.8 L520 316.7 L520.6 317.4 L521.2 318.2 L521.5 319.1 L521.5 320 L521 320.9 L520.3 321.7 L517.2 322.4 L516.4 321.8 L516 321 L515.8 320.1 L515.7 319.1 L515.5 318.2 L515 317.4 L514.1 316.9 L513.1 316.7 L512 316.8 L511.1 317.2 L510.5 317.9 L510.1 318.8 L510 319.7 L509.9 320.7 L509.5 321.6 L508.9 322.2 L508 322.6 L506.9 322.7 L505.8 322.4 L505 321.9 L504.5 321.1 L504.3 320.2 L504.2 319.2 L504 318.3 L503.6 317.5 L502.8 317 L501.8 316.7 L500.7 316.8 L499.7 317.1 L499 317.8 L498.7 318.6 L498.5 319.6 L498.4 320.6 L498.1 321.4 L497.5 322.1 L496.6 322.6 L495.5 322.7 L494.5 322.5 L493.6 322 L493.1 321.3 L492.8 320.4 L492.7 319.4 L492.6 318.4 L492.2 317.6 L491.4 317 L490.4 316.7 L489.3 316.7 L488.3 317.1 L487.6 317.7 L487.2 318.5 L487 319.4 L486.9 320.4 L486.7 321.3 L486.1 322 L485.3 322.5 L484.2 322.7 L483.1 322.6 L482.2 322.1 L481.7 321.4 L481.4 320.5 L481.3 319.5 L481.1 318.6 L480.7 317.7 L480 317.1 L479.1 316.8 L478 316.7 L477 317 L476.2 317.6 L475.8 318.4 L475.6 319.3 L475.5 320.3 L475.2 321.2 L474.7 321.9 L473.9 322.5 L472.9 322.7 L471.8 322.6 L470.9 322.2 L470.2 321.5 L469.9 320.7 L469.8 319.7 L469.6 318.7 L469.3 317.9 L468.7 317.2 L467.7 316.8 L466.7 316.7 L465.6 316.9 L464.8 317.5 L464.3 318.2 L464.1 319.1 L464 320.1 L463.8 321.1 L463.3 321.8 L462.6 322.4 L461.5 322.7 L460.5 322.6 L459.5 322.3 L458.8 321.6 L458.4 320.8 L458.3 319.8 L458.2 318.9 L457.9 318 L457.3 317.3 L456.4 316.8 L455.3 316.7 L454.3 316.9 L453.4 317.4 L452.9 318.1 L452.6 319 L452.5 320 L452.3 320.9 L451.9 321.7 L451.2 322.3 L450.2 322.7 L449.1 322.7 L448.1 322.4 L447.4 321.8 L447 320.9 L446.8 320 L446.7 319 L446.4 318.1 L445.9 317.4 L445.1 316.9 L444 316.7 L442.9 316.8 L442 317.3 L441.4 318 L441.1 318.8 L441 319.8 L440.9 320.8 L440.5 321.6 L439.8 322.3 L438.9 322.6 L437.8 322.7 L436.8 322.4 L436 321.9 L435.5 321.1 L435.3 320.2 L435.2 319.2 L435 318.2 L434.5 317.5 L433.7 316.9 L432.7 316.7 L431.6 316.8 L432.5 317.7 L431.6 317.7 L430.7 318.1 L430 318.7 L429.2 319.3 L428.3 319.7 L427.4 319.7 L426.5 319.4 L425.6 318.7 L425 317.8 L424.8 316.8 L425 315.9 L425.5 315.1 L426.1 314.4 L426.6 313.6 L426.9 312.7 L426.8 311.8 L426.2 310.8 L425.4 310.1 L425.5 311.4 L424.9 310.7 L424 310.3 L423.1 310.2 L422.1 310 L421.2 309.8 L420.5 309.2 L420.1 308.3 L419.9 307.2 L420.1 306.2 L420.5 305.3 L421.3 304.7 L422.2 304.5 L423.1 304.4 L424.1 304.2 L424.9 303.8 L425.5 303.1 L425.8 302.1 L425.9 301 L425.6 300 L425 299.3 L424.2 298.8 L423.2 298.7 L422.3 298.6 L421.4 298.3 L420.6 297.8 L420.1 297 L419.9 295.9 L420 294.8 L420.4 293.9 L421.1 293.3 L422 293 L423 292.9 L423.9 292.7 L424.8 292.4 L425.4 291.7 L425.8 290.8 L425.9 289.7 L425.6 288.7 L425.1 287.9 L424.3 287.4 L423.4 287.2 L422.4 287.1 L421.5 286.9 L420.7 286.4 L420.2 285.6 L419.9 284.6 L420 283.5 L420.4 282.5 L421 281.9 L421.9 281.5 L422.8 281.4 L423.8 281.3 L424.7 281 L425.4 280.4 L425.8 279.4 L425.9 278.4 L425.7 277.3 L425.2 276.5 L424.5 275.9 L423.5 275.7 L422.6 275.6 L421.6 275.4 L420.8 275 L420.2 274.3 L419.9 273.2 L419.9 272.2 L420.3 271.2 L420.9 270.5 L421.7 270.1 L422.7 269.9 L423.6 269.8 L424.5 269.5 L425.3 269 L425.7 268.1 L425.9 267 L425.7 266 L425.3 265.1 L424.6 264.5 L423.7 264.2 L422.7 264.1 L421.8 264 L420.9 263.6 L420.3 262.9 L420 261.9 L419.9 260.8 L420.2 259.8 L420.8 259 L421.6 258.6 L422.5 258.4 L423.5 258.3 L424.4 258.1 L425.2 257.6 L425.7 256.8 L425.9 255.7 L425.8 254.6 L425.4 253.7 L424.7 253.1 L423.8 252.8 L422.9 252.6 L421.9 252.5 L421 252.2 L420.4 251.5 L420 250.6 L419.9 249.5 L420.1 248.5 L420.7 247.6 L421.4 247.2 L422.4 246.9 L423.3 246.8 L424.3 246.6 L425.1 246.2 L425.6 245.4 L425.9 244.4 L425.8 243.3 L425.5 242.3 L424.8 241.7 L424 241.3 L423 241.1 L422 241 L421.2 240.7 L420.5 240.1 L420 239.2 L419.9 238.2 L420.1 237.1 L420.6 236.3 L421.3 235.7 L422.2 235.5 L423.2 235.4 L424.1 235.2 L425 234.8 L425.6 234 L425.9 233 L425.9 231.9 L425.5 231 L424.9 230.2 L424.1 229.8 L423.2 229.7 L422.2 229.6 L421.3 229.3 L420.6 228.7 L420.1 227.9 L419.9 226.8 L420 225.8 L420.5 224.9 L421.2 224.3 L422.1 224 L423 223.9 L424 223.7 L424.8 223.4 L425.5 222.7 L425.8 221.7 L425.1 222.7 L425.6 221.8 L425.7 220.9 L425.5 220 L425 219.2 L424.4 218.4 L423.9 217.6 L423.7 216.7 L423.9 215.8 L424.5 214.9 L425.3 214.2 L426.2 213.8 L427.2 213.8 L428 214.2 L428.8 214.8 L429.6 215.4 L430.4 215.8 L431.3 215.8 L432.3 215.4 L433 214.8" fill="none" stroke="#ecdccc" stroke-width="0.8" opacity="0.6"/>
<path d="M437.1 216.3 L437.4 216 L438.5 215.9 L439.5 216.2 L440.3 216.8 L440.7 217.6 L440.9 218.6 L441 219.5 L441.2 220.4 L441.7 221.2 L442.6 221.7 L443.6 221.9 L444.7 221.8 L445.6 221.4 L446.2 220.7 L446.5 219.8 L446.7 218.8 L446.8 217.9 L447.2 217 L447.8 216.4 L448.8 216 L449.9 215.9 L450.9 216.2 L451.7 216.7 L452.2 217.5 L452.4 218.4 L452.5 219.4 L452.7 220.3 L453.2 221.1 L454 221.6 L455 221.9 L456.1 221.8 L457 221.4 L457.7 220.8 L458 219.9 L458.2 219 L458.3 218 L458.6 217.1 L459.2 216.4 L460.1 216 L461.2 215.9 L462.3 216.1 L463.1 216.6 L463.6 217.4 L463.8 218.3 L464 219.3 L464.1 220.2 L464.6 221 L465.3 221.6 L466.3 221.9 L467.4 221.8 L468.4 221.5 L469.1 220.9 L469.5 220.1 L469.6 219.1 L469.8 218.1 L470 217.2 L470.6 216.5 L471.5 216.1 L472.6 215.9 L473.6 216.1 L474.5 216.5 L475.1 217.3 L475.3 218.1 L475.4 219.1 L475.6 220.1 L476 220.9 L476.7 221.5 L477.7 221.8 L478.8 221.9 L479.8 221.6 L480.5 221 L480.9 220.2 L481.1 219.2 L481.2 218.3 L481.5 217.3 L482 216.6 L482.8 216.1 L483.9 215.9 L485 216 L485.9 216.4 L486.5 217.1 L486.8 218 L486.9 219 L487.1 219.9 L487.4 220.8 L488.1 221.4 L489 221.8 L490.1 221.9 L491.1 221.6 L491.9 221.1 L492.4 220.3 L492.6 219.4 L492.7 218.4 L492.9 217.5 L493.4 216.7 L494.2 216.2 L495.2 215.9 L496.3 216 L497.3 216.4 L497.9 217 L498.3 217.9 L498.4 218.8 L498.5 219.8 L498.8 220.7 L499.5 221.4 L500.4 221.8 L501.5 221.9 L502.5 221.7 L503.3 221.2 L503.9 220.4 L504.1 219.5 L504.2 218.5 L504.4 217.6 L504.8 216.8 L505.6 216.2 L506.6 215.9 L507.7 216 L508.7 216.3 L509.4 216.9 L509.7 217.8 L509.9 218.7 L510 219.7 L510.3 220.6 L510.9 221.3 L511.7 221.7 L510.4 221.7 L511.3 222.3 L512.2 222.6 L513.1 222.5 L514 222 L514.7 221.4 L515.5 220.9 L516.4 220.5 L517.3 220.6 L518.3 221.1 L519 221.8 L519.5 222.8 L519.6 223.7 L519.4 224.6 L518.8 225.4 L518.2 226.1 L517.8 226.9 L517.6 227.8 L517.8 228.8 L516.9 227.8 L517 228.9 L517.5 229.8 L518.1 230.4 L519 230.7 L520 230.9 L520.9 231 L521.8 231.4 L522.4 232 L522.8 233 L522.9 234.1 L522.6 235.1 L522.1 235.9 L521.3 236.3 L520.4 236.5 L519.4 236.7 L518.5 236.9 L517.7 237.3 L517.2 238.1 L516.9 239.2 L517 240.3 L517.4 241.2 L518 241.9 L518.9 242.2 L519.8 242.3 L520.8 242.5 L521.7 242.8 L522.4 243.4 L522.8 244.3 L522.9 245.4 L522.7 246.5 L522.2 247.3 L521.4 247.8 L520.5 248 L519.5 248.1 L518.6 248.3 L517.8 248.8 L517.2 249.5 L516.9 250.5 L517 251.6 L517.3 252.6 L517.9 253.3 L518.8 253.7 L519.7 253.8 L520.7 253.9 L521.6 254.2 L522.3 254.8 L522.7 255.7 L522.9 256.7 L522.7 257.8 L522.3 258.7 L521.5 259.2 L520.6 259.5 L519.7 259.6 L518.7 259.8 L517.9 260.2 L517.3 260.9 L516.9 261.9 L516.9 263 L517.2 264 L517.8 264.7 L518.6 265.1 L519.6 265.3 L520.5 265.4 L521.5 265.7 L522.2 266.2 L522.7 267 L522.9 268.1 L522.8 269.2 L522.3 270.1 L521.7 270.7 L520.8 271 L519.8 271.1 L518.8 271.3 L518 271.6 L517.4 272.3 L517 273.2 L516.9 274.3 L517.2 275.3 L517.7 276.1 L518.5 276.6 L519.4 276.8 L520.4 276.9 L521.3 277.1 L522.1 277.6 L522.6 278.4 L522.9 279.4 L522.8 280.5 L522.4 281.5 L521.8 282.1 L520.9 282.5 L519.9 282.6 L519 282.7 L518.1 283 L517.4 283.7 L517 284.6 L516.9 285.7 L517.1 286.7 L517.6 287.5 L518.4 288 L519.3 288.3 L520.3 288.4 L521.2 288.6 L522 289 L522.6 289.8 L522.9 290.8 L522.8 291.9 L522.5 292.8 L521.9 293.5 L521 293.9 L520.1 294.1 L519.1 294.2 L518.2 294.5 L517.5 295 L517.1 295.9 L516.9 297 L517.1 298.1 L517.5 298.9 L518.3 299.5 L519.2 299.8 L520.1 299.9 L521.1 300 L521.9 300.4 L522.5 301.1 L522.9 302.1 L522.9 303.2 L522.6 304.2 L522 305 L521.2 305.4 L520.1 305.8 L519.3 305.2 L518.5 304.7 L517.6 304.5 L516.7 304.8 L515.8 305.4 L515.1 306.2 L514.8 307.2 L514.8 308.1 L515.2 308.9 L515.8 309.7 L516.4 310.5 L516.8 311.3 L516.7 312.3 L516.3 313.2 L515.6 314 L514.7 314.6 L513.7 314.7 L511.9 314.9 L511.7 314 L511.6 313 L511.3 312.1 L510.9 311.3 L510.1 310.8 L509 310.5 L507.9 310.6 L507 311 L506.3 311.6 L506 312.5 L505.9 313.5 L505.7 314.4 L505.4 315.3 L504.8 316 L503.9 316.4 L502.8 316.5 L501.8 316.3 L500.9 315.8 L500.4 315 L500.2 314.1 L500.1 313.1 L499.9 312.2 L499.5 311.4 L498.7 310.8 L497.7 310.5 L496.6 310.6 L495.6 310.9 L494.9 311.5 L494.5 312.4 L494.4 313.3 L494.3 314.3 L494 315.2 L493.4 315.9 L492.5 316.3 L491.5 316.5 L490.4 316.3 L489.5 315.9 L489 315.1 L488.7 314.2 L488.6 313.3 L488.4 312.3 L488 311.5 L487.3 310.9 L486.3 310.5 L485.2 310.5 L484.2 310.8 L483.5 311.4 L483.1 312.2 L482.9 313.2 L482.8 314.2 L482.5 315.1 L482 315.8 L481.2 316.3 L480.1 316.5 L479 316.4 L478.1 315.9 L477.5 315.3 L477.2 314.4 L477.1 313.4 L477 312.4 L476.6 311.6 L475.9 310.9 L475 310.6 L473.9 310.5 L472.9 310.8 L472.1 311.3 L471.6 312.1 L471.4 313 L471.3 314 L471.1 314.9 L470.6 315.7 L469.8 316.2 L468.8 316.5 L467.7 316.4 L466.7 316 L466.1 315.4 L465.8 314.5 L465.6 313.5 L465.5 312.6 L465.2 311.7 L464.6 311 L463.6 310.6 L462.5 310.5 L461.5 310.7 L460.7 311.2 L460.2 312 L459.9 312.9 L459.8 313.9 L459.6 314.8 L459.2 315.6 L458.4 316.2 L457.4 316.5 L456.3 316.4 L455.4 316.1 L454.7 315.5 L454.3 314.6 L454.1 313.7 L454 312.7 L453.7 311.8 L453.2 311.1 L452.3 310.7 L451.2 310.5 L450.1 310.7 L449.3 311.1 L448.7 311.9 L448.5 312.8 L448.3 313.7 L448.2 314.7 L447.8 315.5 L447.1 316.1 L446.1 316.5 L445 316.5 L444 316.2 L443.2 315.6 L442.8 314.8 L442.6 313.8 L442.5 312.8 L442.3 311.9 L441.8 311.2 L440.9 310.7 L439.9 310.5 L438.8 310.6 L437.9 311.1 L437.3 311.8 L437.6 312.8 L436.9 313.4 L436.1 314 L435.2 314.3 L434.3 314.3 L433.4 313.9 L432.5 313.2 L432 312.3 L431.8 311.3 L432.1 310.4 L432.6 309.6 L433.2 308.9 L433.7 308.1 L433.9 307.2 L433.7 306.2 L433.1 305.3 L432.3 304.6 L431.4 304.2 L430.5 304.2 L430.1 305.2 L429.1 305.1 L428.2 305 L427.3 304.6 L426.6 304 L426.2 303.1 L426.1 302 L426.3 301 L426.8 300.1 L427.6 299.6 L428.5 299.4 L429.5 299.3 L430.4 299.1 L431.2 298.7 L431.8 297.9 L432.1 296.9 L432 295.8 L431.7 294.8 L431.1 294.1 L430.2 293.7 L429.3 293.6 L428.3 293.5 L427.4 293.2 L426.7 292.6 L426.2 291.7 L426.1 290.7 L426.3 289.6 L426.7 288.7 L427.5 288.2 L428.4 287.9 L429.3 287.8 L430.3 287.6 L431.1 287.2 L431.7 286.5 L432.1 285.5 L432.1 284.4 L431.8 283.4 L431.2 282.7 L430.4 282.3 L429.4 282.1 L428.4 282 L427.5 281.8 L426.8 281.2 L426.3 280.4 L426.1 279.3 L426.2 278.2 L426.7 277.3 L427.4 276.7 L428.2 276.4 L429.2 276.3 L430.2 276.2 L431 275.8 L431.7 275.1 L432 274.2 L432.1 273.1 L431.8 272.1 L431.3 271.3 L430.5 270.8 L429.6 270.6 L428.6 270.5 L427.7 270.3 L426.9 269.8 L426.3 269 L426.1 268 L426.2 266.9 L426.6 266 L427.2 265.3 L428.1 265 L429.1 264.8 L430 264.7 L430.9 264.4 L431.6 263.8 L432 262.8 L432.1 261.8 L431.9 260.7 L431.4 259.9 L430.6 259.4 L429.7 259.1 L428.7 259 L427.8 258.9 L427 258.4 L426.4 257.6 L426.1 256.6 L426.2 255.5 L426.5 254.6 L427.1 253.9 L428 253.5 L428.9 253.3 L429.9 253.2 L430.8 252.9 L431.5 252.4 L432 251.5 L432.1 250.4 L431.9 249.3 L431.5 248.5 L430.7 247.9 L429.8 247.7 L428.9 247.6 L427.9 247.4 L427.1 247 L426.5 246.3 L426.1 245.3 L426.1 244.2 L426.4 243.2 L427 242.5 L427.8 242 L428.8 241.9 L429.8 241.8 L430.7 241.5 L431.4 241 L431.9 240.1 L432.1 239.1 L432 238 L431.5 237.1 L430.8 236.5 L430 236.2 L429 236.1 L428 235.9 L427.2 235.6 L426.5 234.9 L426.2 233.9 L426.1 232.8 L426.4 231.8 L426.9 231 L427.7 230.6 L428.6 230.4 L429.6 230.3 L430.6 230.1 L431.3 229.6 L431.9 228.8 L432.1 227.7 L431.3 228.8 L431.7 227.8 L431.7 226.9 L431.3 226.1 L430.8 225.3 L430.2 224.5 L429.8 223.7 L429.7 222.7 L430.1 221.8 L430.8 221 L431.7 220.4 L432.6 220.2 L433.5 220.3 L434.3 220.8 L435.1 221.4 L435.9 222 L436.8 222.2 L437.7 222.1 L438.6 221.6 L439.2 221" fill="none" stroke="#ecdccc" stroke-width="0.8" opacity="0.6"/>
<path d="M432.2 224 L431.3 224.1 L430.5 224.5 L429.9 225.2 L429.6 226.2 L429.7 227.3 L430 228.3 L430.7 228.9 L431.5 229.2 L432.5 229.3 L433.3 229.5 L434.1 229.9 L434.6 230.7 L434.8 231.8 L434.7 232.8 L434.2 233.7 L433.5 234.2 L432.6 234.5 L431.7 234.6 L430.8 234.8 L430.1 235.3 L429.7 236.2 L429.6 237.3 L429.8 238.4 L430.4 239.1 L431.1 239.6 L432 239.7 L432.9 239.9 L433.8 240.2 L434.4 240.8 L434.7 241.8 L434.8 242.9 L434.5 243.9 L433.9 244.5 L433 244.9 L432.1 245 L431.2 245.2 L430.4 245.6 L429.9 246.3 L429.6 247.3 L429.7 248.4 L430.1 249.3 L430.7 249.9 L431.6 250.2 L432.5 250.3 L433.4 250.5 L434.1 251 L434.6 251.8 L434.8 252.9 L434.6 253.9 L434.2 254.8 L433.4 255.3 L432.6 255.5 L431.6 255.6 L430.8 255.8 L430.1 256.4 L429.7 257.3 L429.6 258.4 L429.9 259.4 L430.4 260.2 L431.2 260.6 L432.1 260.7 L433 260.9 L433.8 261.2 L434.4 261.9 L434.8 262.9 L434.8 264 L434.4 264.9 L433.8 265.6 L433 265.9 L432 266 L431.1 266.2 L430.4 266.6 L429.8 267.4 L429.6 268.4 L429.7 269.5 L430.1 270.4 L430.8 270.9 L431.7 271.2 L432.6 271.3 L433.5 271.5 L434.2 272 L434.7 272.9 L434.8 274 L434.6 275 L434.1 275.8 L433.4 276.3 L432.5 276.5 L431.5 276.6 L430.7 276.9 L430.1 277.5 L429.7 278.4 L429.6 279.5 L429.9 280.5 L430.5 281.2 L431.3 281.6 L432.2 281.7 L433.1 281.9 L433.9 282.2 L434.5 282.9 L434.8 283.9 L434.7 285 L434.4 286 L433.7 286.6 L432.9 286.9 L432 287 L431.1 287.2 L430.3 287.6 L429.8 288.4 L429.6 289.5 L429.7 290.6 L430.2 291.4 L430.9 292 L431.7 292.2 L432.7 292.3 L433.5 292.5 L434.2 293.1 L434.7 294 L434.8 295 L434.6 296.1 L434.1 296.9 L433.3 297.3 L432.4 297.5 L431.5 297.6 L430.6 297.9 L430 298.5 L429.7 299.5 L429.6 300.6 L429.9 301.6 L430.5 302.3 L431.3 302.6 L432.3 302.8 L433.2 302.9 L434 303.3 L434.5 304 L434.8 305 L434.7 306.1 L434.3 307 L433.7 307.6 L432.8 307.9 L431.9 308 L431 308.2 L430.3 308.7 L429.8 309.5" fill="none" stroke="#ecdccc" stroke-width="0.7" opacity="0.6"/>
<path d="M519.2 224 L518.3 224.1 L517.5 224.5 L516.9 225.2 L516.6 226.2 L516.7 227.3 L517 228.3 L517.7 228.9 L518.5 229.2 L519.5 229.3 L520.3 229.5 L521.1 229.9 L521.6 230.7 L521.8 231.8 L521.7 232.8 L521.2 233.7 L520.5 234.2 L519.6 234.5 L518.7 234.6 L517.8 234.8 L517.1 235.3 L516.7 236.2 L516.6 237.3 L516.8 238.4 L517.4 239.1 L518.1 239.6 L519 239.7 L519.9 239.9 L520.8 240.2 L521.4 240.8 L521.7 241.8 L521.8 242.9 L521.5 243.9 L520.9 244.5 L520 244.9 L519.1 245 L518.2 245.2 L517.4 245.6 L516.9 246.3 L516.6 247.3 L516.7 248.4 L517.1 249.3 L517.7 249.9 L518.6 250.2 L519.5 250.3 L520.4 250.5 L521.1 251 L521.6 251.8 L521.8 252.9 L521.6 253.9 L521.2 254.8 L520.4 255.3 L519.6 255.5 L518.6 255.6 L517.8 255.8 L517.1 256.4 L516.7 257.3 L516.6 258.4 L516.9 259.4 L517.4 260.2 L518.2 260.6 L519.1 260.7 L520 260.9 L520.8 261.2 L521.4 261.9 L521.8 262.9 L521.8 264 L521.4 264.9 L520.8 265.6 L520 265.9 L519 266 L518.1 266.2 L517.4 266.6 L516.8 267.4 L516.6 268.4 L516.7 269.5 L517.1 270.4 L517.8 270.9 L518.7 271.2 L519.6 271.3 L520.5 271.5 L521.2 272 L521.7 272.9 L521.8 274 L521.6 275 L521.1 275.8 L520.4 276.3 L519.5 276.5 L518.5 276.6 L517.7 276.9 L517.1 277.5 L516.7 278.4 L516.6 279.5 L516.9 280.5 L517.5 281.2 L518.3 281.6 L519.2 281.7 L520.1 281.9 L520.9 282.2 L521.5 282.9 L521.8 283.9 L521.7 285 L521.4 286 L520.7 286.6 L519.9 286.9 L519 287 L518.1 287.2 L517.3 287.6 L516.8 288.4 L516.6 289.5 L516.7 290.6 L517.2 291.4 L517.9 292 L518.7 292.2 L519.7 292.3 L520.5 292.5 L521.2 293.1 L521.7 294 L521.8 295 L521.6 296.1 L521.1 296.9 L520.3 297.3 L519.4 297.5 L518.5 297.6 L517.6 297.9 L517 298.5 L516.7 299.5 L516.6 300.6 L516.9 301.6 L517.5 302.3 L518.3 302.6 L519.3 302.8 L520.2 302.9 L521 303.3 L521.5 304 L521.8 305 L521.7 306.1 L521.3 307 L520.7 307.6 L519.8 307.9 L518.9 308 L518 308.2 L517.3 308.7 L516.8 309.5" fill="none" stroke="#ecdccc" stroke-width="0.7" opacity="0.6"/>
<path d="M436.2 306 L436.3 306.9 L436.7 307.7 L437.4 308.3 L438.4 308.6 L439.5 308.5 L440.5 308.2 L441.1 307.5 L441.4 306.7 L441.5 305.7 L441.7 304.9 L442.1 304.1 L442.9 303.6 L444 303.4 L445 303.5 L445.9 304 L446.4 304.7 L446.7 305.6 L446.8 306.5 L447 307.4 L447.6 308.1 L448.4 308.5 L449.5 308.6 L450.6 308.4 L451.3 307.8 L451.8 307.1 L451.9 306.2 L452.1 305.2 L452.4 304.4 L453 303.8 L454 303.5 L455.1 303.4 L456.1 303.7 L456.7 304.3 L457.1 305.2 L457.2 306.1 L457.4 307 L457.8 307.8 L458.5 308.3 L459.5 308.6 L460.6 308.5 L461.5 308.1 L462.1 307.4 L462.4 306.6 L462.5 305.7 L462.7 304.8 L463.2 304 L464 303.6 L465.1 303.4 L466.1 303.6 L467 304 L467.5 304.8 L467.7 305.7 L467.8 306.6 L468 307.4 L468.6 308.1 L469.5 308.5 L470.6 308.6 L471.6 308.3 L472.4 307.8 L472.8 307 L472.9 306.1 L473.1 305.2 L473.4 304.4 L474.1 303.8 L475.1 303.4 L476.2 303.4 L477.1 303.8 L477.8 304.4 L478.1 305.2 L478.2 306.2 L478.4 307.1 L478.8 307.8 L479.6 308.4 L480.6 308.6 L481.7 308.5 L482.6 308.1 L483.1 307.4 L483.4 306.5 L483.5 305.6 L483.7 304.7 L484.2 304 L485.1 303.5 L486.2 303.4 L487.2 303.6 L488 304.1 L488.5 304.8 L488.7 305.7 L488.8 306.7 L489.1 307.5 L489.7 308.2 L490.6 308.5 L491.7 308.6 L492.7 308.3 L493.4 307.7 L493.8 306.9 L493.9 306 L494.1 305.1 L494.5 304.3 L495.2 303.7 L496.2 303.4 L497.3 303.5 L498.2 303.8 L498.8 304.5 L499.1 305.3 L499.2 306.2 L499.4 307.1 L499.9 307.9 L500.7 308.4 L501.7 308.6 L502.8 308.5 L503.7 308 L504.2 307.3 L504.4 306.4 L504.5 305.5 L504.7 304.6 L505.3 303.9 L506.2 303.5 L507.3 303.4 L508.3 303.6 L509.1 304.2 L509.5 304.9 L509.7 305.8 L509.8 306.7 L510.1 307.6 L510.8 308.2 L511.7 308.5 L512.8 308.6 L513.8 308.3 L514.5 307.7 L514.8 306.8 L515 305.9 L515.1 305 L515.5 304.2" fill="none" stroke="#ecdccc" stroke-width="0.7" opacity="0.6"/>
<path d="M434.8 224.5 L435.4 225.3 L436.1 225.7 L437 225.9 L438 226 L438.8 226.3 L439.4 227 L439.8 227.9 L439.8 229 L439.4 230 L438.8 230.7 L438 231 L437.1 231.2 L436.2 231.3 L435.4 231.7 L434.9 232.5 L434.6 233.5 L434.7 234.6 L435.1 235.5 L435.8 236.1 L436.6 236.3 L437.5 236.4 L438.4 236.6 L439.2 237.1 L439.6 238 L439.8 239 L439.6 240.1 L439.2 240.9 L438.4 241.4 L437.5 241.6 L436.6 241.7 L435.8 242 L435.1 242.6 L434.7 243.5 L434.6 244.6 L434.9 245.6 L435.4 246.4 L436.2 246.7 L437.1 246.9 L438 247 L438.8 247.4 L439.5 248 L439.8 249 L439.8 250.1 L439.4 251.1 L438.8 251.7 L438 252.1 L437 252.2 L436.1 252.3 L435.4 252.8 L434.8 253.5 L434.6 254.6 L434.7 255.7 L435.1 256.6 L435.8 257.1 L436.7 257.3 L437.6 257.5 L438.5 257.7 L439.2 258.2 L439.7 259.1 L439.8 260.1 L439.6 261.2 L439.1 262 L438.4 262.4 L437.5 262.6 L436.5 262.7 L435.7 263 L435 263.6 L434.7 264.6 L434.6 265.7 L434.9 266.7 L435.5 267.4 L436.3 267.8 L437.2 267.9 L438.1 268 L438.9 268.4 L439.5 269.1 L439.8 270.1 L439.7 271.2 L439.4 272.2 L438.7 272.8 L437.9 273.1 L437 273.2 L436.1 273.4 L435.3 273.8 L434.8 274.6 L434.6 275.7 L434.7 276.7 L435.2 277.6 L435.9 278.1 L436.8 278.4 L437.7 278.5 L438.6 278.7 L439.3 279.3 L439.7 280.1 L439.8 281.2 L439.6 282.3 L439 283 L438.3 283.5 L437.4 283.6 L436.5 283.8 L435.6 284.1 L435 284.7 L434.7 285.7 L434.6 286.8 L434.9 287.8 L435.5 288.4 L436.3 288.8 L437.3 288.9 L438.2 289.1 L439 289.5 L439.5 290.2 L439.8 291.2 L439.7 292.3 L439.3 293.2 L438.7 293.8 L437.8 294.1 L436.9 294.2 L436 294.4 L435.3 294.9 L434.8 295.7 L434.6 296.8 L434.8 297.8 L435.2 298.7 L436 299.2 L436.8 299.4 L437.8 299.5 L438.6 299.7 L439.3 300.3 L439.7 301.2 L439.8 302.3 L439.5 303.3 L439 304.1 L438.2 304.5 L437.3 304.6 L436.4 304.8 L435.6 305.1 L435 305.8 L434.6 306.8 L434.6 307.9 L435 308.8 L435.6 309.5 L436.4 309.8 L437.3 309.9" fill="none" stroke="#ecdccc" stroke-width="0.7" opacity="0.6"/>
<path d="M511.8 224.5 L512.4 225.3 L513.1 225.7 L514 225.9 L515 226 L515.8 226.3 L516.4 227 L516.8 227.9 L516.8 229 L516.4 230 L515.8 230.7 L515 231 L514.1 231.2 L513.2 231.3 L512.4 231.7 L511.9 232.5 L511.6 233.5 L511.7 234.6 L512.1 235.5 L512.8 236.1 L513.6 236.3 L514.5 236.4 L515.4 236.6 L516.2 237.1 L516.6 238 L516.8 239 L516.6 240.1 L516.2 240.9 L515.4 241.4 L514.5 241.6 L513.6 241.7 L512.8 242 L512.1 242.6 L511.7 243.5 L511.6 244.6 L511.9 245.6 L512.4 246.4 L513.2 246.7 L514.1 246.9 L515 247 L515.8 247.4 L516.5 248 L516.8 249 L516.8 250.1 L516.4 251.1 L515.8 251.7 L515 252.1 L514 252.2 L513.1 252.3 L512.4 252.8 L511.8 253.5 L511.6 254.6 L511.7 255.7 L512.1 256.6 L512.8 257.1 L513.7 257.3 L514.6 257.5 L515.5 257.7 L516.2 258.2 L516.7 259.1 L516.8 260.1 L516.6 261.2 L516.1 262 L515.4 262.4 L514.5 262.6 L513.5 262.7 L512.7 263 L512 263.6 L511.7 264.6 L511.6 265.7 L511.9 266.7 L512.5 267.4 L513.3 267.8 L514.2 267.9 L515.1 268 L515.9 268.4 L516.5 269.1 L516.8 270.1 L516.7 271.2 L516.4 272.2 L515.7 272.8 L514.9 273.1 L514 273.2 L513.1 273.4 L512.3 273.8 L511.8 274.6 L511.6 275.7 L511.7 276.7 L512.2 277.6 L512.9 278.1 L513.8 278.4 L514.7 278.5 L515.6 278.7 L516.3 279.3 L516.7 280.1 L516.8 281.2 L516.6 282.3 L516 283 L515.3 283.5 L514.4 283.6 L513.5 283.8 L512.6 284.1 L512 284.7 L511.7 285.7 L511.6 286.8 L511.9 287.8 L512.5 288.4 L513.3 288.8 L514.3 288.9 L515.2 289.1 L516 289.5 L516.5 290.2 L516.8 291.2 L516.7 292.3 L516.3 293.2 L515.7 293.8 L514.8 294.1 L513.9 294.2 L513 294.4 L512.3 294.9 L511.8 295.7 L511.6 296.8 L511.8 297.8 L512.2 298.7 L513 299.2 L513.8 299.4 L514.8 299.5 L515.6 299.7 L516.3 300.3 L516.7 301.2 L516.8 302.3 L516.5 303.3 L516 304.1 L515.2 304.5 L514.3 304.6 L513.4 304.8 L512.6 305.1 L512 305.8 L511.6 306.8 L511.6 307.9 L512 308.8 L512.6 309.5 L513.4 309.8 L514.3 309.9" fill="none" stroke="#ecdccc" stroke-width="0.7" opacity="0.6"/>
<path d="M436.7 313.4 L437.5 312.8 L437.9 312.1 L438.1 311.2 L438.2 310.2 L438.5 309.4 L439.2 308.8 L440.1 308.4 L441.2 308.4 L442.2 308.8 L442.9 309.4 L443.2 310.2 L443.4 311.1 L443.5 312 L443.9 312.8 L444.7 313.3 L445.7 313.6 L446.8 313.5 L447.7 313.1 L448.3 312.4 L448.5 311.6 L448.6 310.7 L448.8 309.8 L449.3 309 L450.2 308.6 L451.2 308.4 L452.3 308.6 L453.1 309.1 L453.6 309.8 L453.8 310.7 L453.9 311.6 L454.2 312.5 L454.8 313.1 L455.7 313.5 L456.8 313.6 L457.8 313.3 L458.6 312.8 L458.9 312 L459.1 311.1 L459.2 310.2 L459.6 309.3 L460.3 308.7 L461.2 308.4 L462.3 308.5 L463.3 308.8 L463.9 309.4 L464.3 310.3 L464.4 311.2 L464.5 312.1 L465 312.8 L465.7 313.4 L466.8 313.6 L467.9 313.5 L468.8 313.1 L469.3 312.4 L469.5 311.5 L469.7 310.6 L469.9 309.7 L470.4 309 L471.3 308.5 L472.3 308.4 L473.4 308.6 L474.2 309.1 L474.7 309.9 L474.8 310.7 L474.9 311.7 L475.2 312.5 L475.9 313.2 L476.8 313.5 L477.9 313.6 L478.9 313.3 L479.6 312.7 L480 311.9 L480.1 311 L480.2 310.1 L480.6 309.3 L481.3 308.7 L482.3 308.4 L483.4 308.5 L484.4 308.8 L485 309.5 L485.3 310.3 L485.4 311.3 L485.6 312.2 L486 312.9 L486.8 313.4 L487.9 313.6 L489 313.5 L489.8 313 L490.3 312.3 L490.6 311.4 L490.7 310.5 L490.9 309.6 L491.5 308.9 L492.4 308.5 L493.4 308.4 L494.5 308.6 L495.2 309.2 L495.7 309.9 L495.8 310.8 L496 311.8 L496.3 312.6 L496.9 313.2 L497.9 313.6 L499 313.6 L500 313.3 L500.6 312.6 L501 311.8 L501.1 310.9 L501.3 310 L501.7 309.2 L502.4 308.7 L503.4 308.4 L504.5 308.5 L505.4 308.9 L506 309.6 L506.3 310.4 L506.4 311.3 L506.6 312.2 L507.1 313 L507.9 313.4 L509 313.6 L510 313.4 L510.9 313 L511.4 312.2 L511.6 311.3 L511.7 310.4 L511.9 309.6 L512.5 308.9 L513.4 308.5 L514.5 308.4 L515.6 308.7 L516.2 309.2 L516.2 310" fill="none" stroke="#ecdccc" stroke-width="0.7" opacity="0.6"/>
<circle cx="469.7" cy="259.8" r="40" fill="#468a3a" opacity="0.5"/>
<circle cx="469.7" cy="259.8" r="40.2" fill="none" stroke="url(#gRc)" stroke-width="4.2"/>
<circle cx="469.7" cy="259.8" r="40" fill="none" stroke="#8fa384" stroke-width="0.5" opacity="0.6"/>
<path d="M435.3 250.5 L434.7 251 L434.3 251.7 L434.4 252.5 L434.8 253.3 L435.4 254 L436.1 254.5 L437 254.6 L437.8 254.4 L438.5 254 L439.3 253.5 L440.1 253.1 L440.9 253 L441.7 253.1 L442.4 253.6 L443 254.3 L443.4 255.1 L443.4 256 L443.2 256.7 L442.6 257.4 L442 258 L441.3 258.6 L440.9 259.3 L440.7 260.1 L440.8 261 L441.2 261.8 L441.8 262.4 L442.6 262.8 L443.4 262.9 L444.2 262.7 L445 262.3 L445.7 261.8 L446.5 261.5 L447.3 261.3 L448.1 261.5 L448.9 262 L449.4 262.7 L449.8 263.6 L449.8 264.4 L449.5 265.2 L448.9 265.8 L448.3 266.4 L447.6 267.1 L447.2 267.8 L447 268.6 L447.2 269.4 L447.6 270.2 L448.3 270.9 L449 271.2 L449.8 271.3 L450.6 271 L451.4 270.6 L452.2 270.1 L453 269.8 L453.8 269.7 L454.6 269.9 L455.3 270.5 L455.8 271.2 L456.1 272 L456.1 272.8 L455.8 273.6 L455.2 274.3 L454.6 274.9 L453.9 275.5 L453.5 276.2 L453.4 277 L453.6 277.9 L454 278.7 L454.7 279.3 L455.5 279.6 L456.3 279.6 L457.1 279.3 L457.9 278.9 L458.6 278.4 L459.4 278.1 L460.2 278.1 L461 278.3 L461.7 278.9 L462.2 279.6 L462.5 280.5 L462.4 281.3 L462.1 282 L461.5 282.7 L460.8 283.3 L460.2 283.9 L459.9 284.7 L459.7 285.5 L460 286.3 L460.5 287.1 L461.1 287.7 L461.9 288 L462.7 288 L463.5 287.7 L464.3 287.2 L465.1 286.8 L465.9 286.5 L466.7 286.4 L467.5 286.7 L468.1 287.3 L468.6 288.1 L468.9 288.9 L468.8 289.7 L468.4 290.5 L467.8 291.1 L467.1 291.7 L466.5 292.4 L466.2 293.1 L466.1 293.9 L466.4 294.8 L466.9 295.5 L467.6 296.1 L468.4 296.3 L469.2 296.3 L470 296 L470.7 295.5 L471.5 295.1" fill="none" stroke="#ecdccc" stroke-width="0.7" opacity="0.8"/>
<path d="M460.4 227.7 L460.1 228.1 L460.6 228.8 L461.3 229.4 L462.1 229.7 L462.9 229.7 L463.7 229.4 L464.4 228.8 L465.1 228.2 L465.8 227.7 L466.6 227.5 L467.4 227.5 L468.2 227.8 L468.9 228.4 L469.4 229.2 L469.6 230 L469.4 230.8 L469 231.6 L468.5 232.3 L467.9 233 L467.6 233.8 L467.5 234.6 L467.8 235.4 L468.3 236.1 L469 236.7 L469.9 236.9 L470.7 236.9 L471.4 236.5 L472.1 236 L472.8 235.4 L473.5 234.9 L474.3 234.7 L475.1 234.7 L475.9 235.1 L476.6 235.8 L477 236.5 L477.2 237.3 L477 238.1 L476.6 238.9 L476 239.6 L475.5 240.3 L475.2 241.1 L475.2 241.9 L475.5 242.7 L476 243.4 L476.8 243.9 L477.6 244.2 L478.4 244.1 L479.2 243.7 L479.9 243.1 L480.5 242.5 L481.3 242.1 L482.1 241.9 L482.9 242 L483.7 242.4 L484.3 243.1 L484.7 243.9 L484.8 244.7 L484.6 245.5 L484.1 246.2 L483.6 246.9 L483.1 247.6 L482.8 248.4 L482.8 249.2 L483.1 250 L483.7 250.7 L484.5 251.2 L485.3 251.4 L486.1 251.2 L486.9 250.8 L487.6 250.3 L488.3 249.7 L489 249.3 L489.8 249.1 L490.6 249.3 L491.4 249.7 L492 250.4 L492.4 251.2 L492.4 252 L492.1 252.8 L491.7 253.5 L491.1 254.2 L490.6 255 L490.4 255.8 L490.5 256.6 L490.8 257.4 L491.5 258 L492.3 258.5 L493.1 258.6 L493.9 258.4 L494.6 258 L495.3 257.4 L496 256.8 L496.7 256.4 L497.5 256.3 L498.3 256.5 L499.1 257 L499.7 257.7 L500 258.5 L500 259.3 L499.7 260.1 L499.2 260.8 L498.6 261.6 L498.2 262.3 L498 263.1" fill="none" stroke="#ecdccc" stroke-width="0.7" opacity="0.8"/>
<path d="M462 222 L462 228" fill="none" stroke="#ecdccc" stroke-width="0.9" opacity="0.9"/>
<path d="M433.5 250 L438 249.4" fill="none" stroke="#ecdccc" stroke-width="0.9" opacity="0.9"/>
<path d="M500 262 L507 262 L507 255" fill="none" stroke="#ecdccc" stroke-width="0.7" opacity="0.8"/>
<rect x="461" y="206.5" width="3" height="3.2" fill="#ecd9d2" opacity="0.92"/>
<rect x="464.6" y="206.5" width="3" height="3.2" fill="#ecd9d2" opacity="0.92"/>
<rect x="461" y="210.5" width="3" height="2" fill="#ecd9d2" opacity="0.92"/>
<rect x="505.5" y="207.5" width="3.4" height="3" fill="#ecd9d2" opacity="0.92"/>
<rect x="509.5" y="207.5" width="3.4" height="3" fill="#ecd9d2" opacity="0.92"/>
<rect x="509.5" y="211.5" width="3.4" height="2.6" fill="#ecd9d2" opacity="0.92"/>
<rect x="417.5" y="246" width="2.2" height="3.6" fill="#ecd9d2" opacity="0.92"/>
<rect x="420.4" y="246" width="2.2" height="3.6" fill="#ecd9d2" opacity="0.92"/>
<rect x="424" y="246.5" width="1.5" height="5" fill="#ecd9d2" opacity="0.92"/>
<rect x="418" y="252" width="4" height="1.6" fill="#ecd9d2" opacity="0.92"/>
<rect x="495.5" y="249.5" width="3.6" height="4.6" fill="#f3e9d6" opacity="0.92"/>
<rect x="499.8" y="249.5" width="3" height="4.6" fill="#f3e9d6" opacity="0.92"/>
<rect x="497" y="254.8" width="5.5" height="1.5" fill="#f3e9d6" opacity="0.92"/>
<rect x="517.5" y="250.6" width="7" height="2" fill="#ecd9d2" opacity="0.92"/>
<rect x="511" y="250.8" width="2.4" height="1.8" fill="#ecd9d2" opacity="0.92"/>
<rect x="418.6" y="294" width="2" height="3.6" fill="#ecd9d2" opacity="0.92"/>
<rect x="421.6" y="294" width="2" height="3.6" fill="#ecd9d2" opacity="0.92"/>
<rect x="458.6" y="292" width="1.4" height="4.4" fill="#efe6da" opacity="0.92"/>
<rect x="460.7" y="292" width="1.4" height="4.4" fill="#efe6da" opacity="0.92"/>
<rect x="462.8" y="292" width="1.4" height="4.4" fill="#efe6da" opacity="0.92"/>
<rect x="464.9" y="292" width="1.4" height="4.4" fill="#efe6da" opacity="0.92"/>
<rect x="467" y="292" width="1.4" height="4.4" fill="#efe6da" opacity="0.92"/>
<rect x="470" y="292" width="1.4" height="4.4" fill="#efe6da" opacity="0.92"/>
<rect x="460" y="306.5" width="1.5" height="4" fill="#ecd9d2" opacity="0.92"/>
<rect x="462.6" y="311" width="2.5" height="3.5" fill="#cfc6b8" opacity="0.92"/>
<rect x="529.5" y="297.6" width="3" height="2.6" fill="#efc5bd" opacity="0.92"/>
<rect x="527.5" y="304" width="5" height="3.6" fill="#efc5bd" opacity="0.92"/>
<rect x="510" y="316.8" width="3.2" height="3" fill="#efc5bd" opacity="0.92"/>
<rect x="515" y="316.8" width="3.6" height="3" fill="#efc5bd" opacity="0.92"/>
<rect x="514" y="296.5" width="3.2" height="3.2" fill="#e8e2d2" opacity="0.92"/>
<path d="M508 292l3 3l-3 3l-3 -3z" fill="#e9e2d0" opacity="0.9"/>
<path d="M498 291 L503 287" fill="none" stroke="#ecdccc" stroke-width="0.6" opacity="0.7"/>
<path d="M506 304 L511 300" fill="none" stroke="#ecdccc" stroke-width="0.6" opacity="0.7"/>
<path d="M500.2 293.2 L505.2 289.2" fill="none" stroke="#ecdccc" stroke-width="0.6" opacity="0.7"/>
<path d="M508.4 305.4 L513.4 301.4" fill="none" stroke="#ecdccc" stroke-width="0.6" opacity="0.7"/>
<path d="M502.4 295.4 L507.4 291.4" fill="none" stroke="#ecdccc" stroke-width="0.6" opacity="0.7"/>
<path d="M510.8 306.8 L515.8 302.8" fill="none" stroke="#ecdccc" stroke-width="0.6" opacity="0.7"/>
<path d="M504.6 297.6 L509.6 293.6" fill="none" stroke="#ecdccc" stroke-width="0.6" opacity="0.7"/>
<path d="M513.2 308.2 L518.2 304.2" fill="none" stroke="#ecdccc" stroke-width="0.6" opacity="0.7"/>
<path d="M418 207l4 0l-4 4z" fill="#dfe6cf" opacity="0.8"/>
</g>
<path d="M536.5 202V330.1H412.2" fill="none" stroke="#2a2f22" stroke-width="1.6"/>
<rect x="422.2" y="325" width="23.6" height="3.4" fill="#000"/>
<rect x="559.3" y="201.3" width="124.6" height="129.2" fill="url(#gD)" stroke="#3a3917" stroke-width="1"/>
<clipPath id="cd"><rect x="559.8" y="201.8" width="123.6" height="128.2"/></clipPath>
<g clip-path="url(#cd)">
<path d="M564.3 207.3 L563.3 207.4 L562.5 207.8 L561.8 208.4 L561.4 209.3 L561.3 210.4 L561.5 211.5 L562.1 212.3 L562.8 212.8 L563.8 213 L564.7 213.1 L565.7 213.3 L566.5 213.8 L567 214.5 L567.3 215.6 L567.2 216.7 L566.9 217.6 L566.2 218.3 L565.4 218.6 L564.4 218.8 L563.4 218.9 L562.5 219.2 L561.9 219.8 L561.4 220.7 L561.3 221.8 L561.5 222.9 L562 223.7 L562.7 224.2 L563.7 224.5 L564.6 224.6 L565.6 224.8 L566.4 225.2 L567 225.9 L567.3 227 L567.2 228.1 L566.9 229 L566.3 229.7 L565.5 230.1 L564.5 230.3 L563.5 230.4 L562.6 230.7 L561.9 231.2 L561.5 232.1 L561.3 233.2 L561.5 234.3 L561.9 235.1 L562.7 235.7 L563.6 236 L564.5 236.1 L565.5 236.2 L566.3 236.6 L566.9 237.4 L567.3 238.3 L567.3 239.4 L567 240.4 L566.4 241.2 L565.5 241.6 L564.6 241.8 L563.6 241.9 L562.7 242.1 L562 242.7 L561.5 243.5 L561.3 244.6 L561.4 245.7 L561.9 246.6 L562.6 247.2 L563.5 247.4 L564.4 247.6 L565.4 247.7 L566.2 248.1 L566.9 248.8 L567.2 249.7 L567.3 250.8 L567 251.9 L566.4 252.6 L565.6 253.1 L564.7 253.3 L563.7 253.4 L562.8 253.6 L562 254.1 L561.5 254.9 L561.3 256 L561.4 257.1 L561.8 258 L562.5 258.6 L563.4 258.9 L564.3 259.1 L565.3 259.2 L566.2 259.5 L566.8 260.2 L567.2 261.1 L567.3 262.2 L567 263.3 L566.5 264.1 L565.7 264.5 L564.8 264.7 L563.8 264.9 L562.9 265.1 L562.1 265.5 L561.6 266.3 L561.3 267.4 L561.4 268.5 L561.8 269.4 L562.4 270.1 L563.3 270.4 L564.2 270.5 L565.2 270.7 L566.1 271 L566.8 271.6 L567.2 272.5 L567.3 273.6 L567.1 274.7 L566.6 275.5 L565.8 276 L564.9 276.2 L563.9 276.3 L563 276.5 L562.2 277 L561.6 277.7 L561.3 278.7 L561.4 279.8 L561.7 280.8 L562.3 281.5 L563.2 281.9 L564.1 282 L565.1 282.2 L566 282.4 L566.7 283 L567.2 283.9 L567.3 285 L567.1 286.1 L566.6 286.9 L565.9 287.5 L565 287.7 L564 287.8 L563.1 288 L562.2 288.4 L561.7 289.1 L561.3 290.1 L561.3 291.2 L561.7 292.2 L562.3 293 L563.1 293.4 L564 293.5 L565 293.6 L565.9 293.9 L566.7 294.4 L567.1 295.3 L567.3 296.4 L567.2 297.5 L566.7 298.3 L566 298.9 L565.1 299.2 L564.1 299.3 L563.2 299.5 L562.3 299.9 L561.7 300.6 L561.4 301.5 L561.3 302.6 L561.6 303.6 L562.2 304.4 L563 304.8 L563.9 305 L564.9 305.1 L565.8 305.4 L566.6 305.9 L567.1 306.7 L567.3 307.8 L567.2 308.9 L566.8 309.8 L566.1 310.4 L565.2 310.7 L564.2 310.8 L563.3 310.9 L562.4 311.3 L561.8 312 L561.4 312.9 L561.3 314 L561.6 315 L562.1 315.8 L562.9 316.3 L563.8 316.5 L564.8 316.6 L565.8 316.8 L566.5 317.3 L567.1 318.1 L567.3 319.2 L567.2 320.2 L566.8 321.2 L566.1 321.8 L565.3 322.2 L564.3 322.3 L563.3 322.4 L562.5 322.8 L561.8 323.4 L561.4 324.3 L561.3 325.3" fill="none" stroke="#e4e3b0" stroke-width="0.7" opacity="0.6"/>
<path d="M567.9 208 L568.5 208.7 L569.4 209 L570.3 209.2 L571.3 209.3 L572.2 209.6 L572.9 210.2 L573.4 211.1 L573.5 212.1 L573.3 213.2 L572.8 214.1 L572.1 214.6 L571.2 214.9 L570.2 215 L569.3 215.2 L568.5 215.6 L567.9 216.3 L567.5 217.3 L567.5 218.4 L567.9 219.4 L568.5 220.1 L569.3 220.5 L570.2 220.7 L571.2 220.8 L572.1 221.1 L572.8 221.6 L573.3 222.5 L573.5 223.5 L573.4 224.6 L572.9 225.5 L572.2 226.1 L571.3 226.4 L570.3 226.5 L569.4 226.6 L568.5 227 L567.9 227.7 L567.6 228.7 L567.5 229.8 L567.8 230.8 L568.4 231.5 L569.2 232 L570.1 232.2 L571.1 232.3 L572 232.5 L572.8 233 L573.3 233.9 L573.5 234.9 L573.4 236 L573 236.9 L572.3 237.5 L571.4 237.8 L570.4 238 L569.5 238.1 L568.6 238.5 L568 239.1 L567.6 240.1 L567.5 241.2 L567.8 242.2 L568.3 243 L569.1 243.5 L570 243.7 L571 243.8 L571.9 244 L572.7 244.5 L573.3 245.3 L573.5 246.3 L573.4 247.4 L573 248.3 L572.4 249 L571.5 249.3 L570.5 249.5 L569.6 249.6 L568.7 249.9 L568 250.5 L567.6 251.5 L567.5 252.6 L567.7 253.6 L568.3 254.4 L569 254.9 L569.9 255.1 L570.9 255.3 L571.9 255.4 L572.6 255.9 L573.2 256.7 L573.5 257.7 L573.4 258.8 L573.1 259.8 L572.4 260.4 L571.6 260.8 L570.6 260.9 L569.6 261.1 L568.8 261.4 L568.1 262 L567.6 262.9 L567.5 263.9 L567.7 265 L568.2 265.9 L568.9 266.4 L569.8 266.6 L570.8 266.7 L571.8 266.9 L572.6 267.3 L573.2 268.1 L573.5 269.1 L573.5 270.2 L573.1 271.2 L572.5 271.9 L571.7 272.3 L570.7 272.4 L569.7 272.5 L568.8 272.8 L568.1 273.4 L567.7 274.3 L567.5 275.3 L567.7 276.4 L568.1 277.3 L568.8 277.8 L569.7 278.1 L570.7 278.2 L571.7 278.4 L572.5 278.8 L573.1 279.5 L573.5 280.5 L573.5 281.6 L573.2 282.6 L572.6 283.3 L571.8 283.7 L570.8 283.9 L569.8 284 L568.9 284.3 L568.2 284.8 L567.7 285.7 L567.5 286.7 L567.6 287.8 L568.1 288.7 L568.8 289.3 L569.6 289.6 L570.6 289.7 L571.6 289.9 L572.4 290.2 L573.1 290.9 L573.4 291.9 L573.5 293 L573.2 294 L572.7 294.8 L571.9 295.2 L570.9 295.4 L569.9 295.5 L569 295.7 L568.3 296.2 L567.7 297.1 L567.5 298.1 L567.6 299.2 L568 300.1 L568.7 300.8 L569.5 301.1 L570.5 301.2 L571.5 301.3 L572.3 301.7 L573 302.3 L573.4 303.3 L573.5 304.4 L573.3 305.4 L572.7 306.2 L571.9 306.7 L571 306.9 L570 307 L569.1 307.2 L568.3 307.7 L567.8 308.5 L567.5 309.5 L567.6 310.6 L568 311.5 L568.6 312.2 L569.5 312.6 L570.4 312.7 L571.4 312.8 L572.3 313.1 L573 313.7 L573.4 314.7 L573.5 315.7 L573.3 316.8 L572.8 317.6 L572 318.1 L571.1 318.4 L570.1 318.5 L569.2 318.7 L568.4 319.1 L567.8 319.9 L567.5 320.9 L567.6 322 L567.9 323 L568.5 323.7 L569.4 324 L570.3 324.2 L571.3 324.3 L572.2 324.6" fill="none" stroke="#e4e3b0" stroke-width="0.7" opacity="0.6"/>
<path d="M579.3 207.3 L579.6 207.6 L579.7 208.7 L579.4 209.7 L578.8 210.5 L578 210.9 L577 211.1 L576 211.2 L575.1 211.4 L574.4 212 L573.9 212.8 L573.7 213.9 L573.8 214.9 L574.3 215.9 L575 216.5 L575.8 216.8 L576.8 216.9 L577.8 217 L578.6 217.4 L579.3 218.1 L579.6 219 L579.7 220.1 L579.4 221.1 L578.9 221.9 L578.1 222.4 L577.1 222.6 L576.1 222.7 L575.2 222.9 L574.5 223.4 L573.9 224.2 L573.7 225.3 L573.8 226.3 L574.2 227.3 L574.9 227.9 L575.7 228.2 L576.7 228.4 L577.7 228.5 L578.5 228.8 L579.2 229.5 L579.6 230.4 L579.7 231.5 L579.5 232.5 L578.9 233.4 L578.2 233.8 L577.2 234.1 L576.2 234.2 L575.3 234.4 L574.5 234.8 L574 235.6 L573.7 236.6 L573.8 237.7 L574.2 238.7 L574.8 239.4 L575.6 239.7 L576.6 239.9 L577.6 240 L578.5 240.3 L579.2 240.9 L579.6 241.8 L579.7 242.9 L579.5 243.9 L579 244.8 L578.2 245.3 L577.3 245.5 L576.3 245.6 L575.4 245.8 L574.6 246.3 L574 247 L573.7 248 L573.8 249.1 L574.1 250.1 L574.7 250.8 L575.6 251.2 L576.5 251.3 L577.5 251.5 L578.4 251.7 L579.1 252.3 L579.6 253.2 L579.7 254.3 L579.5 255.3 L579.1 256.2 L578.3 256.8 L577.4 257 L576.4 257.1 L575.5 257.3 L574.7 257.7 L574.1 258.4 L573.7 259.4 L573.7 260.5 L574.1 261.5 L574.6 262.3 L575.5 262.7 L576.4 262.8 L577.4 262.9 L578.3 263.2 L579 263.7 L579.5 264.6 L579.7 265.7 L579.6 266.7 L579.1 267.6 L578.4 268.2 L577.5 268.5 L576.5 268.6 L575.6 268.8 L574.7 269.2 L574.1 269.8 L573.8 270.8 L573.7 271.9 L574 272.9 L574.6 273.7 L575.4 274.1 L576.3 274.3 L577.3 274.4 L578.2 274.7 L579 275.2 L579.5 276 L579.7 277.1 L579.6 278.1 L579.2 279.1 L578.5 279.7 L577.6 280 L576.6 280.1 L575.7 280.3 L574.8 280.6 L574.2 281.3 L573.8 282.2 L573.7 283.3 L574 284.3 L574.5 285.1 L575.3 285.6 L576.2 285.8 L577.2 285.9 L578.1 286.1 L578.9 286.6 L579.4 287.4 L579.7 288.4 L579.6 289.5 L579.2 290.5 L578.6 291.1 L577.7 291.5 L576.7 291.6 L575.8 291.7 L574.9 292.1 L574.2 292.7 L573.8 293.6 L573.7 294.7 L573.9 295.7 L574.4 296.6 L575.2 297.1 L576.1 297.3 L577.1 297.4 L578 297.6 L578.8 298 L579.4 298.8 L579.7 299.8 L579.6 300.9 L579.3 301.9 L578.6 302.6 L577.8 302.9 L576.8 303.1 L575.9 303.2 L575 303.5 L574.3 304.1 L573.8 305 L573.7 306.1 L573.9 307.1 L574.4 308 L575.1 308.5 L576 308.8 L577 308.9 L577.9 309.1 L578.8 309.5 L579.4 310.2 L579.7 311.2 L579.7 312.3 L579.3 313.3 L578.7 314 L577.9 314.4 L576.9 314.6 L576 314.7 L575.1 315 L574.3 315.5 L573.9 316.4 L573.7 317.5 L573.9 318.5 L574.3 319.4 L575 320 L575.9 320.3 L576.9 320.4 L577.9 320.5 L578.7 320.9 L579.3 321.6 L579.6 322.6 L579.7 323.7 L579.4 324.7 L578.8 325.3 L578 325.3" fill="none" stroke="#e4e3b0" stroke-width="0.7" opacity="0.6"/>
<path d="M678.9 207.3 L677.9 207.4 L677.1 207.8 L676.4 208.4 L676 209.3 L675.9 210.4 L676.1 211.5 L676.7 212.3 L677.4 212.8 L678.4 213 L679.3 213.1 L680.3 213.3 L681.1 213.8 L681.6 214.5 L681.9 215.6 L681.8 216.7 L681.5 217.6 L680.8 218.3 L680 218.6 L679 218.8 L678 218.9 L677.1 219.2 L676.5 219.8 L676 220.7 L675.9 221.8 L676.1 222.9 L676.6 223.7 L677.3 224.2 L678.3 224.5 L679.2 224.6 L680.2 224.8 L681 225.2 L681.6 225.9 L681.9 227 L681.8 228.1 L681.5 229 L680.9 229.7 L680.1 230.1 L679.1 230.3 L678.1 230.4 L677.2 230.7 L676.5 231.2 L676.1 232.1 L675.9 233.2 L676.1 234.3 L676.5 235.1 L677.3 235.7 L678.2 236 L679.1 236.1 L680.1 236.2 L680.9 236.6 L681.5 237.4 L681.9 238.3 L681.9 239.4 L681.6 240.4 L681 241.2 L680.1 241.6 L679.2 241.8 L678.2 241.9 L677.3 242.1 L676.6 242.7 L676.1 243.5 L675.9 244.6 L676 245.7 L676.5 246.6 L677.2 247.2 L678.1 247.4 L679 247.6 L680 247.7 L680.8 248.1 L681.5 248.8 L681.8 249.7 L681.9 250.8 L681.6 251.9 L681 252.6 L680.2 253.1 L679.3 253.3 L678.3 253.4 L677.4 253.6 L676.6 254.1 L676.1 254.9 L675.9 256 L676 257.1 L676.4 258 L677.1 258.6 L678 258.9 L678.9 259.1 L679.9 259.2 L680.8 259.5 L681.4 260.2 L681.8 261.1 L681.9 262.2 L681.6 263.3 L681.1 264.1 L680.3 264.5 L679.4 264.7 L678.4 264.9 L677.5 265.1 L676.7 265.5 L676.2 266.3 L675.9 267.4 L676 268.5 L676.4 269.4 L677 270.1 L677.9 270.4 L678.8 270.5 L679.8 270.7 L680.7 271 L681.4 271.6 L681.8 272.5 L681.9 273.6 L681.7 274.7 L681.2 275.5 L680.4 276 L679.5 276.2 L678.5 276.3 L677.6 276.5 L676.8 277 L676.2 277.7 L675.9 278.7 L676 279.8 L676.3 280.8 L676.9 281.5 L677.8 281.9 L678.7 282 L679.7 282.2 L680.6 282.4 L681.3 283 L681.8 283.9 L681.9 285 L681.7 286.1 L681.2 286.9 L680.5 287.5 L679.6 287.7 L678.6 287.8 L677.7 288 L676.8 288.4 L676.3 289.1 L675.9 290.1 L675.9 291.2 L676.3 292.2 L676.9 293 L677.7 293.4 L678.6 293.5 L679.6 293.6 L680.5 293.9 L681.3 294.4 L681.7 295.3 L681.9 296.4 L681.8 297.5 L681.3 298.3 L680.6 298.9 L679.7 299.2 L678.7 299.3 L677.8 299.5 L676.9 299.9 L676.3 300.6 L676 301.5 L675.9 302.6 L676.2 303.6 L676.8 304.4 L677.6 304.8 L678.5 305 L679.5 305.1 L680.4 305.4 L681.2 305.9 L681.7 306.7 L681.9 307.8 L681.8 308.9 L681.4 309.8 L680.7 310.4 L679.8 310.7 L678.8 310.8 L677.9 310.9 L677 311.3 L676.4 312 L676 312.9 L675.9 314 L676.2 315 L676.7 315.8 L677.5 316.3 L678.4 316.5 L679.4 316.6 L680.4 316.8 L681.1 317.3 L681.7 318.1 L681.9 319.2 L681.8 320.2 L681.4 321.2 L680.7 321.8 L679.9 322.2 L678.9 322.3 L677.9 322.4 L677.1 322.8 L676.4 323.4 L676 324.3 L675.9 325.3" fill="none" stroke="#7d7a2c" stroke-width="0.6" opacity="0.5"/>
<path d="M670.1 208 L670.7 208.7 L671.6 209 L672.5 209.2 L673.5 209.3 L674.4 209.6 L675.1 210.2 L675.6 211.1 L675.7 212.1 L675.5 213.2 L675 214.1 L674.3 214.6 L673.4 214.9 L672.4 215 L671.5 215.2 L670.7 215.6 L670.1 216.3 L669.7 217.3 L669.7 218.4 L670.1 219.4 L670.7 220.1 L671.5 220.5 L672.4 220.7 L673.4 220.8 L674.3 221.1 L675 221.6 L675.5 222.5 L675.7 223.5 L675.6 224.6 L675.1 225.5 L674.4 226.1 L673.5 226.4 L672.5 226.5 L671.6 226.6 L670.7 227 L670.1 227.7 L669.8 228.7 L669.7 229.8 L670 230.8 L670.6 231.5 L671.4 232 L672.3 232.2 L673.3 232.3 L674.2 232.5 L675 233 L675.5 233.9 L675.7 234.9 L675.6 236 L675.2 236.9 L674.5 237.5 L673.6 237.8 L672.6 238 L671.7 238.1 L670.8 238.5 L670.2 239.1 L669.8 240.1 L669.7 241.2 L670 242.2 L670.5 243 L671.3 243.5 L672.2 243.7 L673.2 243.8 L674.1 244 L674.9 244.5 L675.5 245.3 L675.7 246.3 L675.6 247.4 L675.2 248.3 L674.6 249 L673.7 249.3 L672.7 249.5 L671.8 249.6 L670.9 249.9 L670.2 250.5 L669.8 251.5 L669.7 252.6 L669.9 253.6 L670.5 254.4 L671.2 254.9 L672.1 255.1 L673.1 255.3 L674.1 255.4 L674.8 255.9 L675.4 256.7 L675.7 257.7 L675.6 258.8 L675.3 259.8 L674.6 260.4 L673.8 260.8 L672.8 260.9 L671.8 261.1 L671 261.4 L670.3 262 L669.8 262.9 L669.7 263.9 L669.9 265 L670.4 265.9 L671.1 266.4 L672 266.6 L673 266.7 L674 266.9 L674.8 267.3 L675.4 268.1 L675.7 269.1 L675.7 270.2 L675.3 271.2 L674.7 271.9 L673.9 272.3 L672.9 272.4 L671.9 272.5 L671 272.8 L670.3 273.4 L669.9 274.3 L669.7 275.3 L669.9 276.4 L670.3 277.3 L671 277.8 L671.9 278.1 L672.9 278.2 L673.9 278.4 L674.7 278.8 L675.3 279.5 L675.7 280.5 L675.7 281.6 L675.4 282.6 L674.8 283.3 L674 283.7 L673 283.9 L672 284 L671.1 284.3 L670.4 284.8 L669.9 285.7 L669.7 286.7 L669.8 287.8 L670.3 288.7 L671 289.3 L671.8 289.6 L672.8 289.7 L673.8 289.9 L674.6 290.2 L675.3 290.9 L675.6 291.9 L675.7 293 L675.4 294 L674.9 294.8 L674.1 295.2 L673.1 295.4 L672.1 295.5 L671.2 295.7 L670.5 296.2 L669.9 297.1 L669.7 298.1 L669.8 299.2 L670.2 300.1 L670.9 300.8 L671.7 301.1 L672.7 301.2 L673.7 301.3 L674.5 301.7 L675.2 302.3 L675.6 303.3 L675.7 304.4 L675.5 305.4 L674.9 306.2 L674.1 306.7 L673.2 306.9 L672.2 307 L671.3 307.2 L670.5 307.7 L670 308.5 L669.7 309.5 L669.8 310.6 L670.2 311.5 L670.8 312.2 L671.7 312.6 L672.6 312.7 L673.6 312.8 L674.5 313.1 L675.2 313.7 L675.6 314.7 L675.7 315.7 L675.5 316.8 L675 317.6 L674.2 318.1 L673.3 318.4 L672.3 318.5 L671.4 318.7 L670.6 319.1 L670 319.9 L669.7 320.9 L669.8 322 L670.1 323 L670.7 323.7 L671.6 324 L672.5 324.2 L673.5 324.3 L674.4 324.6" fill="none" stroke="#7d7a2c" stroke-width="0.6" opacity="0.5"/>
<path d="M669.1 207.3 L669.4 207.6 L669.5 208.7 L669.2 209.7 L668.6 210.5 L667.8 210.9 L666.8 211.1 L665.8 211.2 L664.9 211.4 L664.2 212 L663.7 212.8 L663.5 213.9 L663.6 214.9 L664.1 215.9 L664.8 216.5 L665.6 216.8 L666.6 216.9 L667.6 217 L668.4 217.4 L669.1 218.1 L669.4 219 L669.5 220.1 L669.2 221.1 L668.7 221.9 L667.9 222.4 L666.9 222.6 L665.9 222.7 L665 222.9 L664.3 223.4 L663.7 224.2 L663.5 225.3 L663.6 226.3 L664 227.3 L664.7 227.9 L665.5 228.2 L666.5 228.4 L667.5 228.5 L668.3 228.8 L669 229.5 L669.4 230.4 L669.5 231.5 L669.3 232.5 L668.7 233.4 L668 233.8 L667 234.1 L666 234.2 L665.1 234.4 L664.3 234.8 L663.8 235.6 L663.5 236.6 L663.6 237.7 L664 238.7 L664.6 239.4 L665.4 239.7 L666.4 239.9 L667.4 240 L668.3 240.3 L669 240.9 L669.4 241.8 L669.5 242.9 L669.3 243.9 L668.8 244.8 L668 245.3 L667.1 245.5 L666.1 245.6 L665.2 245.8 L664.4 246.3 L663.8 247 L663.5 248 L663.6 249.1 L663.9 250.1 L664.5 250.8 L665.4 251.2 L666.3 251.3 L667.3 251.5 L668.2 251.7 L668.9 252.3 L669.4 253.2 L669.5 254.3 L669.3 255.3 L668.9 256.2 L668.1 256.8 L667.2 257 L666.2 257.1 L665.3 257.3 L664.5 257.7 L663.9 258.4 L663.5 259.4 L663.5 260.5 L663.9 261.5 L664.4 262.3 L665.3 262.7 L666.2 262.8 L667.2 262.9 L668.1 263.2 L668.8 263.7 L669.3 264.6 L669.5 265.7 L669.4 266.7 L668.9 267.6 L668.2 268.2 L667.3 268.5 L666.3 268.6 L665.4 268.8 L664.5 269.2 L663.9 269.8 L663.6 270.8 L663.5 271.9 L663.8 272.9 L664.4 273.7 L665.2 274.1 L666.1 274.3 L667.1 274.4 L668 274.7 L668.8 275.2 L669.3 276 L669.5 277.1 L669.4 278.1 L669 279.1 L668.3 279.7 L667.4 280 L666.4 280.1 L665.5 280.3 L664.6 280.6 L664 281.3 L663.6 282.2 L663.5 283.3 L663.8 284.3 L664.3 285.1 L665.1 285.6 L666 285.8 L667 285.9 L667.9 286.1 L668.7 286.6 L669.2 287.4 L669.5 288.4 L669.4 289.5 L669 290.5 L668.4 291.1 L667.5 291.5 L666.5 291.6 L665.6 291.7 L664.7 292.1 L664 292.7 L663.6 293.6 L663.5 294.7 L663.7 295.7 L664.2 296.6 L665 297.1 L665.9 297.3 L666.9 297.4 L667.8 297.6 L668.6 298 L669.2 298.8 L669.5 299.8 L669.4 300.9 L669.1 301.9 L668.4 302.6 L667.6 302.9 L666.6 303.1 L665.7 303.2 L664.8 303.5 L664.1 304.1 L663.6 305 L663.5 306.1 L663.7 307.1 L664.2 308 L664.9 308.5 L665.8 308.8 L666.8 308.9 L667.7 309.1 L668.6 309.5 L669.2 310.2 L669.5 311.2 L669.5 312.3 L669.1 313.3 L668.5 314 L667.7 314.4 L666.7 314.6 L665.8 314.7 L664.9 315 L664.1 315.5 L663.7 316.4 L663.5 317.5 L663.7 318.5 L664.1 319.4 L664.8 320 L665.7 320.3 L666.7 320.4 L667.7 320.5 L668.5 320.9 L669.1 321.6 L669.4 322.6 L669.5 323.7 L669.2 324.7 L668.6 325.3 L667.8 325.3" fill="none" stroke="#7d7a2c" stroke-width="0.6" opacity="0.5"/>
<path d="M660.2 207.3 L659.3 207.4 L658.4 207.8 L657.8 208.4 L657.4 209.4 L657.3 210.4 L657.6 211.5 L658.1 212.3 L658.9 212.8 L659.8 213 L660.8 213.1 L661.7 213.3 L662.5 213.8 L663 214.6 L663.3 215.6 L663.2 216.7 L662.8 217.6 L662.2 218.3 L661.3 218.6 L660.3 218.8 L659.4 218.9 L658.5 219.2 L657.8 219.8 L657.4 220.7 L657.3 221.8 L657.5 222.9 L658 223.7 L658.8 224.2 L659.7 224.5 L660.7 224.6 L661.6 224.7 L662.4 225.2 L663 226 L663.3 227 L663.2 228.1 L662.9 229 L662.3 229.7 L661.4 230.1 L660.5 230.3 L659.5 230.4 L658.6 230.7 L657.9 231.2 L657.4 232.1 L657.3 233.2 L657.5 234.3 L658 235.1 L658.7 235.7 L659.6 235.9 L660.6 236 L661.5 236.2 L662.4 236.6 L663 237.4 L663.3 238.4 L663.3 239.5 L662.9 240.5 L662.3 241.2 L661.5 241.6 L660.6 241.7 L659.6 241.9 L658.7 242.1 L657.9 242.7 L657.5 243.5 L657.3 244.6 L657.5 245.7 L657.9 246.6 L658.6 247.1 L659.5 247.4 L660.5 247.5 L661.4 247.7 L662.3 248.1 L662.9 248.8 L663.2 249.8 L663.3 250.9 L663 251.9 L662.4 252.6 L661.6 253.1 L660.7 253.2 L659.7 253.3 L658.8 253.6 L658 254.1 L657.5 254.9 L657.3 256 L657.4 257.1 L657.8 258 L658.5 258.6 L659.4 258.9 L660.4 259 L661.4 259.2 L662.2 259.5 L662.9 260.2 L663.2 261.2 L663.3 262.2 L663 263.3 L662.5 264.1 L661.7 264.5 L660.7 264.7 L659.8 264.8 L658.8 265 L658.1 265.5 L657.5 266.3 L657.3 267.4 L657.4 268.5 L657.8 269.4 L658.5 270.1 L659.3 270.4 L660.3 270.5 L661.3 270.6 L662.1 271 L662.8 271.6 L663.2 272.5 L663.3 273.6 L663.1 274.7 L662.5 275.5 L661.8 276 L660.8 276.2 L659.9 276.3 L658.9 276.5 L658.1 277 L657.6 277.7 L657.3 278.8 L657.4 279.9 L657.7 280.8 L658.4 281.5 L659.2 281.9 L660.2 282 L661.2 282.1 L662 282.4 L662.7 283 L663.2 283.9 L663.3 285 L663.1 286.1 L662.6 286.9 L661.9 287.5 L660.9 287.7 L660 287.8 L659 288 L658.2 288.4 L657.6 289.2 L657.3 290.2 L657.4 291.3 L657.7 292.2 L658.3 293 L659.1 293.3 L660.1 293.5 L661.1 293.6 L662 293.9 L662.7 294.5 L663.1 295.3 L663.3 296.4 L663.1 297.5 L662.7 298.4 L661.9 298.9 L661 299.2 L660.1 299.3 L659.1 299.5 L658.3 299.9 L657.7 300.6 L657.3 301.6 L657.3 302.7 L657.6 303.7 L658.2 304.4 L659 304.8 L660 305 L661 305.1 L661.9 305.3 L662.6 305.9 L663.1 306.7 L663.3 307.8 L663.2 308.9 L662.7 309.8 L662 310.4 L661.1 310.7 L660.2 310.8 L659.2 310.9 L658.4 311.3 L657.7 312 L657.4 312.9 L657.3 314 L657.6 315.1 L658.2 315.8 L659 316.3 L659.9 316.5 L660.9 316.6 L661.8 316.8 L662.6 317.3 L663.1 318.1 L663.3 319.2 L663.2 320.3 L662.8 321.2 L662.1 321.8 L661.2 322.1 L660.3 322.3 L659.3 322.4 L658.4 322.7 L657.8 323.4 L657.4 324.3 L657.3 325.3" fill="none" stroke="#7d7a2c" stroke-width="0.6" opacity="0.5"/>
<path d="M579.3 206.3 L579.5 207.3 L579.9 208.2 L580.8 208.9 L582 209.1 L583.3 208.9 L584.3 208.4 L584.8 207.6 L585 206.5 L585.2 205.5 L585.5 204.5 L586.3 203.9 L587.5 203.5 L588.8 203.6 L589.8 204.1 L590.5 204.8 L590.7 205.8 L590.9 206.9 L591.2 207.9 L591.9 208.6 L593 209 L594.3 209.1 L595.4 208.7 L596.1 207.9 L596.5 207 L596.6 205.9 L596.8 204.9 L597.5 204.1 L598.5 203.6 L599.7 203.5 L600.9 203.8 L601.8 204.5 L602.2 205.4 L602.3 206.5 L602.5 207.5 L603 208.3 L604 208.9 L605.2 209.1 L606.4 208.9 L607.4 208.3 L607.9 207.4 L608 206.4 L608.2 205.3 L608.6 204.4 L609.5 203.8 L610.7 203.5 L612 203.6 L613 204.2 L613.5 205 L613.8 206 L613.9 207.1 L614.3 208 L615 208.7 L616.2 209.1 L617.4 209 L618.5 208.6 L619.2 207.8 L619.5 206.8 L619.6 205.8 L619.9 204.8 L620.6 204 L621.7 203.6 L622.9 203.5 L624.1 203.9 L624.8 204.6 L625.2 205.5 L625.3 206.6 L625.6 207.6 L626.1 208.4 L627.1 209 L628.4 209.1 L629.6 208.8 L630.5 208.2 L630.9 207.3 L631.1 206.2 L631.2 205.2 L631.7 204.3 L632.7 203.7 L633.9 203.5 L635.1 203.7 L636.1 204.3 L636.6 205.1 L636.8 206.1 L636.9 207.2 L637.3 208.1 L638.2 208.8 L639.4 209.1 L640.6 209 L641.6 208.5 L642.3 207.7 L642.5 206.7 L642.6 205.6 L643 204.7 L643.7 203.9 L644.8 203.5 L646.1 203.6 L647.2 204 L647.9 204.7 L648.2 205.7 L648.4 206.8 L648.6 207.8 L649.3 208.5 L650.3 209 L651.6 209.1 L652.8 208.7 L653.6 208.1 L653.9 207.1 L654.1 206.1 L654.3 205 L654.8 204.2 L655.8 203.7 L657.1 203.5 L658.3 203.7 L659.2 204.4 L659.6 205.3 L659.8 206.3 L660 207.3 L660.4 208.2 L661.3 208.9 L662.5 209.1 L663.3 208.9" fill="none" stroke="#84812d" stroke-width="0.6" opacity="0.3"/>
<path d="M579.3 325.5 L579.5 326.5 L579.9 327.4 L580.8 328.1 L582 328.3 L583.3 328.1 L584.3 327.6 L584.8 326.8 L585 325.7 L585.2 324.7 L585.5 323.7 L586.3 323.1 L587.5 322.7 L588.8 322.8 L589.8 323.3 L590.5 324 L590.7 325 L590.9 326.1 L591.2 327.1 L591.9 327.8 L593 328.2 L594.3 328.3 L595.4 327.9 L596.1 327.1 L596.5 326.2 L596.6 325.1 L596.8 324.1 L597.5 323.3 L598.5 322.8 L599.7 322.7 L600.9 323 L601.8 323.7 L602.2 324.6 L602.3 325.7 L602.5 326.7 L603 327.5 L604 328.1 L605.2 328.3 L606.4 328.1 L607.4 327.5 L607.9 326.6 L608 325.6 L608.2 324.5 L608.6 323.6 L609.5 323 L610.7 322.7 L612 322.8 L613 323.4 L613.5 324.2 L613.8 325.2 L613.9 326.3 L614.3 327.2 L615 327.9 L616.2 328.3 L617.4 328.2 L618.5 327.8 L619.2 327 L619.5 326 L619.6 325 L619.9 324 L620.6 323.2 L621.7 322.8 L622.9 322.7 L624.1 323.1 L624.8 323.8 L625.2 324.7 L625.3 325.8 L625.6 326.8 L626.1 327.6 L627.1 328.2 L628.4 328.3 L629.6 328 L630.5 327.4 L630.9 326.5 L631.1 325.4 L631.2 324.4 L631.7 323.5 L632.7 322.9 L633.9 322.7 L635.1 322.9 L636.1 323.5 L636.6 324.3 L636.8 325.3 L636.9 326.4 L637.3 327.3 L638.2 328 L639.4 328.3 L640.6 328.2 L641.6 327.7 L642.3 326.9 L642.5 325.9 L642.6 324.8 L643 323.9 L643.7 323.1 L644.8 322.7 L646.1 322.8 L647.2 323.2 L647.9 323.9 L648.2 324.9 L648.4 326 L648.6 327 L649.3 327.7 L650.3 328.2 L651.6 328.3 L652.8 327.9 L653.6 327.3 L653.9 326.3 L654.1 325.3 L654.3 324.2 L654.8 323.4 L655.8 322.9 L657.1 322.7 L658.3 322.9 L659.2 323.6 L659.6 324.5 L659.8 325.5 L660 326.5 L660.4 327.4 L661.3 328.1 L662.5 328.3 L663.3 328.1" fill="none" stroke="#84812d" stroke-width="0.6" opacity="0.3"/>
<path d="M580 213.7 L580.7 213 L581.1 212.1 L581.2 211 L581.5 210 L582 209.2 L583 208.6 L584.3 208.5 L585.5 208.8 L586.4 209.4 L586.8 210.3 L587 211.4 L587.1 212.4 L587.6 213.3 L588.5 213.9 L589.8 214.1 L591 213.9 L592 213.4 L592.5 212.5 L592.7 211.5 L592.8 210.4 L593.2 209.5 L594.1 208.8 L595.2 208.5 L596.5 208.6 L597.5 209.1 L598.2 209.9 L598.4 210.9 L598.5 212 L598.9 212.9 L599.6 213.7 L600.7 214.1 L602 214 L603.1 213.6 L603.8 212.9 L604.1 211.9 L604.3 210.9 L604.5 209.9 L605.2 209.1 L606.2 208.6 L607.5 208.5 L608.6 208.8 L609.5 209.5 L609.8 210.5 L610 211.5 L610.2 212.5 L610.7 213.4 L611.7 213.9 L613 214.1 L614.2 213.9 L615.1 213.2 L615.5 212.4 L615.7 211.3 L615.9 210.3 L616.3 209.4 L617.2 208.8 L618.4 208.5 L619.7 208.7 L620.7 209.2 L621.2 210 L621.4 211.1 L621.6 212.1 L621.9 213.1 L622.7 213.7 L623.9 214.1 L625.2 214 L626.2 213.5 L626.9 212.8 L627.2 211.8 L627.3 210.7 L627.6 209.7 L628.3 209 L629.4 208.6 L630.7 208.5 L631.8 208.9 L632.5 209.6 L632.9 210.6 L633 211.7 L633.2 212.7 L633.9 213.5 L634.9 214 L636.1 214.1 L637.3 213.8 L638.2 213.1 L638.6 212.2 L638.7 211.2 L638.9 210.1 L639.4 209.3 L640.4 208.7 L641.6 208.5 L642.8 208.7 L643.8 209.3 L644.3 210.2 L644.4 211.2 L644.6 212.3 L645 213.2 L645.9 213.8 L647.1 214.1 L648.3 214 L649.4 213.5 L649.9 212.6 L650.2 211.6 L650.3 210.6 L650.7 209.6 L651.4 208.9 L652.6 208.5 L653.8 208.6 L654.9 209 L655.6 209.8 L655.9 210.8 L656 211.8 L656.3 212.8 L657 213.6 L658.1 214 L659.3 214.1 L660.5 213.7 L661.2 213 L661.6 212.1 L661.7 211 L662 210 L662.5 209.2" fill="none" stroke="#84812d" stroke-width="0.6" opacity="0.3"/>
<path d="M580 322.9 L580.7 322.2 L581.1 321.3 L581.2 320.2 L581.5 319.2 L582 318.4 L583 317.8 L584.3 317.7 L585.5 318 L586.4 318.6 L586.8 319.5 L587 320.6 L587.1 321.6 L587.6 322.5 L588.5 323.1 L589.8 323.3 L591 323.1 L592 322.6 L592.5 321.7 L592.7 320.7 L592.8 319.6 L593.2 318.7 L594.1 318 L595.2 317.7 L596.5 317.8 L597.5 318.3 L598.2 319.1 L598.4 320.1 L598.5 321.2 L598.9 322.1 L599.6 322.9 L600.7 323.3 L602 323.2 L603.1 322.8 L603.8 322.1 L604.1 321.1 L604.3 320.1 L604.5 319.1 L605.2 318.3 L606.2 317.8 L607.5 317.7 L608.6 318 L609.5 318.7 L609.8 319.7 L610 320.7 L610.2 321.7 L610.7 322.6 L611.7 323.1 L613 323.3 L614.2 323.1 L615.1 322.4 L615.5 321.6 L615.7 320.5 L615.9 319.5 L616.3 318.6 L617.2 318 L618.4 317.7 L619.7 317.9 L620.7 318.4 L621.2 319.2 L621.4 320.3 L621.6 321.3 L621.9 322.3 L622.7 322.9 L623.9 323.3 L625.2 323.2 L626.2 322.7 L626.9 322 L627.2 321 L627.3 319.9 L627.6 318.9 L628.3 318.2 L629.4 317.8 L630.7 317.7 L631.8 318.1 L632.5 318.8 L632.9 319.8 L633 320.9 L633.2 321.9 L633.9 322.7 L634.9 323.2 L636.1 323.3 L637.3 323 L638.2 322.3 L638.6 321.4 L638.7 320.4 L638.9 319.3 L639.4 318.5 L640.4 317.9 L641.6 317.7 L642.8 317.9 L643.8 318.5 L644.3 319.4 L644.4 320.4 L644.6 321.5 L645 322.4 L645.9 323 L647.1 323.3 L648.3 323.2 L649.4 322.7 L649.9 321.8 L650.2 320.8 L650.3 319.8 L650.7 318.8 L651.4 318.1 L652.6 317.7 L653.8 317.8 L654.9 318.2 L655.6 319 L655.9 320 L656 321 L656.3 322 L657 322.8 L658.1 323.2 L659.3 323.3 L660.5 322.9 L661.2 322.2 L661.6 321.3 L661.7 320.2 L662 319.2 L662.5 318.4" fill="none" stroke="#84812d" stroke-width="0.6" opacity="0.3"/>
<path d="M579.3 213.9 L579.8 213.5 L581.1 213.6 L582.1 214 L582.8 214.8 L583.1 215.8 L583.2 216.9 L583.5 217.9 L584.2 218.6 L585.3 219 L586.6 219.1 L587.7 218.7 L588.4 218 L588.8 217 L588.9 215.9 L589.1 214.9 L589.7 214.1 L590.8 213.6 L592 213.5 L593.2 213.8 L594.1 214.5 L594.5 215.4 L594.6 216.4 L594.8 217.5 L595.3 218.3 L596.3 218.9 L597.5 219.1 L598.7 218.9 L599.7 218.3 L600.2 217.4 L600.4 216.4 L600.5 215.3 L600.9 214.4 L601.8 213.8 L603 213.5 L604.2 213.6 L605.3 214.1 L605.8 215 L606.1 216 L606.2 217 L606.6 218 L607.3 218.7 L608.5 219.1 L609.7 219 L610.8 218.6 L611.5 217.8 L611.8 216.9 L611.9 215.8 L612.2 214.8 L612.9 214 L613.9 213.6 L615.2 213.5 L616.4 213.9 L617.1 214.6 L617.5 215.5 L617.6 216.6 L617.9 217.6 L618.4 218.4 L619.4 219 L620.7 219.1 L621.9 218.8 L622.8 218.2 L623.2 217.3 L623.4 216.2 L623.5 215.2 L624 214.3 L624.9 213.7 L626.2 213.5 L627.4 213.7 L628.4 214.2 L628.9 215.1 L629.1 216.1 L629.2 217.2 L629.6 218.1 L630.5 218.8 L631.6 219.1 L632.9 219 L633.9 218.5 L634.6 217.7 L634.8 216.7 L634.9 215.6 L635.3 214.7 L636 213.9 L637.1 213.5 L638.4 213.6 L639.5 214 L640.2 214.7 L640.5 215.7 L640.7 216.7 L640.9 217.7 L641.6 218.5 L642.6 219 L643.9 219.1 L645 218.8 L645.9 218.1 L646.2 217.1 L646.4 216.1 L646.6 215.1 L647.1 214.2 L648.1 213.7 L649.4 213.5 L650.6 213.7 L651.5 214.3 L651.9 215.2 L652.1 216.3 L652.3 217.3 L652.7 218.2 L653.6 218.8 L654.8 219.1 L656.1 218.9 L657.1 218.4 L657.6 217.6 L657.8 216.5 L658 215.5 L658.3 214.5 L659.1 213.9 L660.3 213.5 L661.6 213.6 L662.6 214 L663.3 214.8 L663.3 215.8" fill="none" stroke="#84812d" stroke-width="0.6" opacity="0.3"/>
<path d="M579.3 313.1 L579.8 312.7 L581.1 312.8 L582.1 313.2 L582.8 314 L583.1 315 L583.2 316.1 L583.5 317.1 L584.2 317.8 L585.3 318.2 L586.6 318.3 L587.7 317.9 L588.4 317.2 L588.8 316.2 L588.9 315.1 L589.1 314.1 L589.7 313.3 L590.8 312.8 L592 312.7 L593.2 313 L594.1 313.7 L594.5 314.6 L594.6 315.6 L594.8 316.7 L595.3 317.5 L596.3 318.1 L597.5 318.3 L598.7 318.1 L599.7 317.5 L600.2 316.6 L600.4 315.6 L600.5 314.5 L600.9 313.6 L601.8 313 L603 312.7 L604.2 312.8 L605.3 313.3 L605.8 314.2 L606.1 315.2 L606.2 316.2 L606.6 317.2 L607.3 317.9 L608.5 318.3 L609.7 318.2 L610.8 317.8 L611.5 317 L611.8 316.1 L611.9 315 L612.2 314 L612.9 313.2 L613.9 312.8 L615.2 312.7 L616.4 313.1 L617.1 313.8 L617.5 314.7 L617.6 315.8 L617.9 316.8 L618.4 317.6 L619.4 318.2 L620.7 318.3 L621.9 318 L622.8 317.4 L623.2 316.5 L623.4 315.4 L623.5 314.4 L624 313.5 L624.9 312.9 L626.2 312.7 L627.4 312.9 L628.4 313.4 L628.9 314.3 L629.1 315.3 L629.2 316.4 L629.6 317.3 L630.5 318 L631.6 318.3 L632.9 318.2 L633.9 317.7 L634.6 316.9 L634.8 315.9 L634.9 314.8 L635.3 313.9 L636 313.1 L637.1 312.7 L638.4 312.8 L639.5 313.2 L640.2 313.9 L640.5 314.9 L640.7 315.9 L640.9 316.9 L641.6 317.7 L642.6 318.2 L643.9 318.3 L645 318 L645.9 317.3 L646.2 316.3 L646.4 315.3 L646.6 314.3 L647.1 313.4 L648.1 312.9 L649.4 312.7 L650.6 312.9 L651.5 313.5 L651.9 314.4 L652.1 315.5 L652.3 316.5 L652.7 317.4 L653.6 318 L654.8 318.3 L656.1 318.1 L657.1 317.6 L657.6 316.8 L657.8 315.7 L658 314.7 L658.3 313.7 L659.1 313.1 L660.3 312.7 L661.6 312.8 L662.6 313.2 L663.3 314 L663.3 315" fill="none" stroke="#84812d" stroke-width="0.6" opacity="0.3"/>
<circle cx="616.9" cy="260" r="39.6" fill="none" stroke="url(#gRd)" stroke-width="4.8"/>
<circle cx="616.9" cy="260" r="42" fill="none" stroke="#a39548" stroke-width="0.6" opacity="0.7"/>
<path d="M584.3 252.6 L583.7 253.1 L583.4 253.7 L583.5 254.6 L583.9 255.4 L584.6 256 L585.3 256.4 L586.1 256.5 L586.9 256.3 L587.7 255.9 L588.4 255.4 L589.2 255 L590 254.8 L590.8 254.9 L591.6 255.4 L592.2 256 L592.6 256.9 L592.6 257.7 L592.4 258.5 L591.9 259.2 L591.3 259.8 L590.7 260.5 L590.2 261.2 L590.1 262 L590.2 262.8 L590.7 263.6 L591.3 264.2 L592.1 264.6 L592.9 264.6 L593.7 264.4 L594.5 263.9 L595.2 263.4 L596 263 L596.8 262.9 L597.6 263.1 L598.4 263.5 L599 264.3 L599.3 265.1 L599.3 265.9 L599 266.7 L598.5 267.4 L597.9 268 L597.3 268.7 L596.9 269.4 L596.8 270.2 L597 271 L597.4 271.8 L598.1 272.4 L598.9 272.7 L599.7 272.7 L600.5 272.4 L601.3 271.9 L602 271.4 L602.8 271.1 L603.6 271 L604.4 271.2 L605.1 271.7 L605.7 272.5 L606 273.3 L606 274.1 L605.6 274.9 L605.1 275.5 L604.5 276.2 L603.9 276.9 L603.5 277.6 L603.4 278.4 L603.7 279.2 L604.2 280 L604.9 280.6 L605.7 280.8 L606.5 280.8 L607.3 280.4 L608.1 280 L608.8 279.5 L609.6 279.2 L610.4 279.1 L611.2 279.4 L611.9 279.9 L612.4 280.7 L612.7 281.5 L612.6 282.3 L612.3 283.1 L611.7 283.7 L611 284.4 L610.5 285.1 L610.2 285.8 L610.1 286.6 L610.4 287.5 L611 288.2 L611.7 288.7 L612.5 288.9 L613.3 288.8 L614.1 288.5 L614.9 288 L615.6 287.5 L616.4 287.2 L617.2 287.2 L618 287.5 L618.7 288.1 L619.2 288.9 L619.4 289.7 L619.3 290.5 L618.9 291.3 L618.2 291.8" fill="none" stroke="#d9d796" stroke-width="0.6" opacity="0.5"/>
<path d="M607.4 229.7 L607.1 230.1 L607.6 230.8 L608.4 231.4 L609.2 231.7 L610 231.7 L610.8 231.3 L611.5 230.8 L612.1 230.2 L612.8 229.7 L613.6 229.4 L614.4 229.4 L615.2 229.7 L615.9 230.3 L616.4 231.1 L616.6 231.9 L616.5 232.7 L616.1 233.4 L615.6 234.2 L615.1 234.9 L614.7 235.7 L614.6 236.5 L614.9 237.3 L615.4 238 L616.2 238.5 L617 238.8 L617.8 238.7 L618.6 238.4 L619.3 237.9 L619.9 237.3 L620.6 236.8 L621.4 236.5 L622.2 236.5 L623 236.9 L623.7 237.5 L624.2 238.2 L624.3 239.1 L624.2 239.9 L623.8 240.6 L623.2 241.3 L622.7 242.1 L622.4 242.8 L622.4 243.6 L622.7 244.5 L623.2 245.2 L624 245.7 L624.8 245.9 L625.6 245.8 L626.4 245.5 L627.1 244.9 L627.7 244.3 L628.4 243.8 L629.2 243.6 L630 243.7 L630.8 244 L631.5 244.7 L632 245.4 L632.1 246.3 L631.9 247 L631.5 247.8 L630.9 248.5 L630.4 249.2 L630.1 250 L630.1 250.8 L630.5 251.6 L631 252.3 L631.8 252.8 L632.6 253 L633.4 252.9 L634.2 252.5 L634.9 251.9 L635.5 251.3 L636.3 250.9 L637 250.7 L637.9 250.8 L638.7 251.2 L639.3 251.8 L639.7 252.6 L639.8 253.4 L639.6 254.2 L639.1 255 L638.6 255.7 L638.1 256.4 L637.9 257.2 L637.9 258 L638.2 258.8 L638.9 259.5 L639.6 260 L640.5 260.1 L641.2 260 L642 259.6 L642.7 259 L643.3 258.4 L644.1 258 L644.9 257.8 L645.7 257.9 L646.5 258.4 L647.1 259 L647.5 259.8 L647.4 260.5 L646.9 261" fill="none" stroke="#77742a" stroke-width="0.6" opacity="0.5"/>
<rect x="565" y="209" width="3.5" height="3.5" fill="#e3c2a0"/>
<rect x="570.5" y="208.5" width="2" height="2" fill="#15150f" transform="rotate(0 571.5 209.5)"/>
<rect x="601.5" y="207" width="7.5" height="5.5" fill="#15150f" transform="rotate(0 605.2 209.8)"/>
<rect x="609.5" y="208.5" width="3.6" height="4.6" fill="#e9b59a"/>
<rect x="604" y="213" width="2.5" height="2.5" fill="#15150f" transform="rotate(0 605.2 214.2)"/>
<rect x="647.5" y="207" width="8" height="5" fill="#15150f" transform="rotate(0 651.5 209.5)"/>
<rect x="650" y="212.5" width="2.5" height="2.5" fill="#15150f" transform="rotate(0 651.2 213.8)"/>
<rect x="656" y="209.5" width="3" height="2.4" fill="#dcc7a0"/>
<rect x="660" y="208.5" width="2.5" height="2" fill="#15150f" transform="rotate(0 661.2 209.5)"/>
<rect x="654" y="217" width="2.2" height="2.2" fill="#15150f" transform="rotate(0 655.1 218.1)"/>
<rect x="654" y="222" width="2.2" height="3" fill="#15150f" transform="rotate(0 655.1 223.5)"/>
<rect x="565.5" y="244.5" width="6.5" height="6" fill="#ead9c2"/>
<rect x="565" y="250.5" width="7.5" height="8" fill="#15150f" transform="rotate(0 568.8 254.5)"/>
<rect x="567" y="259" width="3" height="2" fill="#d9b98c"/>
<rect x="643" y="246" width="3.2" height="7.5" fill="#e9b59a"/>
<rect x="647" y="246" width="3" height="7.5" fill="#e9b59a"/>
<rect x="662" y="245.5" width="6" height="7" fill="#15150f" transform="rotate(0 665 249)"/>
<rect x="669" y="247" width="3.5" height="4" fill="#dcc090"/>
<rect x="659" y="248" width="2.4" height="2" fill="#15150f" transform="rotate(0 660.2 249)"/>
<rect x="565.5" y="292.5" width="3" height="4" fill="#ead9c2"/>
<rect x="569.2" y="292.5" width="3" height="4" fill="#ead9c2"/>
<rect x="565" y="297" width="7" height="9" fill="#15150f" transform="rotate(0 568.5 301.5)"/>
<rect x="573" y="296" width="2.2" height="2" fill="#15150f" transform="rotate(0 574.1 297)"/>
<rect x="606.5" y="290.5" width="3.2" height="4" fill="#e9b59a"/>
<rect x="611" y="290.5" width="3.2" height="4" fill="#e9b59a"/>
<rect x="607.5" y="302" width="6.5" height="8" fill="#15150f" transform="rotate(0 610.8 306)"/>
<rect x="608.5" y="310.5" width="2.2" height="4.6" fill="#cbb489"/>
<rect x="603" y="303" width="2" height="2" fill="#15150f" transform="rotate(0 604 304)"/>
<rect x="615.5" y="303" width="2" height="2" fill="#15150f" transform="rotate(0 616.5 304)"/>
<rect x="652.6" y="292.2" width="9.8" height="9.8" fill="#15150f" transform="rotate(42 657.5 297.1)"/>
<rect x="644" y="295" width="3" height="5" fill="#c8c39a"/>
<rect x="642" y="297" width="2.5" height="2" fill="#15150f" transform="rotate(0 643.2 298)"/>
<rect x="658.5" y="306.5" width="6.5" height="8" fill="#15150f" transform="rotate(0 661.8 310.5)"/>
<rect x="659.5" y="315" width="2.4" height="3.6" fill="#f0efe6"/>
<rect x="662.6" y="315" width="2.4" height="3.6" fill="#f0efe6"/>
<rect x="655" y="309" width="2" height="2" fill="#15150f" transform="rotate(0 656 310)"/>
<rect x="666.5" y="308" width="2" height="2" fill="#15150f" transform="rotate(0 667.5 309)"/>
<rect x="672.5" y="296" width="3" height="5" fill="#e9b59a"/>
<rect x="676" y="300" width="3" height="5" fill="#e9b59a"/>
<rect x="671" y="292" width="2" height="2" fill="#15150f" transform="rotate(0 672 293)"/>
</g>
<path d="M683.6 201.3V330.2H559.3" fill="none" stroke="#34331a" stroke-width="1.6"/>
<rect x="568.8" y="325" width="23.8" height="3.4" fill="#000"/>
<ellipse cx="447.7" cy="464.8" rx="34.8" ry="17.4" fill="url(#gBase)"/>
<ellipse cx="447.4" cy="462.7" rx="24.2" ry="12" fill="#f8b99b"/>
<ellipse cx="447.6" cy="461.4" rx="2.2" ry="1.3" fill="#9a9a9a"/>
<path d="M410.8 420.6v15.2a37.3 13 0 0 0 74.6 0v-15.2z" fill="url(#gRingS)"/>
<ellipse cx="448.1" cy="420.6" rx="37.3" ry="13" fill="url(#gRingT)"/>
<clipPath id="cring"><ellipse cx="447.8" cy="421.9" rx="25.3" ry="9.6"/></clipPath>
<ellipse cx="447.8" cy="421.9" rx="25.3" ry="9.6" fill="url(#gRingI)"/>
<ellipse cx="447.8" cy="431.3" rx="24.6" ry="9.4" fill="#fff" clip-path="url(#cring)"/>
<path d="M429 392.3v6.8a19.1 5.8 0 0 0 38.2 0v-6.8z" fill="url(#gMagS)"/>
<ellipse cx="448.1" cy="392.3" rx="19.1" ry="5.8" fill="url(#gMagT)"/>
<ellipse cx="448.1" cy="397.2" rx="6" ry="0.8" fill="#8a4a30" opacity="0.3"/>
<ellipse cx="448.5" cy="374.7" rx="39.4" ry="10.1" fill="#6d4c12"/>
<clipPath id="ccres"><ellipse cx="436.4" cy="374.3" rx="16" ry="7.8"/></clipPath>
<path d="M410 360h80v30h-80z M454.2 374.5a12.6 5.7 0 1 0 -25.2 0a12.6 5.7 0 1 0 25.2 0z" fill="#fff" fill-rule="evenodd" clip-path="url(#ccres)"/>
<rect x="497.3" y="341.9" width="90" height="75.4" fill="#fff" stroke="#111" stroke-width="1"/>
<rect x="593.8" y="341.9" width="90" height="75.4" fill="#fff" stroke="#111" stroke-width="1"/>
<rect x="497.3" y="426.7" width="90" height="75.4" fill="#fff" stroke="#111" stroke-width="1"/>
<rect x="593.8" y="426.7" width="90" height="75.4" fill="#fff" stroke="#111" stroke-width="1"/>
<path d="M508 372.3v10.6a34.9 21.3 0 0 0 69.8 0v-10.6z" fill="url(#gFs)"/>
<ellipse cx="542.9" cy="372.3" rx="34.9" ry="21.3" fill="#6e4f12"/>
<path d="M520.2 373 L520.1 371.8 L520.2 370.6 L520.6 369.4 L521.1 368.2 L521.8 367.1 L522.6 366 L523.7 364.9 L524.9 363.9 L526.2 363 L527.7 362.2 L529.3 361.4 L531 360.8 L532.8 360.2 L534.7 359.7 L536.7 359.3 L538.7 359.1 L540.8 358.9 L542.8 358.9 L544.9 359 L546.9 359.2 L548.9 359.5 L550.8 359.8 L552.7 360.4 L554.5 361 L556.2 361.7 L557.8 362.4 L559.2 363.3 L560.5 364.2 L561.6 365.2 L562.6 366.3" fill="none" stroke="#a9a9a9" stroke-width="4.2"/>
<path d="M520.2 369.4 L520.6 368.2 L521.1 367 L521.8 365.9 L522.6 364.8 L523.7 363.7 L524.9 362.7 L526.2 361.8 L527.7 361 L529.3 360.2 L531 359.6 L532.8 359 L534.7 358.5 L536.7 358.1 L538.7 357.9 L540.8 357.7 L542.8 357.7 L544.9 357.8 L546.9 358 L548.9 358.3 L550.8 358.6 L552.7 359.2 L554.5 359.8 L556.2 360.5 L557.8 361.2 L559.2 362.1 L560.5 363" fill="none" stroke="#c4c4c4" stroke-width="1.2"/>
<ellipse cx="542.9" cy="376.1" rx="19" ry="12.4" fill="#61440d"/>
<path d="M520.6 372.2l3.6 -1.6l1 3l-4 1.6z" fill="#f3a98c"/>
<path d="M509.1 454.8v13.4a33.4 21.4 0 0 0 66.8 0v-13.4z" fill="url(#gGs)"/>
<ellipse cx="542.5" cy="454.8" rx="33.4" ry="21.4" fill="#ededed"/>
<ellipse cx="542.2" cy="455.8" rx="22.8" ry="16.2" fill="#fbe6bb"/>
<ellipse cx="542.3" cy="455.2" rx="1.9" ry="1.4" fill="#fff"/>
<ellipse cx="638.6" cy="379" rx="29.8" ry="20" fill="url(#gHf)"/>
<ellipse cx="641.2" cy="369.4" rx="28.6" ry="21.8" fill="url(#gHo)" stroke="#f7c878" stroke-width="1"/>
<ellipse cx="639.4" cy="375.4" rx="24" ry="15.6" fill="none" stroke="#d9741e" stroke-width="1" opacity="0.8"/>
<ellipse cx="638.8" cy="372" rx="21.4" ry="16" fill="#dc5a1d" stroke="#f3b06c" stroke-width="1.1"/>
<ellipse cx="638.6" cy="375" rx="18.8" ry="12.8" fill="#c3401a"/>
<ellipse cx="639" cy="371.4" rx="15.6" ry="11.8" fill="url(#gHc)"/>
<path d="M621 366.5a19 13.6 0 0 1 14 -9.6" fill="none" stroke="#fde3c8" stroke-width="1.6" opacity="0.9"/>
<path d="M626.6 372a14 10 0 0 1 10 -10.6" fill="none" stroke="#f6cbb0" stroke-width="1" opacity="0.8"/>
<rect x="603.4" y="412.6" width="16.6" height="2.8" fill="#000"/>
<ellipse cx="641" cy="461.6" rx="30.4" ry="23.4" fill="#df7a1f"/>
<ellipse cx="641.2" cy="457.2" rx="31" ry="24" fill="#ee8d2e" stroke="#f5ad58" stroke-width="0.9"/>
<ellipse cx="640.6" cy="458.6" rx="26" ry="20" fill="none" stroke="#d9701c" stroke-width="1.2" opacity="0.7"/>
<ellipse cx="640.2" cy="455.8" rx="22" ry="18.6" fill="url(#gI)" stroke="#d67a3c" stroke-width="0.7"/>
<ellipse cx="638.8" cy="454" rx="4" ry="3.4" fill="#4d2a10"/>
<ellipse cx="639.4" cy="455.2" rx="2.4" ry="1.6" fill="#c9b264"/>
<rect x="603.4" y="496.2" width="16.6" height="2.8" fill="#000"/>
<text x="36.3" y="19.3" class="p" >a</text>
<text x="398.2" y="19.5" class="p" >b</text>
<text x="398.4" y="206.2" class="p" >c</text>
<text x="545.6" y="206.6" class="p" >d</text>
<text x="365.6" y="333.7" class="p" >e</text>
<text x="500.2" y="354.5" class="p" >f</text>
<text x="500.2" y="438.5" class="p" >g</text>
<text x="596.4" y="354.6" class="p" >h</text>
<text x="596.4" y="438.8" class="p" >i</text>
<text x="58.9" y="38.9" class="l" >Cloth</text>
<text x="59.3" y="96.5" class="l" >Silicone C</text>
<text x="59.2" y="162.9" class="l" >PI</text>
<text x="60.3" y="206.9" class="l" >Cu</text>
<text x="60.2" y="247.1" class="l" >Electronics</text>
<text x="60.5" y="288.6" class="l" >Silicone B</text>
<text x="60.8" y="339.6" class="l" >Actuators</text>
<text x="59.5" y="387.1" class="l" >Silicone A</text>
<text x="60.9" y="508.6" class="l" style="font-size:11.45px">Epidermis</text>
<text x="601" y="54.4" class="l g" >1. IC switch</text>
<text x="601" y="78.4" class="l g" >2. NFC antenna</text>
<text x="601" y="102.4" class="l g" >3. Capacitor</text>
<text x="601" y="126.4" class="l g" >4. Resistor</text>
<text x="601" y="150.4" class="l g" >5. Chip</text>
<text x="601" y="174.4" class="l g" >6. Primary coil</text>
<text x="521.8" y="55.5" class="r" >1</text>
<text x="499.8" y="65.9" class="r" >2</text>
<text x="505.6" y="125.4" class="r" >3</text>
<text x="524.6" y="104.6" class="r" >4</text>
<text x="520.3" y="125.4" class="r" >5</text>
<text x="550.4" y="157" class="r" >6</text>
<text x="421.2" y="319.9" class="l" style="font-size:11.2px">1 cm</text>
<text x="568.6" y="319.9" class="l" style="font-size:11.2px">1 cm</text>
<text x="595.2" y="406.2" class="l" >5 mm</text>
<text x="595.2" y="489.8" class="l" >5 mm</text>
<text x="395.8" y="363.2" class="l" style="font-size:11.2px">Disk</text>
<text x="374.4" y="398.6" class="l" style="font-size:11.25px">Magnet</text>
<text x="377.8" y="434.8" class="l" style="font-size:11.2px">Ring</text>
<text x="423" y="494.3" class="l" style="font-size:11.2px">Coil/base</text>
</svg>
</body></html>
